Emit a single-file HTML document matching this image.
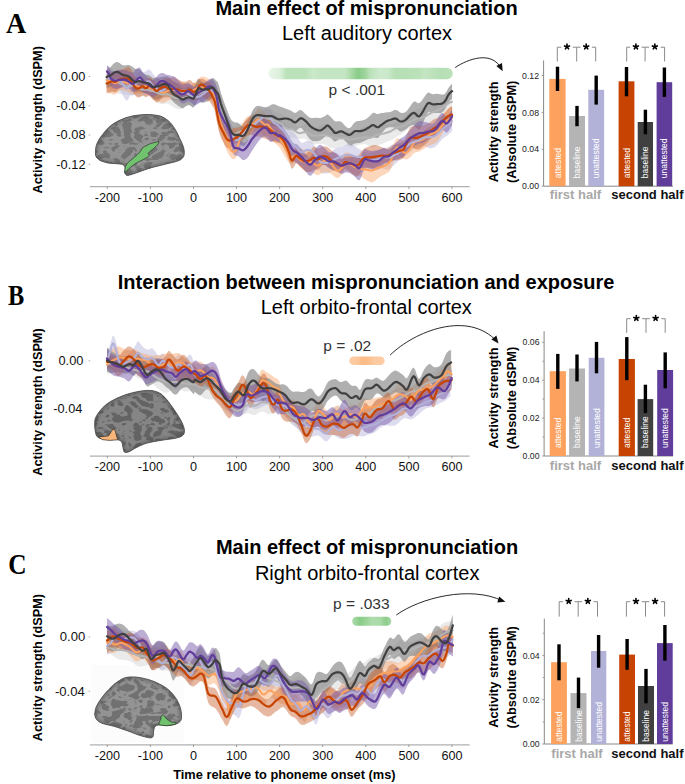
<!DOCTYPE html><html><head><meta charset="utf-8"><style>html,body{margin:0;padding:0;background:#fff;overflow:hidden}svg{display:block}</style></head><body><svg width="685" height="784" viewBox="0 0 685 784">
<defs>
<filter id="brainTex" x="0" y="0" width="100%" height="100%">
  <feTurbulence type="turbulence" baseFrequency="0.09 0.13" numOctaves="2" seed="3" result="n"/>
  <feColorMatrix in="n" type="matrix" values="0 0 0 0 0  0 0 0 0 0  0 0 0 0 0  0 0 0 -8 2.6" result="m"/>
  <feFlood flood-color="#939393" result="f"/>
  <feComposite in="f" in2="m" operator="in" result="spots"/>
  <feComposite in="spots" in2="SourceGraphic" operator="in"/>
</filter>
<filter id="brainTexB" x="0" y="0" width="100%" height="100%">
  <feTurbulence type="turbulence" baseFrequency="0.09 0.13" numOctaves="2" seed="11" result="n"/>
  <feColorMatrix in="n" type="matrix" values="0 0 0 0 0  0 0 0 0 0  0 0 0 0 0  0 0 0 -8 2.6" result="m"/>
  <feFlood flood-color="#858585" result="f"/>
  <feComposite in="f" in2="m" operator="in" result="spots"/>
  <feComposite in="spots" in2="SourceGraphic" operator="in"/>
</filter>
<filter id="edgeblur" x="-10%" y="-10%" width="120%" height="120%"><feGaussianBlur stdDeviation="1.5"/></filter>
<filter id="soft" x="-5%" y="-30%" width="110%" height="160%"><feGaussianBlur stdDeviation="0.7"/></filter>
</defs>
<rect width="685" height="784" fill="#fff"/>
<text transform="translate(6.0,33.0) scale(0.95,1)" font-family='"Liberation Serif", serif' font-size="29.5" font-weight="bold">A</text>
<text x="366.5" y="14.8" font-family='"Liberation Sans", sans-serif' font-size="20" font-weight="bold" text-anchor="middle" fill="#000" >Main effect of mispronunciation</text>
<text x="367" y="40.4" font-family='"Liberation Sans", sans-serif' font-size="20" font-weight="normal" text-anchor="middle" fill="#000" >Left auditory cortex</text>
<text transform="translate(42.2,119.8) rotate(-90)" font-family='"Liberation Sans", sans-serif' font-size="12.7" font-weight="bold" text-anchor="middle" fill="#000">Activity strength (dSPM)</text>
<line x1="88.6" y1="76.5" x2="90.19999999999999" y2="76.5" stroke="#999" stroke-width="0.8"/>
<text x="85.5" y="80.9" font-family='"Liberation Sans", sans-serif' font-size="12.8" font-weight="normal" text-anchor="end" fill="#111" >0.00</text>
<line x1="88.6" y1="105.8" x2="90.19999999999999" y2="105.8" stroke="#999" stroke-width="0.8"/>
<text x="85.5" y="110.2" font-family='"Liberation Sans", sans-serif' font-size="12.8" font-weight="normal" text-anchor="end" fill="#111" >-0.04</text>
<line x1="88.6" y1="135.0" x2="90.19999999999999" y2="135.0" stroke="#999" stroke-width="0.8"/>
<text x="85.5" y="139.4" font-family='"Liberation Sans", sans-serif' font-size="12.8" font-weight="normal" text-anchor="end" fill="#111" >-0.08</text>
<line x1="88.6" y1="164.3" x2="90.19999999999999" y2="164.3" stroke="#999" stroke-width="0.8"/>
<text x="85.5" y="168.7" font-family='"Liberation Sans", sans-serif' font-size="12.8" font-weight="normal" text-anchor="end" fill="#111" >-0.12</text>
<line x1="90" y1="186.7" x2="469.6" y2="186.7" stroke="#b0b0b0" stroke-width="1.3"/>
<line x1="107.3" y1="186.7" x2="107.3" y2="188.89999999999998" stroke="#888" stroke-width="0.8"/>
<text x="107.3" y="201.5" font-family='"Liberation Sans", sans-serif' font-size="12.6" font-weight="normal" text-anchor="middle" fill="#111" >-200</text>
<line x1="150.4" y1="186.7" x2="150.4" y2="188.89999999999998" stroke="#888" stroke-width="0.8"/>
<text x="150.4" y="201.5" font-family='"Liberation Sans", sans-serif' font-size="12.6" font-weight="normal" text-anchor="middle" fill="#111" >-100</text>
<line x1="193.5" y1="186.7" x2="193.5" y2="188.89999999999998" stroke="#888" stroke-width="0.8"/>
<text x="193.5" y="201.5" font-family='"Liberation Sans", sans-serif' font-size="12.6" font-weight="normal" text-anchor="middle" fill="#111" >0</text>
<line x1="236.5" y1="186.7" x2="236.5" y2="188.89999999999998" stroke="#888" stroke-width="0.8"/>
<text x="236.5" y="201.5" font-family='"Liberation Sans", sans-serif' font-size="12.6" font-weight="normal" text-anchor="middle" fill="#111" >100</text>
<line x1="279.6" y1="186.7" x2="279.6" y2="188.89999999999998" stroke="#888" stroke-width="0.8"/>
<text x="279.6" y="201.5" font-family='"Liberation Sans", sans-serif' font-size="12.6" font-weight="normal" text-anchor="middle" fill="#111" >200</text>
<line x1="322.7" y1="186.7" x2="322.7" y2="188.89999999999998" stroke="#888" stroke-width="0.8"/>
<text x="322.7" y="201.5" font-family='"Liberation Sans", sans-serif' font-size="12.6" font-weight="normal" text-anchor="middle" fill="#111" >300</text>
<line x1="365.8" y1="186.7" x2="365.8" y2="188.89999999999998" stroke="#888" stroke-width="0.8"/>
<text x="365.8" y="201.5" font-family='"Liberation Sans", sans-serif' font-size="12.6" font-weight="normal" text-anchor="middle" fill="#111" >400</text>
<line x1="408.9" y1="186.7" x2="408.9" y2="188.89999999999998" stroke="#888" stroke-width="0.8"/>
<text x="408.9" y="201.5" font-family='"Liberation Sans", sans-serif' font-size="12.6" font-weight="normal" text-anchor="middle" fill="#111" >500</text>
<line x1="451.9" y1="186.7" x2="451.9" y2="188.89999999999998" stroke="#888" stroke-width="0.8"/>
<text x="451.9" y="201.5" font-family='"Liberation Sans", sans-serif' font-size="12.6" font-weight="normal" text-anchor="middle" fill="#111" >600</text>
<defs><clipPath id="bc1"><path d="M95.4,153 C95.5,148 96,146 97,143.4 C99,139 100.5,137 102.7,134.5 C105,131 108,128 110.7,125.7 C114,123 118,121 121.9,119.3 C127,117 132,116 136.4,115.3 C141,114.6 145,114.4 149.2,114.5 C153,114.7 157,115.2 160.5,116.1 C164,117.5 166,119 168.5,120.9 C171,123 173,126 174.9,128.9 C177,132 178.5,135.5 179.7,138.5 C181.5,142 183,145 183.8,148.2 C184.5,151 184.5,154 183.8,156.2 C182.5,158.5 181,159.5 179.7,160.2 C176,161.8 172,162.6 168.5,163.4 C163,164.8 157,166.2 152.4,167.4 C147,168.8 142,170.8 138,172.3 C134,173.8 130,175 127.6,175.5 C126,175.5 125,174 124.8,172.3 C124.5,170.5 125.5,168.8 125.1,167.4 C124.5,165.5 123.5,164.6 121.9,164.2 C118,163.6 114,163.6 110.7,163.4 C107,163 104,162 101.1,161 C99,160 97.3,158.5 96.2,157 C95.6,155.8 95.4,154.5 95.4,153Z"/></clipPath></defs>
<path d="M95.4,153 C95.5,148 96,146 97,143.4 C99,139 100.5,137 102.7,134.5 C105,131 108,128 110.7,125.7 C114,123 118,121 121.9,119.3 C127,117 132,116 136.4,115.3 C141,114.6 145,114.4 149.2,114.5 C153,114.7 157,115.2 160.5,116.1 C164,117.5 166,119 168.5,120.9 C171,123 173,126 174.9,128.9 C177,132 178.5,135.5 179.7,138.5 C181.5,142 183,145 183.8,148.2 C184.5,151 184.5,154 183.8,156.2 C182.5,158.5 181,159.5 179.7,160.2 C176,161.8 172,162.6 168.5,163.4 C163,164.8 157,166.2 152.4,167.4 C147,168.8 142,170.8 138,172.3 C134,173.8 130,175 127.6,175.5 C126,175.5 125,174 124.8,172.3 C124.5,170.5 125.5,168.8 125.1,167.4 C124.5,165.5 123.5,164.6 121.9,164.2 C118,163.6 114,163.6 110.7,163.4 C107,163 104,162 101.1,161 C99,160 97.3,158.5 96.2,157 C95.6,155.8 95.4,154.5 95.4,153Z" fill="#747474"/>
<path d="M95.4,153 C95.5,148 96,146 97,143.4 C99,139 100.5,137 102.7,134.5 C105,131 108,128 110.7,125.7 C114,123 118,121 121.9,119.3 C127,117 132,116 136.4,115.3 C141,114.6 145,114.4 149.2,114.5 C153,114.7 157,115.2 160.5,116.1 C164,117.5 166,119 168.5,120.9 C171,123 173,126 174.9,128.9 C177,132 178.5,135.5 179.7,138.5 C181.5,142 183,145 183.8,148.2 C184.5,151 184.5,154 183.8,156.2 C182.5,158.5 181,159.5 179.7,160.2 C176,161.8 172,162.6 168.5,163.4 C163,164.8 157,166.2 152.4,167.4 C147,168.8 142,170.8 138,172.3 C134,173.8 130,175 127.6,175.5 C126,175.5 125,174 124.8,172.3 C124.5,170.5 125.5,168.8 125.1,167.4 C124.5,165.5 123.5,164.6 121.9,164.2 C118,163.6 114,163.6 110.7,163.4 C107,163 104,162 101.1,161 C99,160 97.3,158.5 96.2,157 C95.6,155.8 95.4,154.5 95.4,153Z" fill="#fff" filter="url(#brainTex)"/>
<g clip-path="url(#bc1)"><path d="M95.4,153 C95.5,148 96,146 97,143.4 C99,139 100.5,137 102.7,134.5 C105,131 108,128 110.7,125.7 C114,123 118,121 121.9,119.3 C127,117 132,116 136.4,115.3 C141,114.6 145,114.4 149.2,114.5 C153,114.7 157,115.2 160.5,116.1 C164,117.5 166,119 168.5,120.9 C171,123 173,126 174.9,128.9 C177,132 178.5,135.5 179.7,138.5 C181.5,142 183,145 183.8,148.2 C184.5,151 184.5,154 183.8,156.2 C182.5,158.5 181,159.5 179.7,160.2 C176,161.8 172,162.6 168.5,163.4 C163,164.8 157,166.2 152.4,167.4 C147,168.8 142,170.8 138,172.3 C134,173.8 130,175 127.6,175.5 C126,175.5 125,174 124.8,172.3 C124.5,170.5 125.5,168.8 125.1,167.4 C124.5,165.5 123.5,164.6 121.9,164.2 C118,163.6 114,163.6 110.7,163.4 C107,163 104,162 101.1,161 C99,160 97.3,158.5 96.2,157 C95.6,155.8 95.4,154.5 95.4,153Z" fill="none" stroke="#3c3c3c" stroke-width="5" opacity="0.35" filter="url(#edgeblur)"/></g>
<path d="M95.4,153 C95.5,148 96,146 97,143.4 C99,139 100.5,137 102.7,134.5 C105,131 108,128 110.7,125.7 C114,123 118,121 121.9,119.3 C127,117 132,116 136.4,115.3 C141,114.6 145,114.4 149.2,114.5 C153,114.7 157,115.2 160.5,116.1 C164,117.5 166,119 168.5,120.9 C171,123 173,126 174.9,128.9 C177,132 178.5,135.5 179.7,138.5 C181.5,142 183,145 183.8,148.2 C184.5,151 184.5,154 183.8,156.2 C182.5,158.5 181,159.5 179.7,160.2 C176,161.8 172,162.6 168.5,163.4 C163,164.8 157,166.2 152.4,167.4 C147,168.8 142,170.8 138,172.3 C134,173.8 130,175 127.6,175.5 C126,175.5 125,174 124.8,172.3 C124.5,170.5 125.5,168.8 125.1,167.4 C124.5,165.5 123.5,164.6 121.9,164.2 C118,163.6 114,163.6 110.7,163.4 C107,163 104,162 101.1,161 C99,160 97.3,158.5 96.2,157 C95.6,155.8 95.4,154.5 95.4,153Z" fill="none" stroke="#4d4d4d" stroke-width="1.0" opacity="0.8"/>
<path d="M124.6,172.5 L125.3,166.7 L127.5,163 L132.6,158.6 L137.7,154.2 L139.9,152.1 L142.1,148.4 L144.3,146.6 L146.1,145.9 L149.4,144 L153,142.9 L157.4,141.8 L158.9,141.5 L158.5,143.3 L156.7,145.5 L153.8,148.4 L150.1,151.3 L147.9,153.5 L149.4,155 L148.3,156.8 L143.5,159.4 L137.7,162.3 L132.6,165.6 L129,168.5 L126,171.8Z" fill="#70c26e" stroke="#222" stroke-width="0.6"/>
<path d="M106.6,72.5 L107.4,73.2 L108.6,74.0 L110.0,74.6 L111.4,74.7 L112.8,74.6 L114.1,74.3 L115.5,74.0 L117.0,73.7 L118.4,73.6 L119.8,73.6 L121.2,73.7 L122.6,73.9 L124.0,74.3 L125.4,74.9 L126.8,75.6 L128.2,76.2 L129.6,76.7 L131.0,76.9 L132.4,76.9 L133.8,77.1 L135.2,77.4 L136.6,77.9 L138.0,78.6 L139.4,79.3 L140.8,79.9 L142.2,80.3 L143.6,80.8 L145.0,81.3 L146.4,82.0 L147.8,82.8 L149.2,83.8 L150.6,84.6 L152.0,85.3 L153.4,85.7 L154.8,85.9 L156.2,86.1 L157.6,86.2 L159.0,86.2 L160.4,86.1 L161.8,85.9 L163.2,85.4 L164.5,85.0 L165.9,84.8 L167.3,85.0 L168.8,85.6 L170.4,86.5 L172.2,87.6 L173.9,88.2 L175.7,88.4 L177.5,88.3 L179.3,88.0 L181.0,87.7 L182.8,87.4 L184.5,87.2 L186.3,87.4 L188.0,88.0 L189.8,88.9 L191.5,89.8 L193.3,90.1 L195.0,89.7 L196.8,88.6 L198.6,87.1 L200.4,85.7 L202.2,84.6 L203.8,83.8 L205.3,83.4 L206.8,83.1 L208.2,83.2 L209.5,83.6 L210.8,84.1 L212.0,84.7 L213.1,85.1 L214.1,85.5 L215.1,85.9 L216.0,86.5 L216.9,87.4 L217.6,88.7 L218.4,90.4 L219.2,92.2 L220.0,94.1 L220.9,96.1 L221.9,98.4 L222.9,101.0 L223.9,103.7 L225.0,106.8 L226.2,110.3 L227.5,114.5 L228.8,118.6 L230.1,122.4 L231.3,125.1 L232.4,126.5 L233.5,126.9 L234.5,126.6 L235.6,125.9 L236.7,125.2 L238.0,124.5 L239.3,123.8 L240.7,123.2 L242.0,122.9 L243.2,122.6 L244.2,122.3 L245.1,121.8 L245.9,121.2 L246.7,120.5 L247.5,119.8 L248.4,118.9 L249.2,117.9 L250.1,116.8 L250.9,115.8 L251.8,114.8 L252.7,113.9 L253.6,112.9 L254.4,111.9 L255.3,110.9 L256.2,110.0 L257.1,109.2 L257.9,108.5 L258.8,107.8 L259.6,107.3 L260.5,106.9 L261.4,106.7 L262.2,106.6 L263.1,106.7 L263.9,106.9 L264.8,107.2 L265.7,107.5 L266.6,107.8 L267.4,108.1 L268.3,108.4 L269.2,108.6 L270.1,109.0 L270.9,109.4 L271.8,109.9 L272.6,110.4 L273.5,110.9 L274.4,111.4 L275.2,111.8 L276.1,112.1 L276.9,112.4 L277.8,112.7 L278.7,112.9 L279.6,113.1 L280.4,113.4 L281.3,113.7 L282.2,114.2 L283.0,115.0 L283.8,116.0 L284.6,117.1 L285.5,118.2 L286.5,119.2 L287.7,120.1 L288.9,120.8 L290.3,121.6 L291.7,122.4 L293.0,123.4 L294.3,124.5 L295.6,125.6 L296.9,126.4 L298.2,126.8 L299.5,126.7 L300.8,126.1 L302.1,125.2 L303.4,124.4 L304.7,123.9 L306.0,123.7 L307.3,124.1 L308.6,124.9 L309.9,125.7 L311.2,126.5 L312.5,127.1 L313.8,127.3 L315.1,127.2 L316.4,126.9 L317.7,126.3 L319.0,125.6 L320.3,125.0 L321.6,124.3 L322.9,123.8 L324.2,123.6 L325.5,123.9 L326.8,124.5 L328.1,125.4 L329.4,126.4 L330.7,127.5 L332.0,128.4 L333.3,129.3 L334.6,130.1 L335.9,130.7 L337.2,131.1 L338.5,131.3 L339.7,131.3 L340.8,131.2 L342.0,130.9 L343.3,130.7 L345.0,130.6 L347.0,131.1 L349.4,132.2 L351.9,132.8 L354.4,132.3 L357.0,131.2 L359.5,129.7 L362.0,128.1 L364.6,126.7 L367.3,126.5 L370.0,127.1 L372.9,127.1 L375.9,126.3 L378.9,125.5 L382.0,125.0 L385.0,124.3 L388.0,124.1 L390.9,124.3 L393.9,123.5 L396.9,121.9 L400.0,120.2 L403.3,117.9 L406.7,114.6 L410.2,112.1 L413.5,110.7 L416.5,109.3 L419.1,108.3 L421.5,107.6 L423.6,106.7 L425.8,105.5 L428.0,104.5 L430.3,104.1 L432.5,104.5 L434.8,104.7 L437.0,104.3 L439.4,103.2 L442.0,101.3 L445.0,98.6 L447.8,95.8 L450.3,94.3 L452.0,93.9 L452.0,108.1 L450.3,109.0 L447.8,111.5 L445.0,115.3 L442.0,118.4 L439.4,120.2 L437.0,121.3 L434.8,121.9 L432.5,122.1 L430.3,122.5 L428.0,123.6 L425.8,125.3 L423.6,126.6 L421.5,127.1 L419.1,127.1 L416.5,127.0 L413.5,127.2 L410.2,127.8 L406.7,129.7 L403.3,132.8 L400.0,134.9 L396.9,136.6 L393.9,138.7 L390.9,140.3 L388.0,141.3 L385.0,142.5 L382.0,144.0 L378.9,145.1 L375.9,146.2 L372.9,147.1 L370.0,146.6 L367.3,145.1 L364.6,144.1 L362.0,144.2 L359.5,144.8 L357.0,145.6 L354.4,146.6 L351.9,147.2 L349.4,146.8 L347.0,145.8 L345.0,145.3 L343.3,145.4 L342.0,145.8 L340.8,146.3 L339.7,146.8 L338.5,147.3 L337.2,147.7 L335.9,148.1 L334.6,148.3 L333.3,148.4 L332.0,148.3 L330.7,148.0 L329.4,147.5 L328.1,146.7 L326.8,145.8 L325.5,145.0 L324.2,144.3 L322.9,143.9 L321.6,143.7 L320.3,143.7 L319.0,143.8 L317.7,143.9 L316.4,144.2 L315.1,144.3 L313.8,144.3 L312.5,144.0 L311.2,143.4 L309.9,142.5 L308.6,141.4 L307.3,140.3 L306.0,139.3 L304.7,138.7 L303.4,138.5 L302.1,138.6 L300.8,138.8 L299.5,138.9 L298.2,138.9 L296.9,138.6 L295.6,138.2 L294.3,137.9 L293.0,137.7 L291.7,137.9 L290.3,138.3 L288.9,138.7 L287.7,138.8 L286.5,138.5 L285.5,137.9 L284.6,136.9 L283.8,135.9 L283.0,134.8 L282.2,134.0 L281.3,133.3 L280.4,132.8 L279.6,132.3 L278.7,131.9 L277.8,131.6 L276.9,131.2 L276.1,131.0 L275.2,130.7 L274.4,130.5 L273.5,130.3 L272.6,130.0 L271.8,129.8 L270.9,129.6 L270.1,129.4 L269.2,129.3 L268.3,129.1 L267.4,128.8 L266.6,128.3 L265.7,127.7 L264.8,127.0 L263.9,126.1 L263.1,125.2 L262.2,124.3 L261.4,123.5 L260.5,122.8 L259.6,122.4 L258.8,122.1 L257.9,122.0 L257.1,122.1 L256.2,122.4 L255.3,123.0 L254.4,123.8 L253.6,124.8 L252.7,125.9 L251.8,127.2 L250.9,128.6 L250.1,130.1 L249.2,131.7 L248.4,133.2 L247.5,134.6 L246.7,135.9 L245.9,136.9 L245.1,137.8 L244.2,138.6 L243.2,139.0 L242.0,139.3 L240.7,139.5 L239.3,139.8 L238.0,140.4 L236.7,141.0 L235.6,141.9 L234.5,143.0 L233.5,143.8 L232.4,144.1 L231.3,143.5 L230.1,141.8 L228.8,139.2 L227.5,136.0 L226.2,132.6 L225.0,129.4 L223.9,126.5 L222.9,123.5 L221.9,120.5 L220.9,117.6 L220.0,114.9 L219.2,112.2 L218.4,109.7 L217.6,107.4 L216.9,105.3 L216.0,103.6 L215.1,102.3 L214.1,101.2 L213.1,100.4 L212.0,99.6 L210.8,99.0 L209.5,98.5 L208.2,98.3 L206.8,98.5 L205.3,99.0 L203.8,99.5 L202.2,100.0 L200.4,100.5 L198.6,101.0 L196.8,101.7 L195.0,102.3 L193.3,102.8 L191.5,103.2 L189.8,103.5 L188.0,104.2 L186.3,105.4 L184.5,106.8 L182.8,108.1 L181.0,109.0 L179.3,109.2 L177.5,109.0 L175.7,108.4 L173.9,107.4 L172.2,106.2 L170.4,104.9 L168.8,104.0 L167.3,103.6 L165.9,103.6 L164.5,103.8 L163.2,104.1 L161.8,104.2 L160.4,103.9 L159.0,103.2 L157.6,102.1 L156.2,100.9 L154.8,99.8 L153.4,98.7 L152.0,97.7 L150.6,96.9 L149.2,96.1 L147.8,95.7 L146.4,95.5 L145.0,95.6 L143.6,96.0 L142.2,96.4 L140.8,96.7 L139.4,96.6 L138.0,96.2 L136.6,95.7 L135.2,95.2 L133.8,95.0 L132.4,94.9 L131.0,95.0 L129.6,95.1 L128.2,95.1 L126.8,94.9 L125.4,94.7 L124.0,94.6 L122.6,94.5 L121.2,94.3 L119.8,94.1 L118.4,93.7 L117.0,93.2 L115.5,92.7 L114.1,92.1 L112.8,91.6 L111.4,91.0 L110.0,90.1 L108.6,89.1 L107.4,88.0 L106.6,87.1Z" fill="#BDBDBD" opacity="0.32"/>
<path d="M107.0,65.9 L107.6,66.1 L108.3,66.5 L109.2,67.1 L110.2,67.9 L111.0,68.6 L111.7,69.2 L112.4,69.7 L113.1,70.2 L113.8,70.6 L114.5,71.1 L115.2,71.4 L115.9,71.8 L116.6,72.1 L117.3,72.4 L118.0,72.8 L118.7,73.3 L119.4,73.7 L120.1,74.2 L120.8,74.8 L121.5,75.5 L122.2,76.5 L122.9,77.6 L123.7,78.8 L124.4,79.7 L125.0,80.4 L125.6,80.7 L126.1,80.9 L126.6,81.0 L127.1,80.9 L127.6,80.6 L128.1,79.9 L128.6,78.8 L129.2,77.7 L129.7,76.7 L130.3,76.1 L130.9,76.1 L131.6,76.5 L132.4,77.0 L133.1,77.3 L133.8,77.4 L134.5,77.0 L135.2,76.5 L136.0,75.7 L136.7,75.0 L137.3,74.3 L137.9,73.6 L138.4,72.8 L138.9,72.1 L139.4,71.6 L139.9,71.2 L140.4,71.2 L140.9,71.4 L141.4,71.8 L141.9,72.0 L142.5,72.2 L143.1,72.1 L143.8,72.0 L144.6,71.7 L145.3,71.4 L146.0,71.1 L146.7,70.6 L147.4,70.1 L148.1,69.6 L148.8,69.4 L149.5,69.5 L150.2,70.1 L150.9,71.0 L151.6,72.0 L152.3,73.1 L153.0,74.0 L153.7,74.8 L154.4,75.5 L155.1,76.2 L155.8,76.9 L156.5,77.7 L157.2,78.6 L157.9,79.7 L158.5,80.7 L159.2,81.7 L160.0,82.3 L160.8,82.7 L161.7,82.7 L162.6,82.5 L163.5,82.1 L164.4,81.5 L165.3,80.8 L166.2,80.0 L167.0,79.3 L167.9,78.8 L168.8,78.6 L169.7,78.8 L170.5,79.2 L171.4,79.8 L172.2,80.4 L173.1,81.0 L174.0,81.6 L174.9,82.2 L175.8,82.7 L176.7,83.3 L177.5,83.7 L178.3,84.1 L179.0,84.3 L179.6,84.5 L180.3,84.7 L181.0,84.8 L181.7,84.9 L182.4,84.9 L183.1,84.8 L183.8,84.7 L184.5,84.6 L185.2,84.3 L185.9,84.1 L186.6,84.0 L187.3,83.9 L188.0,83.9 L188.7,84.1 L189.4,84.3 L190.1,84.6 L190.8,84.9 L191.5,85.2 L192.2,85.5 L192.9,85.7 L193.6,85.9 L194.3,86.1 L195.0,86.2 L195.7,86.3 L196.4,86.4 L197.1,86.4 L197.8,86.5 L198.5,86.5 L199.2,86.4 L199.9,86.2 L200.6,86.0 L201.3,85.6 L202.0,85.2 L202.7,84.7 L203.4,84.1 L204.1,83.5 L204.8,82.9 L205.5,82.2 L206.2,81.6 L206.9,81.1 L207.6,80.6 L208.3,80.3 L209.0,80.1 L209.7,80.1 L210.4,80.2 L211.1,80.4 L211.8,80.8 L212.5,81.2 L213.2,81.8 L214.0,82.6 L214.8,83.4 L215.4,84.5 L216.0,85.6 L216.3,86.8 L216.5,88.0 L216.6,89.4 L216.8,91.1 L217.2,93.2 L217.9,96.1 L218.7,99.5 L219.6,103.1 L220.6,106.5 L221.5,109.2 L222.4,111.4 L223.2,113.2 L224.1,114.7 L224.9,115.9 L225.8,117.1 L226.7,118.1 L227.6,119.0 L228.5,119.8 L229.4,120.7 L230.2,121.7 L230.9,122.9 L231.6,124.1 L232.2,125.4 L232.8,126.5 L233.4,127.5 L234.0,128.4 L234.7,129.4 L235.3,130.1 L236.0,130.7 L236.7,131.0 L237.5,130.9 L238.3,130.4 L239.2,129.7 L240.1,128.7 L241.0,127.7 L241.9,126.7 L242.7,125.5 L243.6,124.2 L244.4,122.8 L245.3,121.4 L246.2,120.0 L247.1,118.7 L247.9,117.5 L248.8,116.4 L249.7,115.5 L250.6,114.9 L251.4,114.5 L252.3,114.1 L253.1,113.8 L254.0,113.5 L254.9,113.2 L255.7,112.8 L256.6,112.6 L257.4,112.4 L258.3,112.3 L259.2,112.1 L260.1,111.7 L260.9,111.3 L261.8,110.7 L262.7,110.2 L263.6,109.7 L264.5,109.2 L265.4,108.8 L266.2,108.5 L267.0,108.4 L267.7,108.4 L268.4,108.6 L269.0,108.9 L269.7,109.3 L270.3,109.8 L270.9,110.5 L271.5,111.5 L272.1,112.6 L272.8,113.6 L273.5,114.4 L274.3,115.1 L275.2,115.7 L276.2,116.3 L277.1,117.0 L277.8,117.6 L278.3,118.2 L278.7,118.7 L279.1,119.1 L279.5,119.6 L280.0,120.2 L280.7,120.9 L281.6,121.6 L282.5,122.3 L283.4,122.9 L284.3,123.5 L285.2,124.2 L286.1,125.0 L286.9,125.9 L287.8,126.8 L288.7,127.7 L289.6,128.5 L290.4,129.4 L291.3,130.2 L292.1,131.1 L293.0,131.9 L293.9,132.8 L294.7,133.8 L295.6,134.8 L296.4,136.0 L297.3,137.3 L298.2,138.6 L299.0,140.0 L299.9,141.3 L300.8,142.3 L301.7,142.9 L302.7,142.9 L303.8,142.4 L305.0,141.7 L306.1,141.2 L307.1,140.9 L308.0,140.8 L308.9,140.9 L309.7,141.2 L310.6,141.5 L311.4,141.9 L312.3,142.6 L313.2,143.6 L314.0,144.8 L314.9,146.2 L315.8,147.7 L316.7,149.3 L317.5,151.0 L318.4,152.7 L319.2,154.2 L320.1,155.3 L321.0,156.1 L321.8,156.5 L322.7,156.6 L323.5,156.6 L324.4,156.5 L325.3,156.3 L326.2,155.9 L327.0,155.4 L327.9,154.8 L328.8,154.1 L329.7,153.4 L330.5,152.6 L331.4,151.8 L332.2,151.0 L333.1,150.2 L333.9,149.4 L334.8,148.8 L335.6,148.3 L336.5,147.9 L337.4,147.6 L338.5,147.3 L339.6,147.1 L340.8,146.7 L341.9,146.4 L342.8,146.1 L343.4,145.8 L343.8,145.6 L344.1,145.4 L344.4,145.3 L345.0,145.1 L345.8,144.9 L346.7,144.6 L347.7,144.3 L348.8,144.0 L349.8,143.8 L350.8,143.9 L351.7,144.1 L352.7,144.6 L353.6,145.2 L354.7,145.9 L355.8,146.7 L357.0,147.6 L358.2,148.5 L359.5,149.3 L360.7,150.0 L361.9,150.6 L363.1,151.2 L364.4,151.8 L365.6,152.3 L366.8,152.7 L368.0,152.9 L369.2,152.9 L370.5,152.7 L371.7,152.4 L372.9,151.9 L374.1,151.5 L375.3,151.2 L376.5,150.9 L377.7,150.5 L378.9,150.2 L380.1,149.8 L381.3,149.3 L382.6,148.9 L383.8,148.5 L385.0,148.1 L386.2,147.8 L387.5,147.4 L388.7,146.8 L389.9,146.1 L391.0,145.3 L392.1,144.6 L393.0,143.9 L394.0,143.4 L394.9,143.0 L395.9,142.7 L396.9,142.6 L397.9,142.5 L398.8,142.3 L399.8,142.1 L400.7,141.8 L401.6,141.4 L402.3,141.0 L403.1,140.5 L404.0,140.1 L405.0,139.6 L406.2,139.0 L407.6,138.0 L409.0,136.7 L410.5,135.4 L411.9,134.3 L413.3,133.7 L414.7,133.5 L416.0,133.5 L417.4,133.4 L418.8,133.1 L420.2,132.5 L421.6,131.8 L422.9,131.2 L424.3,130.6 L425.7,130.0 L427.1,129.3 L428.5,128.6 L429.8,127.7 L431.2,126.7 L432.6,125.8 L434.0,124.9 L435.4,124.1 L436.8,123.3 L438.1,122.3 L439.4,121.3 L440.6,120.5 L441.7,119.6 L442.8,118.9 L444.0,118.2 L445.2,117.4 L446.6,116.3 L448.2,114.9 L449.8,113.3 L451.1,112.1 L452.1,111.4 L452.1,131.3 L451.1,132.1 L449.8,133.4 L448.2,134.7 L446.6,136.0 L445.2,136.9 L444.0,137.7 L442.8,138.6 L441.7,139.7 L440.6,140.9 L439.4,142.4 L438.1,143.9 L436.8,145.4 L435.4,146.7 L434.0,147.5 L432.6,148.1 L431.2,148.3 L429.8,148.2 L428.5,147.9 L427.1,147.3 L425.7,146.6 L424.3,146.0 L422.9,145.7 L421.6,145.8 L420.2,146.2 L418.8,146.9 L417.4,147.5 L416.0,148.1 L414.7,148.6 L413.3,149.2 L411.9,150.2 L410.5,151.5 L409.0,152.8 L407.6,154.1 L406.2,155.0 L405.0,155.7 L404.0,156.2 L403.1,156.9 L402.3,157.5 L401.6,158.2 L400.7,159.0 L399.8,159.9 L398.8,160.7 L397.9,161.6 L396.9,162.4 L395.9,163.2 L394.9,164.1 L394.0,165.0 L393.0,166.0 L392.1,167.0 L391.0,168.0 L389.9,168.8 L388.7,169.4 L387.5,169.6 L386.2,169.4 L385.0,169.1 L383.8,168.8 L382.6,168.5 L381.3,168.4 L380.1,168.3 L378.9,168.3 L377.7,168.3 L376.5,168.4 L375.3,168.4 L374.1,168.6 L372.9,168.8 L371.7,168.9 L370.5,169.0 L369.2,168.8 L368.0,168.5 L366.8,167.9 L365.6,167.2 L364.4,166.4 L363.1,165.6 L361.9,165.0 L360.7,164.5 L359.5,164.0 L358.2,163.6 L357.0,163.2 L355.8,162.8 L354.7,162.6 L353.6,162.4 L352.7,162.3 L351.7,162.3 L350.8,162.5 L349.8,162.8 L348.8,163.4 L347.7,164.1 L346.7,164.7 L345.8,165.2 L345.0,165.6 L344.4,165.8 L344.1,166.0 L343.8,166.3 L343.4,166.5 L342.8,166.9 L341.9,167.3 L340.8,167.7 L339.6,168.1 L338.5,168.4 L337.4,168.6 L336.5,168.8 L335.6,169.1 L334.8,169.5 L333.9,169.9 L333.1,170.4 L332.2,170.9 L331.4,171.5 L330.5,172.0 L329.7,172.4 L328.8,172.8 L327.9,173.2 L327.0,173.4 L326.2,173.6 L325.3,173.7 L324.4,173.6 L323.5,173.5 L322.7,173.3 L321.8,172.9 L321.0,172.4 L320.1,171.5 L319.2,170.2 L318.4,168.6 L317.5,166.8 L316.7,165.0 L315.8,163.3 L314.9,161.7 L314.0,160.2 L313.2,158.9 L312.3,157.9 L311.4,157.2 L310.6,156.7 L309.7,156.4 L308.9,156.3 L308.0,156.3 L307.1,156.5 L306.1,157.0 L305.0,158.0 L303.8,159.2 L302.7,160.2 L301.7,160.7 L300.8,160.6 L299.9,160.1 L299.0,159.3 L298.2,158.3 L297.3,157.3 L296.4,156.3 L295.6,155.3 L294.7,154.4 L293.9,153.5 L293.0,152.6 L292.1,151.6 L291.3,150.6 L290.4,149.6 L289.6,148.5 L288.7,147.4 L287.8,146.4 L286.9,145.3 L286.1,144.2 L285.2,143.3 L284.3,142.5 L283.4,141.9 L282.5,141.4 L281.6,140.8 L280.7,140.1 L280.0,139.5 L279.5,138.9 L279.1,138.4 L278.7,138.0 L278.3,137.6 L277.8,137.0 L277.1,136.2 L276.2,135.5 L275.2,134.6 L274.3,133.7 L273.5,132.8 L272.8,131.6 L272.1,130.3 L271.5,128.9 L270.9,127.5 L270.3,126.4 L269.7,125.5 L269.0,124.8 L268.4,124.1 L267.7,123.7 L267.0,123.4 L266.2,123.3 L265.4,123.4 L264.5,123.8 L263.6,124.3 L262.7,125.0 L261.8,125.9 L260.9,126.9 L260.1,127.8 L259.2,128.7 L258.3,129.4 L257.4,130.0 L256.6,130.6 L255.7,131.3 L254.9,131.9 L254.0,132.4 L253.1,132.8 L252.3,133.1 L251.4,133.4 L250.6,133.6 L249.7,134.1 L248.8,134.7 L247.9,135.5 L247.1,136.5 L246.2,137.7 L245.3,138.9 L244.4,140.3 L243.6,141.8 L242.7,143.3 L241.9,144.8 L241.0,146.2 L240.1,147.6 L239.2,149.0 L238.3,150.2 L237.5,151.1 L236.7,151.6 L236.0,151.5 L235.3,151.1 L234.7,150.4 L234.0,149.5 L233.4,148.6 L232.8,147.4 L232.2,146.1 L231.6,144.6 L230.9,143.0 L230.2,141.5 L229.4,139.9 L228.5,138.4 L227.6,136.9 L226.7,135.3 L225.8,133.8 L224.9,132.1 L224.1,130.5 L223.2,128.8 L222.4,126.9 L221.5,124.8 L220.6,122.2 L219.6,119.2 L218.7,116.1 L217.9,113.1 L217.2,110.6 L216.8,108.6 L216.6,107.0 L216.5,105.7 L216.3,104.6 L216.0,103.6 L215.4,102.7 L214.8,101.9 L214.0,101.3 L213.2,100.7 L212.5,100.2 L211.8,99.7 L211.1,99.3 L210.4,98.9 L209.7,98.5 L209.0,98.2 L208.3,98.0 L207.6,98.0 L206.9,98.1 L206.2,98.3 L205.5,98.6 L204.8,99.0 L204.1,99.4 L203.4,99.9 L202.7,100.4 L202.0,100.9 L201.3,101.5 L200.6,102.1 L199.9,102.6 L199.2,103.2 L198.5,103.7 L197.8,104.2 L197.1,104.6 L196.4,105.1 L195.7,105.5 L195.0,105.9 L194.3,106.1 L193.6,106.3 L192.9,106.3 L192.2,106.2 L191.5,106.0 L190.8,105.6 L190.1,105.2 L189.4,104.6 L188.7,104.1 L188.0,103.6 L187.3,103.1 L186.6,102.7 L185.9,102.4 L185.2,102.1 L184.5,101.9 L183.8,101.7 L183.1,101.5 L182.4,101.2 L181.7,101.1 L181.0,100.9 L180.3,100.8 L179.6,100.8 L179.0,100.8 L178.3,100.8 L177.5,100.8 L176.7,100.8 L175.8,100.8 L174.9,100.8 L174.0,100.7 L173.1,100.5 L172.2,100.2 L171.4,99.8 L170.5,99.2 L169.7,98.7 L168.8,98.2 L167.9,98.0 L167.0,98.1 L166.2,98.3 L165.3,98.5 L164.4,98.7 L163.5,98.7 L162.6,98.8 L161.7,98.7 L160.8,98.5 L160.0,98.2 L159.2,97.6 L158.5,96.8 L157.9,96.0 L157.2,95.3 L156.5,94.8 L155.8,94.4 L155.1,94.1 L154.4,93.9 L153.7,93.6 L153.0,93.2 L152.3,92.6 L151.6,91.8 L150.9,90.9 L150.2,90.1 L149.5,89.5 L148.8,89.3 L148.1,89.4 L147.4,89.6 L146.7,89.8 L146.0,89.9 L145.3,89.8 L144.6,89.6 L143.8,89.4 L143.1,89.1 L142.5,88.8 L141.9,88.4 L141.4,87.9 L140.9,87.4 L140.4,87.0 L139.9,87.0 L139.4,87.2 L138.9,87.8 L138.4,88.6 L137.9,89.4 L137.3,90.3 L136.7,91.2 L136.0,92.3 L135.2,93.4 L134.5,94.4 L133.8,95.1 L133.1,95.5 L132.4,95.5 L131.6,95.4 L130.9,95.3 L130.3,95.6 L129.7,96.3 L129.2,97.3 L128.6,98.5 L128.1,99.5 L127.6,100.2 L127.1,100.4 L126.6,100.4 L126.1,100.2 L125.6,99.8 L125.0,99.2 L124.4,98.2 L123.7,97.0 L122.9,95.5 L122.2,94.0 L121.5,92.8 L120.8,91.9 L120.1,91.1 L119.4,90.5 L118.7,90.1 L118.0,89.7 L117.3,89.4 L116.6,89.3 L115.9,89.2 L115.2,89.2 L114.5,89.2 L113.8,89.1 L113.1,89.0 L112.4,88.9 L111.7,88.7 L111.0,88.4 L110.2,88.0 L109.2,87.5 L108.3,86.9 L107.6,86.5 L107.0,86.2Z" fill="#B4B2DA" opacity="0.45"/>
<path d="M106.6,69.9 L107.2,70.2 L108.0,70.5 L109.0,70.9 L110.0,71.3 L111.0,71.7 L111.9,72.1 L112.8,72.6 L113.6,72.9 L114.5,73.0 L115.4,72.8 L116.3,72.3 L117.2,71.6 L118.1,70.8 L119.0,70.2 L119.8,69.8 L120.6,69.7 L121.3,70.0 L121.9,70.4 L122.6,70.8 L123.3,71.3 L124.0,71.8 L124.7,72.3 L125.4,72.8 L126.1,73.3 L126.8,73.8 L127.5,74.5 L128.2,75.2 L128.9,75.9 L129.6,76.6 L130.3,77.3 L131.0,77.9 L131.7,78.4 L132.4,78.7 L133.1,79.0 L133.8,79.2 L134.5,79.3 L135.2,79.4 L135.9,79.5 L136.6,79.4 L137.3,79.4 L138.0,79.3 L138.7,79.2 L139.4,79.2 L140.1,79.2 L140.8,79.2 L141.5,78.9 L142.2,78.6 L142.9,78.1 L143.6,77.8 L144.3,77.6 L145.0,77.6 L145.7,77.7 L146.4,78.0 L147.1,78.3 L147.8,78.6 L148.5,79.0 L149.2,79.4 L149.9,79.8 L150.6,80.2 L151.3,80.4 L152.0,80.7 L152.7,80.8 L153.4,80.8 L154.1,80.8 L154.8,80.6 L155.5,80.2 L156.2,79.8 L156.9,79.3 L157.6,79.1 L158.3,79.0 L159.0,79.1 L159.7,79.5 L160.4,79.9 L161.1,80.3 L161.8,80.5 L162.5,80.6 L163.1,80.7 L163.8,80.7 L164.5,80.6 L165.3,80.6 L166.2,80.4 L167.3,80.2 L168.3,80.0 L169.4,79.9 L170.5,80.1 L171.6,80.4 L172.6,81.0 L173.7,81.6 L174.7,82.1 L175.8,82.6 L176.8,82.8 L177.9,82.9 L178.9,82.8 L180.0,82.7 L181.0,82.5 L182.1,82.4 L183.2,82.4 L184.2,82.5 L185.3,82.8 L186.3,83.2 L187.2,83.8 L188.1,84.6 L188.9,85.2 L189.7,85.6 L190.6,85.7 L191.5,85.3 L192.4,84.5 L193.3,83.6 L194.2,82.7 L195.0,82.0 L195.8,81.3 L196.5,80.5 L197.1,79.8 L197.8,79.0 L198.5,78.4 L199.2,77.9 L199.9,77.5 L200.5,77.3 L201.2,77.0 L202.0,76.8 L202.8,76.6 L203.7,76.6 L204.6,76.8 L205.5,77.1 L206.4,77.6 L207.3,78.0 L208.2,78.4 L209.1,78.9 L210.0,79.4 L210.8,80.2 L211.6,81.1 L212.3,82.1 L213.1,83.3 L213.7,84.6 L214.3,86.1 L214.7,87.9 L215.0,89.8 L215.3,92.0 L215.6,94.3 L216.1,96.9 L216.8,99.8 L217.6,102.9 L218.6,106.1 L219.5,109.1 L220.4,112.0 L221.3,114.8 L222.2,117.7 L223.1,120.7 L224.0,123.6 L224.8,126.4 L225.5,128.8 L226.2,130.9 L226.8,132.9 L227.4,134.7 L228.0,136.5 L228.7,138.2 L229.3,139.9 L230.0,141.4 L230.6,142.8 L231.3,144.0 L231.9,144.8 L232.6,145.5 L233.2,145.9 L233.9,145.9 L234.5,145.6 L235.2,145.0 L235.8,144.0 L236.5,142.6 L237.1,141.0 L237.8,139.1 L238.4,136.9 L239.1,134.5 L239.7,131.9 L240.4,129.5 L241.0,127.3 L241.7,125.5 L242.3,123.9 L243.0,122.5 L243.6,121.2 L244.3,120.1 L244.9,119.1 L245.6,118.3 L246.2,117.7 L246.9,117.1 L247.5,116.6 L248.1,116.2 L248.8,115.9 L249.4,115.7 L250.1,115.5 L250.8,115.3 L251.6,115.0 L252.5,114.6 L253.4,114.1 L254.3,113.3 L255.1,112.5 L255.8,111.6 L256.5,110.6 L257.1,109.7 L257.7,109.0 L258.3,108.6 L259.0,108.5 L259.6,108.8 L260.3,109.3 L260.9,109.9 L261.6,110.4 L262.2,110.9 L262.9,111.5 L263.5,112.1 L264.2,112.6 L264.8,113.0 L265.5,113.3 L266.1,113.4 L266.8,113.5 L267.4,113.8 L268.1,114.5 L268.7,115.4 L269.3,116.6 L269.9,117.9 L270.6,119.3 L271.3,120.7 L272.1,122.1 L273.0,123.7 L273.9,125.2 L274.8,126.5 L275.7,127.5 L276.6,128.3 L277.4,128.9 L278.3,129.5 L279.1,130.2 L280.0,131.1 L280.9,132.2 L281.7,133.5 L282.6,134.9 L283.4,136.3 L284.3,137.8 L285.2,139.4 L286.1,141.3 L287.0,143.2 L287.9,145.1 L288.7,146.6 L289.4,147.6 L290.0,148.5 L290.6,149.0 L291.2,149.3 L291.9,149.5 L292.7,149.2 L293.6,148.7 L294.5,148.1 L295.4,147.6 L296.3,147.5 L297.1,147.8 L298.0,148.4 L298.8,149.0 L299.7,149.5 L300.6,149.7 L301.6,149.7 L302.7,149.6 L303.8,149.5 L304.9,149.6 L306.0,149.9 L307.1,150.2 L308.2,150.6 L309.2,150.9 L310.3,151.3 L311.4,151.9 L312.5,152.7 L313.6,153.9 L314.7,155.1 L315.8,156.2 L316.8,156.8 L317.7,156.9 L318.6,156.5 L319.5,155.9 L320.3,155.1 L321.2,154.3 L322.1,153.6 L322.9,152.9 L323.8,152.3 L324.6,151.9 L325.5,151.9 L326.4,152.1 L327.2,152.6 L328.1,153.3 L328.9,154.1 L329.8,155.0 L330.7,156.1 L331.6,157.4 L332.4,158.8 L333.3,160.2 L334.2,161.4 L335.1,162.5 L335.9,163.4 L336.8,163.9 L337.6,164.0 L338.5,163.7 L339.4,162.7 L340.3,161.4 L341.2,159.9 L342.1,158.5 L342.8,157.3 L343.3,156.3 L343.6,155.3 L343.9,154.4 L344.3,153.6 L345.0,152.9 L346.1,152.5 L347.6,152.4 L349.1,152.9 L350.8,153.9 L352.3,155.1 L353.8,156.2 L355.2,157.1 L356.7,157.6 L358.1,157.7 L359.5,157.8 L360.8,158.0 L362.0,158.2 L363.2,158.4 L364.4,158.7 L365.6,159.1 L366.8,159.5 L368.0,160.2 L369.2,161.0 L370.4,161.9 L371.6,162.7 L372.8,163.2 L374.0,163.3 L375.3,163.0 L376.5,162.4 L377.7,161.8 L378.9,161.2 L380.1,160.6 L381.4,159.9 L382.6,159.1 L383.8,158.1 L385.0,157.0 L386.2,156.1 L387.4,155.2 L388.6,154.2 L389.8,152.9 L391.1,150.8 L392.4,147.8 L393.6,144.5 L394.8,141.6 L395.9,139.5 L396.7,138.5 L397.4,138.2 L398.0,138.3 L398.7,138.7 L399.5,139.0 L400.5,139.4 L401.6,139.9 L402.8,140.5 L403.9,140.9 L405.0,141.0 L406.0,140.8 L406.9,140.4 L407.8,139.8 L408.7,139.1 L409.6,138.4 L410.5,137.6 L411.4,136.6 L412.4,135.5 L413.3,134.6 L414.2,134.0 L415.1,133.7 L416.0,133.6 L417.0,133.6 L417.9,133.6 L418.8,133.5 L419.7,133.2 L420.6,132.9 L421.6,132.4 L422.5,131.9 L423.4,131.3 L424.3,130.6 L425.2,129.9 L426.2,129.2 L427.1,128.6 L428.0,128.0 L428.9,127.6 L429.8,127.2 L430.8,127.0 L431.7,126.7 L432.6,126.5 L433.5,126.2 L434.4,125.9 L435.4,125.5 L436.3,124.9 L437.2,124.2 L438.1,123.1 L439.0,121.8 L439.9,120.3 L440.8,118.7 L441.7,117.0 L442.6,115.5 L443.5,114.0 L444.4,112.5 L445.3,111.2 L446.3,109.9 L447.5,108.7 L448.8,107.7 L450.1,107.1 L451.3,106.9 L452.1,106.9 L452.1,124.8 L451.3,124.8 L450.1,125.0 L448.8,125.7 L447.5,126.7 L446.3,127.9 L445.3,129.1 L444.4,130.4 L443.5,131.8 L442.6,133.3 L441.7,134.8 L440.8,136.4 L439.9,138.0 L439.0,139.5 L438.1,140.8 L437.2,141.9 L436.3,142.7 L435.4,143.3 L434.4,143.8 L433.5,144.1 L432.6,144.5 L431.7,144.8 L430.8,145.1 L429.8,145.4 L428.9,145.7 L428.0,146.1 L427.1,146.7 L426.2,147.3 L425.2,147.9 L424.3,148.6 L423.4,149.2 L422.5,149.8 L421.6,150.3 L420.6,150.8 L419.7,151.2 L418.8,151.6 L417.9,151.9 L417.0,152.1 L416.0,152.2 L415.1,152.5 L414.2,153.0 L413.3,153.8 L412.4,154.8 L411.4,156.0 L410.5,157.0 L409.6,157.8 L408.7,158.4 L407.8,158.9 L406.9,159.3 L406.0,159.4 L405.0,159.3 L403.9,158.8 L402.8,158.0 L401.6,157.1 L400.5,156.3 L399.5,155.8 L398.7,155.4 L398.0,155.0 L397.4,154.9 L396.7,155.3 L395.9,156.4 L394.8,158.7 L393.6,161.9 L392.4,165.5 L391.1,168.6 L389.8,170.8 L388.6,172.1 L387.4,173.0 L386.2,173.6 L385.0,174.2 L383.8,174.9 L382.6,175.6 L381.4,176.2 L380.1,176.8 L378.9,177.5 L377.7,178.4 L376.5,179.5 L375.3,180.6 L374.0,181.6 L372.8,182.3 L371.6,182.5 L370.4,182.3 L369.2,181.8 L368.0,181.1 L366.8,180.4 L365.6,179.7 L364.4,178.9 L363.2,178.1 L362.0,177.2 L360.8,176.4 L359.5,175.8 L358.1,175.4 L356.7,175.1 L355.2,174.8 L353.8,174.2 L352.3,173.5 L350.8,172.6 L349.1,171.8 L347.6,171.3 L346.1,170.9 L345.0,170.7 L344.3,170.9 L343.9,171.5 L343.6,172.3 L343.3,173.1 L342.8,173.7 L342.1,174.4 L341.2,175.3 L340.3,176.2 L339.4,177.2 L338.5,177.8 L337.6,178.1 L336.8,178.0 L335.9,177.6 L335.1,177.0 L334.2,176.4 L333.3,175.7 L332.4,175.0 L331.6,174.2 L330.7,173.6 L329.8,173.2 L328.9,172.9 L328.1,172.6 L327.2,172.4 L326.4,172.2 L325.5,172.1 L324.6,172.1 L323.8,172.4 L322.9,172.8 L322.1,173.2 L321.2,173.7 L320.3,174.1 L319.5,174.6 L318.6,175.1 L317.7,175.3 L316.8,175.1 L315.8,174.6 L314.7,173.7 L313.6,172.9 L312.5,172.3 L311.4,172.0 L310.3,172.0 L309.2,172.1 L308.2,172.1 L307.1,171.9 L306.0,171.5 L304.9,170.8 L303.8,170.1 L302.7,169.3 L301.6,168.5 L300.6,167.5 L299.7,166.4 L298.8,165.1 L298.0,163.8 L297.1,162.7 L296.3,161.8 L295.4,161.6 L294.5,161.8 L293.6,162.5 L292.7,163.2 L291.9,163.7 L291.2,163.9 L290.6,163.8 L290.0,163.6 L289.4,163.2 L288.7,162.5 L287.9,161.5 L287.0,160.1 L286.1,158.5 L285.2,156.9 L284.3,155.4 L283.4,154.0 L282.6,152.5 L281.7,151.0 L280.9,149.5 L280.0,148.0 L279.1,146.9 L278.3,145.9 L277.4,145.2 L276.6,144.5 L275.7,143.8 L274.8,142.9 L273.9,141.9 L273.0,140.9 L272.1,140.0 L271.3,139.1 L270.6,138.3 L269.9,137.5 L269.3,136.8 L268.7,136.2 L268.1,135.7 L267.4,135.6 L266.8,135.8 L266.1,136.0 L265.5,136.2 L264.8,136.2 L264.2,135.9 L263.5,135.4 L262.9,134.7 L262.2,134.0 L261.6,133.2 L260.9,132.3 L260.3,131.2 L259.6,130.3 L259.0,129.5 L258.3,129.0 L257.7,128.8 L257.1,129.0 L256.5,129.4 L255.8,129.9 L255.1,130.3 L254.3,130.7 L253.4,131.0 L252.5,131.2 L251.6,131.5 L250.8,131.7 L250.1,131.9 L249.4,132.2 L248.8,132.6 L248.1,133.0 L247.5,133.5 L246.9,134.1 L246.2,134.8 L245.6,135.5 L244.9,136.3 L244.3,137.3 L243.6,138.4 L243.0,139.5 L242.3,140.8 L241.7,142.2 L241.0,143.7 L240.4,145.5 L239.7,147.6 L239.1,149.8 L238.4,151.9 L237.8,153.8 L237.1,155.3 L236.5,156.6 L235.8,157.7 L235.2,158.5 L234.5,159.1 L233.9,159.3 L233.2,159.3 L232.6,159.1 L231.9,158.6 L231.3,158.0 L230.6,157.3 L230.0,156.4 L229.3,155.3 L228.7,154.3 L228.0,153.1 L227.4,152.0 L226.8,150.7 L226.2,149.4 L225.5,147.8 L224.8,146.0 L224.0,143.9 L223.1,141.6 L222.2,139.0 L221.3,136.4 L220.4,133.8 L219.5,131.0 L218.6,127.9 L217.6,124.6 L216.8,121.2 L216.1,118.1 L215.6,115.4 L215.3,112.9 L215.0,110.6 L214.7,108.6 L214.3,106.7 L213.7,105.0 L213.1,103.5 L212.3,102.2 L211.6,101.1 L210.8,100.2 L210.0,99.4 L209.1,98.9 L208.2,98.5 L207.3,98.2 L206.4,97.9 L205.5,97.5 L204.6,97.2 L203.7,96.9 L202.8,96.7 L202.0,96.7 L201.2,96.6 L200.5,96.5 L199.9,96.4 L199.2,96.3 L198.5,96.3 L197.8,96.4 L197.1,96.6 L196.5,96.9 L195.8,97.1 L195.0,97.2 L194.2,97.4 L193.3,97.7 L192.4,98.1 L191.5,98.6 L190.6,98.8 L189.7,98.7 L188.9,98.3 L188.1,97.8 L187.2,97.4 L186.3,97.2 L185.3,97.2 L184.2,97.5 L183.2,97.9 L182.1,98.5 L181.0,99.2 L180.0,99.8 L178.9,100.3 L177.9,100.7 L176.8,100.8 L175.8,100.8 L174.7,100.6 L173.7,100.2 L172.6,99.9 L171.6,99.6 L170.5,99.6 L169.4,99.9 L168.3,100.4 L167.3,101.0 L166.2,101.6 L165.3,102.1 L164.5,102.5 L163.8,102.7 L163.1,102.9 L162.5,102.9 L161.8,102.8 L161.1,102.6 L160.4,102.2 L159.7,101.7 L159.0,101.2 L158.3,100.8 L157.6,100.6 L156.9,100.6 L156.2,100.7 L155.5,100.7 L154.8,100.7 L154.1,100.5 L153.4,100.1 L152.7,99.7 L152.0,99.1 L151.3,98.5 L150.6,97.8 L149.9,97.1 L149.2,96.3 L148.5,95.6 L147.8,94.9 L147.1,94.3 L146.4,93.7 L145.7,93.2 L145.0,92.9 L144.3,92.7 L143.6,92.7 L142.9,92.9 L142.2,93.2 L141.5,93.5 L140.8,93.6 L140.1,93.6 L139.4,93.5 L138.7,93.5 L138.0,93.5 L137.3,93.6 L136.6,93.7 L135.9,93.7 L135.2,93.8 L134.5,93.8 L133.8,93.8 L133.1,93.8 L132.4,93.7 L131.7,93.6 L131.0,93.4 L130.3,93.1 L129.6,92.7 L128.9,92.3 L128.2,91.9 L127.5,91.5 L126.8,91.2 L126.1,91.0 L125.4,90.9 L124.7,90.7 L124.0,90.6 L123.3,90.4 L122.6,90.2 L121.9,90.0 L121.3,89.9 L120.6,89.9 L119.8,90.2 L119.0,90.8 L118.1,91.7 L117.2,92.7 L116.3,93.6 L115.4,94.3 L114.5,94.6 L113.6,94.6 L112.8,94.4 L111.9,94.1 L111.0,93.7 L110.0,93.2 L109.0,92.7 L108.0,92.2 L107.2,91.6 L106.6,91.2Z" fill="#F9A060" opacity="0.42"/>
<path d="M106.6,70.1 L107.2,69.6 L108.1,69.0 L109.1,68.3 L110.1,67.4 L111.0,66.6 L111.8,65.8 L112.5,65.0 L113.1,64.1 L113.8,63.4 L114.5,62.9 L115.2,62.4 L115.9,62.2 L116.6,62.0 L117.3,62.0 L118.0,62.2 L118.7,62.5 L119.4,63.0 L120.1,63.6 L120.8,64.1 L121.5,64.6 L122.2,64.9 L122.9,65.2 L123.6,65.3 L124.3,65.4 L125.0,65.4 L125.7,65.3 L126.4,65.2 L127.1,65.0 L127.8,64.9 L128.5,64.9 L129.2,65.0 L129.9,65.3 L130.6,65.7 L131.3,66.1 L132.0,66.5 L132.7,67.0 L133.4,67.5 L134.1,68.1 L134.8,68.5 L135.5,68.9 L136.2,69.1 L136.9,69.1 L137.6,69.0 L138.3,69.0 L139.0,69.2 L139.7,69.7 L140.4,70.3 L141.1,71.1 L141.8,71.8 L142.5,72.5 L143.2,73.0 L143.9,73.5 L144.6,73.9 L145.3,74.2 L146.0,74.5 L146.7,74.8 L147.4,74.9 L148.1,75.0 L148.8,75.2 L149.5,75.4 L150.2,75.8 L150.9,76.4 L151.6,77.0 L152.3,77.6 L153.0,77.9 L153.7,78.0 L154.4,78.0 L155.1,77.8 L155.8,77.7 L156.5,77.6 L157.2,77.6 L157.9,77.6 L158.6,77.6 L159.3,77.5 L160.0,77.4 L160.7,77.3 L161.4,77.1 L162.1,76.9 L162.8,76.7 L163.5,76.6 L164.2,76.5 L164.9,76.4 L165.7,76.3 L166.4,76.3 L167.0,76.4 L167.6,76.5 L168.1,76.8 L168.6,77.1 L169.1,77.4 L169.6,77.8 L170.1,78.4 L170.6,79.1 L171.2,79.7 L171.7,80.4 L172.3,80.9 L172.9,81.3 L173.6,81.6 L174.4,81.9 L175.1,82.2 L175.8,82.6 L176.5,83.0 L177.2,83.4 L177.9,83.9 L178.6,84.5 L179.3,85.1 L180.0,85.7 L180.7,86.5 L181.4,87.2 L182.1,87.8 L182.8,88.2 L183.5,88.3 L184.2,88.2 L184.9,87.9 L185.6,87.6 L186.3,87.4 L187.0,87.2 L187.7,87.1 L188.4,86.9 L189.1,86.9 L189.8,86.9 L190.5,87.0 L191.2,87.4 L192.0,87.8 L192.7,87.9 L193.3,87.8 L193.9,87.2 L194.4,86.4 L194.9,85.4 L195.4,84.3 L195.9,83.3 L196.4,82.3 L196.9,81.2 L197.4,80.1 L197.9,79.3 L198.5,78.9 L199.1,79.0 L199.8,79.6 L200.6,80.5 L201.3,81.4 L202.0,82.0 L202.7,82.4 L203.4,82.6 L204.1,82.7 L204.8,82.7 L205.5,82.6 L206.2,82.6 L206.9,82.5 L207.6,82.4 L208.3,82.0 L209.0,81.6 L209.7,80.9 L210.4,80.0 L211.1,79.1 L211.8,78.4 L212.5,78.0 L213.2,78.1 L214.0,78.5 L214.7,79.1 L215.4,79.9 L216.0,80.6 L216.5,81.1 L217.0,81.4 L217.4,81.7 L217.8,82.4 L218.3,83.4 L218.9,85.2 L219.5,87.4 L220.2,89.9 L220.8,92.4 L221.5,94.7 L222.2,96.7 L222.8,98.6 L223.5,100.4 L224.1,102.2 L224.8,104.0 L225.4,105.8 L226.1,107.6 L226.7,109.3 L227.4,111.0 L228.0,112.6 L228.7,114.2 L229.3,115.8 L230.0,117.3 L230.6,118.7 L231.3,119.7 L231.9,120.5 L232.5,121.1 L233.1,121.6 L233.8,121.9 L234.5,122.2 L235.3,122.3 L236.1,122.4 L237.0,122.5 L237.9,122.8 L238.8,123.4 L239.7,124.2 L240.6,125.2 L241.5,126.1 L242.4,126.8 L243.2,127.1 L243.9,127.0 L244.6,126.7 L245.2,126.2 L245.8,125.5 L246.4,124.6 L247.1,123.5 L247.7,122.1 L248.4,120.6 L249.0,119.0 L249.7,117.5 L250.3,115.9 L251.0,114.4 L251.6,112.8 L252.3,111.3 L252.9,110.1 L253.5,109.1 L254.2,108.2 L254.8,107.4 L255.5,106.8 L256.2,106.3 L257.0,106.0 L257.8,105.8 L258.7,105.9 L259.6,106.0 L260.5,106.2 L261.4,106.4 L262.2,106.7 L263.1,107.0 L263.9,107.2 L264.8,107.2 L265.7,107.2 L266.6,107.0 L267.4,106.8 L268.3,106.4 L269.2,105.9 L270.1,105.4 L270.9,105.0 L271.8,104.6 L272.6,104.3 L273.5,104.2 L274.4,104.3 L275.2,104.5 L276.1,104.9 L276.9,105.3 L277.8,105.7 L278.7,106.0 L279.6,106.4 L280.4,106.7 L281.3,107.0 L282.2,107.3 L283.1,107.6 L283.9,107.9 L284.8,108.2 L285.6,108.5 L286.5,108.9 L287.4,109.3 L288.2,109.6 L289.1,110.0 L289.9,110.3 L290.8,110.6 L291.7,111.1 L292.5,111.7 L293.4,112.3 L294.3,112.7 L295.2,112.9 L296.2,112.5 L297.3,111.7 L298.5,110.8 L299.6,110.2 L300.6,109.9 L301.5,110.3 L302.4,110.9 L303.2,111.8 L304.1,112.7 L304.9,113.5 L305.8,114.2 L306.6,115.0 L307.5,115.9 L308.4,116.6 L309.3,117.3 L310.3,117.7 L311.4,118.0 L312.5,118.0 L313.6,118.0 L314.7,117.8 L315.8,117.8 L316.9,117.8 L318.0,117.9 L319.1,118.1 L320.1,118.1 L321.0,118.0 L321.9,117.6 L322.8,117.2 L323.6,116.8 L324.4,116.4 L325.1,116.0 L325.7,115.5 L326.4,114.9 L327.0,114.6 L327.7,114.6 L328.5,115.0 L329.4,115.7 L330.3,116.6 L331.2,117.5 L332.0,118.3 L332.7,119.0 L333.3,119.7 L333.9,120.4 L334.5,120.9 L335.3,121.3 L336.3,121.4 L337.4,121.3 L338.5,121.2 L339.7,121.2 L340.7,121.5 L341.6,122.1 L342.5,122.9 L343.3,123.8 L344.1,124.8 L345.0,125.7 L345.9,126.6 L346.9,127.3 L347.8,127.9 L348.8,128.1 L349.8,127.9 L350.8,127.2 L351.8,126.2 L352.7,124.8 L353.7,123.5 L354.7,122.5 L355.7,121.7 L356.6,121.3 L357.6,121.1 L358.5,121.0 L359.5,120.9 L360.5,120.7 L361.5,120.6 L362.4,120.4 L363.4,120.1 L364.4,119.8 L365.4,119.4 L366.4,118.8 L367.4,118.1 L368.3,117.3 L369.2,116.6 L370.0,115.8 L370.7,115.0 L371.4,114.2 L372.1,113.5 L372.9,113.0 L373.8,112.8 L374.8,113.0 L375.8,113.4 L376.8,113.9 L377.7,114.1 L378.5,114.1 L379.2,113.8 L379.8,113.5 L380.5,113.2 L381.3,113.0 L382.2,113.0 L383.2,112.9 L384.2,112.8 L385.2,112.6 L386.2,112.4 L387.2,112.3 L388.1,112.3 L389.1,112.2 L390.0,112.0 L391.0,111.7 L392.0,111.3 L393.0,110.7 L393.9,110.2 L394.9,109.9 L395.9,109.9 L396.9,110.2 L397.8,110.8 L398.8,111.6 L399.7,112.3 L400.7,112.7 L401.7,112.9 L402.7,112.9 L403.7,112.7 L404.7,112.4 L405.6,111.9 L406.4,111.3 L407.2,110.4 L408.0,109.4 L408.8,108.2 L409.6,107.1 L410.5,105.9 L411.4,104.6 L412.3,103.3 L413.3,102.3 L414.2,101.6 L415.1,101.6 L416.0,102.0 L417.0,102.6 L417.9,103.2 L418.8,103.3 L419.7,102.8 L420.6,101.9 L421.6,100.7 L422.5,99.5 L423.4,98.3 L424.3,97.1 L425.2,95.7 L426.2,94.4 L427.1,93.3 L428.0,92.7 L428.9,92.6 L429.8,93.0 L430.8,93.5 L431.7,94.0 L432.6,94.2 L433.5,94.2 L434.4,94.1 L435.4,94.0 L436.3,93.8 L437.2,93.8 L438.1,93.9 L439.1,94.0 L440.0,94.3 L440.9,94.5 L441.7,94.6 L442.5,94.6 L443.2,94.6 L443.9,94.4 L444.5,94.0 L445.2,93.4 L445.9,92.6 L446.6,91.5 L447.2,90.2 L447.9,89.0 L448.6,87.8 L449.3,86.8 L450.2,85.8 L450.9,84.9 L451.6,84.1 L452.1,83.5 L452.1,99.1 L451.6,99.3 L450.9,99.7 L450.2,100.3 L449.3,101.0 L448.6,102.0 L447.9,103.2 L447.2,104.6 L446.6,106.2 L445.9,107.6 L445.2,108.9 L444.5,110.0 L443.9,110.8 L443.2,111.5 L442.5,112.0 L441.7,112.5 L440.9,112.9 L440.0,113.1 L439.1,113.1 L438.1,113.1 L437.2,113.0 L436.3,113.0 L435.4,113.0 L434.4,113.0 L433.5,112.9 L432.6,112.7 L431.7,112.4 L430.8,112.0 L429.8,111.7 L428.9,111.8 L428.0,112.4 L427.1,113.7 L426.2,115.6 L425.2,117.8 L424.3,120.1 L423.4,122.2 L422.5,124.2 L421.6,126.2 L420.6,127.9 L419.7,129.2 L418.8,129.7 L417.9,129.5 L417.0,128.6 L416.0,127.4 L415.1,126.2 L414.2,125.4 L413.3,125.1 L412.3,125.1 L411.4,125.4 L410.5,125.8 L409.6,126.3 L408.8,126.8 L408.0,127.5 L407.2,128.3 L406.4,129.0 L405.6,129.6 L404.7,130.1 L403.7,130.6 L402.7,131.1 L401.7,131.4 L400.7,131.4 L399.7,131.2 L398.8,130.5 L397.8,129.7 L396.9,128.8 L395.9,128.1 L394.9,127.7 L393.9,127.5 L393.0,127.3 L392.0,127.3 L391.0,127.3 L390.0,127.3 L389.1,127.3 L388.1,127.4 L387.2,127.7 L386.2,128.2 L385.2,129.1 L384.2,130.2 L383.2,131.4 L382.2,132.6 L381.3,133.6 L380.5,134.6 L379.8,135.7 L379.2,136.6 L378.5,137.4 L377.7,138.0 L376.8,138.1 L375.8,137.9 L374.8,137.6 L373.8,137.2 L372.9,137.1 L372.1,137.2 L371.4,137.5 L370.7,137.9 L370.0,138.4 L369.2,138.7 L368.3,139.1 L367.4,139.5 L366.4,140.0 L365.4,140.4 L364.4,140.9 L363.4,141.4 L362.4,141.8 L361.5,142.3 L360.5,142.7 L359.5,143.0 L358.5,143.1 L357.6,143.2 L356.6,143.2 L355.7,143.3 L354.7,143.5 L353.7,143.9 L352.7,144.5 L351.8,145.0 L350.8,145.2 L349.8,145.1 L348.8,144.5 L347.8,143.7 L346.9,142.7 L345.9,141.7 L345.0,140.8 L344.1,140.0 L343.3,139.2 L342.5,138.7 L341.6,138.4 L340.7,138.4 L339.7,138.8 L338.5,139.5 L337.4,140.4 L336.3,141.1 L335.3,141.5 L334.5,141.4 L333.9,141.0 L333.3,140.4 L332.7,139.8 L332.0,139.1 L331.2,138.3 L330.3,137.4 L329.4,136.4 L328.5,135.6 L327.7,135.1 L327.0,135.1 L326.4,135.5 L325.7,136.0 L325.1,136.7 L324.4,137.2 L323.6,137.8 L322.8,138.5 L321.9,139.2 L321.0,139.9 L320.1,140.5 L319.1,140.8 L318.0,141.1 L316.9,141.2 L315.8,141.3 L314.7,141.3 L313.6,141.2 L312.5,140.9 L311.4,140.3 L310.3,139.5 L309.3,138.4 L308.4,137.2 L307.5,135.9 L306.6,134.5 L305.8,133.2 L304.9,132.1 L304.1,131.0 L303.2,129.9 L302.4,128.9 L301.5,128.1 L300.6,127.8 L299.6,128.0 L298.5,128.8 L297.3,129.8 L296.2,130.7 L295.2,131.2 L294.3,131.2 L293.4,130.8 L292.5,130.2 L291.7,129.6 L290.8,129.1 L289.9,128.7 L289.1,128.4 L288.2,128.0 L287.4,127.7 L286.5,127.3 L285.6,127.0 L284.8,126.8 L283.9,126.7 L283.1,126.6 L282.2,126.6 L281.3,126.5 L280.4,126.5 L279.6,126.5 L278.7,126.5 L277.8,126.4 L276.9,126.3 L276.1,126.2 L275.2,126.0 L274.4,126.0 L273.5,126.0 L272.6,126.2 L271.8,126.5 L270.9,127.0 L270.1,127.4 L269.2,127.9 L268.3,128.3 L267.4,128.6 L266.6,128.7 L265.7,128.8 L264.8,128.7 L263.9,128.6 L263.1,128.3 L262.2,127.9 L261.4,127.5 L260.5,127.1 L259.6,126.7 L258.7,126.4 L257.8,126.2 L257.0,126.2 L256.2,126.4 L255.5,126.7 L254.8,127.1 L254.2,127.7 L253.5,128.4 L252.9,129.3 L252.3,130.5 L251.6,131.8 L251.0,133.2 L250.3,134.7 L249.7,136.2 L249.0,137.7 L248.4,139.2 L247.7,140.7 L247.1,142.1 L246.4,143.3 L245.8,144.2 L245.2,145.0 L244.6,145.6 L243.9,146.0 L243.2,146.1 L242.4,145.9 L241.5,145.3 L240.6,144.5 L239.7,143.6 L238.8,142.9 L237.9,142.3 L237.0,142.0 L236.1,141.8 L235.3,141.7 L234.5,141.5 L233.8,141.3 L233.1,140.9 L232.5,140.4 L231.9,139.8 L231.3,139.0 L230.6,138.0 L230.0,136.7 L229.3,135.3 L228.7,133.7 L228.0,132.3 L227.4,130.8 L226.7,129.3 L226.1,127.8 L225.4,126.2 L224.8,124.6 L224.1,123.0 L223.5,121.5 L222.8,119.8 L222.2,118.1 L221.5,116.2 L220.8,114.1 L220.2,111.6 L219.5,109.2 L218.9,106.9 L218.3,105.1 L217.8,104.0 L217.4,103.3 L217.0,102.8 L216.5,102.4 L216.0,101.8 L215.4,100.8 L214.7,99.8 L214.0,98.9 L213.2,98.2 L212.5,97.9 L211.8,98.0 L211.1,98.5 L210.4,99.2 L209.7,100.0 L209.0,100.6 L208.3,101.0 L207.6,101.4 L206.9,101.6 L206.2,101.9 L205.5,102.0 L204.8,102.3 L204.1,102.5 L203.4,102.7 L202.7,102.7 L202.0,102.6 L201.3,102.1 L200.6,101.4 L199.8,100.7 L199.1,100.2 L198.5,100.1 L197.9,100.5 L197.4,101.2 L196.9,102.2 L196.4,103.2 L195.9,104.1 L195.4,104.9 L194.9,105.8 L194.4,106.6 L193.9,107.2 L193.3,107.5 L192.7,107.4 L192.0,106.9 L191.2,106.3 L190.5,105.7 L189.8,105.3 L189.1,105.2 L188.4,105.3 L187.7,105.4 L187.0,105.7 L186.3,106.0 L185.6,106.4 L184.9,107.0 L184.2,107.6 L183.5,108.0 L182.8,108.3 L182.1,108.2 L181.4,108.0 L180.7,107.6 L180.0,107.1 L179.3,106.6 L178.6,106.2 L177.9,105.7 L177.2,105.1 L176.5,104.6 L175.8,104.0 L175.1,103.4 L174.4,102.8 L173.6,102.1 L172.9,101.4 L172.3,100.6 L171.7,99.7 L171.2,98.7 L170.6,97.8 L170.1,96.9 L169.6,96.1 L169.1,95.5 L168.6,95.0 L168.1,94.5 L167.6,94.2 L167.0,94.1 L166.4,94.0 L165.7,94.2 L164.9,94.5 L164.2,94.9 L163.5,95.4 L162.8,95.9 L162.1,96.5 L161.4,97.2 L160.7,97.8 L160.0,98.3 L159.3,98.8 L158.6,99.1 L157.9,99.4 L157.2,99.5 L156.5,99.6 L155.8,99.6 L155.1,99.7 L154.4,99.6 L153.7,99.4 L153.0,99.0 L152.3,98.3 L151.6,97.3 L150.9,96.3 L150.2,95.4 L149.5,94.6 L148.8,94.1 L148.1,93.8 L147.4,93.5 L146.7,93.3 L146.0,93.1 L145.3,92.9 L144.6,92.8 L143.9,92.7 L143.2,92.6 L142.5,92.5 L141.8,92.3 L141.1,92.0 L140.4,91.7 L139.7,91.5 L139.0,91.4 L138.3,91.5 L137.6,91.8 L136.9,92.0 L136.2,92.0 L135.5,91.8 L134.8,91.3 L134.1,90.5 L133.4,89.7 L132.7,88.7 L132.0,87.7 L131.3,86.7 L130.6,85.7 L129.9,84.7 L129.2,83.9 L128.5,83.2 L127.8,82.8 L127.1,82.5 L126.4,82.3 L125.7,82.3 L125.0,82.3 L124.3,82.3 L123.6,82.3 L122.9,82.4 L122.2,82.4 L121.5,82.4 L120.8,82.4 L120.1,82.3 L119.4,82.2 L118.7,82.1 L118.0,82.2 L117.3,82.4 L116.6,82.6 L115.9,83.0 L115.2,83.4 L114.5,83.9 L113.8,84.4 L113.1,84.9 L112.5,85.5 L111.8,86.1 L111.0,86.5 L110.1,86.8 L109.1,87.1 L108.1,87.4 L107.2,87.6 L106.6,87.9Z" fill="#8A8A8A" opacity="0.68"/>
<path d="M106.6,76.2 L107.0,75.9 L107.5,75.6 L108.1,75.1 L108.7,74.7 L109.3,74.3 L109.8,73.9 L110.3,73.4 L110.8,72.9 L111.3,72.6 L111.9,72.3 L112.5,72.3 L113.2,72.5 L114.0,72.8 L114.7,73.0 L115.4,73.0 L116.1,72.8 L116.8,72.4 L117.5,71.9 L118.2,71.5 L118.9,71.1 L119.6,70.8 L120.3,70.4 L121.0,70.0 L121.7,69.7 L122.4,69.3 L123.1,69.0 L123.8,68.7 L124.6,68.5 L125.3,68.2 L125.9,67.9 L126.5,67.6 L127.0,67.2 L127.4,66.9 L127.9,66.7 L128.5,66.8 L129.1,67.2 L129.8,67.9 L130.6,68.9 L131.3,69.9 L132.0,71.1 L132.7,72.2 L133.4,73.5 L134.1,74.8 L134.8,76.0 L135.5,77.0 L136.2,77.8 L136.9,78.5 L137.6,79.1 L138.3,79.5 L139.0,79.7 L139.7,79.7 L140.4,79.4 L141.1,79.1 L141.8,78.8 L142.5,78.7 L143.2,79.0 L143.9,79.5 L144.6,80.1 L145.3,80.5 L146.0,80.6 L146.7,80.2 L147.4,79.5 L148.1,78.7 L148.8,78.0 L149.5,77.7 L150.2,77.7 L150.9,78.1 L151.6,78.6 L152.3,79.2 L153.0,79.9 L153.7,80.7 L154.4,81.6 L155.1,82.6 L155.8,83.3 L156.5,83.8 L157.2,83.8 L157.9,83.4 L158.5,82.9 L159.2,82.2 L160.0,81.6 L160.8,81.0 L161.7,80.3 L162.6,79.7 L163.5,79.0 L164.4,78.6 L165.3,78.3 L166.2,78.2 L167.0,78.2 L167.9,78.3 L168.8,78.2 L169.7,78.0 L170.5,77.7 L171.4,77.4 L172.2,77.2 L173.1,77.1 L174.0,77.2 L174.9,77.5 L175.7,77.9 L176.6,78.3 L177.5,78.9 L178.4,79.5 L179.3,80.1 L180.1,80.6 L181.0,81.1 L181.9,81.4 L182.8,81.6 L183.7,81.7 L184.6,81.8 L185.5,81.8 L186.3,81.6 L187.1,81.3 L187.8,80.8 L188.4,80.3 L189.1,79.9 L189.8,79.9 L190.5,80.2 L191.2,80.8 L191.9,81.5 L192.6,82.2 L193.3,82.7 L194.0,83.1 L194.7,83.3 L195.5,83.4 L196.2,83.4 L196.8,83.1 L197.4,82.6 L197.9,81.8 L198.4,80.8 L198.9,80.0 L199.4,79.4 L199.9,79.0 L200.4,78.8 L201.0,78.7 L201.5,78.6 L202.0,78.7 L202.5,78.8 L203.1,79.0 L203.6,79.3 L204.2,79.5 L204.7,79.8 L205.2,80.1 L205.7,80.4 L206.3,80.7 L206.8,81.0 L207.3,81.3 L207.8,81.5 L208.3,81.7 L208.9,81.9 L209.4,82.2 L209.9,82.6 L210.4,83.2 L210.9,83.9 L211.5,84.7 L212.0,85.6 L212.5,86.6 L213.0,87.5 L213.5,88.3 L214.0,89.3 L214.6,90.7 L215.2,93.0 L215.9,96.5 L216.7,100.9 L217.6,105.6 L218.4,110.1 L219.3,113.7 L220.2,116.4 L221.1,118.6 L222.0,120.4 L222.9,121.9 L223.7,123.4 L224.4,124.7 L225.1,125.9 L225.7,126.8 L226.3,127.6 L226.9,128.2 L227.5,128.7 L228.2,129.0 L228.8,129.2 L229.5,129.2 L230.2,129.1 L231.0,129.0 L231.8,128.7 L232.7,128.4 L233.6,128.1 L234.5,128.0 L235.4,127.9 L236.2,127.8 L237.1,127.7 L237.9,127.6 L238.8,127.3 L239.7,127.0 L240.6,126.4 L241.4,125.7 L242.3,124.8 L243.2,123.9 L244.1,122.8 L244.9,121.6 L245.8,120.5 L246.6,119.5 L247.5,118.7 L248.4,118.0 L249.2,117.6 L250.1,117.2 L250.9,117.1 L251.8,117.0 L252.7,117.2 L253.6,117.6 L254.4,118.0 L255.3,118.4 L256.2,118.6 L257.1,118.7 L257.9,118.7 L258.8,118.6 L259.6,118.5 L260.5,118.5 L261.4,118.6 L262.2,118.6 L263.1,118.5 L263.9,118.5 L264.8,118.3 L265.7,118.2 L266.6,118.1 L267.4,118.0 L268.3,118.0 L269.2,118.1 L270.1,118.3 L270.9,118.8 L271.8,119.3 L272.6,120.0 L273.5,120.8 L274.4,121.6 L275.3,122.5 L276.2,123.4 L277.1,124.2 L277.8,124.9 L278.3,125.4 L278.7,125.7 L279.1,126.0 L279.5,126.5 L280.0,127.1 L280.7,128.1 L281.6,129.2 L282.5,130.4 L283.4,131.8 L284.3,133.4 L285.2,135.2 L286.1,137.2 L287.0,139.3 L287.9,141.4 L288.7,143.3 L289.4,145.3 L290.0,147.5 L290.6,149.5 L291.2,151.2 L291.9,152.0 L292.7,151.8 L293.6,150.8 L294.5,149.5 L295.4,148.5 L296.3,148.1 L297.2,148.6 L298.0,149.5 L298.9,150.6 L299.7,151.7 L300.6,152.4 L301.5,153.1 L302.3,153.6 L303.2,154.1 L304.0,154.3 L304.9,154.3 L305.8,154.0 L306.7,153.4 L307.5,152.8 L308.4,152.1 L309.3,151.3 L310.2,150.4 L311.0,149.4 L311.9,148.3 L312.7,147.4 L313.6,146.8 L314.5,146.8 L315.3,147.1 L316.2,147.7 L317.0,148.2 L317.9,148.5 L318.8,148.3 L319.7,147.9 L320.5,147.3 L321.4,146.8 L322.3,146.5 L323.2,146.4 L324.0,146.4 L324.9,146.5 L325.7,146.6 L326.6,146.8 L327.4,147.1 L328.3,147.7 L329.1,148.3 L330.0,149.1 L330.9,149.9 L331.9,150.7 L333.0,151.5 L334.1,152.4 L335.2,153.3 L336.3,154.3 L337.4,155.5 L338.6,156.8 L339.8,158.0 L340.8,159.0 L341.8,159.5 L342.6,159.3 L343.2,158.6 L343.7,157.6 L344.3,156.7 L345.0,156.2 L345.8,156.0 L346.7,156.0 L347.6,156.0 L348.7,156.0 L349.8,155.8 L351.1,155.6 L352.6,155.7 L354.1,156.0 L355.7,156.3 L357.1,156.3 L358.4,155.6 L359.6,154.3 L360.8,152.6 L362.0,150.9 L363.2,149.4 L364.4,148.5 L365.6,147.8 L366.8,147.3 L368.0,146.9 L369.2,146.5 L370.4,146.0 L371.6,145.6 L372.9,145.2 L374.1,145.1 L375.3,145.1 L376.5,145.3 L377.7,145.5 L378.9,146.0 L380.1,146.4 L381.3,146.9 L382.5,147.5 L383.7,148.1 L385.0,148.6 L386.2,148.7 L387.4,148.6 L388.6,148.0 L389.9,147.2 L391.1,146.4 L392.3,145.6 L393.4,145.1 L394.5,144.7 L395.4,144.4 L396.4,144.2 L397.3,143.9 L398.3,143.7 L399.3,143.5 L400.4,143.4 L401.4,143.3 L402.3,143.0 L403.1,142.6 L403.6,142.2 L403.9,141.7 L404.2,141.2 L404.5,140.4 L405.0,139.3 L405.7,137.6 L406.6,135.4 L407.6,132.9 L408.6,130.5 L409.6,128.6 L410.5,127.4 L411.4,126.7 L412.4,126.4 L413.3,126.2 L414.2,126.1 L415.1,126.0 L416.0,126.0 L417.0,126.0 L417.9,126.0 L418.8,126.0 L419.7,126.0 L420.6,125.9 L421.6,125.8 L422.5,125.7 L423.4,125.5 L424.3,125.2 L425.2,124.9 L426.2,124.5 L427.1,124.1 L428.0,123.6 L428.9,123.1 L429.8,122.4 L430.8,121.6 L431.7,120.9 L432.6,120.2 L433.5,119.6 L434.4,119.2 L435.4,118.8 L436.3,118.5 L437.2,118.2 L438.1,117.8 L439.0,117.4 L439.9,116.8 L440.8,116.2 L441.7,115.6 L442.6,114.9 L443.6,114.1 L444.5,113.2 L445.4,112.3 L446.3,111.4 L447.1,110.5 L447.8,109.7 L448.5,109.0 L449.2,108.3 L449.8,107.8 L450.4,107.2 L450.9,106.8 L451.4,106.4 L451.8,106.1 L452.1,105.8 L452.1,121.5 L451.8,121.5 L451.4,121.5 L450.9,121.6 L450.4,121.8 L449.8,122.0 L449.2,122.3 L448.5,122.7 L447.8,123.3 L447.1,123.9 L446.3,124.8 L445.4,125.8 L444.5,126.9 L443.6,128.0 L442.6,129.2 L441.7,130.3 L440.8,131.3 L439.9,132.3 L439.0,133.2 L438.1,134.0 L437.2,134.6 L436.3,135.1 L435.4,135.6 L434.4,136.1 L433.5,136.6 L432.6,137.2 L431.7,138.0 L430.8,138.8 L429.8,139.7 L428.9,140.6 L428.0,141.6 L427.1,142.5 L426.2,143.4 L425.2,144.3 L424.3,145.2 L423.4,146.2 L422.5,147.0 L421.6,147.8 L420.6,148.5 L419.7,149.0 L418.8,149.4 L417.9,149.5 L417.0,149.5 L416.0,149.4 L415.1,149.0 L414.2,148.6 L413.3,148.1 L412.4,147.5 L411.4,147.1 L410.5,147.0 L409.6,147.4 L408.6,148.4 L407.6,150.1 L406.6,152.0 L405.7,153.9 L405.0,155.4 L404.5,156.4 L404.2,157.1 L403.9,157.6 L403.6,158.1 L403.1,158.5 L402.3,159.0 L401.4,159.3 L400.4,159.6 L399.3,159.8 L398.3,160.1 L397.3,160.3 L396.4,160.5 L395.4,160.5 L394.5,160.5 L393.4,160.5 L392.3,160.5 L391.1,160.7 L389.9,161.0 L388.6,161.4 L387.4,161.9 L386.2,162.3 L385.0,162.6 L383.7,163.0 L382.5,163.5 L381.3,164.1 L380.1,164.9 L378.9,165.7 L377.7,166.4 L376.5,167.0 L375.3,167.5 L374.1,167.8 L372.9,167.9 L371.6,167.9 L370.4,167.8 L369.2,167.7 L368.0,167.5 L366.8,167.3 L365.6,167.3 L364.4,167.7 L363.2,168.6 L362.0,170.2 L360.8,172.1 L359.6,174.1 L358.4,175.7 L357.1,176.5 L355.7,176.4 L354.1,175.6 L352.6,174.3 L351.1,173.0 L349.8,171.9 L348.7,171.0 L347.6,170.1 L346.7,169.4 L345.8,168.9 L345.0,168.7 L344.3,169.1 L343.7,169.9 L343.2,170.9 L342.6,171.7 L341.8,172.2 L340.8,172.2 L339.8,172.0 L338.6,171.7 L337.4,171.5 L336.3,171.3 L335.2,171.1 L334.1,170.9 L333.0,170.5 L331.9,169.9 L330.9,169.2 L330.0,168.4 L329.1,167.5 L328.3,166.6 L327.4,165.9 L326.6,165.4 L325.7,165.1 L324.9,164.9 L324.0,164.8 L323.2,164.9 L322.3,165.2 L321.4,165.9 L320.5,166.9 L319.7,168.0 L318.8,169.0 L317.9,169.7 L317.0,169.9 L316.2,169.8 L315.3,169.6 L314.5,169.5 L313.6,169.6 L312.7,170.1 L311.9,170.7 L311.0,171.4 L310.2,171.9 L309.3,172.1 L308.4,172.1 L307.5,171.9 L306.7,171.7 L305.8,171.4 L304.9,170.9 L304.0,170.3 L303.2,169.4 L302.3,168.6 L301.5,167.7 L300.6,167.0 L299.7,166.2 L298.9,165.2 L298.0,164.4 L297.2,163.7 L296.3,163.6 L295.4,164.3 L294.5,165.7 L293.6,167.3 L292.7,168.5 L291.9,168.8 L291.2,168.0 L290.6,166.4 L290.0,164.3 L289.4,162.0 L288.7,159.9 L287.9,157.8 L287.0,155.5 L286.1,153.1 L285.2,150.9 L284.3,149.0 L283.4,147.3 L282.5,146.0 L281.6,144.9 L280.7,144.1 L280.0,143.5 L279.5,143.2 L279.1,143.0 L278.7,142.9 L278.3,142.9 L277.8,142.8 L277.1,142.6 L276.2,142.5 L275.3,142.3 L274.4,142.1 L273.5,141.8 L272.6,141.5 L271.8,141.2 L270.9,140.8 L270.1,140.5 L269.2,140.2 L268.3,139.9 L267.4,139.6 L266.6,139.3 L265.7,139.0 L264.8,138.6 L263.9,138.3 L263.1,137.9 L262.2,137.5 L261.4,137.1 L260.5,136.8 L259.6,136.6 L258.8,136.5 L257.9,136.5 L257.1,136.5 L256.2,136.5 L255.3,136.3 L254.4,136.0 L253.6,135.6 L252.7,135.3 L251.8,135.1 L250.9,135.0 L250.1,135.1 L249.2,135.2 L248.4,135.4 L247.5,135.7 L246.6,136.2 L245.8,136.8 L244.9,137.6 L244.1,138.4 L243.2,139.1 L242.3,139.9 L241.4,140.5 L240.6,141.2 L239.7,141.8 L238.8,142.3 L237.9,142.7 L237.1,143.1 L236.2,143.6 L235.4,144.0 L234.5,144.6 L233.6,145.2 L232.7,145.9 L231.8,146.6 L231.0,147.3 L230.2,147.8 L229.5,148.1 L228.8,148.3 L228.2,148.3 L227.5,148.1 L226.9,147.7 L226.3,147.1 L225.7,146.3 L225.1,145.4 L224.4,144.2 L223.7,142.8 L222.9,141.3 L222.0,139.7 L221.1,137.9 L220.2,135.7 L219.3,133.0 L218.4,129.4 L217.6,125.0 L216.7,120.3 L215.9,115.9 L215.2,112.5 L214.6,110.2 L214.0,108.8 L213.5,107.8 L213.0,107.1 L212.5,106.2 L212.0,105.2 L211.5,104.3 L210.9,103.4 L210.4,102.7 L209.9,102.1 L209.4,101.6 L208.9,101.2 L208.3,100.9 L207.8,100.6 L207.3,100.2 L206.8,99.8 L206.3,99.4 L205.7,98.9 L205.2,98.5 L204.7,98.0 L204.2,97.6 L203.6,97.2 L203.1,96.7 L202.5,96.4 L202.0,96.1 L201.5,95.9 L201.0,95.8 L200.4,95.8 L199.9,96.0 L199.4,96.2 L198.9,96.8 L198.4,97.5 L197.9,98.4 L197.4,99.2 L196.8,99.7 L196.2,99.9 L195.5,99.9 L194.7,99.8 L194.0,99.6 L193.3,99.2 L192.6,98.8 L191.9,98.1 L191.2,97.4 L190.5,96.8 L189.8,96.5 L189.1,96.6 L188.4,97.0 L187.8,97.6 L187.1,98.1 L186.3,98.6 L185.5,98.8 L184.6,98.9 L183.7,99.0 L182.8,99.0 L181.9,99.0 L181.0,98.9 L180.1,98.6 L179.3,98.2 L178.4,97.8 L177.5,97.4 L176.6,97.0 L175.7,96.7 L174.9,96.4 L174.0,96.2 L173.1,96.1 L172.2,96.2 L171.4,96.3 L170.5,96.6 L169.7,96.8 L168.8,96.9 L167.9,96.9 L167.0,96.8 L166.2,96.7 L165.3,96.7 L164.4,97.0 L163.5,97.4 L162.6,98.1 L161.7,98.8 L160.8,99.6 L160.0,100.3 L159.2,101.0 L158.5,101.7 L157.9,102.3 L157.2,102.6 L156.5,102.6 L155.8,102.2 L155.1,101.3 L154.4,100.3 L153.7,99.3 L153.0,98.4 L152.3,97.5 L151.6,96.7 L150.9,96.0 L150.2,95.4 L149.5,95.2 L148.8,95.3 L148.1,95.8 L147.4,96.4 L146.7,97.0 L146.0,97.2 L145.3,97.1 L144.6,96.6 L143.9,96.1 L143.2,95.6 L142.5,95.5 L141.8,95.7 L141.1,96.2 L140.4,96.8 L139.7,97.3 L139.0,97.5 L138.3,97.5 L137.6,97.4 L136.9,97.0 L136.2,96.5 L135.5,95.8 L134.8,94.9 L134.1,93.7 L133.4,92.5 L132.7,91.1 L132.0,89.8 L131.3,88.6 L130.6,87.3 L129.8,86.2 L129.1,85.2 L128.5,84.6 L127.9,84.3 L127.4,84.3 L127.0,84.5 L126.5,84.7 L125.9,84.9 L125.3,85.1 L124.6,85.3 L123.8,85.5 L123.1,85.8 L122.4,86.2 L121.7,86.7 L121.0,87.2 L120.3,87.8 L119.6,88.4 L118.9,89.1 L118.2,89.7 L117.5,90.4 L116.8,91.2 L116.1,91.8 L115.4,92.2 L114.7,92.3 L114.0,92.2 L113.2,91.9 L112.5,91.7 L111.9,91.6 L111.3,91.7 L110.8,91.9 L110.3,92.2 L109.8,92.5 L109.3,92.7 L108.7,92.8 L108.1,93.0 L107.5,93.1 L107.0,93.3 L106.6,93.4Z" fill="#C8612E" opacity="0.45"/>
<path d="M107.0,65.5 L107.3,65.7 L107.8,66.0 L108.3,66.4 L108.8,66.8 L109.3,67.3 L109.6,68.0 L109.9,68.9 L110.2,69.8 L110.6,70.6 L111.0,71.1 L111.6,71.4 L112.3,71.5 L113.0,71.4 L113.8,71.3 L114.5,71.2 L115.2,71.1 L115.9,70.9 L116.6,70.6 L117.3,70.3 L118.0,70.1 L118.7,69.9 L119.4,69.8 L120.0,69.8 L120.7,69.8 L121.5,69.9 L122.3,69.9 L123.2,70.0 L124.2,70.0 L125.1,70.1 L125.9,70.2 L126.7,70.4 L127.4,70.8 L128.0,71.1 L128.7,71.5 L129.4,71.8 L130.1,72.0 L130.8,72.3 L131.5,72.5 L132.2,72.7 L132.9,72.6 L133.6,72.2 L134.3,71.5 L135.0,70.6 L135.7,69.8 L136.4,69.1 L137.1,68.5 L137.8,68.0 L138.5,67.6 L139.2,67.5 L139.9,67.7 L140.6,68.4 L141.3,69.5 L142.0,70.8 L142.7,72.1 L143.4,73.3 L144.1,74.1 L144.8,74.9 L145.5,75.4 L146.2,76.0 L146.9,76.5 L147.6,77.1 L148.3,77.7 L149.1,78.3 L149.8,78.8 L150.4,79.3 L151.0,79.6 L151.5,79.8 L151.9,80.0 L152.4,80.1 L153.0,80.0 L153.6,79.7 L154.3,79.2 L155.1,78.5 L155.8,77.7 L156.5,77.0 L157.2,76.2 L157.9,75.3 L158.6,74.6 L159.3,73.9 L160.0,73.4 L160.7,73.2 L161.4,73.0 L162.1,73.0 L162.8,73.1 L163.5,73.2 L164.2,73.5 L164.9,73.9 L165.6,74.2 L166.3,74.6 L167.0,74.8 L167.7,74.9 L168.4,75.1 L169.1,75.2 L169.8,75.3 L170.5,75.5 L171.2,75.7 L171.9,75.9 L172.6,76.1 L173.3,76.3 L174.0,76.6 L174.7,77.1 L175.4,77.6 L176.1,78.2 L176.8,78.8 L177.5,79.5 L178.2,80.1 L178.9,80.9 L179.6,81.8 L180.3,82.6 L181.0,83.3 L181.7,83.8 L182.4,84.1 L183.1,84.2 L183.8,84.2 L184.5,84.2 L185.2,84.0 L185.9,83.7 L186.6,83.2 L187.3,82.9 L188.0,82.8 L188.7,83.0 L189.4,83.4 L190.1,83.9 L190.8,84.5 L191.5,85.0 L192.2,85.5 L192.9,86.0 L193.6,86.5 L194.3,86.9 L195.0,86.9 L195.7,86.6 L196.4,86.1 L197.1,85.6 L197.8,85.1 L198.5,84.7 L199.2,84.4 L199.9,84.2 L200.6,84.0 L201.3,83.8 L202.0,83.7 L202.7,83.6 L203.4,83.4 L204.1,83.1 L204.8,82.8 L205.5,82.4 L206.2,81.9 L206.9,81.3 L207.7,80.7 L208.4,80.1 L209.0,79.6 L209.6,79.3 L210.1,79.0 L210.7,78.8 L211.2,78.7 L211.7,78.8 L212.2,79.0 L212.7,79.4 L213.3,79.9 L213.8,80.5 L214.3,81.3 L214.8,82.1 L215.3,83.1 L215.9,84.3 L216.4,85.7 L216.9,87.4 L217.4,89.4 L217.8,91.9 L218.2,94.5 L218.7,97.1 L219.3,99.5 L220.1,101.7 L221.0,103.9 L221.9,106.0 L222.9,108.0 L223.7,109.8 L224.4,111.3 L225.1,112.4 L225.7,113.5 L226.3,114.5 L226.9,115.7 L227.6,117.1 L228.3,118.5 L229.0,120.0 L229.6,121.6 L230.2,123.3 L230.7,125.1 L231.1,127.1 L231.5,129.1 L231.9,131.0 L232.3,132.6 L232.7,133.9 L233.1,135.1 L233.5,136.0 L233.9,136.7 L234.5,137.3 L235.2,137.6 L236.1,137.7 L237.0,137.9 L237.9,138.2 L238.8,138.8 L239.7,139.6 L240.6,140.6 L241.4,141.5 L242.3,142.2 L243.2,142.6 L244.1,142.7 L244.9,142.4 L245.8,141.8 L246.6,141.0 L247.5,140.1 L248.4,138.9 L249.2,137.5 L250.1,135.9 L250.9,134.3 L251.8,132.7 L252.7,131.2 L253.6,129.8 L254.4,128.4 L255.3,127.1 L256.2,125.8 L257.1,124.5 L258.0,123.3 L258.9,122.2 L259.7,121.3 L260.5,120.6 L261.2,120.0 L261.9,119.5 L262.5,119.0 L263.2,118.7 L263.8,118.5 L264.4,118.5 L265.1,118.6 L265.7,118.9 L266.4,119.2 L267.0,119.6 L267.6,120.2 L268.3,121.0 L268.9,121.9 L269.6,122.6 L270.3,123.0 L271.1,123.0 L271.9,122.6 L272.8,122.1 L273.7,121.6 L274.6,121.4 L275.5,121.6 L276.5,122.2 L277.4,123.0 L278.2,123.9 L278.9,124.5 L279.3,124.6 L279.4,124.3 L279.5,123.8 L279.6,123.5 L280.0,123.7 L280.7,124.4 L281.5,125.5 L282.4,126.7 L283.4,128.0 L284.3,129.2 L285.2,130.4 L286.1,131.7 L286.9,133.0 L287.8,134.4 L288.7,135.8 L289.6,137.4 L290.4,139.1 L291.3,140.7 L292.1,142.1 L293.0,143.1 L293.9,143.6 L294.7,143.8 L295.6,144.0 L296.4,144.3 L297.3,144.8 L298.2,145.6 L299.1,146.5 L299.9,147.4 L300.8,148.3 L301.7,149.3 L302.6,150.4 L303.4,151.5 L304.3,152.7 L305.1,153.7 L306.0,154.6 L306.9,155.3 L307.7,156.1 L308.6,156.7 L309.4,156.9 L310.3,156.7 L311.2,155.9 L312.0,154.6 L312.9,153.0 L313.8,151.4 L314.7,149.9 L315.7,148.4 L316.8,147.0 L318.0,145.9 L319.1,145.1 L320.1,144.7 L321.0,144.9 L321.9,145.4 L322.7,146.2 L323.6,147.0 L324.4,147.8 L325.3,148.6 L326.2,149.6 L327.0,150.5 L327.9,151.5 L328.8,152.1 L329.7,152.5 L330.5,152.6 L331.4,152.5 L332.2,152.3 L333.1,152.3 L334.0,152.4 L334.8,152.6 L335.7,152.9 L336.5,153.3 L337.4,153.9 L338.3,154.6 L339.2,155.5 L340.1,156.3 L341.0,157.0 L341.8,157.4 L342.5,157.6 L343.1,157.7 L343.7,157.8 L344.3,157.8 L345.0,157.8 L345.9,157.7 L346.8,157.7 L347.8,157.6 L348.8,157.4 L349.8,157.3 L350.8,157.2 L351.8,157.0 L352.7,156.9 L353.7,156.8 L354.7,156.7 L355.7,157.0 L356.6,157.5 L357.6,158.0 L358.5,158.3 L359.5,157.9 L360.5,156.6 L361.5,154.7 L362.4,152.5 L363.4,150.5 L364.4,149.3 L365.4,149.0 L366.3,149.2 L367.3,149.7 L368.2,150.2 L369.2,150.6 L370.2,150.8 L371.2,150.9 L372.1,150.9 L373.1,150.8 L374.1,150.7 L375.1,150.5 L376.0,150.4 L377.0,150.2 L377.9,150.0 L378.9,149.7 L379.9,149.3 L380.9,148.9 L381.8,148.4 L382.8,148.1 L383.8,148.0 L384.8,148.2 L385.7,148.7 L386.7,149.2 L387.6,149.6 L388.6,149.7 L389.6,149.4 L390.5,148.7 L391.5,147.8 L392.4,146.8 L393.4,145.7 L394.4,144.7 L395.4,143.6 L396.3,142.5 L397.3,141.4 L398.3,140.4 L399.3,139.5 L400.4,138.6 L401.4,137.9 L402.3,137.4 L403.1,137.0 L403.6,136.7 L403.9,136.5 L404.2,136.3 L404.5,136.0 L405.0,135.5 L405.7,134.8 L406.6,133.9 L407.6,132.8 L408.6,131.7 L409.6,130.6 L410.5,129.5 L411.4,128.5 L412.4,127.4 L413.3,126.4 L414.2,125.4 L415.1,124.5 L416.0,123.6 L417.0,122.7 L417.9,122.0 L418.8,121.4 L419.7,121.0 L420.6,121.0 L421.6,121.1 L422.5,121.4 L423.4,121.7 L424.3,121.9 L425.2,122.0 L426.2,122.2 L427.1,122.4 L428.0,122.6 L428.9,122.9 L429.9,123.2 L430.8,123.4 L431.8,123.4 L432.6,123.2 L433.4,122.9 L434.0,122.5 L434.7,122.0 L435.3,121.4 L436.0,120.7 L436.7,119.8 L437.4,118.7 L438.0,117.5 L438.7,116.4 L439.4,115.4 L440.1,114.5 L440.8,113.8 L441.5,113.3 L442.2,113.0 L442.9,113.1 L443.6,113.5 L444.3,114.4 L444.9,115.4 L445.6,116.2 L446.3,116.6 L447.0,116.5 L447.8,116.0 L448.5,115.1 L449.2,114.1 L449.8,113.2 L450.4,112.3 L450.9,111.3 L451.4,110.4 L451.8,109.6 L452.1,109.0 L452.1,125.2 L451.8,125.7 L451.4,126.4 L450.9,127.2 L450.4,128.1 L449.8,128.9 L449.2,129.9 L448.5,130.9 L447.8,131.8 L447.0,132.5 L446.3,132.8 L445.6,132.5 L444.9,131.7 L444.3,130.8 L443.6,130.1 L442.9,129.6 L442.2,129.6 L441.5,129.7 L440.8,130.1 L440.1,130.6 L439.4,131.2 L438.7,131.9 L438.0,132.8 L437.4,133.7 L436.7,134.5 L436.0,135.2 L435.3,135.7 L434.7,136.1 L434.0,136.5 L433.4,136.8 L432.6,137.2 L431.8,137.6 L430.8,137.9 L429.9,138.3 L428.9,138.7 L428.0,139.2 L427.1,139.9 L426.2,140.6 L425.2,141.4 L424.3,142.1 L423.4,142.7 L422.5,143.0 L421.6,143.2 L420.6,143.3 L419.7,143.5 L418.8,143.8 L417.9,144.1 L417.0,144.5 L416.0,144.9 L415.1,145.3 L414.2,145.7 L413.3,146.1 L412.4,146.7 L411.4,147.4 L410.5,148.2 L409.6,149.1 L408.6,150.3 L407.6,151.5 L406.6,152.8 L405.7,154.0 L405.0,154.9 L404.5,155.5 L404.2,155.9 L403.9,156.2 L403.6,156.4 L403.1,156.8 L402.3,157.2 L401.4,157.7 L400.4,158.2 L399.3,158.6 L398.3,158.9 L397.3,159.2 L396.3,159.5 L395.4,159.7 L394.4,160.0 L393.4,160.2 L392.4,160.6 L391.5,161.2 L390.5,161.8 L389.6,162.3 L388.6,162.8 L387.6,163.0 L386.7,163.1 L385.7,163.3 L384.8,163.6 L383.8,164.2 L382.8,165.2 L381.8,166.3 L380.9,167.4 L379.9,168.4 L378.9,169.1 L377.9,169.6 L377.0,169.8 L376.0,169.9 L375.1,169.8 L374.1,169.7 L373.1,169.5 L372.1,169.2 L371.2,169.0 L370.2,168.8 L369.2,168.6 L368.2,168.4 L367.3,168.2 L366.3,168.1 L365.4,168.4 L364.4,169.3 L363.4,171.1 L362.4,173.6 L361.5,176.2 L360.5,178.5 L359.5,179.9 L358.5,180.2 L357.6,179.7 L356.6,178.7 L355.7,177.6 L354.7,176.6 L353.7,175.8 L352.7,175.0 L351.8,174.3 L350.8,173.7 L349.8,173.1 L348.8,172.7 L347.8,172.5 L346.8,172.5 L345.9,172.6 L345.0,172.8 L344.3,173.0 L343.7,173.2 L343.1,173.5 L342.5,173.7 L341.8,173.8 L341.0,173.7 L340.1,173.4 L339.2,172.9 L338.3,172.3 L337.4,171.7 L336.5,171.2 L335.7,170.6 L334.8,170.1 L334.0,169.7 L333.1,169.4 L332.2,169.1 L331.4,169.0 L330.5,168.8 L329.7,168.6 L328.8,168.1 L327.9,167.4 L327.0,166.7 L326.2,165.9 L325.3,165.3 L324.4,165.0 L323.6,164.7 L322.7,164.5 L321.9,164.3 L321.0,164.3 L320.1,164.7 L319.1,165.6 L318.0,166.9 L316.8,168.3 L315.7,169.7 L314.7,171.0 L313.8,172.2 L312.9,173.5 L312.0,174.6 L311.2,175.5 L310.3,175.8 L309.4,175.6 L308.6,174.9 L307.7,174.0 L306.9,172.9 L306.0,172.0 L305.1,171.0 L304.3,169.9 L303.4,168.8 L302.6,167.8 L301.7,166.9 L300.8,166.2 L299.9,165.4 L299.1,164.7 L298.2,164.0 L297.3,163.3 L296.4,162.7 L295.6,162.4 L294.7,162.1 L293.9,161.6 L293.0,160.9 L292.1,159.6 L291.3,157.9 L290.4,155.9 L289.6,153.9 L288.7,152.1 L287.8,150.4 L286.9,148.9 L286.1,147.5 L285.2,146.3 L284.3,145.2 L283.4,144.1 L282.4,143.2 L281.5,142.3 L280.7,141.6 L280.0,141.1 L279.6,141.1 L279.5,141.5 L279.4,142.0 L279.3,142.4 L278.9,142.4 L278.2,142.0 L277.4,141.5 L276.5,140.9 L275.5,140.6 L274.6,140.5 L273.7,140.8 L272.8,141.3 L271.9,141.7 L271.1,141.9 L270.3,141.9 L269.6,141.3 L268.9,140.5 L268.3,139.5 L267.6,138.6 L267.0,137.9 L266.4,137.4 L265.7,137.0 L265.1,136.7 L264.4,136.5 L263.8,136.6 L263.2,136.8 L262.5,137.2 L261.9,137.7 L261.2,138.3 L260.5,138.9 L259.7,139.7 L258.9,140.7 L258.0,141.9 L257.1,143.2 L256.2,144.5 L255.3,145.9 L254.4,147.1 L253.6,148.5 L252.7,149.8 L251.8,151.1 L250.9,152.6 L250.1,154.1 L249.2,155.5 L248.4,156.8 L247.5,157.8 L246.6,158.7 L245.8,159.3 L244.9,159.8 L244.1,160.1 L243.2,160.1 L242.3,159.7 L241.4,159.0 L240.6,158.1 L239.7,157.2 L238.8,156.5 L237.9,156.0 L237.0,155.7 L236.1,155.6 L235.2,155.5 L234.5,155.2 L233.9,154.6 L233.5,153.9 L233.1,153.0 L232.7,151.8 L232.3,150.5 L231.9,149.0 L231.5,147.1 L231.1,145.0 L230.7,143.0 L230.2,141.2 L229.6,139.6 L229.0,138.0 L228.3,136.5 L227.6,135.1 L226.9,133.8 L226.3,132.6 L225.7,131.5 L225.1,130.5 L224.4,129.4 L223.7,127.9 L222.9,126.2 L221.9,124.2 L221.0,122.1 L220.1,119.8 L219.3,117.5 L218.7,115.1 L218.2,112.5 L217.8,109.8 L217.4,107.4 L216.9,105.2 L216.4,103.5 L215.9,102.0 L215.3,100.8 L214.8,99.7 L214.3,98.8 L213.8,98.0 L213.3,97.3 L212.7,96.8 L212.2,96.4 L211.7,96.1 L211.2,96.0 L210.7,96.1 L210.1,96.3 L209.6,96.6 L209.0,97.0 L208.4,97.6 L207.7,98.2 L206.9,99.0 L206.2,99.7 L205.5,100.3 L204.8,100.9 L204.1,101.3 L203.4,101.7 L202.7,102.0 L202.0,102.3 L201.3,102.5 L200.6,102.6 L199.9,102.8 L199.2,103.1 L198.5,103.3 L197.8,103.6 L197.1,104.1 L196.4,104.5 L195.7,104.9 L195.0,105.1 L194.3,104.9 L193.6,104.5 L192.9,103.9 L192.2,103.3 L191.5,102.8 L190.8,102.3 L190.1,101.7 L189.4,101.3 L188.7,101.0 L188.0,100.9 L187.3,101.1 L186.6,101.7 L185.9,102.3 L185.2,102.8 L184.5,103.2 L183.8,103.4 L183.1,103.5 L182.4,103.5 L181.7,103.3 L181.0,102.9 L180.3,102.2 L179.6,101.3 L178.9,100.3 L178.2,99.3 L177.5,98.4 L176.8,97.6 L176.1,96.6 L175.4,95.7 L174.7,94.8 L174.0,94.1 L173.3,93.5 L172.6,92.9 L171.9,92.4 L171.2,92.0 L170.5,91.6 L169.8,91.3 L169.1,91.1 L168.4,91.0 L167.7,91.0 L167.0,90.9 L166.3,90.8 L165.6,90.7 L164.9,90.6 L164.2,90.5 L163.5,90.4 L162.8,90.5 L162.1,90.7 L161.4,90.9 L160.7,91.3 L160.0,91.7 L159.3,92.2 L158.6,92.9 L157.9,93.6 L157.2,94.4 L156.5,95.1 L155.8,95.7 L155.1,96.2 L154.3,96.7 L153.6,97.0 L153.0,97.1 L152.4,97.1 L151.9,96.9 L151.5,96.6 L151.0,96.3 L150.4,95.9 L149.8,95.5 L149.1,95.0 L148.3,94.5 L147.6,94.1 L146.9,93.8 L146.2,93.6 L145.5,93.5 L144.8,93.3 L144.1,93.0 L143.4,92.6 L142.7,91.9 L142.0,91.0 L141.3,90.0 L140.6,89.3 L139.9,88.8 L139.2,88.8 L138.5,89.0 L137.8,89.4 L137.1,89.8 L136.4,90.2 L135.7,90.6 L135.0,91.2 L134.3,91.6 L133.6,91.9 L132.9,91.9 L132.2,91.5 L131.5,90.9 L130.8,90.2 L130.1,89.6 L129.4,89.0 L128.7,88.4 L128.0,87.9 L127.4,87.3 L126.7,86.9 L125.9,86.7 L125.1,86.7 L124.2,86.9 L123.2,87.1 L122.3,87.4 L121.5,87.6 L120.7,87.7 L120.0,87.9 L119.4,88.0 L118.7,88.2 L118.0,88.4 L117.3,88.5 L116.6,88.7 L115.9,88.8 L115.2,88.7 L114.5,88.5 L113.8,88.2 L113.0,87.9 L112.3,87.4 L111.6,87.0 L111.0,86.4 L110.6,85.6 L110.2,84.6 L109.9,83.6 L109.6,82.6 L109.3,81.8 L108.8,81.2 L108.3,80.7 L107.8,80.3 L107.3,80.0 L107.0,79.8Z" fill="#7A5CAC" opacity="0.5"/>
<path d="M106.6,79.5 L107.4,80.0 L108.6,80.5 L110.0,80.9 L111.4,81.1 L112.8,81.1 L114.1,81.2 L115.5,81.5 L117.0,82.0 L118.4,82.7 L119.8,83.4 L121.2,84.1 L122.6,84.7 L124.0,85.3 L125.4,85.8 L126.8,86.2 L128.2,86.5 L129.6,86.5 L131.0,86.3 L132.4,86.1 L133.8,86.1 L135.2,86.4 L136.6,87.0 L138.0,87.8 L139.4,88.6 L140.8,89.2 L142.2,89.5 L143.6,89.7 L145.0,89.7 L146.4,89.8 L147.8,90.0 L149.2,90.3 L150.6,90.7 L152.0,91.0 L153.4,91.3 L154.8,91.7 L156.2,92.3 L157.6,92.9 L159.0,93.6 L160.4,94.2 L161.8,94.5 L163.2,94.4 L164.5,94.3 L165.9,94.2 L167.3,94.3 L168.8,94.8 L170.4,95.6 L172.2,96.6 L173.9,97.4 L175.7,98.0 L177.5,98.3 L179.3,98.6 L181.0,98.6 L182.8,98.3 L184.5,97.8 L186.3,97.3 L188.0,97.0 L189.8,97.0 L191.5,97.0 L193.3,96.7 L195.0,96.0 L196.8,95.0 L198.6,93.8 L200.4,92.9 L202.2,92.1 L203.8,91.6 L205.3,91.1 L206.8,90.8 L208.2,90.7 L209.5,90.9 L210.8,91.4 L212.0,92.0 L213.1,92.5 L214.1,93.1 L215.1,93.8 L216.0,94.7 L216.9,96.1 L217.6,97.8 L218.4,99.8 L219.2,102.0 L220.0,104.3 L220.9,106.7 L221.9,109.3 L222.9,112.1 L223.9,115.1 L225.0,118.1 L226.2,121.5 L227.5,125.3 L228.8,129.0 L230.1,132.1 L231.3,134.4 L232.4,135.4 L233.5,135.4 L234.5,134.8 L235.6,134.0 L236.7,133.2 L238.0,132.5 L239.3,131.9 L240.7,131.5 L242.0,131.2 L243.2,130.9 L244.2,130.4 L245.1,129.8 L245.9,129.0 L246.7,128.1 L247.5,127.0 L248.4,125.9 L249.2,124.6 L250.1,123.2 L250.9,122.0 L251.8,120.8 L252.7,119.8 L253.6,118.8 L254.4,117.8 L255.3,117.0 L256.2,116.4 L257.1,115.9 L257.9,115.5 L258.8,115.4 L259.6,115.3 L260.5,115.4 L261.4,115.6 L262.2,115.9 L263.1,116.4 L263.9,116.9 L264.8,117.4 L265.7,117.8 L266.6,118.2 L267.4,118.5 L268.3,118.7 L269.2,118.8 L270.1,119.0 L270.9,119.2 L271.8,119.5 L272.6,119.9 L273.5,120.3 L274.4,120.7 L275.2,121.1 L276.1,121.5 L276.9,121.9 L277.8,122.2 L278.7,122.6 L279.6,123.0 L280.4,123.3 L281.3,123.8 L282.2,124.3 L283.0,125.1 L283.8,126.0 L284.6,127.0 L285.5,127.8 L286.5,128.5 L287.7,128.8 L288.9,129.0 L290.3,129.0 L291.7,129.1 L293.0,129.6 L294.3,130.4 L295.6,131.3 L296.9,132.2 L298.2,132.9 L299.5,133.2 L300.8,133.1 L302.1,132.7 L303.4,132.3 L304.7,132.1 L306.0,132.2 L307.3,132.7 L308.6,133.5 L309.9,134.3 L311.2,135.0 L312.5,135.5 L313.8,135.7 L315.1,135.8 L316.4,135.7 L317.7,135.6 L319.0,135.4 L320.3,135.2 L321.6,135.0 L322.9,134.9 L324.2,134.9 L325.5,135.1 L326.8,135.5 L328.1,135.9 L329.4,136.4 L330.7,136.8 L332.0,137.0 L333.3,137.3 L334.6,137.5 L335.9,137.8 L337.2,138.1 L338.5,138.3 L339.7,138.3 L340.8,138.4 L342.0,138.3 L343.3,138.2 L345.0,138.2 L347.0,138.7 L349.4,139.4 L351.9,139.5 L354.4,138.9 L357.0,138.4 L359.5,138.0 L362.0,137.7 L364.6,137.4 L367.3,137.6 L370.0,137.7 L372.9,136.8 L375.9,135.2 L378.9,134.3 L382.0,133.9 L385.0,133.2 L388.0,132.3 L390.9,131.2 L393.9,129.4 L396.9,127.6 L400.0,126.8 L403.3,126.1 L406.7,124.1 L410.2,121.8 L413.5,120.1 L416.5,118.6 L419.1,117.9 L421.5,117.8 L423.6,117.3 L425.8,116.2 L428.0,114.6 L430.3,113.3 L432.5,112.4 L434.8,111.6 L437.0,110.5 L439.4,109.3 L442.0,108.0 L445.0,106.1 L447.8,103.8 L450.3,102.2 L452.0,101.7" fill="none" stroke="#B4B4B4" stroke-width="2.0" stroke-linejoin="round" stroke-linecap="round" opacity="1"/>
<path d="M106.6,80.4 L107.2,80.5 L108.0,80.8 L109.0,81.0 L110.0,81.3 L111.0,81.6 L111.9,82.0 L112.8,82.4 L113.6,82.8 L114.5,83.0 L115.4,83.1 L116.3,82.8 L117.2,82.3 L118.1,81.7 L119.0,81.2 L119.8,80.9 L120.6,80.9 L121.3,81.1 L121.9,81.4 L122.6,81.7 L123.3,82.1 L124.0,82.3 L124.7,82.5 L125.4,82.6 L126.1,82.8 L126.8,82.9 L127.5,83.2 L128.2,83.4 L128.9,83.8 L129.6,84.1 L130.3,84.5 L131.0,84.8 L131.7,85.0 L132.4,85.2 L133.1,85.3 L133.8,85.5 L134.5,85.6 L135.2,85.8 L135.9,85.9 L136.6,86.1 L137.3,86.2 L138.0,86.3 L138.7,86.5 L139.4,86.8 L140.1,87.0 L140.8,87.2 L141.5,87.1 L142.2,86.9 L142.9,86.6 L143.6,86.4 L144.3,86.2 L145.0,86.2 L145.7,86.4 L146.4,86.6 L147.1,86.8 L147.8,87.1 L148.5,87.4 L149.2,87.8 L149.9,88.2 L150.6,88.5 L151.3,88.9 L152.0,89.1 L152.7,89.4 L153.4,89.6 L154.1,89.7 L154.8,89.8 L155.5,89.7 L156.2,89.6 L156.9,89.5 L157.6,89.5 L158.3,89.8 L159.0,90.2 L159.7,90.9 L160.4,91.5 L161.1,92.1 L161.8,92.5 L162.5,92.7 L163.1,92.7 L163.8,92.7 L164.5,92.5 L165.3,92.2 L166.2,91.7 L167.3,91.1 L168.3,90.3 L169.4,89.7 L170.5,89.3 L171.6,89.2 L172.6,89.3 L173.7,89.6 L174.7,90.0 L175.8,90.4 L176.8,90.7 L177.9,90.8 L178.9,90.9 L180.0,90.8 L181.0,90.8 L182.1,90.7 L183.2,90.6 L184.2,90.6 L185.3,90.8 L186.3,91.0 L187.2,91.3 L188.1,91.8 L188.9,92.2 L189.7,92.4 L190.6,92.3 L191.5,91.9 L192.4,91.1 L193.3,90.3 L194.2,89.6 L195.0,89.2 L195.8,88.8 L196.5,88.4 L197.1,88.0 L197.8,87.6 L198.5,87.4 L199.2,87.3 L199.9,87.3 L200.5,87.4 L201.2,87.5 L202.0,87.6 L202.8,87.7 L203.7,87.9 L204.6,88.3 L205.5,88.6 L206.4,89.0 L207.3,89.3 L208.2,89.5 L209.1,89.7 L210.0,90.0 L210.8,90.6 L211.6,91.3 L212.3,92.1 L213.1,93.1 L213.7,94.3 L214.3,95.8 L214.7,97.5 L215.0,99.4 L215.3,101.6 L215.6,104.0 L216.1,106.6 L216.8,109.5 L217.6,112.7 L218.6,115.9 L219.5,119.0 L220.4,122.0 L221.3,124.8 L222.2,127.7 L223.1,130.6 L224.0,133.3 L224.8,135.8 L225.5,138.0 L226.2,139.9 L226.8,141.6 L227.4,143.1 L228.0,144.5 L228.7,145.9 L229.3,147.3 L230.0,148.5 L230.6,149.6 L231.3,150.5 L231.9,151.1 L232.6,151.6 L233.2,151.9 L233.9,151.9 L234.5,151.6 L235.2,151.0 L235.8,150.1 L236.5,148.9 L237.1,147.5 L237.8,145.8 L238.4,143.9 L239.1,141.8 L239.7,139.5 L240.4,137.4 L241.0,135.6 L241.7,134.1 L242.3,132.7 L243.0,131.5 L243.6,130.5 L244.3,129.5 L244.9,128.7 L245.6,128.0 L246.2,127.5 L246.9,126.9 L247.5,126.4 L248.1,126.0 L248.8,125.6 L249.4,125.4 L250.1,125.1 L250.8,124.8 L251.6,124.5 L252.5,124.1 L253.4,123.6 L254.3,122.9 L255.1,122.2 L255.8,121.4 L256.5,120.6 L257.1,119.9 L257.7,119.4 L258.3,119.2 L259.0,119.3 L259.6,119.8 L260.3,120.5 L260.9,121.2 L261.6,121.9 L262.2,122.5 L262.9,123.2 L263.5,123.7 L264.2,124.2 L264.8,124.5 L265.5,124.6 L266.1,124.5 L266.8,124.4 L267.4,124.4 L268.1,124.7 L268.7,125.3 L269.3,126.1 L269.9,127.0 L270.6,128.0 L271.3,129.0 L272.1,130.1 L273.0,131.2 L273.9,132.3 L274.8,133.4 L275.7,134.4 L276.6,135.1 L277.4,135.7 L278.3,136.4 L279.1,137.2 L280.0,138.3 L280.9,139.7 L281.7,141.2 L282.6,142.7 L283.4,144.3 L284.3,145.9 L285.2,147.6 L286.1,149.4 L287.0,151.4 L287.9,153.1 L288.7,154.5 L289.4,155.5 L290.0,156.2 L290.6,156.7 L291.2,157.0 L291.9,157.1 L292.7,156.8 L293.6,156.3 L294.5,155.9 L295.4,155.6 L296.3,155.8 L297.1,156.5 L298.0,157.5 L298.8,158.5 L299.7,159.5 L300.6,160.2 L301.6,160.7 L302.7,161.0 L303.8,161.3 L304.9,161.6 L306.0,161.9 L307.1,162.1 L308.2,162.2 L309.2,162.1 L310.3,162.1 L311.4,162.2 L312.5,162.5 L313.6,163.3 L314.7,164.2 L315.8,165.0 L316.8,165.5 L317.7,165.5 L318.6,165.2 L319.5,164.5 L320.3,163.8 L321.2,163.1 L322.1,162.4 L322.9,161.7 L323.8,161.1 L324.6,160.7 L325.5,160.5 L326.4,160.6 L327.2,160.8 L328.1,161.2 L328.9,161.7 L329.8,162.2 L330.7,163.0 L331.6,164.0 L332.4,165.2 L333.3,166.5 L334.2,167.6 L335.1,168.7 L335.9,169.6 L336.8,170.4 L337.6,170.8 L338.5,170.8 L339.4,170.3 L340.3,169.5 L341.2,168.5 L342.1,167.6 L342.8,166.8 L343.3,166.1 L343.6,165.2 L343.9,164.4 L344.3,163.8 L345.0,163.4 L346.1,163.3 L347.6,163.3 L349.1,163.7 L350.8,164.5 L352.3,165.4 L353.8,166.3 L355.2,167.0 L356.7,167.5 L358.1,167.8 L359.5,168.1 L360.8,168.5 L362.0,168.9 L363.2,169.2 L364.4,169.5 L365.6,169.6 L366.8,169.8 L368.0,169.9 L369.2,170.2 L370.4,170.4 L371.6,170.5 L372.8,170.3 L374.0,169.9 L375.3,169.2 L376.5,168.5 L377.7,167.9 L378.9,167.5 L380.1,167.3 L381.4,167.1 L382.6,166.7 L383.8,166.2 L385.0,165.5 L386.2,164.9 L387.4,164.2 L388.6,163.3 L389.8,161.9 L391.1,159.7 L392.4,156.6 L393.6,153.3 L394.8,150.4 L395.9,148.4 L396.7,147.6 L397.4,147.5 L398.0,147.8 L398.7,148.4 L399.5,149.1 L400.5,149.9 L401.6,150.9 L402.8,151.9 L403.9,152.6 L405.0,152.9 L406.0,152.7 L406.9,152.3 L407.8,151.5 L408.7,150.5 L409.6,149.5 L410.5,148.2 L411.4,146.7 L412.4,145.1 L413.3,143.7 L414.2,142.6 L415.1,141.9 L416.0,141.5 L417.0,141.3 L417.9,141.1 L418.8,140.9 L419.7,140.7 L420.6,140.4 L421.6,140.1 L422.5,139.7 L423.4,139.2 L424.3,138.6 L425.2,138.0 L426.2,137.3 L427.1,136.7 L428.0,136.0 L428.9,135.4 L429.8,134.9 L430.8,134.4 L431.7,134.0 L432.6,133.6 L433.5,133.2 L434.4,132.8 L435.4,132.4 L436.3,131.9 L437.2,131.4 L438.1,130.6 L439.0,129.7 L439.9,128.6 L440.8,127.5 L441.7,126.4 L442.6,125.3 L443.5,124.3 L444.4,123.3 L445.3,122.4 L446.3,121.4 L447.5,120.4 L448.8,119.4 L450.1,118.6 L451.3,118.1 L452.1,117.9" fill="none" stroke="#FCA25E" stroke-width="2.0" stroke-linejoin="round" stroke-linecap="round" opacity="1"/>
<path d="M107.0,77.1 L107.6,77.4 L108.3,77.9 L109.2,78.4 L110.2,79.0 L111.0,79.5 L111.7,79.8 L112.4,80.1 L113.1,80.2 L113.8,80.3 L114.5,80.3 L115.2,80.3 L115.9,80.2 L116.6,80.1 L117.3,80.1 L118.0,80.2 L118.7,80.3 L119.4,80.5 L120.1,80.8 L120.8,81.3 L121.5,82.0 L122.2,82.9 L122.9,84.1 L123.7,85.4 L124.4,86.5 L125.0,87.3 L125.6,87.8 L126.1,88.2 L126.6,88.4 L127.1,88.5 L127.6,88.3 L128.1,87.7 L128.6,86.8 L129.2,85.8 L129.7,84.9 L130.3,84.5 L130.9,84.5 L131.6,84.9 L132.4,85.4 L133.1,85.8 L133.8,85.7 L134.5,85.3 L135.2,84.7 L136.0,83.9 L136.7,83.1 L137.3,82.3 L137.9,81.6 L138.4,80.9 L138.9,80.3 L139.4,79.7 L139.9,79.5 L140.4,79.6 L140.9,79.9 L141.4,80.4 L141.9,80.9 L142.5,81.2 L143.1,81.4 L143.8,81.6 L144.6,81.8 L145.3,81.8 L146.0,81.8 L146.7,81.7 L147.4,81.4 L148.1,81.2 L148.8,81.2 L149.5,81.5 L150.2,82.1 L150.9,83.0 L151.6,84.0 L152.3,85.0 L153.0,85.7 L153.7,86.3 L154.4,86.7 L155.1,87.1 L155.8,87.5 L156.5,87.9 L157.2,88.5 L157.9,89.2 L158.5,90.0 L159.2,90.6 L160.0,91.0 L160.8,91.1 L161.7,91.0 L162.6,90.6 L163.5,90.2 L164.4,89.6 L165.3,89.0 L166.2,88.3 L167.0,87.6 L167.9,87.2 L168.8,87.1 L169.7,87.2 L170.5,87.6 L171.4,88.1 L172.2,88.6 L173.1,88.9 L174.0,89.2 L174.9,89.5 L175.8,89.8 L176.7,90.1 L177.5,90.4 L178.3,90.6 L179.0,90.8 L179.6,90.9 L180.3,91.1 L181.0,91.3 L181.7,91.5 L182.4,91.8 L183.1,92.0 L183.8,92.2 L184.5,92.4 L185.2,92.6 L185.9,92.8 L186.6,93.0 L187.3,93.4 L188.0,93.8 L188.7,94.3 L189.4,94.8 L190.1,95.4 L190.8,95.9 L191.5,96.4 L192.2,96.7 L192.9,97.0 L193.6,97.2 L194.3,97.3 L195.0,97.4 L195.7,97.3 L196.4,97.2 L197.1,97.1 L197.8,96.9 L198.5,96.7 L199.2,96.5 L199.9,96.2 L200.6,95.8 L201.3,95.4 L202.0,94.9 L202.7,94.4 L203.4,93.9 L204.1,93.4 L204.8,92.8 L205.5,92.3 L206.2,91.8 L206.9,91.3 L207.6,90.9 L208.3,90.6 L209.0,90.4 L209.7,90.4 L210.4,90.4 L211.1,90.5 L211.8,90.7 L212.5,90.9 L213.2,91.2 L214.0,91.6 L214.8,92.1 L215.4,92.8 L216.0,93.7 L216.3,94.7 L216.5,95.8 L216.6,97.1 L216.8,98.7 L217.2,100.6 L217.9,103.2 L218.7,106.2 L219.6,109.5 L220.6,112.6 L221.5,115.2 L222.4,117.4 L223.2,119.2 L224.1,120.9 L224.9,122.5 L225.8,123.9 L226.7,125.3 L227.6,126.6 L228.5,127.9 L229.4,129.1 L230.2,130.4 L230.9,131.8 L231.6,133.3 L232.2,134.6 L232.8,135.9 L233.4,137.0 L234.0,137.9 L234.7,138.8 L235.3,139.6 L236.0,140.2 L236.7,140.4 L237.5,140.3 L238.3,139.7 L239.2,138.9 L240.1,137.9 L241.0,137.0 L241.9,136.1 L242.7,135.0 L243.6,134.0 L244.4,132.8 L245.3,131.8 L246.2,130.7 L247.1,129.7 L247.9,128.8 L248.8,128.0 L249.7,127.3 L250.6,126.7 L251.4,126.2 L252.3,125.8 L253.1,125.3 L254.0,124.7 L254.9,124.0 L255.7,123.2 L256.6,122.5 L257.4,121.8 L258.3,121.2 L259.2,120.5 L260.1,119.7 L260.9,118.9 L261.8,118.1 L262.7,117.3 L263.6,116.7 L264.5,116.2 L265.4,115.8 L266.2,115.7 L267.0,115.7 L267.7,115.8 L268.4,116.1 L269.0,116.6 L269.7,117.1 L270.3,117.7 L270.9,118.6 L271.5,119.6 L272.1,120.7 L272.8,121.7 L273.5,122.5 L274.3,123.1 L275.2,123.6 L276.2,124.0 L277.1,124.6 L277.8,125.1 L278.3,125.6 L278.7,126.0 L279.1,126.4 L279.5,126.9 L280.0,127.5 L280.7,128.3 L281.6,129.1 L282.5,129.9 L283.4,130.8 L284.3,131.7 L285.2,132.9 L286.1,134.1 L286.9,135.5 L287.8,136.9 L288.7,138.3 L289.6,139.5 L290.4,140.7 L291.3,141.9 L292.1,142.9 L293.0,143.9 L293.9,144.7 L294.7,145.6 L295.6,146.5 L296.4,147.4 L297.3,148.3 L298.2,149.4 L299.0,150.4 L299.9,151.3 L300.8,152.0 L301.7,152.2 L302.7,152.0 L303.8,151.4 L305.0,150.6 L306.1,150.1 L307.1,149.8 L308.0,149.9 L308.9,150.0 L309.7,150.3 L310.6,150.6 L311.4,151.0 L312.3,151.6 L313.2,152.4 L314.0,153.3 L314.9,154.5 L315.8,155.6 L316.7,156.9 L317.5,158.2 L318.4,159.6 L319.2,160.8 L320.1,161.7 L321.0,162.2 L321.8,162.5 L322.7,162.7 L323.5,162.8 L324.4,162.9 L325.3,163.0 L326.2,163.0 L327.0,162.9 L327.9,162.8 L328.8,162.6 L329.7,162.3 L330.5,162.0 L331.4,161.5 L332.2,161.1 L333.1,160.5 L333.9,160.0 L334.8,159.4 L335.6,158.9 L336.5,158.5 L337.4,158.1 L338.5,157.7 L339.6,157.3 L340.8,156.8 L341.9,156.3 L342.8,155.9 L343.4,155.7 L343.8,155.5 L344.1,155.4 L344.4,155.3 L345.0,155.2 L345.8,155.1 L346.7,155.0 L347.7,154.9 L348.8,154.8 L349.8,154.8 L350.8,154.9 L351.7,155.2 L352.7,155.6 L353.6,156.0 L354.7,156.3 L355.8,156.6 L357.0,156.9 L358.2,157.0 L359.5,157.1 L360.7,157.2 L361.9,157.3 L363.1,157.6 L364.4,158.0 L365.6,158.6 L366.8,159.2 L368.0,159.8 L369.2,160.2 L370.5,160.4 L371.7,160.5 L372.9,160.3 L374.1,160.1 L375.3,159.9 L376.5,159.6 L377.7,159.2 L378.9,158.8 L380.1,158.3 L381.3,157.8 L382.6,157.4 L383.8,157.2 L385.0,157.3 L386.2,157.4 L387.5,157.5 L388.7,157.5 L389.9,157.3 L391.0,156.9 L392.1,156.4 L393.0,155.9 L394.0,155.4 L394.9,154.9 L395.9,154.4 L396.9,153.9 L397.9,153.4 L398.8,152.7 L399.8,152.0 L400.7,151.2 L401.6,150.4 L402.3,149.6 L403.1,148.9 L404.0,148.1 L405.0,147.5 L406.2,146.7 L407.6,145.7 L409.0,144.6 L410.5,143.5 L411.9,142.5 L413.3,141.9 L414.7,141.6 L416.0,141.4 L417.4,141.0 L418.8,140.3 L420.2,139.4 L421.6,138.5 L422.9,137.9 L424.3,137.5 L425.7,137.3 L427.1,137.2 L428.5,137.2 L429.8,137.1 L431.2,136.9 L432.6,136.7 L434.0,136.3 L435.4,135.7 L436.8,134.8 L438.1,133.6 L439.4,132.3 L440.6,131.1 L441.7,129.9 L442.8,128.9 L444.0,127.9 L445.2,127.0 L446.6,125.9 L448.2,124.5 L449.8,123.1 L451.1,122.0 L452.1,121.4" fill="none" stroke="#B2B1D8" stroke-width="2.0" stroke-linejoin="round" stroke-linecap="round" opacity="1"/>
<path d="M106.6,83.6 L107.0,83.4 L107.5,83.3 L108.1,83.1 L108.7,82.8 L109.3,82.6 L109.8,82.3 L110.3,82.0 L110.8,81.6 L111.3,81.4 L111.9,81.2 L112.5,81.3 L113.2,81.5 L114.0,81.7 L114.7,81.9 L115.4,81.8 L116.1,81.5 L116.8,81.1 L117.5,80.6 L118.2,80.2 L118.9,79.8 L119.6,79.5 L120.3,79.2 L121.0,79.0 L121.7,78.8 L122.4,78.7 L123.1,78.6 L123.8,78.6 L124.6,78.7 L125.3,78.7 L125.9,78.7 L126.5,78.6 L127.0,78.4 L127.4,78.3 L127.9,78.3 L128.5,78.5 L129.1,79.1 L129.8,79.9 L130.6,80.9 L131.3,81.9 L132.0,82.9 L132.7,83.9 L133.4,85.0 L134.1,86.0 L134.8,86.9 L135.5,87.5 L136.2,88.0 L136.9,88.3 L137.6,88.4 L138.3,88.5 L139.0,88.4 L139.7,88.1 L140.4,87.5 L141.1,86.9 L141.8,86.5 L142.5,86.3 L143.2,86.5 L143.9,87.0 L144.6,87.6 L145.3,88.1 L146.0,88.2 L146.7,88.0 L147.4,87.4 L148.1,86.7 L148.8,86.1 L149.5,85.8 L150.2,85.9 L150.9,86.2 L151.6,86.7 L152.3,87.3 L153.0,87.9 L153.7,88.5 L154.4,89.3 L155.1,90.1 L155.8,90.7 L156.5,91.0 L157.2,90.8 L157.9,90.4 L158.5,89.7 L159.2,89.1 L160.0,88.5 L160.8,87.9 L161.7,87.4 L162.6,87.0 L163.5,86.8 L164.4,86.7 L165.3,86.9 L166.2,87.4 L167.0,87.9 L167.9,88.4 L168.8,88.8 L169.7,89.0 L170.5,89.0 L171.4,88.9 L172.2,88.8 L173.1,88.8 L174.0,88.9 L174.9,89.0 L175.7,89.1 L176.6,89.3 L177.5,89.6 L178.4,89.9 L179.3,90.2 L180.1,90.5 L181.0,90.8 L181.9,90.9 L182.8,91.0 L183.7,91.1 L184.6,91.2 L185.5,91.2 L186.3,91.2 L187.1,90.9 L187.8,90.5 L188.4,90.0 L189.1,89.6 L189.8,89.6 L190.5,89.9 L191.2,90.4 L191.9,90.9 L192.6,91.4 L193.3,91.7 L194.0,91.8 L194.7,91.7 L195.5,91.5 L196.2,91.1 L196.8,90.5 L197.4,89.7 L197.9,88.7 L198.4,87.5 L198.9,86.5 L199.4,85.7 L199.9,85.2 L200.4,84.9 L201.0,84.7 L201.5,84.6 L202.0,84.6 L202.5,84.8 L203.1,85.0 L203.6,85.4 L204.2,85.8 L204.7,86.3 L205.2,86.8 L205.7,87.3 L206.3,87.8 L206.8,88.4 L207.3,88.9 L207.8,89.4 L208.3,89.9 L208.9,90.4 L209.4,90.9 L209.9,91.6 L210.4,92.4 L210.9,93.3 L211.5,94.3 L212.0,95.3 L212.5,96.5 L213.0,97.5 L213.5,98.3 L214.0,99.3 L214.6,100.8 L215.2,103.1 L215.9,106.5 L216.7,110.9 L217.6,115.6 L218.4,120.0 L219.3,123.5 L220.2,126.1 L221.1,128.3 L222.0,130.1 L222.9,131.7 L223.7,133.3 L224.4,134.8 L225.1,136.1 L225.7,137.2 L226.3,138.2 L226.9,139.0 L227.5,139.7 L228.2,140.1 L228.8,140.4 L229.5,140.6 L230.2,140.6 L231.0,140.4 L231.8,140.1 L232.7,139.6 L233.6,139.1 L234.5,138.6 L235.4,138.1 L236.2,137.5 L237.1,137.0 L237.9,136.3 L238.8,135.6 L239.7,134.7 L240.6,133.8 L241.4,132.7 L242.3,131.6 L243.2,130.5 L244.1,129.3 L244.9,128.2 L245.8,127.2 L246.6,126.3 L247.5,125.7 L248.4,125.3 L249.2,125.1 L250.1,125.0 L250.9,125.0 L251.8,125.2 L252.7,125.5 L253.6,125.9 L254.4,126.3 L255.3,126.7 L256.2,126.8 L257.1,126.8 L257.9,126.7 L258.8,126.5 L259.6,126.4 L260.5,126.4 L261.4,126.5 L262.2,126.7 L263.1,126.8 L263.9,127.0 L264.8,127.2 L265.7,127.5 L266.6,127.8 L267.4,128.2 L268.3,128.6 L269.2,129.1 L270.1,129.8 L270.9,130.5 L271.8,131.2 L272.6,132.0 L273.5,132.8 L274.4,133.6 L275.3,134.3 L276.2,134.9 L277.1,135.4 L277.8,135.7 L278.3,136.0 L278.7,136.1 L279.1,136.2 L279.5,136.5 L280.0,136.9 L280.7,137.5 L281.6,138.3 L282.5,139.2 L283.4,140.4 L284.3,141.8 L285.2,143.5 L286.1,145.5 L287.0,147.7 L287.9,149.8 L288.7,151.8 L289.4,153.8 L290.0,156.1 L290.6,158.1 L291.2,159.8 L291.9,160.6 L292.7,160.4 L293.6,159.2 L294.5,157.7 L295.4,156.4 L296.3,155.8 L297.2,156.0 L298.0,156.6 L298.9,157.5 L299.7,158.3 L300.6,158.9 L301.5,159.4 L302.3,159.9 L303.2,160.5 L304.0,160.9 L304.9,161.1 L305.8,161.1 L306.7,161.0 L307.5,160.9 L308.4,160.7 L309.3,160.4 L310.2,160.0 L311.0,159.4 L311.9,158.7 L312.7,158.1 L313.6,157.8 L314.5,157.9 L315.3,158.3 L316.2,158.8 L317.0,159.3 L317.9,159.4 L318.8,159.1 L319.7,158.4 L320.5,157.6 L321.4,156.9 L322.3,156.5 L323.2,156.3 L324.0,156.2 L324.9,156.3 L325.7,156.5 L326.6,156.8 L327.4,157.2 L328.3,157.9 L329.1,158.7 L330.0,159.5 L330.9,160.4 L331.9,161.1 L333.0,161.8 L334.1,162.5 L335.2,163.0 L336.3,163.5 L337.4,164.1 L338.6,164.8 L339.8,165.4 L340.8,165.8 L341.8,166.0 L342.6,165.5 L343.2,164.7 L343.7,163.7 L344.3,162.7 L345.0,162.2 L345.8,162.1 L346.7,162.3 L347.6,162.6 L348.7,163.0 L349.8,163.3 L351.1,163.7 L352.6,164.3 L354.1,165.1 L355.7,165.6 L357.1,165.6 L358.4,164.9 L359.6,163.4 L360.8,161.7 L362.0,159.9 L363.2,158.6 L364.4,157.8 L365.6,157.4 L366.8,157.3 L368.0,157.4 L369.2,157.4 L370.4,157.4 L371.6,157.2 L372.9,157.1 L374.1,156.9 L375.3,156.7 L376.5,156.5 L377.7,156.2 L378.9,156.0 L380.1,155.8 L381.3,155.7 L382.5,155.6 L383.7,155.8 L385.0,155.9 L386.2,155.9 L387.4,155.7 L388.6,155.3 L389.9,154.7 L391.1,154.1 L392.3,153.5 L393.4,153.1 L394.5,152.8 L395.4,152.5 L396.4,152.2 L397.3,151.8 L398.3,151.4 L399.3,151.0 L400.4,150.7 L401.4,150.5 L402.3,150.2 L403.1,149.8 L403.6,149.4 L403.9,149.0 L404.2,148.5 L404.5,147.8 L405.0,146.8 L405.7,145.3 L406.6,143.5 L407.6,141.4 L408.6,139.6 L409.6,138.3 L410.5,137.6 L411.4,137.4 L412.4,137.5 L413.3,137.7 L414.2,137.8 L415.1,137.9 L416.0,137.9 L417.0,137.8 L417.9,137.6 L418.8,137.3 L419.7,137.0 L420.6,136.6 L421.6,136.1 L422.5,135.6 L423.4,135.1 L424.3,134.6 L425.2,134.1 L426.2,133.7 L427.1,133.2 L428.0,132.7 L428.9,132.2 L429.8,131.6 L430.8,130.9 L431.7,130.2 L432.6,129.5 L433.5,128.9 L434.4,128.3 L435.4,127.8 L436.3,127.2 L437.2,126.6 L438.1,125.9 L439.0,125.0 L439.9,124.1 L440.8,123.1 L441.7,122.1 L442.6,121.2 L443.6,120.2 L444.5,119.2 L445.4,118.3 L446.3,117.6 L447.1,116.9 L447.8,116.4 L448.5,115.9 L449.2,115.6 L449.8,115.3 L450.4,115.1 L450.9,115.0 L451.4,114.8 L451.8,114.7 L452.1,114.6" fill="none" stroke="#C64301" stroke-width="2.2" stroke-linejoin="round" stroke-linecap="round" opacity="1"/>
<path d="M107.0,71.5 L107.3,71.8 L107.8,72.2 L108.3,72.8 L108.8,73.4 L109.3,74.1 L109.6,74.9 L109.9,75.9 L110.2,77.0 L110.6,77.9 L111.0,78.7 L111.6,79.3 L112.3,79.7 L113.0,80.1 L113.8,80.3 L114.5,80.5 L115.2,80.6 L115.9,80.6 L116.6,80.5 L117.3,80.3 L118.0,80.1 L118.7,80.0 L119.4,79.9 L120.0,79.8 L120.7,79.8 L121.5,79.8 L122.3,79.7 L123.2,79.7 L124.2,79.7 L125.1,79.7 L125.9,79.9 L126.7,80.2 L127.4,80.7 L128.0,81.2 L128.7,81.7 L129.4,82.2 L130.1,82.6 L130.8,83.1 L131.5,83.5 L132.2,83.8 L132.9,83.9 L133.6,83.6 L134.3,82.9 L135.0,82.1 L135.7,81.2 L136.4,80.3 L137.1,79.6 L137.8,78.8 L138.5,78.1 L139.2,77.7 L139.9,77.5 L140.6,77.8 L141.3,78.5 L142.0,79.4 L142.7,80.3 L143.4,81.1 L144.1,81.6 L144.8,82.0 L145.5,82.4 L146.2,82.7 L146.9,83.1 L147.6,83.6 L148.3,84.3 L149.1,84.9 L149.8,85.5 L150.4,86.1 L151.0,86.5 L151.5,86.9 L151.9,87.2 L152.4,87.4 L153.0,87.5 L153.6,87.4 L154.3,87.0 L155.1,86.5 L155.8,85.9 L156.5,85.2 L157.2,84.5 L157.9,83.7 L158.6,82.9 L159.3,82.2 L160.0,81.7 L160.7,81.3 L161.4,81.1 L162.1,81.0 L162.8,81.0 L163.5,81.1 L164.2,81.4 L164.9,81.8 L165.6,82.2 L166.3,82.7 L167.0,83.1 L167.7,83.5 L168.4,83.9 L169.1,84.3 L169.8,84.7 L170.5,85.3 L171.2,85.8 L171.9,86.4 L172.6,87.0 L173.3,87.5 L174.0,88.1 L174.7,88.8 L175.4,89.5 L176.1,90.2 L176.8,90.9 L177.5,91.5 L178.2,92.1 L178.9,92.8 L179.6,93.4 L180.3,94.0 L181.0,94.4 L181.7,94.5 L182.4,94.5 L183.1,94.3 L183.8,94.0 L184.5,93.6 L185.2,93.2 L185.9,92.6 L186.6,91.9 L187.3,91.4 L188.0,91.2 L188.7,91.3 L189.4,91.7 L190.1,92.2 L190.8,92.8 L191.5,93.4 L192.2,93.9 L192.9,94.5 L193.6,95.1 L194.3,95.4 L195.0,95.5 L195.7,95.2 L196.4,94.7 L197.1,94.0 L197.8,93.4 L198.5,92.8 L199.2,92.4 L199.9,91.9 L200.6,91.5 L201.3,91.1 L202.0,90.8 L202.7,90.4 L203.4,90.1 L204.1,89.6 L204.8,89.2 L205.5,88.7 L206.2,88.2 L206.9,87.7 L207.7,87.2 L208.4,86.8 L209.0,86.5 L209.6,86.4 L210.1,86.4 L210.7,86.5 L211.2,86.7 L211.7,87.1 L212.2,87.6 L212.7,88.3 L213.3,89.1 L213.8,90.0 L214.3,91.0 L214.8,92.1 L215.3,93.4 L215.9,94.8 L216.4,96.4 L216.9,98.2 L217.4,100.4 L217.8,102.9 L218.2,105.6 L218.7,108.2 L219.3,110.6 L220.1,112.8 L221.0,114.9 L221.9,116.9 L222.9,118.7 L223.7,120.3 L224.4,121.6 L225.1,122.6 L225.7,123.5 L226.3,124.5 L226.9,125.6 L227.6,127.0 L228.3,128.4 L229.0,129.9 L229.6,131.5 L230.2,133.2 L230.7,135.1 L231.1,137.2 L231.5,139.3 L231.9,141.2 L232.3,142.9 L232.7,144.3 L233.1,145.4 L233.5,146.4 L233.9,147.2 L234.5,147.8 L235.2,148.1 L236.1,148.2 L237.0,148.2 L237.9,148.3 L238.8,148.6 L239.7,149.0 L240.6,149.6 L241.4,150.0 L242.3,150.3 L243.2,150.2 L244.1,149.8 L244.9,149.1 L245.8,148.2 L246.6,147.2 L247.5,146.2 L248.4,145.0 L249.2,143.6 L250.1,142.2 L250.9,140.7 L251.8,139.4 L252.7,138.3 L253.6,137.3 L254.4,136.3 L255.3,135.3 L256.2,134.4 L257.1,133.3 L258.0,132.3 L258.9,131.4 L259.7,130.6 L260.5,129.9 L261.2,129.3 L261.9,128.8 L262.5,128.3 L263.2,127.9 L263.8,127.6 L264.4,127.5 L265.1,127.7 L265.7,127.9 L266.4,128.3 L267.0,128.8 L267.6,129.5 L268.3,130.4 L268.9,131.4 L269.6,132.3 L270.3,132.9 L271.1,133.2 L271.9,133.1 L272.8,133.0 L273.7,132.8 L274.6,132.9 L275.5,133.3 L276.5,134.0 L277.4,134.9 L278.2,135.7 L278.9,136.2 L279.3,136.2 L279.4,135.9 L279.5,135.4 L279.6,135.0 L280.0,135.1 L280.7,135.5 L281.5,136.2 L282.4,137.0 L283.4,137.7 L284.3,138.4 L285.2,139.1 L286.1,139.9 L286.9,140.9 L287.8,142.0 L288.7,143.2 L289.6,144.6 L290.4,146.3 L291.3,147.9 L292.1,149.3 L293.0,150.4 L293.9,151.1 L294.7,151.5 L295.6,151.8 L296.4,152.3 L297.3,152.9 L298.2,153.7 L299.1,154.6 L299.9,155.4 L300.8,156.2 L301.7,157.1 L302.6,158.0 L303.4,159.0 L304.3,160.0 L305.1,160.9 L306.0,161.7 L306.9,162.5 L307.7,163.3 L308.6,164.1 L309.4,164.6 L310.3,164.7 L311.2,164.3 L312.0,163.5 L312.9,162.4 L313.8,161.2 L314.7,160.2 L315.7,159.3 L316.8,158.4 L318.0,157.5 L319.1,156.9 L320.1,156.6 L321.0,156.6 L321.9,157.0 L322.7,157.5 L323.6,158.1 L324.4,158.5 L325.3,159.0 L326.2,159.6 L327.0,160.3 L327.9,160.9 L328.8,161.4 L329.7,161.7 L330.5,161.7 L331.4,161.6 L332.2,161.4 L333.1,161.4 L334.0,161.6 L334.8,161.8 L335.7,162.2 L336.5,162.7 L337.4,163.2 L338.3,163.8 L339.2,164.5 L340.1,165.0 L341.0,165.4 L341.8,165.5 L342.5,165.4 L343.1,165.3 L343.7,165.1 L344.3,164.8 L345.0,164.5 L345.9,164.2 L346.8,163.9 L347.8,163.6 L348.8,163.4 L349.8,163.4 L350.8,163.5 L351.8,163.7 L352.7,164.0 L353.7,164.4 L354.7,164.9 L355.7,165.6 L356.6,166.7 L357.6,167.7 L358.5,168.2 L359.5,168.1 L360.5,167.0 L361.5,165.1 L362.4,162.9 L363.4,160.9 L364.4,159.6 L365.4,159.1 L366.3,159.2 L367.3,159.6 L368.2,160.1 L369.2,160.5 L370.2,160.7 L371.2,160.9 L372.1,161.1 L373.1,161.3 L374.1,161.4 L375.1,161.4 L376.0,161.4 L377.0,161.4 L377.9,161.1 L378.9,160.8 L379.9,160.2 L380.9,159.4 L381.8,158.5 L382.8,157.7 L383.8,157.1 L384.8,156.7 L385.7,156.6 L386.7,156.6 L387.6,156.6 L388.6,156.4 L389.6,155.8 L390.5,155.1 L391.5,154.2 L392.4,153.2 L393.4,152.4 L394.4,151.6 L395.4,150.8 L396.3,150.1 L397.3,149.3 L398.3,148.6 L399.3,147.9 L400.4,147.2 L401.4,146.5 L402.3,146.0 L403.1,145.5 L403.6,145.2 L403.9,145.0 L404.2,144.8 L404.5,144.4 L405.0,143.9 L405.7,143.1 L406.6,142.1 L407.6,141.1 L408.6,140.0 L409.6,139.1 L410.5,138.3 L411.4,137.5 L412.4,136.9 L413.3,136.3 L414.2,135.8 L415.1,135.2 L416.0,134.7 L417.0,134.2 L417.9,133.8 L418.8,133.3 L419.7,133.1 L420.6,133.0 L421.6,133.0 L422.5,133.0 L423.4,132.9 L424.3,132.7 L425.2,132.4 L426.2,132.1 L427.1,131.8 L428.0,131.6 L428.9,131.5 L429.9,131.5 L430.8,131.5 L431.8,131.3 L432.6,131.1 L433.4,130.8 L434.0,130.5 L434.7,130.0 L435.3,129.5 L436.0,128.9 L436.7,128.0 L437.4,127.0 L438.0,125.8 L438.7,124.7 L439.4,123.7 L440.1,122.8 L440.8,122.0 L441.5,121.4 L442.2,121.0 L442.9,120.8 L443.6,121.1 L444.3,121.8 L444.9,122.5 L445.6,123.2 L446.3,123.5 L447.0,123.2 L447.8,122.6 L448.5,121.7 L449.2,120.7 L449.8,119.8 L450.4,119.0 L450.9,118.1 L451.4,117.4 L451.8,116.7 L452.1,116.2" fill="none" stroke="#613D9B" stroke-width="2.2" stroke-linejoin="round" stroke-linecap="round" opacity="1"/>
<path d="M106.6,77.0 L107.2,76.7 L108.1,76.3 L109.1,75.9 L110.1,75.5 L111.0,75.1 L111.8,74.6 L112.5,74.0 L113.1,73.5 L113.8,72.9 L114.5,72.5 L115.2,72.3 L115.9,72.0 L116.6,71.9 L117.3,71.9 L118.0,72.1 L118.7,72.4 L119.4,72.8 L120.1,73.3 L120.8,73.8 L121.5,74.2 L122.2,74.6 L122.9,74.9 L123.6,75.1 L124.3,75.3 L125.0,75.5 L125.7,75.6 L126.4,75.7 L127.1,75.8 L127.8,76.0 L128.5,76.3 L129.2,76.8 L129.9,77.4 L130.6,78.1 L131.3,78.8 L132.0,79.5 L132.7,80.2 L133.4,80.8 L134.1,81.4 L134.8,81.8 L135.5,82.1 L136.2,82.1 L136.9,81.9 L137.6,81.5 L138.3,81.2 L139.0,81.0 L139.7,81.1 L140.4,81.3 L141.1,81.6 L141.8,81.9 L142.5,82.2 L143.2,82.4 L143.9,82.5 L144.6,82.6 L145.3,82.8 L146.0,83.0 L146.7,83.1 L147.4,83.2 L148.1,83.4 L148.8,83.6 L149.5,83.9 L150.2,84.4 L150.9,85.1 L151.6,85.8 L152.3,86.5 L153.0,86.9 L153.7,87.1 L154.4,87.0 L155.1,86.9 L155.8,86.7 L156.5,86.5 L157.2,86.4 L157.9,86.2 L158.6,86.0 L159.3,85.8 L160.0,85.5 L160.7,85.2 L161.4,84.9 L162.1,84.6 L162.8,84.3 L163.5,84.2 L164.2,84.1 L164.9,84.1 L165.7,84.2 L166.4,84.5 L167.0,84.9 L167.6,85.3 L168.1,85.8 L168.6,86.4 L169.1,87.1 L169.6,87.8 L170.1,88.7 L170.6,89.7 L171.2,90.7 L171.7,91.7 L172.3,92.6 L172.9,93.3 L173.6,94.0 L174.4,94.6 L175.1,95.1 L175.8,95.5 L176.5,96.0 L177.2,96.4 L177.9,96.8 L178.6,97.2 L179.3,97.6 L180.0,98.1 L180.7,98.6 L181.4,99.0 L182.1,99.4 L182.8,99.5 L183.5,99.4 L184.2,99.1 L184.9,98.6 L185.6,98.2 L186.3,97.9 L187.0,97.7 L187.7,97.5 L188.4,97.4 L189.1,97.4 L189.8,97.4 L190.5,97.7 L191.2,98.1 L192.0,98.5 L192.7,98.7 L193.3,98.6 L193.9,98.0 L194.4,97.1 L194.9,96.0 L195.4,94.8 L195.9,93.7 L196.4,92.5 L196.9,91.2 L197.4,90.0 L197.9,88.9 L198.5,88.2 L199.1,88.0 L199.8,88.2 L200.6,88.7 L201.3,89.2 L202.0,89.5 L202.7,89.6 L203.4,89.5 L204.1,89.4 L204.8,89.3 L205.5,89.3 L206.2,89.3 L206.9,89.3 L207.6,89.3 L208.3,89.2 L209.0,89.0 L209.7,88.7 L210.4,88.2 L211.1,87.7 L211.8,87.4 L212.5,87.4 L213.2,87.8 L214.0,88.6 L214.7,89.6 L215.4,90.6 L216.0,91.5 L216.5,92.1 L217.0,92.5 L217.4,92.9 L217.8,93.6 L218.3,94.7 L218.9,96.4 L219.5,98.6 L220.2,101.1 L220.8,103.5 L221.5,105.7 L222.2,107.6 L222.8,109.4 L223.5,111.2 L224.1,113.0 L224.8,114.7 L225.4,116.6 L226.1,118.4 L226.7,120.2 L227.4,122.0 L228.0,123.8 L228.7,125.5 L229.3,127.4 L230.0,129.1 L230.6,130.6 L231.3,131.9 L231.9,132.9 L232.5,133.6 L233.1,134.2 L233.8,134.6 L234.5,134.9 L235.3,135.0 L236.1,134.9 L237.0,134.8 L237.9,134.8 L238.8,134.9 L239.7,135.2 L240.6,135.6 L241.5,135.9 L242.4,136.0 L243.2,135.8 L243.9,135.4 L244.6,134.8 L245.2,134.0 L245.8,133.1 L246.4,132.0 L247.1,130.8 L247.7,129.3 L248.4,127.8 L249.0,126.3 L249.7,124.9 L250.3,123.5 L251.0,122.1 L251.6,120.7 L252.3,119.5 L252.9,118.4 L253.5,117.6 L254.2,116.9 L254.8,116.3 L255.5,115.9 L256.2,115.5 L257.0,115.2 L257.8,115.1 L258.7,115.1 L259.6,115.2 L260.5,115.3 L261.4,115.4 L262.2,115.6 L263.1,115.8 L263.9,115.9 L264.8,116.1 L265.7,116.1 L266.6,116.2 L267.4,116.2 L268.3,116.2 L269.2,116.2 L270.1,116.1 L270.9,116.1 L271.8,116.2 L272.6,116.4 L273.5,116.8 L274.4,117.2 L275.2,117.7 L276.1,118.2 L276.9,118.7 L277.8,119.0 L278.7,119.2 L279.6,119.3 L280.4,119.2 L281.3,119.1 L282.2,118.9 L283.1,118.8 L283.9,118.6 L284.8,118.5 L285.6,118.5 L286.5,118.5 L287.4,118.7 L288.2,118.9 L289.1,119.2 L289.9,119.5 L290.8,119.8 L291.7,120.4 L292.5,121.1 L293.4,121.8 L294.3,122.3 L295.2,122.4 L296.2,121.9 L297.3,121.0 L298.5,119.9 L299.6,118.9 L300.6,118.3 L301.5,118.3 L302.4,118.6 L303.2,119.2 L304.1,119.9 L304.9,120.5 L305.8,121.2 L306.6,122.1 L307.5,123.1 L308.4,124.1 L309.3,125.1 L310.3,126.1 L311.4,127.0 L312.5,127.8 L313.6,128.4 L314.7,128.9 L315.8,129.4 L316.9,129.9 L318.0,130.3 L319.1,130.5 L320.1,130.5 L321.0,130.2 L321.9,129.7 L322.8,129.1 L323.6,128.4 L324.4,127.9 L325.1,127.3 L325.7,126.6 L326.4,126.0 L327.0,125.6 L327.7,125.5 L328.5,125.9 L329.4,126.7 L330.3,127.7 L331.2,128.7 L332.0,129.6 L332.7,130.4 L333.3,131.2 L333.9,132.0 L334.5,132.6 L335.3,132.9 L336.3,132.9 L337.4,132.6 L338.5,132.1 L339.7,131.6 L340.7,131.4 L341.6,131.4 L342.5,131.7 L343.3,132.1 L344.1,132.6 L345.0,133.1 L345.9,133.6 L346.9,134.1 L347.8,134.6 L348.8,134.8 L349.8,134.8 L350.8,134.4 L351.8,133.7 L352.7,132.8 L353.7,132.0 L354.7,131.3 L355.7,131.0 L356.6,131.0 L357.6,131.1 L358.5,131.2 L359.5,131.2 L360.5,131.1 L361.5,130.9 L362.4,130.7 L363.4,130.3 L364.4,129.9 L365.4,129.4 L366.4,128.9 L367.4,128.3 L368.3,127.7 L369.2,127.2 L370.0,126.7 L370.7,126.2 L371.4,125.7 L372.1,125.3 L372.9,125.1 L373.8,125.3 L374.8,125.8 L375.8,126.5 L376.8,127.0 L377.7,127.3 L378.5,127.1 L379.2,126.7 L379.8,126.1 L380.5,125.5 L381.3,125.0 L382.2,124.4 L383.2,123.7 L384.2,122.9 L385.2,122.1 L386.2,121.4 L387.2,120.9 L388.1,120.5 L389.1,120.2 L390.0,120.0 L391.0,119.7 L392.0,119.3 L393.0,118.9 L393.9,118.6 L394.9,118.5 L395.9,118.6 L396.9,119.1 L397.8,119.8 L398.8,120.6 L399.7,121.2 L400.7,121.5 L401.7,121.5 L402.7,121.3 L403.7,120.9 L404.7,120.4 L405.6,119.9 L406.4,119.2 L407.2,118.4 L408.0,117.5 L408.8,116.6 L409.6,115.8 L410.5,114.9 L411.4,114.1 L412.3,113.5 L413.3,113.0 L414.2,112.9 L415.1,113.4 L416.0,114.3 L417.0,115.4 L417.9,116.2 L418.8,116.5 L419.7,116.0 L420.6,115.0 L421.6,113.7 L422.5,112.1 L423.4,110.6 L424.3,108.9 L425.2,107.2 L426.2,105.5 L427.1,104.1 L428.0,103.2 L428.9,102.9 L429.8,103.1 L430.8,103.5 L431.7,104.0 L432.6,104.3 L433.5,104.4 L434.4,104.4 L435.4,104.3 L436.3,104.2 L437.2,104.1 L438.1,104.0 L439.1,104.0 L440.0,104.0 L440.9,103.9 L441.7,103.6 L442.5,103.3 L443.2,102.9 L443.9,102.3 L444.5,101.7 L445.2,100.8 L445.9,99.7 L446.6,98.4 L447.2,97.0 L447.9,95.7 L448.6,94.5 L449.3,93.6 L450.2,92.7 L450.9,92.0 L451.6,91.5 L452.1,91.1" fill="none" stroke="#404040" stroke-width="2.2" stroke-linejoin="round" stroke-linecap="round" opacity="1"/>
<defs><linearGradient id="sg1" x1="268.5" x2="452.7" y1="0" y2="0" gradientUnits="userSpaceOnUse"><stop offset="0.000" stop-color="#5cb85a" stop-opacity="0.12"/><stop offset="0.062" stop-color="#5cb85a" stop-opacity="0.22"/><stop offset="0.100" stop-color="#5cb85a" stop-opacity="0.42"/><stop offset="0.198" stop-color="#5cb85a" stop-opacity="0.42"/><stop offset="0.242" stop-color="#5cb85a" stop-opacity="0.32"/><stop offset="0.290" stop-color="#5cb85a" stop-opacity="0.36"/><stop offset="0.415" stop-color="#5cb85a" stop-opacity="0.36"/><stop offset="0.453" stop-color="#5cb85a" stop-opacity="0.55"/><stop offset="0.486" stop-color="#5cb85a" stop-opacity="0.72"/><stop offset="0.524" stop-color="#5cb85a" stop-opacity="0.6"/><stop offset="0.551" stop-color="#5cb85a" stop-opacity="0.42"/><stop offset="0.605" stop-color="#5cb85a" stop-opacity="0.3"/><stop offset="0.649" stop-color="#5cb85a" stop-opacity="0.32"/><stop offset="0.687" stop-color="#5cb85a" stop-opacity="0.45"/><stop offset="0.812" stop-color="#5cb85a" stop-opacity="0.42"/><stop offset="0.850" stop-color="#5cb85a" stop-opacity="0.36"/><stop offset="0.931" stop-color="#5cb85a" stop-opacity="0.45"/><stop offset="1.000" stop-color="#5cb85a" stop-opacity="0.42"/></linearGradient></defs>
<rect x="268.5" y="67.75" width="184.2" height="11.5" rx="5.75" fill="url(#sg1)" filter="url(#soft)"/>
<text x="328.6" y="94.6" font-family='"Liberation Sans", sans-serif' font-size="15.5" font-weight="normal" text-anchor="start" fill="#333" >p &lt; .001</text>
<path d="M455.2,67.5 C468,59 492,50 501.5,69" fill="none" stroke="#111" stroke-width="0.9"/>
<path d="M502.7,71.2 L496.3,66.1 L502.0,63.1Z" fill="#111"/>
<line x1="543.6" y1="60.4" x2="543.6" y2="186.2" stroke="#888" stroke-width="1"/>
<line x1="543.6" y1="186.2" x2="673" y2="186.2" stroke="#888" stroke-width="1"/>
<line x1="541.6" y1="75.5" x2="543.6" y2="75.5" stroke="#888" stroke-width="0.8"/>
<text x="539.0" y="78.6" font-family='"Liberation Sans", sans-serif' font-size="8.7" font-weight="normal" text-anchor="end" fill="#222" >0.12</text>
<line x1="541.6" y1="112.4" x2="543.6" y2="112.4" stroke="#888" stroke-width="0.8"/>
<text x="539.0" y="115.5" font-family='"Liberation Sans", sans-serif' font-size="8.7" font-weight="normal" text-anchor="end" fill="#222" >0.08</text>
<line x1="541.6" y1="149.3" x2="543.6" y2="149.3" stroke="#888" stroke-width="0.8"/>
<text x="539.0" y="152.4" font-family='"Liberation Sans", sans-serif' font-size="8.7" font-weight="normal" text-anchor="end" fill="#222" >0.04</text>
<line x1="541.6" y1="186.2" x2="543.6" y2="186.2" stroke="#888" stroke-width="0.8"/>
<text x="539.0" y="189.3" font-family='"Liberation Sans", sans-serif' font-size="8.7" font-weight="normal" text-anchor="end" fill="#222" >0.00</text>
<rect x="549.3" y="78.9" width="16.3" height="107.3" fill="#FCA25E"/>
<line x1="557.5" y1="66.7" x2="557.5" y2="91" stroke="#000" stroke-width="3.4"/>
<text transform="translate(560.5,178.2) rotate(-90)" font-family='"Liberation Sans", sans-serif' font-size="8.5" fill="#fff">attested</text>
<rect x="569.1" y="116" width="15.9" height="70.2" fill="#B4B4B4"/>
<line x1="577.0" y1="105.9" x2="577.0" y2="126.2" stroke="#000" stroke-width="3.4"/>
<text transform="translate(580.0,178.2) rotate(-90)" font-family='"Liberation Sans", sans-serif' font-size="8.5" fill="#fff">baseline</text>
<rect x="588.3" y="89.8" width="15.8" height="96.4" fill="#B2B1D8"/>
<line x1="596.2" y1="75.6" x2="596.2" y2="104.6" stroke="#000" stroke-width="3.4"/>
<text transform="translate(599.2,178.2) rotate(-90)" font-family='"Liberation Sans", sans-serif' font-size="8.5" fill="#fff">unattested</text>
<rect x="618.6" y="81.3" width="15.8" height="104.9" fill="#C64301"/>
<line x1="626.5" y1="67" x2="626.5" y2="96.3" stroke="#000" stroke-width="3.4"/>
<text transform="translate(629.5,178.2) rotate(-90)" font-family='"Liberation Sans", sans-serif' font-size="8.5" fill="#fff">attested</text>
<rect x="637.7" y="122" width="15.3" height="64.2" fill="#404040"/>
<line x1="645.4" y1="109.7" x2="645.4" y2="134.3" stroke="#000" stroke-width="3.4"/>
<text transform="translate(648.4,178.2) rotate(-90)" font-family='"Liberation Sans", sans-serif' font-size="8.5" fill="#fff">baseline</text>
<rect x="656.6" y="82.2" width="15.6" height="104.0" fill="#613D9B"/>
<line x1="664.4" y1="67.5" x2="664.4" y2="96.9" stroke="#000" stroke-width="3.4"/>
<text transform="translate(667.4,178.2) rotate(-90)" font-family='"Liberation Sans", sans-serif' font-size="8.5" fill="#fff">unattested</text>
<text x="575.5" y="199.3" font-family='"Liberation Sans", sans-serif' font-size="13" font-weight="bold" text-anchor="middle" fill="#A8A8A8" >first half</text>
<text x="647.4" y="199.3" font-family='"Liberation Sans", sans-serif' font-size="13" font-weight="bold" text-anchor="middle" fill="#111" >second half</text>
<text transform="translate(497.6,131.8) rotate(-90)" font-family='"Liberation Sans", sans-serif' font-size="12.8" font-weight="bold" text-anchor="middle" fill="#000">Activity strength</text>
<text transform="translate(515.7,131.8) rotate(-90)" font-family='"Liberation Sans", sans-serif' font-size="12.8" font-weight="bold" text-anchor="middle" fill="#000">(Absolute dSPM)</text>
<path d="M557.3,61.5 V47.2 H561.3 M572.7,47.2 H580.5 M591.9,47.2 H595.7 V61.5 M576.7,47.2 V61.5" fill="none" stroke="#8a8a8a" stroke-width="1"/>
<path d="M567.00,46.70 L567.00,44.10 M567.00,46.70 L569.47,45.90 M567.00,46.70 L568.53,48.80 M567.00,46.70 L565.47,48.80 M567.00,46.70 L564.53,45.90 " stroke="#000" stroke-width="1.6" stroke-linecap="round" fill="none"/>
<path d="M586.20,46.70 L586.20,44.10 M586.20,46.70 L588.67,45.90 M586.20,46.70 L587.73,48.80 M586.20,46.70 L584.67,48.80 M586.20,46.70 L583.73,45.90 " stroke="#000" stroke-width="1.6" stroke-linecap="round" fill="none"/>
<path d="M626.7,61.5 V47.2 H630.2 M641.6,47.2 H649.1 M660.6,47.2 H664.6 V61.5 M645.1,47.2 V61.5" fill="none" stroke="#8a8a8a" stroke-width="1"/>
<path d="M635.90,46.70 L635.90,44.10 M635.90,46.70 L638.37,45.90 M635.90,46.70 L637.43,48.80 M635.90,46.70 L634.37,48.80 M635.90,46.70 L633.43,45.90 " stroke="#000" stroke-width="1.6" stroke-linecap="round" fill="none"/>
<path d="M654.85,46.70 L654.85,44.10 M654.85,46.70 L657.32,45.90 M654.85,46.70 L656.38,48.80 M654.85,46.70 L653.32,48.80 M654.85,46.70 L652.38,45.90 " stroke="#000" stroke-width="1.6" stroke-linecap="round" fill="none"/>
<text transform="translate(7.9,304.9) scale(0.84,1)" font-family='"Liberation Serif", serif' font-size="29" font-weight="bold">B</text>
<text x="366.1" y="288.9" font-family='"Liberation Sans", sans-serif' font-size="20" font-weight="bold" text-anchor="middle" fill="#000" >Interaction between mispronunciation and exposure</text>
<text x="366.25" y="313.9" font-family='"Liberation Sans", sans-serif' font-size="20" font-weight="normal" text-anchor="middle" fill="#000" >Left orbito-frontal cortex</text>
<text transform="translate(42.2,402) rotate(-90)" font-family='"Liberation Sans", sans-serif' font-size="12.7" font-weight="bold" text-anchor="middle" fill="#000">Activity strength (dSPM)</text>
<line x1="88.6" y1="360.8" x2="90.19999999999999" y2="360.8" stroke="#999" stroke-width="0.8"/>
<text x="83.4" y="365.2" font-family='"Liberation Sans", sans-serif' font-size="12.8" font-weight="normal" text-anchor="end" fill="#111" >0.00</text>
<text x="82.4" y="412.8" font-family='"Liberation Sans", sans-serif' font-size="12.8" font-weight="normal" text-anchor="end" fill="#111" >-0.04</text>
<line x1="90" y1="456.1" x2="469.6" y2="456.1" stroke="#b0b0b0" stroke-width="1.3"/>
<line x1="107.3" y1="456.1" x2="107.3" y2="458.3" stroke="#888" stroke-width="0.8"/>
<text x="107.3" y="471" font-family='"Liberation Sans", sans-serif' font-size="12.6" font-weight="normal" text-anchor="middle" fill="#111" >-200</text>
<line x1="150.4" y1="456.1" x2="150.4" y2="458.3" stroke="#888" stroke-width="0.8"/>
<text x="150.4" y="471" font-family='"Liberation Sans", sans-serif' font-size="12.6" font-weight="normal" text-anchor="middle" fill="#111" >-100</text>
<line x1="193.5" y1="456.1" x2="193.5" y2="458.3" stroke="#888" stroke-width="0.8"/>
<text x="193.5" y="471" font-family='"Liberation Sans", sans-serif' font-size="12.6" font-weight="normal" text-anchor="middle" fill="#111" >0</text>
<line x1="236.5" y1="456.1" x2="236.5" y2="458.3" stroke="#888" stroke-width="0.8"/>
<text x="236.5" y="471" font-family='"Liberation Sans", sans-serif' font-size="12.6" font-weight="normal" text-anchor="middle" fill="#111" >100</text>
<line x1="279.6" y1="456.1" x2="279.6" y2="458.3" stroke="#888" stroke-width="0.8"/>
<text x="279.6" y="471" font-family='"Liberation Sans", sans-serif' font-size="12.6" font-weight="normal" text-anchor="middle" fill="#111" >200</text>
<line x1="322.7" y1="456.1" x2="322.7" y2="458.3" stroke="#888" stroke-width="0.8"/>
<text x="322.7" y="471" font-family='"Liberation Sans", sans-serif' font-size="12.6" font-weight="normal" text-anchor="middle" fill="#111" >300</text>
<line x1="365.8" y1="456.1" x2="365.8" y2="458.3" stroke="#888" stroke-width="0.8"/>
<text x="365.8" y="471" font-family='"Liberation Sans", sans-serif' font-size="12.6" font-weight="normal" text-anchor="middle" fill="#111" >400</text>
<line x1="408.9" y1="456.1" x2="408.9" y2="458.3" stroke="#888" stroke-width="0.8"/>
<text x="408.9" y="471" font-family='"Liberation Sans", sans-serif' font-size="12.6" font-weight="normal" text-anchor="middle" fill="#111" >500</text>
<line x1="451.9" y1="456.1" x2="451.9" y2="458.3" stroke="#888" stroke-width="0.8"/>
<text x="451.9" y="471" font-family='"Liberation Sans", sans-serif' font-size="12.6" font-weight="normal" text-anchor="middle" fill="#111" >600</text>
<defs><clipPath id="bc2"><path d="M94.6,425.8 L94.6,424.5 L94.7,422.6 L94.8,420.5 L95.3,418.5 L96.1,416.7 L97.1,414.9 L98.3,413.0 L99.7,411.2 L101.3,409.3 L103.0,407.5 L104.9,405.6 L107.0,403.9 L109.3,402.3 L111.8,400.8 L114.5,399.4 L117.2,398.1 L120.0,396.9 L123.0,395.7 L125.9,394.6 L128.9,393.7 L131.9,392.9 L134.8,392.2 L137.8,391.6 L140.6,391.1 L143.3,390.7 L145.9,390.5 L148.4,390.4 L150.8,390.5 L153.1,390.8 L155.4,391.4 L157.6,392.1 L159.5,393.0 L161.2,394.0 L162.6,395.2 L164.0,396.6 L165.4,398.1 L166.9,399.7 L168.3,401.5 L169.7,403.4 L171.2,405.4 L172.7,407.5 L174.2,409.7 L175.7,411.9 L177.1,414.1 L178.5,416.3 L179.9,418.6 L181.1,420.8 L182.2,422.9 L183.0,424.9 L183.7,426.8 L184.2,428.6 L184.4,430.2 L184.4,431.7 L184.2,433.0 L183.8,434.2 L182.9,435.3 L181.7,436.2 L180.1,436.9 L178.1,437.6 L175.6,438.2 L172.5,438.8 L168.8,439.3 L164.8,439.8 L161.0,440.4 L157.2,441.0 L153.4,441.7 L149.7,442.5 L146.4,443.3 L143.5,444.3 L140.8,445.4 L138.4,446.6 L136.2,447.7 L134.1,448.8 L132.2,450.0 L130.5,451.0 L128.9,451.8 L127.5,452.3 L126.3,452.5 L125.3,452.4 L124.5,452.1 L123.9,451.4 L123.6,450.3 L123.3,449.0 L123.0,447.7 L122.7,446.3 L122.5,444.7 L122.2,443.1 L121.6,441.9 L120.8,441.0 L119.9,440.4 L118.8,440.0 L117.2,439.7 L115.0,439.6 L112.3,439.7 L109.5,439.8 L107.0,439.7 L104.9,439.5 L102.9,439.2 L101.2,438.8 L99.7,438.2 L98.5,437.6 L97.5,436.9 L96.7,435.9 L96.0,434.6 L95.5,432.6 L95.1,430.0 L94.8,427.5 L94.6,425.8Z"/></clipPath></defs>
<path d="M94.6,425.8 L94.6,424.5 L94.7,422.6 L94.8,420.5 L95.3,418.5 L96.1,416.7 L97.1,414.9 L98.3,413.0 L99.7,411.2 L101.3,409.3 L103.0,407.5 L104.9,405.6 L107.0,403.9 L109.3,402.3 L111.8,400.8 L114.5,399.4 L117.2,398.1 L120.0,396.9 L123.0,395.7 L125.9,394.6 L128.9,393.7 L131.9,392.9 L134.8,392.2 L137.8,391.6 L140.6,391.1 L143.3,390.7 L145.9,390.5 L148.4,390.4 L150.8,390.5 L153.1,390.8 L155.4,391.4 L157.6,392.1 L159.5,393.0 L161.2,394.0 L162.6,395.2 L164.0,396.6 L165.4,398.1 L166.9,399.7 L168.3,401.5 L169.7,403.4 L171.2,405.4 L172.7,407.5 L174.2,409.7 L175.7,411.9 L177.1,414.1 L178.5,416.3 L179.9,418.6 L181.1,420.8 L182.2,422.9 L183.0,424.9 L183.7,426.8 L184.2,428.6 L184.4,430.2 L184.4,431.7 L184.2,433.0 L183.8,434.2 L182.9,435.3 L181.7,436.2 L180.1,436.9 L178.1,437.6 L175.6,438.2 L172.5,438.8 L168.8,439.3 L164.8,439.8 L161.0,440.4 L157.2,441.0 L153.4,441.7 L149.7,442.5 L146.4,443.3 L143.5,444.3 L140.8,445.4 L138.4,446.6 L136.2,447.7 L134.1,448.8 L132.2,450.0 L130.5,451.0 L128.9,451.8 L127.5,452.3 L126.3,452.5 L125.3,452.4 L124.5,452.1 L123.9,451.4 L123.6,450.3 L123.3,449.0 L123.0,447.7 L122.7,446.3 L122.5,444.7 L122.2,443.1 L121.6,441.9 L120.8,441.0 L119.9,440.4 L118.8,440.0 L117.2,439.7 L115.0,439.6 L112.3,439.7 L109.5,439.8 L107.0,439.7 L104.9,439.5 L102.9,439.2 L101.2,438.8 L99.7,438.2 L98.5,437.6 L97.5,436.9 L96.7,435.9 L96.0,434.6 L95.5,432.6 L95.1,430.0 L94.8,427.5 L94.6,425.8Z" fill="#636363"/>
<path d="M94.6,425.8 L94.6,424.5 L94.7,422.6 L94.8,420.5 L95.3,418.5 L96.1,416.7 L97.1,414.9 L98.3,413.0 L99.7,411.2 L101.3,409.3 L103.0,407.5 L104.9,405.6 L107.0,403.9 L109.3,402.3 L111.8,400.8 L114.5,399.4 L117.2,398.1 L120.0,396.9 L123.0,395.7 L125.9,394.6 L128.9,393.7 L131.9,392.9 L134.8,392.2 L137.8,391.6 L140.6,391.1 L143.3,390.7 L145.9,390.5 L148.4,390.4 L150.8,390.5 L153.1,390.8 L155.4,391.4 L157.6,392.1 L159.5,393.0 L161.2,394.0 L162.6,395.2 L164.0,396.6 L165.4,398.1 L166.9,399.7 L168.3,401.5 L169.7,403.4 L171.2,405.4 L172.7,407.5 L174.2,409.7 L175.7,411.9 L177.1,414.1 L178.5,416.3 L179.9,418.6 L181.1,420.8 L182.2,422.9 L183.0,424.9 L183.7,426.8 L184.2,428.6 L184.4,430.2 L184.4,431.7 L184.2,433.0 L183.8,434.2 L182.9,435.3 L181.7,436.2 L180.1,436.9 L178.1,437.6 L175.6,438.2 L172.5,438.8 L168.8,439.3 L164.8,439.8 L161.0,440.4 L157.2,441.0 L153.4,441.7 L149.7,442.5 L146.4,443.3 L143.5,444.3 L140.8,445.4 L138.4,446.6 L136.2,447.7 L134.1,448.8 L132.2,450.0 L130.5,451.0 L128.9,451.8 L127.5,452.3 L126.3,452.5 L125.3,452.4 L124.5,452.1 L123.9,451.4 L123.6,450.3 L123.3,449.0 L123.0,447.7 L122.7,446.3 L122.5,444.7 L122.2,443.1 L121.6,441.9 L120.8,441.0 L119.9,440.4 L118.8,440.0 L117.2,439.7 L115.0,439.6 L112.3,439.7 L109.5,439.8 L107.0,439.7 L104.9,439.5 L102.9,439.2 L101.2,438.8 L99.7,438.2 L98.5,437.6 L97.5,436.9 L96.7,435.9 L96.0,434.6 L95.5,432.6 L95.1,430.0 L94.8,427.5 L94.6,425.8Z" fill="#fff" filter="url(#brainTexB)"/>
<g clip-path="url(#bc2)"><path d="M94.6,425.8 L94.6,424.5 L94.7,422.6 L94.8,420.5 L95.3,418.5 L96.1,416.7 L97.1,414.9 L98.3,413.0 L99.7,411.2 L101.3,409.3 L103.0,407.5 L104.9,405.6 L107.0,403.9 L109.3,402.3 L111.8,400.8 L114.5,399.4 L117.2,398.1 L120.0,396.9 L123.0,395.7 L125.9,394.6 L128.9,393.7 L131.9,392.9 L134.8,392.2 L137.8,391.6 L140.6,391.1 L143.3,390.7 L145.9,390.5 L148.4,390.4 L150.8,390.5 L153.1,390.8 L155.4,391.4 L157.6,392.1 L159.5,393.0 L161.2,394.0 L162.6,395.2 L164.0,396.6 L165.4,398.1 L166.9,399.7 L168.3,401.5 L169.7,403.4 L171.2,405.4 L172.7,407.5 L174.2,409.7 L175.7,411.9 L177.1,414.1 L178.5,416.3 L179.9,418.6 L181.1,420.8 L182.2,422.9 L183.0,424.9 L183.7,426.8 L184.2,428.6 L184.4,430.2 L184.4,431.7 L184.2,433.0 L183.8,434.2 L182.9,435.3 L181.7,436.2 L180.1,436.9 L178.1,437.6 L175.6,438.2 L172.5,438.8 L168.8,439.3 L164.8,439.8 L161.0,440.4 L157.2,441.0 L153.4,441.7 L149.7,442.5 L146.4,443.3 L143.5,444.3 L140.8,445.4 L138.4,446.6 L136.2,447.7 L134.1,448.8 L132.2,450.0 L130.5,451.0 L128.9,451.8 L127.5,452.3 L126.3,452.5 L125.3,452.4 L124.5,452.1 L123.9,451.4 L123.6,450.3 L123.3,449.0 L123.0,447.7 L122.7,446.3 L122.5,444.7 L122.2,443.1 L121.6,441.9 L120.8,441.0 L119.9,440.4 L118.8,440.0 L117.2,439.7 L115.0,439.6 L112.3,439.7 L109.5,439.8 L107.0,439.7 L104.9,439.5 L102.9,439.2 L101.2,438.8 L99.7,438.2 L98.5,437.6 L97.5,436.9 L96.7,435.9 L96.0,434.6 L95.5,432.6 L95.1,430.0 L94.8,427.5 L94.6,425.8Z" fill="none" stroke="#3c3c3c" stroke-width="5" opacity="0.35" filter="url(#edgeblur)"/></g>
<path d="M94.6,425.8 L94.6,424.5 L94.7,422.6 L94.8,420.5 L95.3,418.5 L96.1,416.7 L97.1,414.9 L98.3,413.0 L99.7,411.2 L101.3,409.3 L103.0,407.5 L104.9,405.6 L107.0,403.9 L109.3,402.3 L111.8,400.8 L114.5,399.4 L117.2,398.1 L120.0,396.9 L123.0,395.7 L125.9,394.6 L128.9,393.7 L131.9,392.9 L134.8,392.2 L137.8,391.6 L140.6,391.1 L143.3,390.7 L145.9,390.5 L148.4,390.4 L150.8,390.5 L153.1,390.8 L155.4,391.4 L157.6,392.1 L159.5,393.0 L161.2,394.0 L162.6,395.2 L164.0,396.6 L165.4,398.1 L166.9,399.7 L168.3,401.5 L169.7,403.4 L171.2,405.4 L172.7,407.5 L174.2,409.7 L175.7,411.9 L177.1,414.1 L178.5,416.3 L179.9,418.6 L181.1,420.8 L182.2,422.9 L183.0,424.9 L183.7,426.8 L184.2,428.6 L184.4,430.2 L184.4,431.7 L184.2,433.0 L183.8,434.2 L182.9,435.3 L181.7,436.2 L180.1,436.9 L178.1,437.6 L175.6,438.2 L172.5,438.8 L168.8,439.3 L164.8,439.8 L161.0,440.4 L157.2,441.0 L153.4,441.7 L149.7,442.5 L146.4,443.3 L143.5,444.3 L140.8,445.4 L138.4,446.6 L136.2,447.7 L134.1,448.8 L132.2,450.0 L130.5,451.0 L128.9,451.8 L127.5,452.3 L126.3,452.5 L125.3,452.4 L124.5,452.1 L123.9,451.4 L123.6,450.3 L123.3,449.0 L123.0,447.7 L122.7,446.3 L122.5,444.7 L122.2,443.1 L121.6,441.9 L120.8,441.0 L119.9,440.4 L118.8,440.0 L117.2,439.7 L115.0,439.6 L112.3,439.7 L109.5,439.8 L107.0,439.7 L104.9,439.5 L102.9,439.2 L101.2,438.8 L99.7,438.2 L98.5,437.6 L97.5,436.9 L96.7,435.9 L96.0,434.6 L95.5,432.6 L95.1,430.0 L94.8,427.5 L94.6,425.8Z" fill="none" stroke="#4d4d4d" stroke-width="1.0" opacity="0.8"/>
<path d="M98.2,436.7 L104,436.4 L108.4,436 L110.5,433 L111.4,430.9 L114.3,428.7 L115.5,432 L116.5,436 L117.9,439.7 L109.9,440.4 L102.6,439.7Z" fill="#F7B57A" stroke="#222" stroke-width="0.6"/>
<path d="M107.0,355.4 L108.0,355.0 L109.5,354.3 L111.2,353.7 L113.0,353.7 L114.6,354.4 L116.1,355.6 L117.5,357.0 L119.0,358.2 L120.4,359.3 L121.9,360.0 L123.4,360.5 L124.8,360.9 L126.3,361.2 L127.7,361.5 L129.2,361.5 L130.7,361.4 L132.1,361.2 L133.6,361.1 L135.0,361.1 L136.5,361.3 L138.0,361.7 L139.4,362.1 L140.9,362.4 L142.3,362.4 L143.8,362.3 L145.3,362.0 L146.7,361.8 L148.2,361.8 L149.6,362.1 L151.1,362.7 L152.6,363.6 L154.0,364.8 L155.5,366.0 L156.9,367.3 L158.4,368.6 L159.9,370.0 L161.3,371.5 L162.8,373.0 L164.2,374.3 L165.7,375.2 L167.2,375.6 L168.6,375.5 L170.1,375.1 L171.5,374.7 L173.0,374.4 L174.5,374.4 L175.9,374.5 L177.4,374.7 L178.8,375.1 L180.3,375.5 L181.8,375.9 L183.2,376.3 L184.7,376.4 L186.1,376.3 L187.6,375.8 L189.0,375.2 L190.4,374.4 L191.8,373.8 L193.3,373.4 L195.0,373.6 L196.9,374.5 L199.0,376.0 L201.2,377.6 L203.4,378.8 L205.5,379.6 L207.6,380.0 L209.8,380.1 L212.0,380.3 L214.1,380.9 L216.0,382.3 L217.7,384.7 L219.3,387.4 L220.9,390.1 L222.4,392.4 L223.9,394.2 L225.5,395.5 L227.1,396.6 L228.6,397.7 L230.2,398.8 L231.8,399.7 L233.4,400.4 L235.0,400.7 L236.5,400.7 L238.1,400.5 L239.7,400.2 L241.3,399.6 L242.9,398.7 L244.4,397.6 L246.0,396.5 L247.6,395.6 L249.2,395.2 L250.7,395.1 L252.3,395.3 L253.8,395.4 L255.4,395.4 L257.0,395.1 L258.6,394.7 L260.1,394.5 L261.7,394.7 L263.3,395.3 L264.9,396.1 L266.4,396.8 L268.0,397.2 L269.6,397.0 L271.2,396.3 L272.9,395.5 L274.8,394.9 L276.6,395.0 L278.4,395.8 L280.0,396.9 L281.5,398.3 L282.8,399.7 L284.1,401.2 L285.3,402.6 L286.6,403.8 L287.9,404.7 L289.2,405.6 L290.5,406.3 L291.8,406.8 L293.1,407.2 L294.4,407.7 L295.7,408.5 L297.1,409.5 L298.4,410.8 L299.7,412.0 L301.0,413.1 L302.3,413.8 L303.7,414.0 L305.0,413.8 L306.3,413.2 L307.6,412.3 L308.9,411.0 L310.2,409.8 L311.5,408.7 L312.8,408.0 L314.1,407.6 L315.4,407.2 L316.8,406.9 L318.1,406.9 L319.4,407.3 L320.7,408.5 L322.0,410.3 L323.4,412.2 L324.7,413.7 L326.0,414.3 L327.3,413.8 L328.6,412.6 L330.0,411.0 L331.3,409.4 L332.6,408.1 L333.9,407.3 L335.2,406.6 L336.5,405.9 L337.8,405.3 L339.1,404.9 L340.4,404.7 L341.7,404.8 L343.1,405.3 L344.4,406.2 L345.7,407.3 L347.0,408.4 L348.3,409.6 L349.7,410.5 L351.0,410.9 L352.3,410.9 L353.6,410.6 L354.9,410.1 L356.2,409.7 L357.5,409.5 L358.8,409.4 L360.0,409.5 L361.2,409.7 L362.4,409.8 L363.7,409.8 L365.0,409.7 L366.5,409.3 L368.0,408.5 L369.7,407.2 L371.3,405.4 L372.9,403.3 L374.5,401.2 L376.1,399.4 L377.6,398.2 L379.2,397.5 L380.8,397.2 L382.4,397.0 L384.0,396.5 L385.5,395.6 L387.1,394.4 L388.7,393.1 L390.3,391.9 L391.8,391.0 L393.4,390.2 L394.9,389.6 L396.5,389.0 L398.1,388.5 L399.7,388.1 L401.2,387.9 L402.8,387.8 L404.4,387.7 L406.0,387.5 L407.6,387.1 L409.1,386.4 L410.7,385.7 L412.3,385.0 L413.9,384.3 L415.5,383.7 L417.0,383.0 L418.6,381.9 L420.2,380.7 L421.8,379.3 L423.4,377.9 L424.9,376.8 L426.5,375.9 L428.1,375.1 L429.7,374.3 L431.2,373.3 L432.8,372.2 L434.3,370.9 L435.9,369.6 L437.5,368.3 L439.1,367.2 L440.7,366.4 L442.3,365.9 L443.8,365.7 L445.3,365.9 L446.9,366.3 L448.3,366.7 L449.5,367.0 L450.4,367.0 L450.4,381.6 L449.5,382.0 L448.3,382.3 L446.9,382.7 L445.3,383.2 L443.8,383.8 L442.3,384.6 L440.7,385.4 L439.1,386.3 L437.5,387.2 L435.9,388.1 L434.3,389.0 L432.8,389.9 L431.2,390.9 L429.7,391.8 L428.1,392.9 L426.5,394.0 L424.9,395.3 L423.4,396.8 L421.8,398.2 L420.2,399.3 L418.6,400.0 L417.0,400.2 L415.5,400.0 L413.9,399.7 L412.3,399.5 L410.7,399.8 L409.1,400.5 L407.6,401.5 L406.0,402.6 L404.4,403.6 L402.8,404.6 L401.2,405.4 L399.7,406.0 L398.1,406.4 L396.5,406.6 L394.9,406.7 L393.4,406.7 L391.8,407.0 L390.3,407.7 L388.7,409.0 L387.1,410.8 L385.5,412.7 L384.0,414.5 L382.4,415.9 L380.8,416.8 L379.2,417.3 L377.6,417.8 L376.1,418.4 L374.5,419.3 L372.9,420.3 L371.3,421.4 L369.7,422.5 L368.0,423.5 L366.5,424.4 L365.0,425.3 L363.7,426.0 L362.4,426.7 L361.2,427.2 L360.0,427.6 L358.8,427.8 L357.5,427.9 L356.2,428.0 L354.9,427.9 L353.6,427.7 L352.3,427.3 L351.0,426.6 L349.7,425.6 L348.3,424.4 L347.0,423.3 L345.7,422.4 L344.4,421.9 L343.1,421.8 L341.7,422.1 L340.4,422.8 L339.1,423.6 L337.8,424.4 L336.5,425.1 L335.2,425.5 L333.9,425.7 L332.6,425.8 L331.3,426.2 L330.0,427.0 L328.6,428.0 L327.3,428.9 L326.0,429.3 L324.7,428.9 L323.4,427.9 L322.0,426.7 L320.7,425.7 L319.4,425.3 L318.1,425.5 L316.8,425.9 L315.4,426.2 L314.1,426.4 L312.8,426.3 L311.5,426.4 L310.2,426.8 L308.9,427.4 L307.6,428.1 L306.3,428.8 L305.0,429.4 L303.7,429.8 L302.3,430.1 L301.0,430.1 L299.7,429.7 L298.4,429.1 L297.1,428.2 L295.7,427.4 L294.4,426.5 L293.1,425.6 L291.8,424.6 L290.5,423.4 L289.2,421.9 L287.9,420.3 L286.6,418.8 L285.3,417.3 L284.1,415.8 L282.8,414.5 L281.5,413.4 L280.0,412.7 L278.4,412.3 L276.6,412.4 L274.8,412.8 L272.9,413.4 L271.2,414.0 L269.6,414.2 L268.0,413.9 L266.4,413.2 L264.9,412.3 L263.3,411.6 L261.7,411.4 L260.1,411.9 L258.6,412.8 L257.0,413.9 L255.4,414.7 L253.8,414.9 L252.3,414.7 L250.7,414.2 L249.2,413.6 L247.6,413.3 L246.0,413.4 L244.4,413.8 L242.9,414.5 L241.3,415.2 L239.7,415.9 L238.1,416.4 L236.5,416.7 L235.0,416.9 L233.4,416.6 L231.8,415.9 L230.2,414.8 L228.6,413.4 L227.1,412.0 L225.5,410.7 L223.9,409.4 L222.4,407.8 L220.9,405.8 L219.3,403.6 L217.7,401.5 L216.0,400.0 L214.1,399.2 L212.0,399.2 L209.8,399.4 L207.6,399.3 L205.5,398.7 L203.4,397.7 L201.2,396.2 L199.0,394.3 L196.9,392.4 L195.0,391.1 L193.3,390.6 L191.8,390.5 L190.4,390.7 L189.0,391.1 L187.6,391.3 L186.1,391.4 L184.7,391.3 L183.2,391.0 L181.8,390.6 L180.3,390.1 L178.8,389.8 L177.4,389.5 L175.9,389.4 L174.5,389.5 L173.0,389.7 L171.5,390.3 L170.1,391.1 L168.6,391.9 L167.2,392.5 L165.7,392.8 L164.2,392.5 L162.8,391.9 L161.3,390.9 L159.9,389.9 L158.4,388.8 L156.9,387.6 L155.5,386.2 L154.0,384.7 L152.6,383.1 L151.1,381.7 L149.6,380.6 L148.2,379.8 L146.7,379.5 L145.3,379.4 L143.8,379.5 L142.3,379.4 L140.9,379.2 L139.4,378.7 L138.0,377.9 L136.5,377.1 L135.0,376.2 L133.6,375.5 L132.1,375.0 L130.7,374.7 L129.2,374.4 L127.7,374.3 L126.3,374.4 L124.8,374.6 L123.4,375.0 L121.9,375.5 L120.4,375.8 L119.0,375.8 L117.5,375.3 L116.1,374.5 L114.6,373.7 L113.0,373.0 L111.2,372.9 L109.5,373.2 L108.0,373.8 L107.0,374.1Z" fill="#BDBDBD" opacity="0.32"/>
<path d="M107.0,352.3 L107.4,351.2 L108.1,349.7 L108.8,347.8 L109.5,345.7 L110.2,343.8 L110.8,341.9 L111.4,339.8 L111.9,337.8 L112.5,336.2 L113.1,335.5 L113.7,335.8 L114.3,336.8 L114.9,338.4 L115.5,340.3 L116.1,342.2 L116.7,344.2 L117.2,346.6 L117.7,349.1 L118.3,351.4 L119.0,353.2 L119.8,354.5 L120.6,355.4 L121.5,356.0 L122.4,356.3 L123.4,356.5 L124.5,356.5 L125.6,356.1 L126.8,355.4 L128.0,354.4 L129.2,353.3 L130.4,352.0 L131.7,350.5 L132.9,349.0 L134.0,347.6 L135.0,346.3 L135.8,345.0 L136.3,343.7 L136.8,342.5 L137.4,341.6 L138.0,341.2 L138.8,341.5 L139.5,342.4 L140.4,343.6 L141.3,344.9 L142.3,346.1 L143.4,347.2 L144.6,348.2 L145.9,349.0 L147.1,349.6 L148.2,349.8 L149.2,349.6 L150.0,349.1 L150.8,348.5 L151.7,348.2 L152.6,348.4 L153.7,349.4 L154.9,351.1 L156.1,353.0 L157.3,354.6 L158.4,355.6 L159.3,355.6 L160.2,355.0 L161.0,354.2 L161.9,353.5 L162.8,353.4 L163.9,354.1 L165.1,355.4 L166.3,357.0 L167.5,358.5 L168.6,359.6 L169.5,360.2 L170.4,360.7 L171.2,360.8 L172.1,360.7 L173.0,360.2 L174.1,359.2 L175.2,357.7 L176.4,356.1 L177.6,354.9 L178.8,354.3 L180.0,354.6 L181.2,355.6 L182.3,356.9 L183.5,358.0 L184.7,358.5 L185.9,358.1 L187.1,357.0 L188.3,355.6 L189.4,354.6 L190.5,354.5 L191.4,355.8 L192.3,357.9 L193.1,360.4 L194.0,362.6 L195.0,364.0 L196.2,364.3 L197.4,364.2 L198.8,364.0 L200.2,364.4 L201.6,365.5 L203.1,367.4 L204.7,369.5 L206.4,371.5 L208.0,373.0 L209.5,374.0 L210.9,374.6 L212.2,375.1 L213.5,375.7 L214.7,376.4 L216.0,377.3 L217.3,378.6 L218.6,380.1 L220.0,381.9 L221.3,383.7 L222.6,385.5 L223.9,387.2 L225.2,388.7 L226.6,390.1 L227.9,391.2 L229.2,392.0 L230.5,392.5 L231.8,393.0 L233.1,393.2 L234.4,393.4 L235.7,393.3 L237.0,393.1 L238.3,392.8 L239.7,392.5 L241.0,392.2 L242.3,391.9 L243.6,391.5 L244.9,390.8 L246.3,390.0 L247.6,389.4 L248.9,389.2 L250.2,389.4 L251.5,390.0 L252.8,390.8 L254.1,391.4 L255.4,391.6 L256.7,391.3 L258.0,390.7 L259.4,390.2 L260.7,389.7 L262.0,389.6 L263.3,389.7 L264.6,389.9 L266.0,390.0 L267.3,390.2 L268.6,390.6 L269.9,391.1 L271.3,392.0 L272.6,392.9 L273.9,393.7 L275.1,394.3 L276.2,394.5 L277.1,394.6 L278.0,394.6 L278.9,394.5 L280.0,394.4 L281.2,394.3 L282.5,394.4 L283.9,394.8 L285.3,395.7 L286.6,397.1 L287.9,398.8 L289.2,400.6 L290.5,402.3 L291.8,403.7 L293.1,404.8 L294.4,405.7 L295.7,406.7 L297.1,407.8 L298.4,409.0 L299.7,410.3 L301.0,411.7 L302.3,413.2 L303.7,414.7 L305.0,416.2 L306.3,417.7 L307.6,419.0 L308.9,420.2 L310.2,421.0 L311.5,421.5 L312.8,421.7 L314.1,421.6 L315.4,421.3 L316.8,420.9 L318.1,420.6 L319.4,420.7 L320.7,421.2 L322.0,422.2 L323.4,423.4 L324.7,424.3 L326.0,424.6 L327.3,423.9 L328.6,422.4 L330.0,420.4 L331.3,418.5 L332.6,417.2 L333.9,416.7 L335.2,416.9 L336.5,417.5 L337.8,418.1 L339.1,418.4 L340.4,418.4 L341.7,418.2 L343.1,418.1 L344.4,418.1 L345.7,418.2 L347.0,418.3 L348.3,418.1 L349.7,417.8 L351.0,417.4 L352.3,417.1 L353.6,417.0 L354.9,417.2 L356.2,417.6 L357.5,418.1 L358.8,418.6 L360.0,419.1 L361.2,419.6 L362.4,420.0 L363.7,420.1 L365.0,420.0 L366.5,419.5 L368.0,419.0 L369.7,418.4 L371.3,417.8 L372.9,416.9 L374.5,415.7 L376.1,414.1 L377.6,412.4 L379.2,410.7 L380.8,409.3 L382.4,408.3 L384.0,407.6 L385.5,407.2 L387.1,406.9 L388.7,406.7 L390.3,406.5 L391.8,406.2 L393.4,405.9 L394.9,405.3 L396.5,404.4 L398.1,403.2 L399.7,401.9 L401.2,400.9 L402.8,400.3 L404.4,400.4 L406.0,401.1 L407.6,402.0 L409.1,402.7 L410.7,402.8 L412.3,402.2 L413.9,401.0 L415.5,399.4 L417.0,397.8 L418.6,396.4 L420.2,395.2 L421.8,394.1 L423.4,393.3 L424.9,392.6 L426.5,392.0 L428.1,391.6 L429.7,391.0 L431.2,390.3 L432.8,389.2 L434.3,387.8 L435.9,386.2 L437.5,384.6 L439.1,383.4 L440.7,382.7 L442.3,382.4 L443.8,382.3 L445.3,382.1 L446.9,381.7 L448.3,381.0 L449.5,380.2 L450.4,379.6 L450.4,396.4 L449.5,397.0 L448.3,398.0 L446.9,399.2 L445.3,400.4 L443.8,401.4 L442.3,402.1 L440.7,402.8 L439.1,403.6 L437.5,404.5 L435.9,405.5 L434.3,406.3 L432.8,406.9 L431.2,407.2 L429.7,407.4 L428.1,407.7 L426.5,408.3 L424.9,409.2 L423.4,410.3 L421.8,411.6 L420.2,413.0 L418.6,414.4 L417.0,415.7 L415.5,417.0 L413.9,418.2 L412.3,419.1 L410.7,419.5 L409.1,419.3 L407.6,418.8 L406.0,418.3 L404.4,418.3 L402.8,418.9 L401.2,420.2 L399.7,421.8 L398.1,423.4 L396.5,424.7 L394.9,425.5 L393.4,425.8 L391.8,425.8 L390.3,425.7 L388.7,425.6 L387.1,425.5 L385.5,425.6 L384.0,425.9 L382.4,426.4 L380.8,427.3 L379.2,428.5 L377.6,429.9 L376.1,431.3 L374.5,432.5 L372.9,433.3 L371.3,433.8 L369.7,434.2 L368.0,434.7 L366.5,435.3 L365.0,435.9 L363.7,436.3 L362.4,436.4 L361.2,436.3 L360.0,436.1 L358.8,435.9 L357.5,435.7 L356.2,435.5 L354.9,435.5 L353.6,435.7 L352.3,436.2 L351.0,436.9 L349.7,437.7 L348.3,438.3 L347.0,438.7 L345.7,438.9 L344.4,438.9 L343.1,438.9 L341.7,438.9 L340.4,438.8 L339.1,438.5 L337.8,437.8 L336.5,436.7 L335.2,435.7 L333.9,435.1 L332.6,435.2 L331.3,436.3 L330.0,437.9 L328.6,439.7 L327.3,441.0 L326.0,441.5 L324.7,441.0 L323.4,439.8 L322.0,438.3 L320.7,436.9 L319.4,436.0 L318.1,435.5 L316.8,435.5 L315.4,435.8 L314.1,436.2 L312.8,436.6 L311.5,436.8 L310.2,437.0 L308.9,436.9 L307.6,436.6 L306.3,436.1 L305.0,435.5 L303.7,434.7 L302.3,433.7 L301.0,432.5 L299.7,431.2 L298.4,429.8 L297.1,428.3 L295.7,427.0 L294.4,425.8 L293.1,424.7 L291.8,423.6 L290.5,422.2 L289.2,420.7 L287.9,419.1 L286.6,417.6 L285.3,416.3 L283.9,415.3 L282.5,414.6 L281.2,414.0 L280.0,413.3 L278.9,412.6 L278.0,411.9 L277.1,411.2 L276.2,410.3 L275.1,409.2 L273.9,407.9 L272.6,406.4 L271.3,405.1 L269.9,404.3 L268.6,404.1 L267.3,404.3 L266.0,404.9 L264.6,405.6 L263.3,406.3 L262.0,406.8 L260.7,407.4 L259.4,408.1 L258.0,408.8 L256.7,409.3 L255.4,409.4 L254.1,409.1 L252.8,408.5 L251.5,408.0 L250.2,407.8 L248.9,408.2 L247.6,409.4 L246.3,411.0 L244.9,412.7 L243.6,414.2 L242.3,415.2 L241.0,415.7 L239.7,415.9 L238.3,415.6 L237.0,415.0 L235.7,414.0 L234.4,412.7 L233.1,411.3 L231.8,409.8 L230.5,408.5 L229.2,407.3 L227.9,406.2 L226.6,405.1 L225.2,403.9 L223.9,402.7 L222.6,401.4 L221.3,400.0 L220.0,398.3 L218.6,396.4 L217.3,394.5 L216.0,392.8 L214.7,391.3 L213.5,390.0 L212.2,389.1 L210.9,388.4 L209.5,388.0 L208.0,387.7 L206.4,387.5 L204.7,387.1 L203.1,386.8 L201.6,386.5 L200.2,386.6 L198.8,387.1 L197.4,387.5 L196.2,387.6 L195.0,386.9 L194.0,385.1 L193.1,382.3 L192.3,379.3 L191.4,376.6 L190.5,374.8 L189.4,374.3 L188.3,374.8 L187.1,375.8 L185.9,376.9 L184.7,377.4 L183.5,377.0 L182.3,376.1 L181.2,374.9 L180.0,374.0 L178.8,373.5 L177.6,373.7 L176.4,374.3 L175.2,375.0 L174.1,375.5 L173.0,375.6 L172.1,375.2 L171.2,374.6 L170.4,373.9 L169.5,372.9 L168.6,371.9 L167.5,370.5 L166.3,369.1 L165.1,368.0 L163.9,367.4 L162.8,367.5 L161.9,368.5 L161.0,369.9 L160.2,371.5 L159.3,372.9 L158.4,373.7 L157.3,373.4 L156.1,372.4 L154.9,370.9 L153.7,369.4 L152.6,368.4 L151.7,368.1 L150.8,368.3 L150.0,368.8 L149.2,369.3 L148.2,369.4 L147.1,369.2 L145.9,368.8 L144.6,368.3 L143.4,367.8 L142.3,367.2 L141.3,366.5 L140.4,365.6 L139.5,364.7 L138.8,364.0 L138.0,363.8 L137.4,364.2 L136.8,365.0 L136.3,366.2 L135.8,367.3 L135.0,368.2 L134.0,368.9 L132.9,369.5 L131.7,369.9 L130.4,370.2 L129.2,370.4 L128.0,370.5 L126.8,370.5 L125.6,370.6 L124.5,370.5 L123.4,370.3 L122.4,370.1 L121.5,369.9 L120.6,369.5 L119.8,368.8 L119.0,367.8 L118.3,366.2 L117.7,364.1 L117.2,361.8 L116.7,359.5 L116.1,357.6 L115.5,355.9 L114.9,354.2 L114.3,352.7 L113.7,351.7 L113.1,351.5 L112.5,352.2 L111.9,353.8 L111.4,355.8 L110.8,357.9 L110.2,359.8 L109.5,361.7 L108.8,363.8 L108.1,365.7 L107.4,367.4 L107.0,368.5Z" fill="#B4B2DA" opacity="0.45"/>
<path d="M107.0,355.9 L108.0,354.4 L109.5,352.3 L111.2,350.3 L113.0,348.7 L114.6,347.6 L116.1,346.9 L117.5,346.4 L119.0,346.5 L120.4,347.0 L121.9,347.7 L123.4,348.5 L124.8,349.2 L126.3,349.7 L127.7,350.0 L129.2,350.2 L130.7,350.2 L132.1,350.1 L133.6,350.0 L135.0,349.9 L136.5,350.2 L138.0,350.9 L139.4,351.9 L140.9,352.8 L142.3,353.4 L143.8,353.7 L145.3,353.8 L146.7,354.2 L148.2,354.7 L149.6,355.3 L151.1,355.6 L152.6,355.6 L154.0,355.4 L155.5,355.3 L156.9,355.2 L158.4,355.3 L159.9,355.3 L161.3,355.0 L162.8,354.4 L164.2,353.8 L165.7,353.5 L167.2,353.6 L168.6,353.9 L170.1,354.1 L171.5,354.1 L173.0,353.7 L174.5,353.3 L175.9,353.0 L177.4,353.0 L178.8,353.3 L180.3,354.0 L181.8,355.1 L183.2,356.5 L184.7,358.2 L186.1,359.9 L187.6,361.3 L189.1,362.2 L190.6,362.5 L192.1,362.5 L193.6,362.3 L195.0,362.2 L196.4,362.1 L197.7,361.9 L199.0,361.7 L200.3,361.7 L201.6,362.0 L202.9,363.0 L204.2,364.3 L205.5,365.7 L206.8,366.8 L208.1,367.5 L209.4,367.4 L210.7,366.9 L212.1,366.5 L213.4,366.6 L214.7,367.7 L216.0,369.7 L217.4,372.6 L218.8,375.8 L220.1,379.0 L221.3,382.0 L222.4,384.7 L223.5,387.2 L224.5,389.4 L225.5,391.3 L226.5,392.7 L227.6,393.6 L228.6,394.0 L229.7,394.1 L230.7,394.1 L231.8,393.9 L232.8,393.7 L233.9,393.5 L234.9,393.1 L236.0,392.6 L237.0,392.0 L238.1,391.1 L239.1,389.9 L240.2,388.7 L241.2,387.6 L242.3,386.9 L243.4,386.4 L244.4,386.0 L245.5,385.5 L246.5,384.9 L247.6,384.3 L248.6,384.0 L249.7,384.1 L250.7,384.4 L251.8,384.6 L252.8,384.4 L253.9,383.5 L255.0,382.1 L256.1,380.4 L257.1,378.6 L258.1,376.9 L258.9,375.2 L259.7,373.4 L260.4,371.6 L261.2,370.2 L262.0,369.5 L263.0,369.6 L264.0,370.3 L265.1,371.1 L266.2,372.0 L267.3,372.6 L268.3,373.1 L269.3,373.7 L270.3,374.4 L271.4,375.2 L272.5,376.1 L273.8,377.0 L275.3,377.8 L276.8,378.6 L278.1,379.5 L279.1,380.6 L279.6,381.7 L279.6,382.6 L279.5,383.5 L279.5,384.7 L280.0,386.3 L281.0,388.6 L282.2,391.6 L283.7,394.5 L285.2,397.0 L286.6,398.8 L287.9,399.6 L289.3,399.7 L290.6,399.5 L291.9,399.2 L293.1,399.2 L294.2,399.9 L295.3,401.2 L296.3,402.8 L297.4,404.3 L298.4,405.3 L299.4,405.5 L300.4,405.1 L301.3,404.4 L302.4,404.1 L303.6,404.5 L305.0,406.1 L306.6,408.7 L308.3,411.5 L310.0,413.4 L311.5,413.5 L312.9,411.5 L314.3,408.1 L315.6,404.4 L316.9,401.4 L318.1,400.0 L319.2,400.2 L320.3,401.2 L321.3,402.7 L322.3,404.4 L323.4,406.1 L324.6,407.8 L325.9,409.9 L327.2,411.8 L328.6,413.2 L329.9,413.5 L331.2,412.4 L332.5,410.5 L333.9,408.3 L335.2,406.5 L336.5,405.7 L337.8,406.1 L339.1,407.0 L340.5,408.2 L341.8,409.1 L343.1,409.5 L344.4,409.3 L345.7,408.6 L347.0,407.6 L348.3,406.5 L349.6,405.5 L350.9,404.9 L352.3,404.6 L353.6,404.8 L355.0,405.1 L356.2,405.2 L357.4,404.6 L358.5,403.5 L359.6,402.0 L360.6,400.6 L361.5,399.6 L362.3,398.9 L362.9,398.5 L363.5,398.1 L364.1,398.0 L365.0,398.0 L366.1,398.3 L367.4,398.7 L368.8,398.9 L370.2,398.9 L371.6,398.8 L372.9,398.5 L374.2,398.3 L375.5,398.1 L376.8,397.8 L378.1,397.4 L379.4,397.1 L380.7,397.0 L382.1,396.9 L383.4,397.0 L384.7,397.0 L386.0,396.7 L387.3,396.0 L388.7,394.9 L390.0,393.7 L391.3,392.4 L392.6,391.0 L393.9,389.3 L395.2,387.6 L396.5,385.8 L397.8,384.3 L399.1,383.4 L400.4,383.1 L401.8,383.5 L403.1,384.3 L404.4,385.2 L405.7,386.2 L407.0,387.3 L408.4,388.3 L409.7,388.9 L411.0,388.9 L412.3,388.2 L413.6,386.7 L415.0,384.7 L416.3,382.7 L417.6,381.1 L418.9,380.3 L420.2,380.2 L421.5,380.6 L422.8,381.2 L424.1,381.8 L425.4,382.1 L426.7,382.2 L428.1,382.1 L429.4,381.7 L430.7,381.0 L432.0,380.1 L433.3,378.8 L434.7,377.2 L436.0,375.3 L437.3,373.5 L438.6,371.8 L440.0,370.2 L441.4,368.9 L442.7,367.6 L443.8,366.5 L444.8,365.4 L445.6,364.3 L446.3,363.3 L447.0,362.6 L447.8,362.2 L448.6,362.3 L449.6,362.8 L450.4,363.4 L451.2,364.0 L451.7,364.3 L451.7,384.0 L451.2,383.5 L450.4,382.7 L449.6,381.8 L448.6,381.3 L447.8,381.2 L447.0,381.7 L446.3,382.6 L445.6,383.7 L444.8,385.1 L443.8,386.5 L442.7,388.0 L441.4,389.4 L440.0,390.7 L438.6,391.9 L437.3,392.9 L436.0,393.8 L434.7,394.4 L433.3,394.8 L432.0,394.9 L430.7,394.9 L429.4,394.9 L428.1,395.0 L426.7,395.3 L425.4,395.7 L424.1,396.2 L422.8,396.6 L421.5,397.0 L420.2,397.6 L418.9,398.5 L417.6,399.8 L416.3,401.6 L415.0,403.6 L413.6,405.3 L412.3,406.5 L411.0,406.9 L409.7,406.7 L408.4,406.1 L407.0,405.4 L405.7,404.7 L404.4,404.4 L403.1,404.3 L401.8,404.3 L400.4,404.7 L399.1,405.5 L397.8,406.6 L396.5,407.9 L395.2,409.2 L393.9,410.2 L392.6,410.8 L391.3,411.1 L390.0,411.3 L388.7,411.6 L387.3,411.9 L386.0,412.1 L384.7,412.3 L383.4,412.5 L382.1,412.7 L380.7,413.2 L379.4,413.8 L378.1,414.5 L376.8,415.1 L375.5,415.4 L374.2,415.5 L372.9,415.5 L371.6,415.3 L370.2,415.1 L368.8,414.7 L367.4,414.3 L366.1,414.1 L365.0,414.1 L364.1,414.4 L363.5,414.8 L362.9,415.5 L362.3,416.3 L361.5,417.5 L360.6,419.1 L359.6,421.2 L358.5,423.3 L357.4,425.0 L356.2,426.0 L355.0,426.2 L353.6,425.9 L352.3,425.5 L350.9,425.2 L349.6,425.3 L348.3,425.8 L347.0,426.4 L345.7,426.9 L344.4,427.3 L343.1,427.4 L341.8,427.0 L340.5,426.2 L339.1,425.3 L337.8,424.4 L336.5,424.1 L335.2,424.9 L333.9,426.4 L332.5,428.3 L331.2,429.9 L329.9,430.5 L328.6,429.8 L327.2,428.0 L325.9,425.8 L324.6,423.7 L323.4,421.9 L322.3,420.5 L321.3,419.0 L320.3,417.8 L319.2,417.1 L318.1,417.3 L316.9,419.1 L315.6,422.4 L314.3,426.4 L312.9,430.1 L311.5,432.2 L310.0,432.1 L308.3,430.2 L306.6,427.3 L305.0,424.7 L303.6,423.1 L302.4,422.7 L301.3,423.1 L300.4,423.8 L299.4,424.2 L298.4,424.1 L297.4,423.1 L296.3,421.6 L295.3,420.0 L294.2,418.6 L293.1,417.8 L291.9,417.7 L290.6,417.8 L289.3,417.9 L287.9,417.6 L286.6,416.7 L285.2,414.8 L283.7,412.2 L282.2,409.2 L281.0,406.3 L280.0,403.9 L279.5,402.3 L279.5,401.2 L279.6,400.2 L279.6,399.3 L279.1,398.3 L278.1,397.1 L276.8,396.1 L275.3,395.3 L273.8,394.4 L272.5,393.5 L271.4,392.6 L270.3,391.8 L269.3,391.2 L268.3,390.7 L267.3,390.3 L266.2,389.8 L265.1,389.2 L264.0,388.5 L263.0,388.0 L262.0,388.0 L261.2,388.8 L260.4,390.2 L259.7,392.0 L258.9,393.8 L258.1,395.4 L257.1,396.9 L256.1,398.6 L255.0,400.1 L253.9,401.2 L252.8,401.9 L251.8,402.0 L250.7,401.7 L249.7,401.3 L248.6,401.3 L247.6,401.7 L246.5,402.5 L245.5,403.2 L244.4,404.0 L243.4,404.7 L242.3,405.4 L241.2,406.4 L240.2,407.6 L239.1,408.8 L238.1,410.0 L237.0,410.7 L236.0,411.1 L234.9,411.3 L233.9,411.4 L232.8,411.4 L231.8,411.4 L230.7,411.4 L229.7,411.4 L228.6,411.3 L227.6,411.0 L226.5,410.3 L225.5,409.3 L224.5,407.8 L223.5,405.9 L222.4,403.8 L221.3,401.5 L220.1,398.7 L218.8,395.6 L217.4,392.2 L216.0,389.0 L214.7,386.3 L213.4,384.6 L212.1,383.8 L210.7,383.6 L209.4,383.6 L208.1,383.5 L206.8,382.9 L205.5,382.0 L204.2,380.9 L202.9,380.1 L201.6,379.8 L200.3,379.8 L199.0,380.2 L197.7,380.5 L196.4,380.6 L195.0,380.4 L193.6,380.0 L192.1,379.5 L190.6,379.1 L189.1,378.4 L187.6,377.5 L186.1,376.4 L184.7,375.4 L183.2,374.6 L181.8,374.2 L180.3,374.1 L178.8,374.1 L177.4,374.2 L175.9,374.3 L174.5,374.2 L173.0,374.0 L171.5,373.4 L170.1,372.5 L168.6,371.5 L167.2,370.6 L165.7,370.3 L164.2,370.6 L162.8,371.6 L161.3,372.7 L159.9,373.6 L158.4,374.0 L156.9,374.1 L155.5,373.9 L154.0,373.6 L152.6,372.9 L151.1,372.0 L149.6,370.7 L148.2,369.3 L146.7,368.3 L145.3,368.0 L143.8,368.3 L142.3,368.9 L140.9,369.4 L139.4,369.8 L138.0,370.1 L136.5,370.3 L135.0,370.6 L133.6,370.9 L132.1,370.8 L130.7,370.4 L129.2,369.8 L127.7,368.9 L126.3,368.1 L124.8,367.4 L123.4,366.8 L121.9,366.4 L120.4,366.3 L119.0,366.5 L117.5,367.1 L116.1,367.8 L114.6,368.5 L113.0,369.0 L111.2,369.4 L109.5,369.9 L108.0,370.6 L107.0,371.2Z" fill="#F9A060" opacity="0.42"/>
<path d="M107.0,347.4 L107.6,347.9 L108.5,348.7 L109.5,349.6 L110.6,350.5 L111.7,351.3 L112.8,352.0 L113.9,352.6 L115.1,353.3 L116.3,353.9 L117.5,354.5 L118.7,355.1 L119.9,355.7 L121.0,356.2 L122.2,356.6 L123.4,356.8 L124.6,356.8 L125.8,356.5 L127.0,356.2 L128.1,356.0 L129.2,356.0 L130.2,356.4 L131.1,357.1 L131.9,357.8 L132.7,358.3 L133.6,358.2 L134.5,357.5 L135.4,356.2 L136.2,354.7 L137.1,353.5 L138.0,352.8 L138.9,353.0 L139.7,353.6 L140.6,354.5 L141.4,355.5 L142.3,356.4 L143.2,357.5 L144.1,358.9 L144.9,360.4 L145.8,361.7 L146.7,362.6 L147.6,362.7 L148.4,362.3 L149.2,361.7 L150.1,360.9 L151.1,360.3 L152.2,359.9 L153.4,359.3 L154.6,358.7 L155.8,358.3 L156.9,358.3 L157.9,358.5 L158.8,358.9 L159.6,359.5 L160.4,360.3 L161.3,361.1 L162.2,362.2 L163.1,363.4 L163.9,364.8 L164.8,366.1 L165.7,367.4 L166.6,368.6 L167.4,369.6 L168.2,370.7 L169.1,371.8 L170.1,373.2 L171.2,374.8 L172.3,376.5 L173.5,378.0 L174.7,378.9 L175.9,379.0 L177.1,378.1 L178.3,376.6 L179.4,374.8 L180.6,373.0 L181.8,371.6 L183.0,370.6 L184.1,369.8 L185.3,369.2 L186.4,368.8 L187.6,368.8 L188.8,369.3 L190.1,370.3 L191.4,371.4 L192.5,372.2 L193.4,372.5 L193.9,372.2 L194.2,371.6 L194.3,370.9 L194.5,370.3 L195.0,369.9 L195.8,370.0 L196.8,370.2 L197.9,370.5 L199.1,370.6 L200.3,370.3 L201.5,369.3 L202.8,367.9 L204.1,366.4 L205.5,365.4 L206.8,365.1 L208.1,365.9 L209.4,367.4 L210.8,369.4 L212.1,371.6 L213.4,373.8 L214.7,375.8 L216.1,377.6 L217.5,379.2 L218.8,380.6 L220.0,381.8 L221.1,383.3 L222.2,384.9 L223.2,386.5 L224.2,388.1 L225.2,389.4 L226.3,390.5 L227.4,391.5 L228.5,392.3 L229.5,392.9 L230.5,393.0 L231.4,392.5 L232.2,391.5 L232.9,390.1 L233.6,388.7 L234.4,387.6 L235.2,386.6 L235.9,385.5 L236.7,384.4 L237.5,383.5 L238.4,382.7 L239.4,382.6 L240.4,383.1 L241.5,383.7 L242.5,384.0 L243.6,383.4 L244.7,381.6 L245.7,378.9 L246.8,375.9 L247.8,373.2 L248.9,371.2 L249.9,370.0 L251.0,369.2 L252.0,368.9 L253.1,368.9 L254.1,369.4 L255.2,370.4 L256.3,371.8 L257.4,373.3 L258.4,374.6 L259.4,375.5 L260.2,376.2 L261.0,376.9 L261.7,377.5 L262.5,377.9 L263.3,378.2 L264.3,378.2 L265.3,378.0 L266.3,377.9 L267.4,377.9 L268.6,378.3 L269.8,379.1 L271.2,380.1 L272.6,381.1 L273.9,382.1 L275.1,382.9 L276.2,383.6 L277.2,384.0 L278.1,384.2 L279.0,384.4 L280.0,384.4 L281.0,384.4 L282.0,384.3 L283.1,384.3 L284.2,384.5 L285.3,384.9 L286.5,385.7 L287.8,387.1 L289.1,388.7 L290.5,390.2 L291.8,391.3 L293.1,391.8 L294.4,391.8 L295.8,391.6 L297.1,391.5 L298.4,391.4 L299.7,391.7 L301.0,392.0 L302.4,392.1 L303.7,392.0 L305.0,391.6 L306.3,390.7 L307.6,389.6 L308.9,388.8 L310.2,388.4 L311.5,388.8 L312.8,390.1 L314.2,392.0 L315.5,393.9 L316.9,395.5 L318.1,396.4 L319.2,396.2 L320.3,395.5 L321.3,394.2 L322.4,392.7 L323.4,390.9 L324.4,388.9 L325.4,386.8 L326.4,384.6 L327.5,382.7 L328.6,381.3 L329.9,380.4 L331.2,379.8 L332.6,379.4 L333.9,379.2 L335.2,379.1 L336.3,379.4 L337.4,380.1 L338.4,381.0 L339.4,381.7 L340.4,382.1 L341.5,382.1 L342.5,381.7 L343.6,381.2 L344.6,380.7 L345.7,380.5 L346.7,380.9 L347.8,381.8 L348.8,382.9 L349.9,384.2 L350.9,385.2 L352.0,385.7 L353.1,385.9 L354.2,385.8 L355.2,385.8 L356.2,386.0 L357.1,386.7 L357.8,387.9 L358.5,389.0 L359.3,389.8 L360.1,389.8 L361.0,388.6 L361.9,386.5 L362.9,384.1 L363.9,381.8 L365.0,380.1 L366.2,379.3 L367.6,379.0 L369.0,379.1 L370.3,379.5 L371.6,379.7 L372.7,379.5 L373.7,378.9 L374.7,378.2 L375.7,377.7 L376.8,377.6 L378.0,378.2 L379.3,379.1 L380.7,380.1 L382.1,380.8 L383.4,380.8 L384.7,380.0 L386.0,378.7 L387.4,377.1 L388.7,375.4 L390.0,374.0 L391.3,372.8 L392.6,371.7 L393.9,370.9 L395.2,370.5 L396.5,370.7 L397.9,371.4 L399.3,372.3 L400.6,373.3 L402.0,374.3 L403.1,375.1 L404.0,376.0 L404.7,377.0 L405.4,377.9 L406.1,378.4 L407.0,378.1 L408.2,376.4 L409.5,373.7 L410.9,370.7 L412.3,368.4 L413.6,367.6 L414.7,368.9 L415.8,371.6 L416.8,374.8 L417.9,377.5 L418.9,378.7 L419.9,378.2 L421.0,376.5 L422.0,374.1 L423.1,371.6 L424.1,369.6 L425.2,368.0 L426.2,366.6 L427.3,365.4 L428.3,364.5 L429.4,364.0 L430.4,364.2 L431.4,364.9 L432.4,365.9 L433.5,366.8 L434.6,367.2 L435.9,367.3 L437.2,367.1 L438.6,366.7 L439.9,365.8 L441.2,364.5 L442.4,362.5 L443.4,360.0 L444.5,357.4 L445.5,355.0 L446.5,353.1 L447.5,351.9 L448.6,351.1 L449.6,350.6 L450.5,350.2 L451.1,350.0 L451.1,372.2 L450.5,372.4 L449.6,372.5 L448.6,372.7 L447.5,373.2 L446.5,374.0 L445.5,375.5 L444.5,377.5 L443.4,379.8 L442.4,382.1 L441.2,383.8 L439.9,385.1 L438.6,385.9 L437.2,386.4 L435.9,386.6 L434.6,386.5 L433.5,386.0 L432.4,385.0 L431.4,383.9 L430.4,382.9 L429.4,382.4 L428.3,382.6 L427.3,383.1 L426.2,384.0 L425.2,385.2 L424.1,386.6 L423.1,388.5 L422.0,391.1 L421.0,393.8 L419.9,395.9 L418.9,397.0 L417.9,396.4 L416.8,394.4 L415.8,392.0 L414.7,390.0 L413.6,389.4 L412.3,390.8 L410.9,393.6 L409.5,396.7 L408.2,399.4 L407.0,400.7 L406.1,400.8 L405.4,400.1 L404.7,398.9 L404.0,397.6 L403.1,396.5 L402.0,395.4 L400.6,394.3 L399.3,393.4 L397.9,392.7 L396.5,392.3 L395.2,392.5 L393.9,393.1 L392.6,393.9 L391.3,394.8 L390.0,395.6 L388.7,396.3 L387.4,397.0 L386.0,397.4 L384.7,397.6 L383.4,397.3 L382.1,396.4 L380.7,395.2 L379.3,394.1 L378.0,393.4 L376.8,393.4 L375.7,394.2 L374.7,395.5 L373.7,396.9 L372.7,398.3 L371.6,399.2 L370.3,399.7 L369.0,399.8 L367.6,399.9 L366.2,400.0 L365.0,400.6 L363.9,402.1 L362.9,404.2 L361.9,406.5 L361.0,408.5 L360.1,409.8 L359.3,410.0 L358.5,409.5 L357.8,408.7 L357.1,407.9 L356.2,407.8 L355.2,408.3 L354.2,409.1 L353.1,410.0 L352.0,410.5 L350.9,410.5 L349.9,409.7 L348.8,408.4 L347.8,406.8 L346.7,405.4 L345.7,404.2 L344.6,403.4 L343.6,402.7 L342.5,402.0 L341.5,401.2 L340.4,400.3 L339.4,399.1 L338.4,397.7 L337.4,396.5 L336.3,395.7 L335.2,395.5 L333.9,395.9 L332.6,396.6 L331.2,397.6 L329.9,398.7 L328.6,399.9 L327.5,401.3 L326.4,403.0 L325.4,404.9 L324.4,406.7 L323.4,408.2 L322.4,409.5 L321.3,410.7 L320.3,411.7 L319.2,412.3 L318.1,412.6 L316.9,412.4 L315.5,411.7 L314.2,411.1 L312.8,410.7 L311.5,411.0 L310.2,412.0 L308.9,413.6 L307.6,415.2 L306.3,416.6 L305.0,417.4 L303.7,417.4 L302.4,416.7 L301.0,415.6 L299.7,414.2 L298.4,413.0 L297.1,412.3 L295.8,412.1 L294.4,412.0 L293.1,412.1 L291.8,411.8 L290.5,410.9 L289.1,409.5 L287.8,407.9 L286.5,406.2 L285.3,404.8 L284.2,403.6 L283.1,402.6 L282.0,401.6 L281.0,400.8 L280.0,399.9 L279.0,399.2 L278.1,398.5 L277.2,397.8 L276.2,397.3 L275.1,396.7 L273.9,396.3 L272.6,396.2 L271.2,396.4 L269.8,396.9 L268.6,397.4 L267.4,398.1 L266.3,399.0 L265.3,399.8 L264.3,400.5 L263.3,400.8 L262.5,400.7 L261.7,400.3 L261.0,399.6 L260.2,398.9 L259.4,398.1 L258.4,397.0 L257.4,395.6 L256.3,394.0 L255.2,392.6 L254.1,391.8 L253.1,391.6 L252.0,391.8 L251.0,392.6 L249.9,393.8 L248.9,395.4 L247.8,397.6 L246.8,400.5 L245.7,403.4 L244.7,405.8 L243.6,407.1 L242.5,407.0 L241.5,405.8 L240.4,404.2 L239.4,402.6 L238.4,401.8 L237.5,401.7 L236.7,401.8 L235.9,402.3 L235.2,402.8 L234.4,403.3 L233.6,404.1 L232.9,405.3 L232.2,406.5 L231.4,407.5 L230.5,408.1 L229.5,408.1 L228.5,407.9 L227.4,407.5 L226.3,407.0 L225.2,406.3 L224.2,405.3 L223.2,404.0 L222.2,402.6 L221.1,401.2 L220.0,399.9 L218.8,398.7 L217.5,397.5 L216.1,396.2 L214.7,394.8 L213.4,393.4 L212.1,391.9 L210.8,390.5 L209.4,389.4 L208.1,388.9 L206.8,389.0 L205.5,389.9 L204.1,391.5 L202.8,393.1 L201.5,394.5 L200.3,395.3 L199.1,395.2 L197.9,394.5 L196.8,393.6 L195.8,392.8 L195.0,392.3 L194.5,392.3 L194.3,392.8 L194.2,393.4 L193.9,393.9 L193.4,393.9 L192.5,393.1 L191.4,391.7 L190.1,390.1 L188.8,388.6 L187.6,387.6 L186.4,387.2 L185.3,387.2 L184.1,387.4 L183.0,387.9 L181.8,388.5 L180.6,389.6 L179.4,391.0 L178.3,392.6 L177.1,393.9 L175.9,394.7 L174.7,394.6 L173.5,393.9 L172.3,392.8 L171.2,391.4 L170.1,390.2 L169.1,389.3 L168.2,388.6 L167.4,388.0 L166.6,387.4 L165.7,386.7 L164.8,385.9 L163.9,385.0 L163.1,384.1 L162.2,383.3 L161.3,382.7 L160.4,382.2 L159.6,381.8 L158.8,381.5 L157.9,381.4 L156.9,381.5 L155.8,382.0 L154.6,382.7 L153.4,383.5 L152.2,384.2 L151.1,384.7 L150.1,385.2 L149.2,385.9 L148.4,386.4 L147.6,386.6 L146.7,386.1 L145.8,384.9 L144.9,383.1 L144.1,381.1 L143.2,379.2 L142.3,377.6 L141.4,376.2 L140.6,374.7 L139.7,373.3 L138.9,372.2 L138.0,371.7 L137.1,371.9 L136.2,372.8 L135.4,374.1 L134.5,375.2 L133.6,375.8 L132.7,375.7 L131.9,375.1 L131.1,374.3 L130.2,373.5 L129.2,373.0 L128.1,372.9 L127.0,373.0 L125.8,373.2 L124.6,373.3 L123.4,373.2 L122.2,373.0 L121.0,372.6 L119.9,372.3 L118.7,372.0 L117.5,371.9 L116.3,372.0 L115.1,372.2 L113.9,372.5 L112.8,372.7 L111.7,372.9 L110.6,372.9 L109.5,372.7 L108.5,372.3 L107.6,371.9 L107.0,371.5Z" fill="#8A8A8A" opacity="0.68"/>
<path d="M107.0,355.3 L107.6,355.5 L108.5,355.6 L109.5,355.8 L110.6,355.8 L111.7,355.9 L112.8,356.2 L113.9,356.7 L115.1,357.2 L116.3,357.5 L117.5,357.3 L118.7,356.5 L119.9,355.3 L121.0,353.8 L122.2,352.2 L123.4,350.8 L124.6,349.5 L125.8,348.2 L127.0,347.2 L128.1,346.6 L129.2,346.4 L130.2,346.6 L131.1,347.0 L131.9,347.7 L132.7,348.4 L133.6,349.1 L134.5,349.8 L135.3,350.8 L136.1,351.8 L137.0,352.7 L138.0,353.6 L139.1,354.3 L140.3,355.2 L141.5,356.0 L142.7,356.8 L143.8,357.4 L144.7,357.7 L145.6,357.7 L146.4,357.6 L147.3,357.5 L148.2,357.5 L149.3,357.7 L150.5,357.8 L151.7,357.9 L152.9,358.0 L154.0,358.2 L154.9,358.6 L155.8,359.1 L156.6,359.7 L157.5,360.0 L158.4,360.0 L159.5,359.7 L160.7,359.3 L161.9,359.0 L163.1,358.5 L164.2,357.9 L165.2,356.8 L166.1,355.1 L166.9,353.3 L167.7,351.8 L168.6,351.0 L169.5,351.1 L170.4,351.9 L171.2,352.9 L172.1,354.1 L173.0,355.1 L173.9,356.1 L174.7,357.3 L175.5,358.5 L176.4,359.3 L177.4,359.6 L178.5,359.1 L179.6,357.9 L180.8,356.5 L182.0,355.3 L183.2,354.8 L184.4,355.1 L185.6,356.0 L186.7,357.4 L187.9,359.0 L189.1,360.6 L190.3,362.2 L191.5,363.6 L192.7,364.7 L193.9,365.7 L195.0,366.5 L196.1,367.4 L197.2,368.4 L198.2,369.4 L199.3,370.2 L200.3,370.7 L201.3,370.3 L202.4,369.4 L203.4,368.5 L204.5,367.9 L205.5,368.2 L206.6,369.8 L207.6,372.1 L208.7,374.9 L209.7,377.7 L210.8,380.2 L211.8,382.1 L212.9,383.8 L213.9,385.2 L215.0,386.3 L216.0,387.0 L217.1,387.4 L218.1,387.5 L219.2,387.5 L220.2,387.7 L221.3,388.1 L222.4,388.9 L223.4,390.0 L224.5,391.3 L225.5,392.7 L226.5,393.8 L227.4,394.9 L228.2,395.8 L229.0,396.5 L229.7,396.9 L230.5,396.7 L231.3,395.9 L232.1,394.5 L232.8,392.8 L233.6,391.0 L234.4,389.4 L235.2,388.0 L236.0,386.6 L236.8,385.2 L237.6,383.8 L238.4,382.3 L239.2,380.6 L240.0,378.8 L240.7,377.1 L241.5,375.9 L242.3,375.2 L243.1,375.4 L243.9,376.2 L244.6,377.4 L245.4,379.0 L246.2,380.8 L247.0,382.9 L247.8,385.4 L248.6,388.0 L249.4,390.2 L250.2,391.6 L251.0,392.1 L251.8,391.8 L252.5,391.1 L253.3,390.1 L254.1,389.0 L254.9,388.0 L255.7,386.8 L256.5,385.6 L257.3,384.2 L258.1,382.8 L258.9,381.1 L259.7,379.1 L260.4,377.3 L261.2,375.7 L262.0,374.6 L262.8,373.9 L263.6,373.6 L264.4,373.6 L265.2,374.2 L266.0,375.5 L266.8,377.8 L267.6,381.0 L268.3,384.6 L269.1,388.0 L269.9,390.6 L270.7,392.4 L271.5,393.6 L272.2,394.4 L273.0,394.7 L273.8,394.7 L274.6,393.9 L275.4,392.4 L276.2,390.6 L277.0,389.2 L277.8,388.7 L278.6,389.4 L279.4,391.0 L280.2,393.1 L280.9,395.2 L281.7,396.8 L282.4,397.8 L283.1,398.5 L283.8,399.0 L284.5,399.4 L285.3,399.9 L286.2,400.4 L287.3,400.7 L288.3,400.9 L289.4,401.2 L290.5,401.6 L291.6,402.3 L292.6,403.0 L293.7,403.9 L294.7,405.0 L295.8,406.3 L296.9,408.0 L297.9,410.0 L299.0,412.3 L300.0,414.6 L301.0,416.7 L302.0,418.9 L302.9,421.4 L303.8,423.9 L304.7,426.0 L305.6,427.3 L306.5,427.6 L307.5,427.2 L308.4,426.1 L309.3,424.7 L310.2,423.2 L311.0,421.4 L311.8,419.1 L312.6,416.7 L313.4,414.4 L314.2,412.5 L315.0,411.2 L315.8,410.2 L316.5,409.5 L317.3,409.1 L318.1,409.1 L318.9,409.5 L319.6,410.3 L320.3,411.4 L321.1,412.5 L322.0,413.3 L323.0,413.8 L324.0,414.2 L325.1,414.5 L326.2,414.8 L327.3,415.1 L328.4,415.2 L329.4,415.0 L330.5,414.8 L331.5,414.6 L332.6,414.6 L333.6,414.7 L334.7,415.0 L335.7,415.2 L336.8,415.5 L337.8,415.7 L338.9,416.2 L339.9,416.9 L341.0,417.8 L342.0,418.6 L343.1,419.2 L344.1,419.4 L345.2,419.2 L346.2,418.8 L347.3,418.4 L348.3,418.1 L349.4,418.0 L350.5,417.9 L351.6,417.9 L352.6,418.0 L353.6,418.1 L354.5,418.6 L355.3,419.2 L356.0,419.9 L356.7,420.2 L357.5,419.9 L358.3,418.9 L359.1,417.3 L359.9,415.3 L360.7,413.3 L361.5,411.4 L362.2,409.4 L362.8,407.2 L363.5,405.1 L364.2,403.5 L365.0,402.6 L365.9,402.7 L366.9,403.8 L368.0,405.2 L369.1,406.4 L370.3,406.7 L371.5,405.9 L372.9,404.4 L374.2,402.6 L375.6,401.0 L376.8,399.8 L377.9,399.2 L378.9,398.9 L379.9,398.7 L381.0,398.4 L382.1,397.8 L383.4,396.6 L384.7,394.9 L386.1,393.4 L387.4,392.5 L388.7,392.5 L389.8,393.9 L390.9,396.3 L391.9,398.9 L392.9,401.2 L393.9,402.5 L394.9,402.6 L396.0,401.9 L397.0,400.7 L398.1,399.3 L399.2,398.2 L400.4,397.4 L401.8,396.7 L403.1,396.0 L404.5,395.2 L405.7,394.2 L406.8,392.8 L407.9,391.1 L408.9,389.5 L410.0,388.2 L411.0,387.6 L412.0,388.0 L413.0,389.2 L414.0,390.6 L415.1,391.7 L416.2,391.8 L417.5,390.5 L418.8,388.1 L420.2,385.3 L421.5,382.6 L422.8,380.5 L423.9,379.2 L425.0,378.2 L426.0,377.6 L427.1,377.6 L428.1,378.3 L429.1,380.4 L430.2,383.6 L431.2,387.0 L432.3,389.8 L433.3,391.0 L434.4,390.0 L435.4,387.5 L436.5,384.2 L437.5,381.0 L438.6,378.7 L439.6,377.2 L440.7,376.2 L441.7,375.3 L442.8,374.5 L443.8,373.8 L444.9,373.2 L446.0,372.9 L447.2,372.9 L448.2,373.1 L449.1,373.3 L449.8,373.3 L450.5,373.2 L451.0,373.0 L451.4,372.9 L451.7,372.8 L451.7,389.5 L451.4,389.8 L451.0,390.2 L450.5,390.6 L449.8,391.1 L449.1,391.6 L448.2,391.9 L447.2,392.3 L446.0,392.7 L444.9,393.2 L443.8,393.8 L442.8,394.4 L441.7,394.8 L440.7,395.2 L439.6,395.7 L438.6,396.6 L437.5,398.4 L436.5,401.1 L435.4,404.1 L434.4,406.4 L433.3,407.4 L432.3,406.5 L431.2,404.1 L430.2,401.1 L429.1,398.5 L428.1,397.0 L427.1,396.8 L426.0,397.2 L425.0,398.1 L423.9,399.2 L422.8,400.5 L421.5,402.2 L420.2,404.3 L418.8,406.3 L417.5,407.8 L416.2,408.4 L415.1,407.8 L414.0,406.4 L413.0,404.9 L412.0,403.7 L411.0,403.5 L410.0,404.4 L408.9,406.0 L407.9,408.1 L406.8,410.3 L405.7,412.2 L404.5,413.7 L403.1,414.8 L401.8,415.6 L400.4,416.1 L399.2,416.6 L398.1,417.4 L397.0,418.4 L396.0,419.3 L394.9,419.8 L393.9,419.6 L392.9,418.3 L391.9,416.1 L390.9,413.6 L389.8,411.6 L388.7,410.7 L387.4,411.3 L386.1,412.8 L384.7,414.9 L383.4,417.0 L382.1,418.3 L381.0,418.9 L379.9,419.1 L378.9,419.0 L377.9,418.9 L376.8,419.0 L375.6,419.6 L374.2,420.7 L372.9,422.0 L371.5,423.1 L370.3,423.7 L369.1,423.3 L368.0,422.1 L366.9,420.8 L365.9,419.8 L365.0,419.7 L364.2,420.7 L363.5,422.4 L362.8,424.5 L362.2,426.6 L361.5,428.6 L360.7,430.5 L359.9,432.4 L359.1,434.2 L358.3,435.7 L357.5,436.6 L356.7,436.7 L356.0,436.2 L355.3,435.5 L354.5,434.7 L353.6,434.2 L352.6,434.0 L351.6,434.0 L350.5,434.1 L349.4,434.5 L348.3,434.9 L347.3,435.5 L346.2,436.4 L345.2,437.2 L344.1,437.8 L343.1,438.0 L342.0,437.7 L341.0,437.2 L339.9,436.6 L338.9,436.1 L337.8,435.8 L336.8,435.6 L335.7,435.4 L334.7,435.1 L333.6,434.9 L332.6,434.7 L331.5,434.7 L330.5,434.8 L329.4,435.0 L328.4,435.0 L327.3,434.8 L326.2,434.4 L325.1,433.9 L324.0,433.3 L323.0,432.6 L322.0,431.8 L321.1,430.8 L320.3,429.4 L319.6,428.1 L318.9,427.0 L318.1,426.4 L317.3,426.2 L316.5,426.3 L315.8,426.8 L315.0,427.6 L314.2,428.8 L313.4,430.5 L312.6,432.7 L311.8,435.0 L311.0,437.2 L310.2,438.9 L309.3,440.4 L308.4,441.8 L307.5,442.8 L306.5,443.3 L305.6,443.0 L304.7,441.7 L303.8,439.6 L302.9,437.2 L302.0,434.7 L301.0,432.6 L300.0,430.6 L299.0,428.6 L297.9,426.6 L296.9,424.8 L295.8,423.5 L294.7,422.7 L293.7,422.2 L292.6,421.9 L291.6,421.7 L290.5,421.6 L289.4,421.6 L288.3,421.7 L287.3,421.8 L286.2,421.7 L285.3,421.3 L284.5,420.8 L283.8,420.3 L283.1,419.7 L282.4,418.9 L281.7,417.7 L280.9,415.9 L280.2,413.6 L279.4,411.2 L278.6,409.3 L277.8,408.3 L277.0,408.6 L276.2,409.9 L275.4,411.5 L274.6,412.8 L273.8,413.5 L273.0,413.5 L272.2,413.1 L271.5,412.2 L270.7,410.9 L269.9,409.1 L269.1,406.4 L268.3,402.9 L267.6,399.1 L266.8,395.7 L266.0,393.1 L265.2,391.5 L264.4,390.6 L263.6,390.1 L262.8,390.0 L262.0,390.2 L261.2,390.8 L260.4,392.0 L259.7,393.5 L258.9,395.1 L258.1,396.5 L257.3,397.8 L256.5,399.0 L255.7,400.3 L254.9,401.6 L254.1,402.8 L253.3,404.2 L252.5,405.6 L251.8,406.8 L251.0,407.6 L250.2,407.6 L249.4,406.8 L248.6,405.3 L247.8,403.3 L247.0,401.3 L246.2,399.6 L245.4,398.3 L244.6,397.0 L243.9,395.9 L243.1,395.3 L242.3,395.2 L241.5,395.9 L240.7,397.1 L240.0,398.7 L239.2,400.5 L238.4,402.0 L237.6,403.4 L236.8,404.8 L236.0,406.2 L235.2,407.6 L234.4,409.2 L233.6,410.9 L232.8,413.0 L232.1,414.9 L231.3,416.6 L230.5,417.8 L229.7,418.2 L229.0,418.2 L228.2,417.7 L227.4,416.9 L226.5,416.0 L225.5,414.7 L224.5,413.1 L223.4,411.4 L222.4,409.6 L221.3,407.9 L220.2,406.5 L219.2,405.3 L218.1,404.2 L217.1,403.1 L216.0,401.8 L215.0,400.4 L213.9,398.9 L212.9,397.3 L211.8,395.5 L210.8,393.7 L209.7,391.6 L208.7,389.3 L207.6,387.0 L206.6,385.2 L205.5,384.2 L204.5,384.3 L203.4,385.1 L202.4,386.2 L201.3,387.1 L200.3,387.3 L199.3,386.8 L198.2,385.7 L197.2,384.5 L196.1,383.4 L195.0,382.6 L193.9,382.0 L192.7,381.6 L191.5,381.1 L190.3,380.7 L189.1,380.2 L187.9,379.7 L186.7,379.2 L185.6,378.8 L184.4,378.6 L183.2,378.7 L182.0,379.3 L180.8,380.2 L179.6,381.0 L178.5,381.4 L177.4,381.0 L176.4,379.8 L175.5,378.1 L174.7,376.2 L173.9,374.3 L173.0,372.7 L172.1,371.2 L171.2,369.7 L170.4,368.4 L169.5,367.6 L168.6,367.5 L167.7,368.4 L166.9,370.0 L166.1,372.0 L165.2,373.8 L164.2,375.1 L163.1,375.7 L161.9,375.9 L160.7,375.9 L159.5,375.7 L158.4,375.4 L157.5,374.8 L156.6,373.9 L155.8,372.9 L154.9,371.9 L154.0,371.2 L152.9,370.7 L151.7,370.6 L150.5,370.9 L149.3,371.5 L148.2,372.3 L147.3,373.2 L146.4,374.2 L145.6,375.2 L144.7,376.2 L143.8,376.9 L142.7,377.3 L141.5,377.4 L140.3,377.2 L139.1,376.6 L138.0,375.8 L137.0,374.8 L136.1,373.6 L135.3,372.3 L134.5,371.0 L133.6,369.9 L132.7,368.8 L131.9,367.9 L131.1,367.0 L130.2,366.4 L129.2,366.2 L128.1,366.5 L127.0,367.4 L125.8,368.6 L124.6,370.2 L123.4,371.6 L122.2,373.1 L121.0,374.5 L119.9,375.6 L118.7,376.1 L117.5,376.0 L116.3,375.1 L115.1,373.7 L113.9,372.0 L112.8,370.5 L111.7,369.4 L110.6,368.7 L109.5,368.3 L108.5,368.0 L107.6,368.0 L107.0,367.9Z" fill="#C8612E" opacity="0.45"/>
<path d="M107.0,348.5 L107.6,349.2 L108.4,350.2 L109.4,351.3 L110.5,352.5 L111.7,353.5 L113.0,354.4 L114.5,355.1 L116.1,355.7 L117.6,356.4 L119.0,357.2 L120.3,358.0 L121.5,358.9 L122.7,359.7 L123.8,360.6 L124.8,361.4 L125.7,362.3 L126.6,363.4 L127.4,364.2 L128.3,364.8 L129.2,364.8 L130.3,364.0 L131.5,362.4 L132.7,360.5 L133.9,358.7 L135.0,357.5 L135.9,357.3 L136.8,357.6 L137.6,358.3 L138.4,359.2 L139.4,360.1 L140.5,361.2 L141.7,362.8 L143.0,364.7 L144.2,366.5 L145.3,367.7 L146.2,368.1 L147.1,367.8 L147.8,367.1 L148.7,366.2 L149.6,365.3 L150.7,364.4 L151.8,363.3 L153.1,362.1 L154.3,360.9 L155.5,360.0 L156.7,359.2 L157.9,358.7 L159.1,358.5 L160.2,358.5 L161.3,358.8 L162.2,359.3 L163.1,360.1 L163.9,361.0 L164.8,362.0 L165.7,362.9 L166.8,363.9 L168.0,364.6 L169.2,365.2 L170.4,365.7 L171.5,366.0 L172.5,366.7 L173.4,367.6 L174.2,368.5 L175.0,369.1 L175.9,369.2 L176.8,368.6 L177.6,367.5 L178.4,366.3 L179.3,365.2 L180.3,364.4 L181.4,363.7 L182.6,362.9 L183.8,362.3 L185.0,361.7 L186.1,361.6 L187.1,362.0 L188.0,362.9 L188.8,363.9 L189.6,364.8 L190.5,365.0 L191.4,364.5 L192.3,363.5 L193.1,362.2 L194.0,361.1 L195.0,360.4 L196.0,360.5 L197.1,361.1 L198.1,362.1 L199.2,363.1 L200.3,363.8 L201.3,364.0 L202.3,364.1 L203.3,364.0 L204.4,363.9 L205.5,364.0 L206.8,363.9 L208.1,363.5 L209.5,362.9 L210.8,362.2 L212.1,361.9 L213.2,362.1 L214.3,362.8 L215.4,363.8 L216.4,365.3 L217.3,367.0 L218.2,369.2 L218.9,371.8 L219.7,374.6 L220.4,377.4 L221.3,380.0 L222.3,382.4 L223.3,384.7 L224.4,387.0 L225.4,389.2 L226.5,391.2 L227.6,393.0 L228.6,394.5 L229.7,395.7 L230.7,396.5 L231.8,397.1 L232.8,397.5 L233.9,397.8 L234.9,397.9 L236.0,398.0 L237.0,397.9 L238.1,397.6 L239.2,397.3 L240.3,396.8 L241.3,396.1 L242.3,395.1 L243.1,393.4 L243.9,391.0 L244.6,388.4 L245.4,386.2 L246.2,384.6 L247.2,384.1 L248.2,384.3 L249.3,384.9 L250.4,385.4 L251.5,385.6 L252.6,385.2 L253.6,384.6 L254.7,383.9 L255.7,383.2 L256.8,382.5 L257.8,381.9 L258.9,381.4 L259.9,381.0 L261.0,380.9 L262.0,381.1 L263.1,381.6 L264.1,382.3 L265.2,383.1 L266.2,383.9 L267.3,384.9 L268.3,386.1 L269.4,387.5 L270.4,389.0 L271.5,390.4 L272.5,391.6 L273.6,392.6 L274.8,393.6 L275.9,394.4 L276.9,394.9 L277.8,395.2 L278.4,395.2 L278.7,394.9 L279.0,394.5 L279.3,394.2 L280.0,394.0 L281.0,393.9 L282.3,393.8 L283.8,394.0 L285.2,394.6 L286.6,395.6 L287.9,397.3 L289.2,399.3 L290.5,401.4 L291.8,403.2 L293.1,404.4 L294.4,404.9 L295.7,405.2 L297.1,405.3 L298.4,405.4 L299.7,405.7 L301.0,406.1 L302.3,406.4 L303.7,406.8 L305.0,407.2 L306.3,407.9 L307.6,408.7 L308.9,409.8 L310.2,410.9 L311.5,411.8 L312.8,412.3 L314.1,412.2 L315.4,411.6 L316.8,410.6 L318.1,409.7 L319.4,409.1 L320.7,409.0 L322.0,409.5 L323.4,410.1 L324.7,410.7 L326.0,410.9 L327.3,410.4 L328.7,409.4 L330.1,408.3 L331.4,407.4 L332.6,407.0 L333.7,407.5 L334.7,408.6 L335.7,409.8 L336.7,410.5 L337.8,410.1 L339.1,408.3 L340.4,405.5 L341.8,402.6 L343.1,400.4 L344.4,399.6 L345.5,400.3 L346.6,402.0 L347.6,404.0 L348.6,406.0 L349.6,407.2 L350.7,407.4 L351.7,407.0 L352.8,406.2 L353.8,405.5 L354.9,405.2 L356.0,405.5 L357.0,406.1 L358.0,406.9 L359.1,407.8 L360.1,408.8 L361.1,409.9 L362.0,411.2 L362.9,412.6 L363.9,413.8 L365.0,414.8 L366.2,415.4 L367.5,415.9 L368.9,416.1 L370.3,416.1 L371.6,415.8 L372.9,415.0 L374.2,413.7 L375.5,412.0 L376.8,410.2 L378.1,408.5 L379.4,407.0 L380.7,406.0 L382.1,405.2 L383.4,404.6 L384.7,404.2 L386.0,403.7 L387.3,403.1 L388.7,402.5 L390.0,401.8 L391.3,401.1 L392.6,400.2 L393.9,399.2 L395.2,398.0 L396.5,396.6 L397.8,395.3 L399.1,394.0 L400.4,392.9 L401.8,392.3 L403.1,392.3 L404.4,393.1 L405.7,394.7 L407.0,396.9 L408.4,399.0 L409.7,400.7 L411.0,401.2 L412.3,400.6 L413.6,399.2 L415.0,397.3 L416.3,395.3 L417.6,393.6 L418.9,392.4 L420.2,391.3 L421.5,390.4 L422.8,389.6 L424.1,388.9 L425.4,388.3 L426.7,388.0 L428.1,387.6 L429.4,387.0 L430.7,386.1 L432.0,384.7 L433.3,382.7 L434.7,380.5 L436.0,378.5 L437.3,377.1 L438.6,376.5 L440.0,376.9 L441.4,377.8 L442.7,378.7 L443.8,379.2 L444.8,379.2 L445.6,378.9 L446.3,378.3 L447.0,377.5 L447.8,376.5 L448.6,375.2 L449.6,373.6 L450.4,371.8 L451.2,370.2 L451.7,369.1 L451.7,386.3 L451.2,387.5 L450.4,389.3 L449.6,391.4 L448.6,393.4 L447.8,395.0 L447.0,396.3 L446.3,397.5 L445.6,398.4 L444.8,399.1 L443.8,399.6 L442.7,399.5 L441.4,399.0 L440.0,398.4 L438.6,398.1 L437.3,398.5 L436.0,399.7 L434.7,401.4 L433.3,403.2 L432.0,404.7 L430.7,405.6 L429.4,406.0 L428.1,406.1 L426.7,406.1 L425.4,406.1 L424.1,406.2 L422.8,406.5 L421.5,407.0 L420.2,407.6 L418.9,408.3 L417.6,409.3 L416.3,410.8 L415.0,412.6 L413.6,414.5 L412.3,416.0 L411.0,416.7 L409.7,416.3 L408.4,415.0 L407.0,413.1 L405.7,411.3 L404.4,410.0 L403.1,409.6 L401.8,409.9 L400.4,410.8 L399.1,412.2 L397.8,413.8 L396.5,415.4 L395.2,417.1 L393.9,418.6 L392.6,420.0 L391.3,421.2 L390.0,422.3 L388.7,423.2 L387.3,423.9 L386.0,424.5 L384.7,424.9 L383.4,425.0 L382.1,425.1 L380.7,425.3 L379.4,425.8 L378.1,426.6 L376.8,427.8 L375.5,429.2 L374.2,430.6 L372.9,431.7 L371.6,432.5 L370.3,432.9 L368.9,433.0 L367.5,432.9 L366.2,432.6 L365.0,432.0 L363.9,430.9 L362.9,429.5 L362.0,428.0 L361.1,426.4 L360.1,425.1 L359.1,424.0 L358.0,422.8 L357.0,421.9 L356.0,421.2 L354.9,421.1 L353.8,421.6 L352.8,422.6 L351.7,423.9 L350.7,424.9 L349.6,425.2 L348.6,424.6 L347.6,423.3 L346.6,421.7 L345.5,420.4 L344.4,420.0 L343.1,421.0 L341.8,423.1 L340.4,425.6 L339.1,427.9 L337.8,429.1 L336.7,429.0 L335.7,427.9 L334.7,426.4 L333.7,425.1 L332.6,424.6 L331.4,425.1 L330.1,426.3 L328.7,427.8 L327.3,429.2 L326.0,430.1 L324.7,430.1 L323.4,429.6 L322.0,428.7 L320.7,427.7 L319.4,427.1 L318.1,426.9 L316.8,427.1 L315.4,427.4 L314.1,427.6 L312.8,427.5 L311.5,427.1 L310.2,426.6 L308.9,426.2 L307.6,425.9 L306.3,425.9 L305.0,426.1 L303.7,426.2 L302.3,426.1 L301.0,425.8 L299.7,425.2 L298.4,424.4 L297.1,423.6 L295.7,422.8 L294.4,421.9 L293.1,421.0 L291.8,419.7 L290.5,418.0 L289.2,416.4 L287.9,414.9 L286.6,414.1 L285.2,413.8 L283.8,413.9 L282.3,414.1 L281.0,414.2 L280.0,414.1 L279.3,414.1 L279.0,414.3 L278.7,414.6 L278.4,414.7 L277.8,414.4 L276.9,413.6 L275.9,412.3 L274.8,410.8 L273.6,409.2 L272.5,407.7 L271.5,406.3 L270.4,404.8 L269.4,403.5 L268.3,402.4 L267.3,401.8 L266.2,401.4 L265.2,401.3 L264.1,401.2 L263.1,401.1 L262.0,401.0 L261.0,401.0 L259.9,401.2 L258.9,401.4 L257.8,401.6 L256.8,401.6 L255.7,401.7 L254.7,401.7 L253.6,401.8 L252.6,401.8 L251.5,401.7 L250.4,401.3 L249.3,400.7 L248.2,400.4 L247.2,400.5 L246.2,401.5 L245.4,403.5 L244.6,406.2 L243.9,409.2 L243.1,412.0 L242.3,414.2 L241.3,415.6 L240.3,416.5 L239.2,417.0 L238.1,417.1 L237.0,417.0 L236.0,416.6 L234.9,415.9 L233.9,415.1 L232.8,414.2 L231.8,413.3 L230.7,412.3 L229.7,411.3 L228.6,410.1 L227.6,408.8 L226.5,407.5 L225.4,406.1 L224.4,404.6 L223.3,403.1 L222.3,401.4 L221.3,399.6 L220.4,397.4 L219.7,394.9 L218.9,392.3 L218.2,389.8 L217.3,387.6 L216.4,385.6 L215.4,383.9 L214.3,382.3 L213.2,381.1 L212.1,380.3 L210.8,379.9 L209.5,380.1 L208.1,380.6 L206.8,381.0 L205.5,381.3 L204.4,381.6 L203.3,382.2 L202.3,382.7 L201.3,383.1 L200.3,383.1 L199.2,382.6 L198.1,381.6 L197.1,380.5 L196.0,379.5 L195.0,379.0 L194.0,379.1 L193.1,379.7 L192.3,380.4 L191.4,380.9 L190.5,380.9 L189.6,380.3 L188.8,379.1 L188.0,377.9 L187.1,376.9 L186.1,376.5 L185.0,377.0 L183.8,378.0 L182.6,379.3 L181.4,380.7 L180.3,382.0 L179.3,383.3 L178.4,384.8 L177.6,386.3 L176.8,387.6 L175.9,388.3 L175.0,388.3 L174.2,387.6 L173.4,386.6 L172.5,385.6 L171.5,384.7 L170.4,384.1 L169.2,383.5 L168.0,382.8 L166.8,382.0 L165.7,381.3 L164.8,380.5 L163.9,379.8 L163.1,379.1 L162.2,378.7 L161.3,378.5 L160.2,378.6 L159.1,378.9 L157.9,379.4 L156.7,379.9 L155.5,380.5 L154.3,381.1 L153.1,381.8 L151.8,382.4 L150.7,382.9 L149.6,383.2 L148.7,383.6 L147.8,384.1 L147.1,384.4 L146.2,384.4 L145.3,383.7 L144.2,382.3 L143.0,380.4 L141.7,378.5 L140.5,377.0 L139.4,376.0 L138.4,375.3 L137.6,374.5 L136.8,373.9 L135.9,373.6 L135.0,373.9 L133.9,375.1 L132.7,376.9 L131.5,378.9 L130.3,380.5 L129.2,381.3 L128.3,381.4 L127.4,380.9 L126.6,380.2 L125.7,379.4 L124.8,378.7 L123.8,378.2 L122.7,377.8 L121.5,377.4 L120.3,377.1 L119.0,376.8 L117.6,376.5 L116.1,376.2 L114.5,375.9 L113.0,375.3 L111.7,374.4 L110.5,373.3 L109.4,372.0 L108.4,370.7 L107.6,369.6 L107.0,368.8Z" fill="#7A5CAC" opacity="0.5"/>
<path d="M107.0,364.7 L108.0,364.4 L109.5,363.9 L111.2,363.4 L113.0,363.3 L114.6,363.7 L116.1,364.4 L117.5,365.1 L119.0,365.6 L120.4,366.0 L121.9,366.1 L123.4,366.3 L124.8,366.5 L126.3,367.0 L127.7,367.6 L129.2,368.3 L130.7,368.8 L132.1,369.2 L133.6,369.6 L135.0,369.9 L136.5,370.3 L138.0,370.7 L139.4,371.0 L140.9,371.2 L142.3,371.2 L143.8,371.1 L145.3,371.1 L146.7,371.2 L148.2,371.6 L149.6,372.4 L151.1,373.5 L152.6,374.7 L154.0,375.9 L155.5,376.9 L156.9,377.8 L158.4,378.4 L159.9,379.0 L161.3,379.7 L162.8,380.5 L164.2,381.3 L165.7,381.9 L167.2,382.2 L168.6,382.2 L170.1,382.1 L171.5,381.9 L173.0,381.9 L174.5,382.0 L175.9,382.1 L177.4,382.3 L178.8,382.4 L180.3,382.6 L181.8,382.9 L183.2,383.2 L184.7,383.5 L186.1,383.8 L187.6,383.9 L189.0,384.0 L190.4,384.0 L191.8,384.0 L193.3,384.3 L195.0,384.8 L196.9,385.7 L199.0,386.8 L201.2,387.6 L203.4,388.0 L205.5,388.2 L207.6,388.4 L209.8,388.6 L212.0,388.8 L214.1,389.4 L216.0,390.6 L217.7,392.4 L219.3,394.5 L220.9,396.7 L222.4,398.5 L223.9,400.0 L225.5,401.2 L227.1,402.6 L228.6,404.3 L230.2,406.2 L231.8,407.9 L233.4,409.3 L235.0,410.3 L236.5,410.7 L238.1,410.7 L239.7,410.3 L241.3,409.4 L242.9,408.2 L244.4,406.9 L246.0,405.8 L247.6,405.1 L249.2,404.9 L250.7,405.1 L252.3,405.5 L253.8,405.8 L255.4,405.6 L257.0,405.0 L258.6,404.0 L260.1,403.0 L261.7,402.2 L263.3,402.1 L264.9,402.3 L266.4,402.7 L268.0,403.0 L269.6,403.1 L271.2,403.0 L272.9,402.7 L274.8,402.7 L276.6,403.2 L278.4,404.1 L280.0,405.2 L281.5,406.4 L282.8,407.8 L284.1,409.3 L285.3,410.7 L286.6,412.1 L287.9,413.5 L289.2,414.8 L290.5,416.0 L291.8,417.1 L293.1,418.0 L294.4,418.8 L295.7,419.8 L297.1,420.8 L298.4,421.8 L299.7,422.6 L301.0,423.1 L302.3,423.1 L303.7,422.7 L305.0,421.9 L306.3,420.9 L307.6,419.6 L308.9,418.3 L310.2,417.0 L311.5,416.1 L312.8,415.6 L314.1,415.2 L315.4,414.9 L316.8,414.6 L318.1,414.5 L319.4,414.7 L320.7,415.5 L322.0,417.0 L323.4,418.7 L324.7,420.0 L326.0,420.7 L327.3,420.4 L328.6,419.6 L330.0,418.5 L331.3,417.6 L332.6,417.1 L333.9,417.0 L335.2,416.8 L336.5,416.6 L337.8,416.3 L339.1,415.8 L340.4,415.5 L341.7,415.3 L343.1,415.5 L344.4,415.9 L345.7,416.6 L347.0,417.6 L348.3,418.6 L349.7,419.5 L351.0,420.0 L352.3,420.1 L353.6,419.9 L354.9,419.5 L356.2,419.0 L357.5,418.5 L358.8,418.1 L360.0,417.7 L361.2,417.3 L362.4,416.8 L363.7,416.3 L365.0,415.7 L366.5,415.0 L368.0,414.2 L369.7,413.1 L371.3,411.8 L372.9,410.4 L374.5,409.1 L376.1,408.0 L377.6,407.3 L379.2,406.9 L380.8,406.6 L382.4,406.3 L384.0,405.6 L385.5,404.7 L387.1,403.5 L388.7,402.4 L390.3,401.5 L391.8,401.0 L393.4,400.7 L394.9,400.4 L396.5,399.9 L398.1,399.2 L399.7,398.4 L401.2,397.5 L402.8,396.5 L404.4,395.6 L406.0,394.6 L407.6,393.7 L409.1,392.7 L410.7,392.0 L412.3,391.5 L413.9,391.2 L415.5,391.0 L417.0,390.6 L418.6,389.7 L420.2,388.5 L421.8,386.9 L423.4,385.4 L424.9,384.1 L426.5,383.2 L428.1,382.6 L429.7,382.3 L431.2,382.0 L432.8,381.6 L434.3,381.1 L435.9,380.4 L437.5,379.6 L439.1,378.6 L440.7,377.6 L442.3,376.6 L443.8,375.8 L445.3,375.3 L446.9,375.1 L448.3,375.1 L449.5,375.1 L450.4,375.0" fill="none" stroke="#B4B4B4" stroke-width="2.0" stroke-linejoin="round" stroke-linecap="round" opacity="1"/>
<path d="M107.0,364.6 L108.0,363.6 L109.5,362.3 L111.2,361.2 L113.0,360.3 L114.6,359.5 L116.1,358.8 L117.5,358.1 L119.0,357.6 L120.4,357.5 L121.9,357.6 L123.4,357.9 L124.8,358.2 L126.3,358.5 L127.7,358.8 L129.2,359.1 L130.7,359.2 L132.1,359.2 L133.6,359.0 L135.0,358.7 L136.5,358.6 L138.0,358.8 L139.4,359.1 L140.9,359.5 L142.3,359.7 L143.8,359.8 L145.3,360.0 L146.7,360.7 L148.2,361.8 L149.6,363.2 L151.1,364.3 L152.6,365.1 L154.0,365.5 L155.5,365.8 L156.9,366.0 L158.4,366.0 L159.9,365.8 L161.3,365.3 L162.8,364.5 L164.2,363.7 L165.7,363.5 L167.2,363.7 L168.6,364.2 L170.1,364.7 L171.5,364.9 L173.0,364.7 L174.5,364.2 L175.9,363.5 L177.4,362.9 L178.8,362.5 L180.3,362.4 L181.8,362.7 L183.2,363.4 L184.7,364.6 L186.1,366.1 L187.6,367.6 L189.1,368.7 L190.6,369.6 L192.1,370.1 L193.6,370.4 L195.0,370.7 L196.4,370.8 L197.7,370.7 L199.0,370.5 L200.3,370.3 L201.6,370.6 L202.9,371.5 L204.2,372.9 L205.5,374.5 L206.8,376.0 L208.1,377.1 L209.4,377.5 L210.7,377.6 L212.1,377.8 L213.4,378.4 L214.7,379.6 L216.0,381.7 L217.4,384.3 L218.8,387.1 L220.1,389.7 L221.3,392.0 L222.4,394.1 L223.5,396.1 L224.5,397.9 L225.5,399.4 L226.5,400.5 L227.6,401.2 L228.6,401.7 L229.7,401.8 L230.7,401.9 L231.8,401.8 L232.8,401.8 L233.9,401.6 L234.9,401.3 L236.0,400.8 L237.0,400.1 L238.1,399.0 L239.1,397.6 L240.2,396.1 L241.2,394.8 L242.3,393.8 L243.4,393.2 L244.4,392.7 L245.5,392.3 L246.5,391.9 L247.6,391.7 L248.6,391.8 L249.7,392.4 L250.7,393.3 L251.8,394.1 L252.8,394.5 L253.9,394.1 L255.0,393.2 L256.1,391.8 L257.1,390.2 L258.1,388.5 L258.9,386.8 L259.7,384.8 L260.4,382.9 L261.2,381.3 L262.0,380.3 L263.0,380.1 L264.0,380.4 L265.1,381.0 L266.2,381.6 L267.3,382.1 L268.3,382.6 L269.3,383.2 L270.3,384.0 L271.4,384.9 L272.5,385.9 L273.8,386.9 L275.3,387.6 L276.8,388.0 L278.1,388.6 L279.1,389.3 L279.6,390.2 L279.6,391.0 L279.5,392.0 L279.5,393.1 L280.0,394.5 L281.0,396.4 L282.2,398.7 L283.7,401.1 L285.2,403.1 L286.6,404.7 L287.9,405.6 L289.3,406.1 L290.6,406.4 L291.9,406.7 L293.1,407.3 L294.2,408.5 L295.3,410.3 L296.3,412.3 L297.4,414.0 L298.4,415.2 L299.4,415.5 L300.4,415.0 L301.3,414.3 L302.4,413.9 L303.6,414.2 L305.0,415.7 L306.6,418.4 L308.3,421.3 L310.0,423.6 L311.5,424.3 L312.9,422.6 L314.3,419.5 L315.6,415.9 L316.9,412.9 L318.1,411.2 L319.2,411.0 L320.3,411.5 L321.3,412.5 L322.3,413.6 L323.4,414.5 L324.6,415.7 L325.9,417.2 L327.2,418.7 L328.6,419.8 L329.9,420.1 L331.2,419.3 L332.5,417.6 L333.9,415.8 L335.2,414.3 L336.5,413.8 L337.8,414.3 L339.1,415.3 L340.5,416.3 L341.8,417.1 L343.1,417.4 L344.4,417.0 L345.7,416.4 L347.0,415.6 L348.3,414.8 L349.6,414.3 L350.9,414.3 L352.3,414.8 L353.6,415.6 L355.0,416.5 L356.2,417.0 L357.4,416.6 L358.5,415.5 L359.6,413.9 L360.6,412.3 L361.5,410.9 L362.3,409.9 L362.9,409.2 L363.5,408.6 L364.1,408.1 L365.0,407.8 L366.1,407.6 L367.4,407.5 L368.8,407.5 L370.2,407.4 L371.6,407.2 L372.9,407.1 L374.2,406.9 L375.5,406.8 L376.8,406.4 L378.1,405.9 L379.4,405.4 L380.7,404.8 L382.1,404.3 L383.4,404.0 L384.7,403.5 L386.0,403.0 L387.3,402.2 L388.7,401.4 L390.0,400.5 L391.3,399.8 L392.6,399.1 L393.9,398.2 L395.2,397.1 L396.5,396.0 L397.8,395.0 L399.1,394.4 L400.4,394.2 L401.8,394.5 L403.1,395.0 L404.4,395.7 L405.7,396.4 L407.0,397.3 L408.4,398.2 L409.7,398.8 L411.0,398.9 L412.3,398.4 L413.6,397.1 L415.0,395.3 L416.3,393.3 L417.6,391.6 L418.9,390.5 L420.2,389.9 L421.5,389.7 L422.8,389.6 L424.1,389.5 L425.4,389.2 L426.7,388.7 L428.1,388.2 L429.4,387.7 L430.7,387.2 L432.0,386.6 L433.3,385.7 L434.7,384.6 L436.0,383.4 L437.3,382.0 L438.6,380.7 L440.0,379.4 L441.4,378.1 L442.7,376.8 L443.8,375.6 L444.8,374.4 L445.6,373.3 L446.3,372.3 L447.0,371.6 L447.8,371.2 L448.6,371.4 L449.6,372.1 L450.4,372.9 L451.2,373.8 L451.7,374.3" fill="none" stroke="#FCA25E" stroke-width="2.0" stroke-linejoin="round" stroke-linecap="round" opacity="1"/>
<path d="M107.0,360.3 L107.4,359.1 L108.1,357.4 L108.8,355.4 L109.5,353.3 L110.2,351.5 L110.8,349.5 L111.4,347.5 L111.9,345.5 L112.5,344.1 L113.1,343.4 L113.7,343.8 L114.3,344.9 L114.9,346.5 L115.5,348.5 L116.1,350.4 L116.7,352.4 L117.2,354.8 L117.7,357.2 L118.3,359.5 L119.0,361.2 L119.8,362.3 L120.6,363.0 L121.5,363.4 L122.4,363.5 L123.4,363.5 L124.5,363.3 L125.6,362.9 L126.8,362.2 L128.0,361.5 L129.2,360.8 L130.4,360.0 L131.7,359.2 L132.9,358.4 L134.0,357.7 L135.0,356.9 L135.8,356.0 L136.3,354.9 L136.8,353.8 L137.4,353.1 L138.0,352.8 L138.8,353.1 L139.5,354.0 L140.4,355.1 L141.3,356.3 L142.3,357.2 L143.4,357.9 L144.6,358.5 L145.9,359.0 L147.1,359.3 L148.2,359.4 L149.2,359.1 L150.0,358.6 L150.8,358.1 L151.7,357.8 L152.6,358.1 L153.7,359.2 L154.9,360.9 L156.1,362.8 L157.3,364.2 L158.4,365.0 L159.3,364.7 L160.2,363.7 L161.0,362.5 L161.9,361.4 L162.8,360.9 L163.9,361.1 L165.1,361.9 L166.3,363.1 L167.5,364.5 L168.6,365.6 L169.5,366.4 L170.4,367.0 L171.2,367.4 L172.1,367.7 L173.0,367.6 L174.1,367.1 L175.2,366.2 L176.4,365.2 L177.6,364.4 L178.8,364.1 L180.0,364.6 L181.2,365.6 L182.3,366.8 L183.5,367.8 L184.7,368.2 L185.9,367.7 L187.1,366.6 L188.3,365.3 L189.4,364.5 L190.5,364.7 L191.4,366.1 L192.3,368.5 L193.1,371.3 L194.0,373.7 L195.0,375.3 L196.2,375.8 L197.4,375.7 L198.8,375.3 L200.2,375.2 L201.6,375.7 L203.1,376.7 L204.7,377.9 L206.4,379.1 L208.0,380.0 L209.5,380.7 L210.9,381.2 L212.2,381.9 L213.5,382.7 L214.7,383.8 L216.0,385.1 L217.3,386.6 L218.6,388.4 L220.0,390.2 L221.3,391.9 L222.6,393.6 L223.9,395.1 L225.2,396.5 L226.6,397.9 L227.9,399.1 L229.2,400.2 L230.5,401.2 L231.8,402.2 L233.1,403.2 L234.4,404.0 L235.7,404.6 L237.0,404.8 L238.3,404.8 L239.7,404.5 L241.0,404.1 L242.3,403.4 L243.6,402.4 L244.9,401.1 L246.3,399.8 L247.6,398.6 L248.9,397.9 L250.2,397.9 L251.5,398.5 L252.8,399.2 L254.1,399.9 L255.4,400.2 L256.7,400.0 L258.0,399.4 L259.4,398.7 L260.7,398.0 L262.0,397.4 L263.3,397.1 L264.6,396.8 L266.0,396.6 L267.3,396.5 L268.6,396.8 L269.9,397.6 L271.3,398.8 L272.6,400.4 L273.9,401.9 L275.1,403.2 L276.2,404.0 L277.1,404.6 L278.0,404.9 L278.9,405.2 L280.0,405.4 L281.2,405.4 L282.5,405.4 L283.9,405.7 L285.3,406.3 L286.6,407.4 L287.9,408.8 L289.2,410.5 L290.5,412.1 L291.8,413.7 L293.1,414.9 L294.4,416.1 L295.7,417.2 L297.1,418.4 L298.4,419.6 L299.7,420.7 L301.0,421.6 L302.3,422.5 L303.7,423.3 L305.0,424.1 L306.3,424.9 L307.6,425.6 L308.9,426.4 L310.2,427.1 L311.5,427.6 L312.8,428.1 L314.1,428.4 L315.4,428.5 L316.8,428.7 L318.1,429.0 L319.4,429.4 L320.7,430.3 L322.0,431.4 L323.4,432.6 L324.7,433.4 L326.0,433.6 L327.3,432.8 L328.6,431.4 L330.0,429.6 L331.3,428.0 L332.6,427.1 L333.9,427.1 L335.2,427.8 L336.5,428.8 L337.8,429.8 L339.1,430.3 L340.4,430.2 L341.7,429.8 L343.1,429.2 L344.4,428.5 L345.7,427.9 L347.0,427.3 L348.3,426.5 L349.7,425.6 L351.0,424.9 L352.3,424.4 L353.6,424.3 L354.9,424.6 L356.2,425.2 L357.5,425.9 L358.8,426.6 L360.0,427.2 L361.2,427.7 L362.4,427.9 L363.7,427.9 L365.0,427.4 L366.5,426.8 L368.0,426.1 L369.7,425.6 L371.3,425.2 L372.9,425.0 L374.5,424.6 L376.1,424.0 L377.6,423.1 L379.2,422.0 L380.8,421.0 L382.4,420.1 L384.0,419.2 L385.5,418.3 L387.1,417.4 L388.7,416.6 L390.3,416.0 L391.8,415.5 L393.4,415.0 L394.9,414.5 L396.5,413.7 L398.1,412.7 L399.7,411.3 L401.2,410.0 L402.8,408.9 L404.4,408.4 L406.0,408.4 L407.6,408.6 L409.1,408.9 L410.7,408.8 L412.3,408.4 L413.9,407.6 L415.5,406.8 L417.0,406.0 L418.6,405.4 L420.2,404.8 L421.8,404.3 L423.4,403.6 L424.9,402.9 L426.5,402.2 L428.1,401.5 L429.7,400.9 L431.2,400.1 L432.8,399.2 L434.3,398.1 L435.9,396.8 L437.5,395.6 L439.1,394.6 L440.7,393.9 L442.3,393.3 L443.8,392.6 L445.3,391.7 L446.9,390.3 L448.3,388.8 L449.5,387.4 L450.4,386.4" fill="none" stroke="#B2B1D8" stroke-width="2.0" stroke-linejoin="round" stroke-linecap="round" opacity="1"/>
<path d="M107.0,361.9 L107.6,361.9 L108.5,361.9 L109.5,361.9 L110.6,361.9 L111.7,362.1 L112.8,362.7 L113.9,363.7 L115.1,364.7 L116.3,365.7 L117.5,366.2 L118.7,366.0 L119.9,365.3 L121.0,364.1 L122.2,362.8 L123.4,361.5 L124.6,360.1 L125.8,358.7 L127.0,357.6 L128.1,356.7 L129.2,356.4 L130.2,356.5 L131.1,356.9 L131.9,357.6 L132.7,358.4 L133.6,359.2 L134.5,360.1 L135.3,361.2 L136.1,362.4 L137.0,363.5 L138.0,364.5 L139.1,365.3 L140.3,366.1 L141.5,366.8 L142.7,367.2 L143.8,367.3 L144.7,367.1 L145.6,366.6 L146.4,366.1 L147.3,365.5 L148.2,365.0 L149.3,364.6 L150.5,364.3 L151.7,364.2 L152.9,364.3 L154.0,364.6 L154.9,365.1 L155.8,365.9 L156.6,366.7 L157.5,367.3 L158.4,367.7 L159.5,367.8 L160.7,367.7 L161.9,367.6 L163.1,367.3 L164.2,366.7 L165.2,365.5 L166.1,363.8 L166.9,361.9 L167.7,360.3 L168.6,359.5 L169.5,359.7 L170.4,360.4 L171.2,361.6 L172.1,362.9 L173.0,364.2 L173.9,365.5 L174.7,367.1 L175.5,368.7 L176.4,369.9 L177.4,370.6 L178.5,370.5 L179.6,369.7 L180.8,368.5 L182.0,367.4 L183.2,366.7 L184.4,366.6 L185.6,367.0 L186.7,367.8 L187.9,368.8 L189.1,369.8 L190.3,370.8 L191.5,371.7 L192.7,372.6 L193.9,373.4 L195.0,374.2 L196.1,375.1 L197.2,376.3 L198.2,377.4 L199.3,378.4 L200.3,378.9 L201.3,378.6 L202.4,377.6 L203.4,376.5 L204.5,375.7 L205.5,375.8 L206.6,377.1 L207.6,379.2 L208.7,381.8 L209.7,384.5 L210.8,386.9 L211.8,388.9 L212.9,390.9 L213.9,392.6 L215.0,394.1 L216.0,395.4 L217.1,396.4 L218.1,397.1 L219.2,397.8 L220.2,398.4 L221.3,399.3 L222.4,400.3 L223.4,401.6 L224.5,402.9 L225.5,404.1 L226.5,405.1 L227.4,405.9 L228.2,406.6 L229.0,407.1 L229.7,407.2 L230.5,406.8 L231.3,405.8 L232.1,404.2 L232.8,402.4 L233.6,400.6 L234.4,398.9 L235.2,397.5 L236.0,396.2 L236.8,394.9 L237.6,393.5 L238.4,392.1 L239.2,390.5 L240.0,388.7 L240.7,387.0 L241.5,385.6 L242.3,384.9 L243.1,384.9 L243.9,385.4 L244.6,386.4 L245.4,387.6 L246.2,389.0 L247.0,390.7 L247.8,392.9 L248.6,395.0 L249.4,396.9 L250.2,398.0 L251.0,398.2 L251.8,397.8 L252.5,397.0 L253.3,396.0 L254.1,395.1 L254.9,394.2 L255.7,393.3 L256.5,392.4 L257.3,391.4 L258.1,390.3 L258.9,389.0 L259.7,387.4 L260.4,385.9 L261.2,384.7 L262.0,383.9 L262.8,383.5 L263.6,383.3 L264.4,383.5 L265.2,384.1 L266.0,385.4 L266.8,387.7 L267.6,390.9 L268.3,394.4 L269.1,397.7 L269.9,400.2 L270.7,401.9 L271.5,403.2 L272.2,404.0 L273.0,404.4 L273.8,404.4 L274.6,403.8 L275.4,402.5 L276.2,401.0 L277.0,399.8 L277.8,399.5 L278.6,400.4 L279.4,402.3 L280.2,404.6 L280.9,406.8 L281.7,408.4 L282.4,409.4 L283.1,410.0 L283.8,410.3 L284.5,410.5 L285.3,410.7 L286.2,410.8 L287.3,410.5 L288.3,410.1 L289.4,409.7 L290.5,409.6 L291.6,409.8 L292.6,410.1 L293.7,410.7 L294.7,411.6 L295.8,412.9 L296.9,414.8 L297.9,417.0 L299.0,419.6 L300.0,422.1 L301.0,424.5 L302.0,426.9 L302.9,429.6 L303.8,432.1 L304.7,434.2 L305.6,435.5 L306.5,435.8 L307.5,435.2 L308.4,434.0 L309.3,432.5 L310.2,430.9 L311.0,429.1 L311.8,426.9 L312.6,424.5 L313.4,422.4 L314.2,420.7 L315.0,419.7 L315.8,419.0 L316.5,418.7 L317.3,418.7 L318.1,419.0 L318.9,419.8 L319.6,421.1 L320.3,422.5 L321.1,423.9 L322.0,425.0 L323.0,425.7 L324.0,426.2 L325.1,426.5 L326.2,426.6 L327.3,426.5 L328.4,426.2 L329.4,425.5 L330.5,424.8 L331.5,424.2 L332.6,423.7 L333.6,423.6 L334.7,423.6 L335.7,423.7 L336.8,423.9 L337.8,424.2 L338.9,424.8 L339.9,425.6 L341.0,426.5 L342.0,427.3 L343.1,427.9 L344.1,427.9 L345.2,427.5 L346.2,426.8 L347.3,426.1 L348.3,425.4 L349.4,424.9 L350.5,424.5 L351.6,424.3 L352.6,424.2 L353.6,424.4 L354.5,424.9 L355.3,425.8 L356.0,426.7 L356.7,427.3 L357.5,427.3 L358.3,426.7 L359.1,425.6 L359.9,424.1 L360.7,422.5 L361.5,421.0 L362.2,419.4 L362.8,417.5 L363.5,415.7 L364.2,414.2 L365.0,413.5 L365.9,413.8 L366.9,414.9 L368.0,416.2 L369.1,417.1 L370.3,417.2 L371.5,416.2 L372.9,414.4 L374.2,412.5 L375.6,410.8 L376.8,409.8 L377.9,409.3 L378.9,409.2 L379.9,409.2 L381.0,409.0 L382.1,408.4 L383.4,407.2 L384.7,405.3 L386.1,403.3 L387.4,401.7 L388.7,401.1 L389.8,401.8 L390.9,403.6 L391.9,405.8 L392.9,407.7 L393.9,408.8 L394.9,408.7 L396.0,407.9 L397.0,406.9 L398.1,405.8 L399.2,405.1 L400.4,404.8 L401.8,404.6 L403.1,404.4 L404.5,404.0 L405.7,403.2 L406.8,401.9 L407.9,400.3 L408.9,398.6 L410.0,397.3 L411.0,396.6 L412.0,396.9 L413.0,398.1 L414.0,399.6 L415.1,400.8 L416.2,401.2 L417.5,400.3 L418.8,398.5 L420.2,396.3 L421.5,394.0 L422.8,392.3 L423.9,391.1 L425.0,390.1 L426.0,389.3 L427.1,389.1 L428.1,389.4 L429.1,390.9 L430.2,393.5 L431.2,396.4 L432.3,398.6 L433.3,399.3 L434.4,397.9 L435.4,395.0 L436.5,391.6 L437.5,388.3 L438.6,386.0 L439.6,384.7 L440.7,383.8 L441.7,383.1 L442.8,382.5 L443.8,381.8 L444.9,381.3 L446.0,381.0 L447.2,380.9 L448.2,380.9 L449.1,380.9 L449.8,380.8 L450.5,380.5 L451.0,380.3 L451.4,380.1 L451.7,379.9" fill="none" stroke="#C64301" stroke-width="2.2" stroke-linejoin="round" stroke-linecap="round" opacity="1"/>
<path d="M107.0,358.4 L107.6,359.0 L108.4,359.9 L109.4,361.0 L110.5,362.2 L111.7,363.3 L113.0,364.3 L114.5,365.2 L116.1,365.9 L117.6,366.4 L119.0,366.8 L120.3,367.2 L121.5,367.5 L122.7,367.7 L123.8,368.0 L124.8,368.3 L125.7,368.9 L126.6,369.6 L127.4,370.3 L128.3,370.8 L129.2,370.8 L130.3,370.1 L131.5,368.8 L132.7,367.4 L133.9,366.1 L135.0,365.5 L135.9,365.7 L136.8,366.4 L137.6,367.4 L138.4,368.5 L139.4,369.6 L140.5,370.8 L141.7,372.5 L143.0,374.3 L144.2,376.0 L145.3,377.1 L146.2,377.5 L147.1,377.2 L147.8,376.5 L148.7,375.7 L149.6,375.0 L150.7,374.4 L151.8,373.6 L153.1,372.8 L154.3,372.0 L155.5,371.4 L156.7,370.9 L157.9,370.4 L159.1,370.0 L160.2,369.8 L161.3,369.6 L162.2,369.7 L163.1,370.0 L163.9,370.4 L164.8,370.9 L165.7,371.4 L166.8,371.7 L168.0,372.0 L169.2,372.3 L170.4,372.5 L171.5,372.9 L172.5,373.6 L173.4,374.7 L174.2,375.8 L175.0,376.6 L175.9,376.8 L176.8,376.4 L177.6,375.5 L178.4,374.4 L179.3,373.3 L180.3,372.5 L181.4,371.7 L182.6,370.9 L183.8,370.0 L185.0,369.3 L186.1,369.0 L187.1,369.4 L188.0,370.4 L188.8,371.6 L189.6,372.6 L190.5,373.2 L191.4,373.1 L192.3,372.4 L193.1,371.6 L194.0,371.0 L195.0,370.9 L196.0,371.4 L197.1,372.5 L198.1,373.8 L199.2,375.0 L200.3,375.8 L201.3,375.9 L202.3,375.7 L203.3,375.3 L204.4,374.8 L205.5,374.4 L206.8,373.8 L208.1,372.9 L209.5,371.9 L210.8,371.0 L212.1,370.6 L213.2,370.9 L214.3,371.6 L215.4,372.7 L216.4,374.2 L217.3,376.0 L218.2,378.1 L218.9,380.6 L219.7,383.3 L220.4,385.9 L221.3,388.3 L222.3,390.4 L223.3,392.4 L224.4,394.2 L225.4,396.0 L226.5,397.7 L227.6,399.2 L228.6,400.6 L229.7,401.8 L230.7,402.9 L231.8,403.7 L232.8,404.6 L233.9,405.4 L234.9,406.1 L236.0,406.8 L237.0,407.2 L238.1,407.5 L239.2,407.6 L240.3,407.5 L241.3,406.9 L242.3,405.9 L243.1,404.2 L243.9,401.7 L244.6,399.1 L245.4,396.6 L246.2,395.0 L247.2,394.3 L248.2,394.3 L249.3,394.8 L250.4,395.3 L251.5,395.5 L252.6,395.3 L253.6,394.9 L254.7,394.4 L255.7,393.8 L256.8,393.3 L257.8,392.8 L258.9,392.2 L259.9,391.7 L261.0,391.3 L262.0,391.1 L263.1,391.1 L264.1,391.2 L265.2,391.4 L266.2,391.7 L267.3,392.1 L268.3,392.8 L269.4,393.9 L270.4,395.2 L271.5,396.6 L272.5,397.8 L273.6,399.1 L274.8,400.4 L275.9,401.6 L276.9,402.5 L277.8,403.2 L278.4,403.3 L278.7,403.2 L279.0,402.8 L279.3,402.6 L280.0,402.6 L281.0,402.6 L282.3,402.7 L283.8,402.9 L285.2,403.4 L286.6,404.3 L287.9,405.9 L289.2,408.0 L290.5,410.3 L291.8,412.5 L293.1,414.1 L294.4,415.2 L295.7,416.0 L297.1,416.6 L298.4,417.2 L299.7,417.7 L301.0,418.0 L302.3,418.1 L303.7,418.0 L305.0,417.9 L306.3,417.8 L307.6,417.9 L308.9,418.4 L310.2,419.0 L311.5,419.6 L312.8,419.9 L314.1,419.8 L315.4,419.2 L316.8,418.5 L318.1,417.7 L319.4,417.2 L320.7,417.2 L322.0,417.5 L323.4,417.9 L324.7,418.2 L326.0,418.1 L327.3,417.4 L328.7,416.2 L330.1,415.1 L331.4,414.4 L332.6,414.4 L333.7,415.4 L334.7,417.1 L335.7,418.8 L336.7,420.1 L337.8,420.4 L339.1,419.2 L340.4,416.9 L341.8,414.3 L343.1,412.1 L344.4,411.1 L345.5,411.5 L346.6,412.9 L347.6,414.6 L348.6,416.2 L349.6,417.2 L350.7,417.2 L351.7,416.5 L352.8,415.7 L353.8,415.0 L354.9,414.7 L356.0,415.1 L357.0,415.7 L358.0,416.6 L359.1,417.6 L360.1,418.5 L361.1,419.4 L362.0,420.5 L362.9,421.6 L363.9,422.5 L365.0,422.9 L366.2,423.0 L367.5,422.8 L368.9,422.5 L370.3,422.1 L371.6,421.7 L372.9,421.1 L374.2,420.1 L375.5,419.0 L376.8,417.8 L378.1,416.7 L379.4,415.9 L380.7,415.4 L382.1,415.0 L383.4,414.7 L384.7,414.3 L386.0,413.7 L387.3,413.0 L388.7,412.2 L390.0,411.5 L391.3,410.7 L392.6,410.0 L393.9,409.2 L395.2,408.3 L396.5,407.4 L397.8,406.4 L399.1,405.3 L400.4,404.4 L401.8,403.6 L403.1,403.4 L404.4,403.6 L405.7,404.6 L407.0,406.0 L408.4,407.4 L409.7,408.3 L411.0,408.3 L412.3,407.4 L413.6,405.7 L415.0,403.9 L416.3,402.1 L417.6,400.8 L418.9,399.9 L420.2,399.1 L421.5,398.5 L422.8,397.8 L424.1,397.2 L425.4,396.6 L426.7,396.0 L428.1,395.5 L429.4,394.9 L430.7,394.0 L432.0,392.8 L433.3,391.1 L434.7,389.5 L436.0,388.1 L437.3,387.3 L438.6,387.5 L440.0,388.4 L441.4,389.6 L442.7,390.7 L443.8,391.2 L444.8,391.0 L445.6,390.4 L446.3,389.6 L447.0,388.5 L447.8,387.2 L448.6,385.5 L449.6,383.4 L450.4,381.3 L451.2,379.4 L451.7,378.1" fill="none" stroke="#613D9B" stroke-width="2.2" stroke-linejoin="round" stroke-linecap="round" opacity="1"/>
<path d="M107.0,360.5 L107.6,360.8 L108.5,361.3 L109.5,361.7 L110.6,362.0 L111.7,362.2 L112.8,362.4 L113.9,362.7 L115.1,363.0 L116.3,363.4 L117.5,364.0 L118.7,364.6 L119.9,365.3 L121.0,365.9 L122.2,366.4 L123.4,366.6 L124.6,366.4 L125.8,365.8 L127.0,365.2 L128.1,364.5 L129.2,364.1 L130.2,364.1 L131.1,364.5 L131.9,364.9 L132.7,365.3 L133.6,365.2 L134.5,364.4 L135.4,363.2 L136.2,362.0 L137.1,361.1 L138.0,360.9 L138.9,361.5 L139.7,362.7 L140.6,364.1 L141.4,365.7 L142.3,367.1 L143.2,368.7 L144.1,370.5 L144.9,372.3 L145.8,373.8 L146.7,374.8 L147.6,375.0 L148.4,374.5 L149.2,373.7 L150.1,372.8 L151.1,372.0 L152.2,371.3 L153.4,370.5 L154.6,369.8 L155.8,369.3 L156.9,369.3 L157.9,369.6 L158.8,370.2 L159.6,371.0 L160.4,371.9 L161.3,372.9 L162.2,374.0 L163.1,375.3 L163.9,376.6 L164.8,377.8 L165.7,378.9 L166.6,379.7 L167.4,380.4 L168.2,381.0 L169.1,381.6 L170.1,382.3 L171.2,383.3 L172.3,384.4 L173.5,385.3 L174.7,385.8 L175.9,385.7 L177.1,384.9 L178.3,383.6 L179.4,382.2 L180.6,380.9 L181.8,380.0 L183.0,379.6 L184.1,379.2 L185.3,378.9 L186.4,378.8 L187.6,378.9 L188.8,379.5 L190.1,380.4 L191.4,381.3 L192.5,382.0 L193.4,382.3 L193.9,382.1 L194.2,381.5 L194.3,380.8 L194.5,380.2 L195.0,379.9 L195.8,380.1 L196.8,380.6 L197.9,381.3 L199.1,381.9 L200.3,382.1 L201.5,381.7 L202.8,380.7 L204.1,379.6 L205.5,378.6 L206.8,378.2 L208.1,378.5 L209.4,379.4 L210.8,380.6 L212.1,382.1 L213.4,383.5 L214.7,384.8 L216.1,386.1 L217.5,387.4 L218.8,388.7 L220.0,390.1 L221.1,391.7 L222.2,393.5 L223.2,395.3 L224.2,397.0 L225.2,398.4 L226.3,399.5 L227.4,400.5 L228.5,401.1 L229.5,401.4 L230.5,401.3 L231.4,400.7 L232.2,399.4 L232.9,398.0 L233.6,396.5 L234.4,395.3 L235.2,394.4 L235.9,393.4 L236.7,392.6 L237.5,391.9 L238.4,391.6 L239.4,392.0 L240.4,393.0 L241.5,394.3 L242.5,395.3 L243.6,395.3 L244.7,394.0 L245.7,391.7 L246.8,389.0 L247.8,386.3 L248.9,384.2 L249.9,382.8 L251.0,381.7 L252.0,380.9 L253.1,380.5 L254.1,380.6 L255.2,381.3 L256.3,382.4 L257.4,383.7 L258.4,384.9 L259.4,385.8 L260.2,386.5 L261.0,387.2 L261.7,387.9 L262.5,388.4 L263.3,388.7 L264.3,388.7 L265.3,388.5 L266.3,388.2 L267.4,388.0 L268.6,388.0 L269.8,388.2 L271.2,388.4 L272.6,388.8 L273.9,389.2 L275.1,389.7 L276.2,390.2 L277.2,390.6 L278.1,391.1 L279.0,391.5 L280.0,391.9 L281.0,392.4 L282.0,392.9 L283.1,393.5 L284.2,394.3 L285.3,395.3 L286.5,396.6 L287.8,398.4 L289.1,400.1 L290.5,401.6 L291.8,402.6 L293.1,402.9 L294.4,402.8 L295.8,402.5 L297.1,402.3 L298.4,402.5 L299.7,403.0 L301.0,403.7 L302.4,404.2 L303.7,404.4 L305.0,404.1 L306.3,403.2 L307.6,401.9 L308.9,400.6 L310.2,399.6 L311.5,399.2 L312.8,399.6 L314.2,400.6 L315.5,401.9 L316.9,403.0 L318.1,403.5 L319.2,403.4 L320.3,402.7 L321.3,401.7 L322.4,400.4 L323.4,399.0 L324.4,397.4 L325.4,395.5 L326.4,393.7 L327.5,392.0 L328.6,390.7 L329.9,389.8 L331.2,389.0 L332.6,388.5 L333.9,388.2 L335.2,388.1 L336.3,388.5 L337.4,389.4 L338.4,390.5 L339.4,391.7 L340.4,392.6 L341.5,393.1 L342.5,393.3 L343.6,393.4 L344.6,393.4 L345.7,393.6 L346.7,394.2 L347.8,395.2 L348.8,396.3 L349.9,397.3 L350.9,397.9 L352.0,398.0 L353.1,397.5 L354.2,396.9 L355.2,396.2 L356.2,396.0 L357.1,396.4 L357.8,397.3 L358.5,398.3 L359.3,398.9 L360.1,398.8 L361.0,397.6 L361.9,395.6 L362.9,393.2 L363.9,391.0 L365.0,389.4 L366.2,388.7 L367.6,388.4 L369.0,388.3 L370.3,388.3 L371.6,388.1 L372.7,387.5 L373.7,386.6 L374.7,385.6 L375.7,384.9 L376.8,384.7 L378.0,385.4 L379.3,386.7 L380.7,388.3 L382.1,389.7 L383.4,390.6 L384.7,390.7 L386.0,390.1 L387.4,389.1 L388.7,387.9 L390.0,386.6 L391.3,385.3 L392.6,384.0 L393.9,382.8 L395.2,382.1 L396.5,381.9 L397.9,382.4 L399.3,383.2 L400.6,384.2 L402.0,385.3 L403.1,386.3 L404.0,387.3 L404.7,388.4 L405.4,389.4 L406.1,389.9 L407.0,389.5 L408.2,387.6 L409.5,384.5 L410.9,380.8 L412.3,377.8 L413.6,376.2 L414.7,376.9 L415.8,379.1 L416.8,381.8 L417.9,384.2 L418.9,385.4 L419.9,384.9 L421.0,383.3 L422.0,381.3 L423.1,379.2 L424.1,377.7 L425.2,376.7 L426.2,375.8 L427.3,375.1 L428.3,374.6 L429.4,374.4 L430.4,374.7 L431.4,375.5 L432.4,376.4 L433.5,377.3 L434.6,377.6 L435.9,377.6 L437.2,377.4 L438.6,377.1 L439.9,376.5 L441.2,375.5 L442.4,374.0 L443.4,371.9 L444.5,369.7 L445.5,367.6 L446.5,366.1 L447.5,365.0 L448.6,364.2 L449.6,363.5 L450.5,362.9 L451.1,362.4" fill="none" stroke="#404040" stroke-width="2.2" stroke-linejoin="round" stroke-linecap="round" opacity="1"/>
<defs><linearGradient id="sg2" x1="349.3" x2="384.6" y1="0" y2="0" gradientUnits="userSpaceOnUse"><stop offset="0.000" stop-color="#FBA35C" stop-opacity="0.55"/><stop offset="0.246" stop-color="#FBA35C" stop-opacity="0.6"/><stop offset="0.360" stop-color="#FBA35C" stop-opacity="0.75"/><stop offset="0.530" stop-color="#FBA35C" stop-opacity="0.7"/><stop offset="0.700" stop-color="#FBA35C" stop-opacity="0.58"/><stop offset="1.000" stop-color="#FBA35C" stop-opacity="0.55"/></linearGradient></defs>
<rect x="349.3" y="356.4" width="35.30000000000001" height="8.6" rx="4.3" fill="url(#sg2)" filter="url(#soft)"/>
<text x="323.3" y="350.7" font-family='"Liberation Sans", sans-serif' font-size="15.5" font-weight="normal" text-anchor="start" fill="#333" >p = .02</text>
<path d="M390.2,355 C415,331 468,310 497,341.5" fill="none" stroke="#111" stroke-width="0.9"/>
<path d="M498.5,343.5 L491.4,339.5 L496.4,335.6Z" fill="#111"/>
<line x1="544.1" y1="331.2" x2="544.1" y2="456" stroke="#888" stroke-width="1"/>
<line x1="544.1" y1="456" x2="673.1" y2="456" stroke="#888" stroke-width="1"/>
<line x1="542.1" y1="342.3" x2="544.1" y2="342.3" stroke="#888" stroke-width="0.8"/>
<text x="539.5" y="345.4" font-family='"Liberation Sans", sans-serif' font-size="8.7" font-weight="normal" text-anchor="end" fill="#222" >0.06</text>
<line x1="542.1" y1="380.2" x2="544.1" y2="380.2" stroke="#888" stroke-width="0.8"/>
<text x="539.5" y="383.3" font-family='"Liberation Sans", sans-serif' font-size="8.7" font-weight="normal" text-anchor="end" fill="#222" >0.04</text>
<line x1="542.1" y1="418.1" x2="544.1" y2="418.1" stroke="#888" stroke-width="0.8"/>
<text x="539.5" y="421.2" font-family='"Liberation Sans", sans-serif' font-size="8.7" font-weight="normal" text-anchor="end" fill="#222" >0.02</text>
<line x1="542.1" y1="456.0" x2="544.1" y2="456.0" stroke="#888" stroke-width="0.8"/>
<text x="539.5" y="459.1" font-family='"Liberation Sans", sans-serif' font-size="8.7" font-weight="normal" text-anchor="end" fill="#222" >0.00</text>
<line x1="542.5" y1="437.1" x2="544.1" y2="437.1" stroke="#888" stroke-width="0.8"/>
<line x1="542.5" y1="399.1" x2="544.1" y2="399.1" stroke="#888" stroke-width="0.8"/>
<line x1="542.5" y1="361.2" x2="544.1" y2="361.2" stroke="#888" stroke-width="0.8"/>
<rect x="549.7" y="371.2" width="16.2" height="84.8" fill="#FCA25E"/>
<line x1="557.8" y1="353.9" x2="557.8" y2="388.9" stroke="#000" stroke-width="3.4"/>
<text transform="translate(560.8,448) rotate(-90)" font-family='"Liberation Sans", sans-serif' font-size="8.5" fill="#fff">attested</text>
<rect x="569.1" y="368.5" width="15.9" height="87.5" fill="#B4B4B4"/>
<line x1="577.0" y1="354.5" x2="577.0" y2="381.4" stroke="#000" stroke-width="3.4"/>
<text transform="translate(580.0,448) rotate(-90)" font-family='"Liberation Sans", sans-serif' font-size="8.5" fill="#fff">baseline</text>
<rect x="588.7" y="357.8" width="15.7" height="98.2" fill="#B2B1D8"/>
<line x1="596.5" y1="341.9" x2="596.5" y2="373.3" stroke="#000" stroke-width="3.4"/>
<text transform="translate(599.5,448) rotate(-90)" font-family='"Liberation Sans", sans-serif' font-size="8.5" fill="#fff">unattested</text>
<rect x="618.7" y="359" width="16.2" height="97.0" fill="#C64301"/>
<line x1="626.8" y1="337.1" x2="626.8" y2="380.2" stroke="#000" stroke-width="3.4"/>
<text transform="translate(629.8,448) rotate(-90)" font-family='"Liberation Sans", sans-serif' font-size="8.5" fill="#fff">attested</text>
<rect x="637.6" y="399.1" width="15.6" height="56.9" fill="#404040"/>
<line x1="645.4" y1="384.7" x2="645.4" y2="413.1" stroke="#000" stroke-width="3.4"/>
<text transform="translate(648.4,448) rotate(-90)" font-family='"Liberation Sans", sans-serif' font-size="8.5" fill="#fff">baseline</text>
<rect x="657.2" y="370" width="15.9" height="86.0" fill="#613D9B"/>
<line x1="665.2" y1="352.4" x2="665.2" y2="388.3" stroke="#000" stroke-width="3.4"/>
<text transform="translate(668.2,448) rotate(-90)" font-family='"Liberation Sans", sans-serif' font-size="8.5" fill="#fff">unattested</text>
<text x="575.5" y="469.5" font-family='"Liberation Sans", sans-serif' font-size="13" font-weight="bold" text-anchor="middle" fill="#A8A8A8" >first half</text>
<text x="647.4" y="469.5" font-family='"Liberation Sans", sans-serif' font-size="13" font-weight="bold" text-anchor="middle" fill="#111" >second half</text>
<text transform="translate(497.6,398) rotate(-90)" font-family='"Liberation Sans", sans-serif' font-size="12.8" font-weight="bold" text-anchor="middle" fill="#000">Activity strength</text>
<text transform="translate(515.7,398) rotate(-90)" font-family='"Liberation Sans", sans-serif' font-size="12.8" font-weight="bold" text-anchor="middle" fill="#000">(Absolute dSPM)</text>
<path d="M626.7,332.8 V318.7 H630.6 M642.1,318.7 H649.9 M661.3,318.7 H665.2 V332.8 M646,318.7 V332.8" fill="none" stroke="#8a8a8a" stroke-width="1"/>
<path d="M636.35,318.20 L636.35,315.60 M636.35,318.20 L638.82,317.40 M636.35,318.20 L637.88,320.30 M636.35,318.20 L634.82,320.30 M636.35,318.20 L633.88,317.40 " stroke="#000" stroke-width="1.6" stroke-linecap="round" fill="none"/>
<path d="M655.60,318.20 L655.60,315.60 M655.60,318.20 L658.07,317.40 M655.60,318.20 L657.13,320.30 M655.60,318.20 L654.07,320.30 M655.60,318.20 L653.13,317.40 " stroke="#000" stroke-width="1.6" stroke-linecap="round" fill="none"/>
<text transform="translate(8.3,573.5) scale(0.86,1)" font-family='"Liberation Serif", serif' font-size="29.5" font-weight="bold">C</text>
<text x="367" y="553.7" font-family='"Liberation Sans", sans-serif' font-size="20" font-weight="bold" text-anchor="middle" fill="#000" >Main effect of mispronunciation</text>
<text x="367.2" y="579.7" font-family='"Liberation Sans", sans-serif' font-size="20" font-weight="normal" text-anchor="middle" fill="#000" >Right orbito-frontal cortex</text>
<text transform="translate(42.2,667.6) rotate(-90)" font-family='"Liberation Sans", sans-serif' font-size="12.7" font-weight="bold" text-anchor="middle" fill="#000">Activity strength (dSPM)</text>
<line x1="88.6" y1="636.9" x2="90.19999999999999" y2="636.9" stroke="#999" stroke-width="0.8"/>
<text x="85.3" y="641.3" font-family='"Liberation Sans", sans-serif' font-size="13.1" font-weight="normal" text-anchor="end" fill="#111" >0.00</text>
<line x1="88.6" y1="691.2" x2="90.19999999999999" y2="691.2" stroke="#999" stroke-width="0.8"/>
<text x="84.8" y="695.6" font-family='"Liberation Sans", sans-serif' font-size="13.1" font-weight="normal" text-anchor="end" fill="#111" >-0.04</text>
<rect x="91.4" y="665" width="92.6" height="77.5" fill="#fcfcfc"/>
<line x1="90" y1="744.8" x2="469.6" y2="744.8" stroke="#b0b0b0" stroke-width="1.3"/>
<line x1="107.3" y1="744.8" x2="107.3" y2="747.0" stroke="#888" stroke-width="0.8"/>
<text x="107.3" y="759.5" font-family='"Liberation Sans", sans-serif' font-size="12.6" font-weight="normal" text-anchor="middle" fill="#111" >-200</text>
<line x1="150.4" y1="744.8" x2="150.4" y2="747.0" stroke="#888" stroke-width="0.8"/>
<text x="150.4" y="759.5" font-family='"Liberation Sans", sans-serif' font-size="12.6" font-weight="normal" text-anchor="middle" fill="#111" >-100</text>
<line x1="193.5" y1="744.8" x2="193.5" y2="747.0" stroke="#888" stroke-width="0.8"/>
<text x="193.5" y="759.5" font-family='"Liberation Sans", sans-serif' font-size="12.6" font-weight="normal" text-anchor="middle" fill="#111" >0</text>
<line x1="236.5" y1="744.8" x2="236.5" y2="747.0" stroke="#888" stroke-width="0.8"/>
<text x="236.5" y="759.5" font-family='"Liberation Sans", sans-serif' font-size="12.6" font-weight="normal" text-anchor="middle" fill="#111" >100</text>
<line x1="279.6" y1="744.8" x2="279.6" y2="747.0" stroke="#888" stroke-width="0.8"/>
<text x="279.6" y="759.5" font-family='"Liberation Sans", sans-serif' font-size="12.6" font-weight="normal" text-anchor="middle" fill="#111" >200</text>
<line x1="322.7" y1="744.8" x2="322.7" y2="747.0" stroke="#888" stroke-width="0.8"/>
<text x="322.7" y="759.5" font-family='"Liberation Sans", sans-serif' font-size="12.6" font-weight="normal" text-anchor="middle" fill="#111" >300</text>
<line x1="365.8" y1="744.8" x2="365.8" y2="747.0" stroke="#888" stroke-width="0.8"/>
<text x="365.8" y="759.5" font-family='"Liberation Sans", sans-serif' font-size="12.6" font-weight="normal" text-anchor="middle" fill="#111" >400</text>
<line x1="408.9" y1="744.8" x2="408.9" y2="747.0" stroke="#888" stroke-width="0.8"/>
<text x="408.9" y="759.5" font-family='"Liberation Sans", sans-serif' font-size="12.6" font-weight="normal" text-anchor="middle" fill="#111" >500</text>
<line x1="451.9" y1="744.8" x2="451.9" y2="747.0" stroke="#888" stroke-width="0.8"/>
<text x="451.9" y="759.5" font-family='"Liberation Sans", sans-serif' font-size="12.6" font-weight="normal" text-anchor="middle" fill="#111" >600</text>
<defs><clipPath id="bc3"><path d="M94.6,714.7 L94.8,713.4 L95.0,711.6 L95.4,709.5 L96.0,707.4 L97.0,705.3 L98.2,703.1 L99.6,700.9 L101.1,698.7 L102.7,696.5 L104.5,694.3 L106.4,692.0 L108.4,689.9 L110.5,687.8 L112.7,685.6 L115.0,683.6 L117.2,681.9 L119.4,680.5 L121.5,679.2 L123.7,678.2 L126.0,677.5 L128.5,677.1 L131.0,676.9 L133.6,676.9 L136.2,677.1 L138.8,677.4 L141.3,677.8 L143.8,678.4 L146.4,679.0 L149.0,679.7 L151.5,680.6 L154.1,681.5 L156.6,682.6 L159.2,683.9 L161.9,685.3 L164.5,686.8 L166.8,688.4 L168.9,690.1 L170.8,691.9 L172.5,693.7 L174.1,695.7 L175.6,697.8 L177.0,700.0 L178.2,702.3 L179.2,704.5 L180.0,706.7 L180.7,709.0 L181.1,711.2 L181.4,713.3 L181.5,715.3 L181.5,717.3 L181.3,719.1 L180.7,720.6 L179.8,721.8 L178.7,722.8 L177.2,723.5 L175.6,724.2 L173.6,724.8 L171.3,725.2 L169.0,725.5 L166.8,725.7 L164.8,725.6 L162.9,725.3 L161.1,725.0 L159.5,724.9 L158.1,725.0 L157.0,725.3 L156.0,725.8 L155.2,726.4 L154.6,727.3 L154.2,728.3 L154.0,729.5 L153.7,730.8 L153.5,732.3 L153.5,733.9 L153.4,735.4 L153.0,736.6 L152.4,737.3 L151.7,737.7 L150.8,737.9 L149.3,737.8 L147.2,737.5 L144.7,736.8 L141.9,736.1 L139.1,735.2 L136.3,734.2 L133.4,733.1 L130.5,731.9 L127.4,730.8 L124.2,729.7 L120.8,728.5 L117.5,727.4 L114.3,726.4 L111.1,725.6 L108.0,724.9 L105.1,724.2 L102.6,723.5 L100.7,722.7 L99.1,721.8 L97.9,720.8 L96.8,719.8 L95.9,718.5 L95.3,717.0 L94.9,715.6 L94.6,714.7Z"/></clipPath></defs>
<path d="M94.6,714.7 L94.8,713.4 L95.0,711.6 L95.4,709.5 L96.0,707.4 L97.0,705.3 L98.2,703.1 L99.6,700.9 L101.1,698.7 L102.7,696.5 L104.5,694.3 L106.4,692.0 L108.4,689.9 L110.5,687.8 L112.7,685.6 L115.0,683.6 L117.2,681.9 L119.4,680.5 L121.5,679.2 L123.7,678.2 L126.0,677.5 L128.5,677.1 L131.0,676.9 L133.6,676.9 L136.2,677.1 L138.8,677.4 L141.3,677.8 L143.8,678.4 L146.4,679.0 L149.0,679.7 L151.5,680.6 L154.1,681.5 L156.6,682.6 L159.2,683.9 L161.9,685.3 L164.5,686.8 L166.8,688.4 L168.9,690.1 L170.8,691.9 L172.5,693.7 L174.1,695.7 L175.6,697.8 L177.0,700.0 L178.2,702.3 L179.2,704.5 L180.0,706.7 L180.7,709.0 L181.1,711.2 L181.4,713.3 L181.5,715.3 L181.5,717.3 L181.3,719.1 L180.7,720.6 L179.8,721.8 L178.7,722.8 L177.2,723.5 L175.6,724.2 L173.6,724.8 L171.3,725.2 L169.0,725.5 L166.8,725.7 L164.8,725.6 L162.9,725.3 L161.1,725.0 L159.5,724.9 L158.1,725.0 L157.0,725.3 L156.0,725.8 L155.2,726.4 L154.6,727.3 L154.2,728.3 L154.0,729.5 L153.7,730.8 L153.5,732.3 L153.5,733.9 L153.4,735.4 L153.0,736.6 L152.4,737.3 L151.7,737.7 L150.8,737.9 L149.3,737.8 L147.2,737.5 L144.7,736.8 L141.9,736.1 L139.1,735.2 L136.3,734.2 L133.4,733.1 L130.5,731.9 L127.4,730.8 L124.2,729.7 L120.8,728.5 L117.5,727.4 L114.3,726.4 L111.1,725.6 L108.0,724.9 L105.1,724.2 L102.6,723.5 L100.7,722.7 L99.1,721.8 L97.9,720.8 L96.8,719.8 L95.9,718.5 L95.3,717.0 L94.9,715.6 L94.6,714.7Z" fill="#717171"/>
<path d="M94.6,714.7 L94.8,713.4 L95.0,711.6 L95.4,709.5 L96.0,707.4 L97.0,705.3 L98.2,703.1 L99.6,700.9 L101.1,698.7 L102.7,696.5 L104.5,694.3 L106.4,692.0 L108.4,689.9 L110.5,687.8 L112.7,685.6 L115.0,683.6 L117.2,681.9 L119.4,680.5 L121.5,679.2 L123.7,678.2 L126.0,677.5 L128.5,677.1 L131.0,676.9 L133.6,676.9 L136.2,677.1 L138.8,677.4 L141.3,677.8 L143.8,678.4 L146.4,679.0 L149.0,679.7 L151.5,680.6 L154.1,681.5 L156.6,682.6 L159.2,683.9 L161.9,685.3 L164.5,686.8 L166.8,688.4 L168.9,690.1 L170.8,691.9 L172.5,693.7 L174.1,695.7 L175.6,697.8 L177.0,700.0 L178.2,702.3 L179.2,704.5 L180.0,706.7 L180.7,709.0 L181.1,711.2 L181.4,713.3 L181.5,715.3 L181.5,717.3 L181.3,719.1 L180.7,720.6 L179.8,721.8 L178.7,722.8 L177.2,723.5 L175.6,724.2 L173.6,724.8 L171.3,725.2 L169.0,725.5 L166.8,725.7 L164.8,725.6 L162.9,725.3 L161.1,725.0 L159.5,724.9 L158.1,725.0 L157.0,725.3 L156.0,725.8 L155.2,726.4 L154.6,727.3 L154.2,728.3 L154.0,729.5 L153.7,730.8 L153.5,732.3 L153.5,733.9 L153.4,735.4 L153.0,736.6 L152.4,737.3 L151.7,737.7 L150.8,737.9 L149.3,737.8 L147.2,737.5 L144.7,736.8 L141.9,736.1 L139.1,735.2 L136.3,734.2 L133.4,733.1 L130.5,731.9 L127.4,730.8 L124.2,729.7 L120.8,728.5 L117.5,727.4 L114.3,726.4 L111.1,725.6 L108.0,724.9 L105.1,724.2 L102.6,723.5 L100.7,722.7 L99.1,721.8 L97.9,720.8 L96.8,719.8 L95.9,718.5 L95.3,717.0 L94.9,715.6 L94.6,714.7Z" fill="#fff" filter="url(#brainTex)"/>
<g clip-path="url(#bc3)"><path d="M94.6,714.7 L94.8,713.4 L95.0,711.6 L95.4,709.5 L96.0,707.4 L97.0,705.3 L98.2,703.1 L99.6,700.9 L101.1,698.7 L102.7,696.5 L104.5,694.3 L106.4,692.0 L108.4,689.9 L110.5,687.8 L112.7,685.6 L115.0,683.6 L117.2,681.9 L119.4,680.5 L121.5,679.2 L123.7,678.2 L126.0,677.5 L128.5,677.1 L131.0,676.9 L133.6,676.9 L136.2,677.1 L138.8,677.4 L141.3,677.8 L143.8,678.4 L146.4,679.0 L149.0,679.7 L151.5,680.6 L154.1,681.5 L156.6,682.6 L159.2,683.9 L161.9,685.3 L164.5,686.8 L166.8,688.4 L168.9,690.1 L170.8,691.9 L172.5,693.7 L174.1,695.7 L175.6,697.8 L177.0,700.0 L178.2,702.3 L179.2,704.5 L180.0,706.7 L180.7,709.0 L181.1,711.2 L181.4,713.3 L181.5,715.3 L181.5,717.3 L181.3,719.1 L180.7,720.6 L179.8,721.8 L178.7,722.8 L177.2,723.5 L175.6,724.2 L173.6,724.8 L171.3,725.2 L169.0,725.5 L166.8,725.7 L164.8,725.6 L162.9,725.3 L161.1,725.0 L159.5,724.9 L158.1,725.0 L157.0,725.3 L156.0,725.8 L155.2,726.4 L154.6,727.3 L154.2,728.3 L154.0,729.5 L153.7,730.8 L153.5,732.3 L153.5,733.9 L153.4,735.4 L153.0,736.6 L152.4,737.3 L151.7,737.7 L150.8,737.9 L149.3,737.8 L147.2,737.5 L144.7,736.8 L141.9,736.1 L139.1,735.2 L136.3,734.2 L133.4,733.1 L130.5,731.9 L127.4,730.8 L124.2,729.7 L120.8,728.5 L117.5,727.4 L114.3,726.4 L111.1,725.6 L108.0,724.9 L105.1,724.2 L102.6,723.5 L100.7,722.7 L99.1,721.8 L97.9,720.8 L96.8,719.8 L95.9,718.5 L95.3,717.0 L94.9,715.6 L94.6,714.7Z" fill="none" stroke="#3c3c3c" stroke-width="5" opacity="0.35" filter="url(#edgeblur)"/></g>
<path d="M94.6,714.7 L94.8,713.4 L95.0,711.6 L95.4,709.5 L96.0,707.4 L97.0,705.3 L98.2,703.1 L99.6,700.9 L101.1,698.7 L102.7,696.5 L104.5,694.3 L106.4,692.0 L108.4,689.9 L110.5,687.8 L112.7,685.6 L115.0,683.6 L117.2,681.9 L119.4,680.5 L121.5,679.2 L123.7,678.2 L126.0,677.5 L128.5,677.1 L131.0,676.9 L133.6,676.9 L136.2,677.1 L138.8,677.4 L141.3,677.8 L143.8,678.4 L146.4,679.0 L149.0,679.7 L151.5,680.6 L154.1,681.5 L156.6,682.6 L159.2,683.9 L161.9,685.3 L164.5,686.8 L166.8,688.4 L168.9,690.1 L170.8,691.9 L172.5,693.7 L174.1,695.7 L175.6,697.8 L177.0,700.0 L178.2,702.3 L179.2,704.5 L180.0,706.7 L180.7,709.0 L181.1,711.2 L181.4,713.3 L181.5,715.3 L181.5,717.3 L181.3,719.1 L180.7,720.6 L179.8,721.8 L178.7,722.8 L177.2,723.5 L175.6,724.2 L173.6,724.8 L171.3,725.2 L169.0,725.5 L166.8,725.7 L164.8,725.6 L162.9,725.3 L161.1,725.0 L159.5,724.9 L158.1,725.0 L157.0,725.3 L156.0,725.8 L155.2,726.4 L154.6,727.3 L154.2,728.3 L154.0,729.5 L153.7,730.8 L153.5,732.3 L153.5,733.9 L153.4,735.4 L153.0,736.6 L152.4,737.3 L151.7,737.7 L150.8,737.9 L149.3,737.8 L147.2,737.5 L144.7,736.8 L141.9,736.1 L139.1,735.2 L136.3,734.2 L133.4,733.1 L130.5,731.9 L127.4,730.8 L124.2,729.7 L120.8,728.5 L117.5,727.4 L114.3,726.4 L111.1,725.6 L108.0,724.9 L105.1,724.2 L102.6,723.5 L100.7,722.7 L99.1,721.8 L97.9,720.8 L96.8,719.8 L95.9,718.5 L95.3,717.0 L94.9,715.6 L94.6,714.7Z" fill="none" stroke="#4d4d4d" stroke-width="1.0" opacity="0.8"/>
<path d="M161,716.2 L163.2,714.7 L166.8,719.1 L171.2,722 L176.3,722.7 L175.6,724.2 L166.8,725.7 L158.8,724.9 L159.5,722 L161,718.4Z" fill="#70c26e" stroke="#222" stroke-width="0.6"/>
<path d="M107.0,639.0 L109.0,638.6 L111.9,638.3 L115.2,639.0 L118.7,639.9 L121.9,641.3 L124.8,643.3 L127.8,645.0 L130.7,645.9 L133.6,646.5 L136.5,647.4 L139.4,648.0 L142.3,648.2 L145.3,648.9 L148.2,649.6 L151.1,649.6 L154.0,649.3 L156.9,649.9 L159.9,651.1 L162.8,652.3 L165.7,653.7 L168.6,655.4 L171.5,656.4 L174.5,656.5 L177.4,656.7 L180.3,657.5 L183.3,658.1 L186.4,658.3 L189.4,658.6 L192.3,658.5 L194.9,657.6 L197.2,656.7 L199.3,656.4 L201.2,656.7 L203.1,657.2 L205.0,657.7 L207.0,658.1 L209.0,658.6 L211.0,659.2 L213.0,660.1 L215.0,661.0 L217.0,662.3 L219.0,664.2 L221.0,666.9 L223.0,670.0 L225.0,673.0 L226.9,675.5 L228.8,677.8 L230.6,679.7 L232.7,681.1 L235.0,681.5 L237.7,680.3 L240.6,678.2 L243.8,676.9 L246.9,676.2 L250.0,674.8 L253.0,673.0 L256.0,671.1 L259.0,669.1 L262.0,667.8 L265.0,668.6 L268.1,670.8 L271.2,672.4 L274.4,673.3 L277.3,674.0 L280.0,674.6 L282.3,675.1 L284.2,676.2 L286.0,677.6 L287.9,679.0 L290.0,680.1 L292.5,679.7 L295.1,678.2 L297.9,676.8 L300.6,676.4 L303.1,677.0 L305.4,679.1 L307.7,682.4 L309.8,686.0 L311.8,688.7 L313.7,689.8 L315.4,689.1 L317.0,687.5 L318.5,685.5 L320.0,683.8 L321.5,682.7 L323.1,682.1 L324.7,681.6 L326.3,681.2 L327.9,680.6 L329.4,679.9 L330.8,678.5 L332.1,676.5 L333.4,674.3 L334.7,672.1 L336.0,670.4 L337.3,669.7 L338.6,669.9 L340.0,670.7 L341.3,671.8 L342.6,672.6 L343.9,673.0 L345.2,673.2 L346.5,673.1 L347.8,672.9 L349.1,672.4 L350.4,671.5 L351.7,670.2 L353.0,668.8 L354.3,667.2 L355.7,665.7 L357.2,664.5 L358.8,663.6 L360.5,663.1 L362.1,663.0 L363.6,662.9 L364.9,662.4 L365.9,661.3 L367.0,660.0 L368.3,658.8 L370.0,658.0 L372.2,657.5 L374.8,656.8 L377.5,655.5 L380.4,653.6 L383.1,652.2 L385.7,651.5 L388.4,650.6 L391.0,648.7 L393.7,646.0 L396.3,643.4 L398.9,641.2 L401.5,639.7 L404.2,639.4 L406.8,640.4 L409.4,641.7 L412.0,641.9 L414.7,640.8 L417.3,639.5 L420.0,638.4 L422.6,637.5 L425.2,636.8 L427.8,636.6 L430.5,636.1 L433.1,634.2 L435.7,630.8 L438.5,627.2 L441.4,624.4 L444.2,622.6 L446.8,621.7 L448.8,621.4 L450.2,621.3 L451.2,621.3 L451.9,621.4 L452.4,621.4 L452.8,621.4 L452.8,639.6 L452.4,639.8 L451.9,639.9 L451.2,640.3 L450.2,640.8 L448.8,641.8 L446.8,643.2 L444.2,644.8 L441.4,645.8 L438.5,646.2 L435.7,647.1 L433.1,648.4 L430.5,649.6 L427.8,650.5 L425.2,651.6 L422.6,652.8 L420.0,653.5 L417.3,653.8 L414.7,654.5 L412.0,655.8 L409.4,657.3 L406.8,658.5 L404.2,660.0 L401.5,661.8 L398.9,663.3 L396.3,664.1 L393.7,664.9 L391.0,666.2 L388.4,667.7 L385.7,668.8 L383.1,669.8 L380.4,670.9 L377.5,671.2 L374.8,670.5 L372.2,669.7 L370.0,669.9 L368.3,671.1 L367.0,673.0 L365.9,675.1 L364.9,677.1 L363.6,678.8 L362.1,680.2 L360.5,681.4 L358.8,682.7 L357.2,683.9 L355.7,685.1 L354.3,686.3 L353.0,687.5 L351.7,688.7 L350.4,689.8 L349.1,690.6 L347.8,691.3 L346.5,691.9 L345.2,692.4 L343.9,692.7 L342.6,692.7 L341.3,692.2 L340.0,691.2 L338.6,690.1 L337.3,689.3 L336.0,689.3 L334.7,690.0 L333.4,691.1 L332.1,692.3 L330.8,693.3 L329.4,693.8 L327.9,694.0 L326.3,694.4 L324.7,695.1 L323.1,696.1 L321.5,697.4 L320.0,699.1 L318.5,701.3 L317.0,703.5 L315.4,705.3 L313.7,705.9 L311.8,704.7 L309.8,702.0 L307.7,698.7 L305.4,696.2 L303.1,695.3 L300.6,695.9 L297.9,697.2 L295.1,698.5 L292.5,699.2 L290.0,698.4 L287.9,696.4 L286.0,694.3 L284.2,692.5 L282.3,691.3 L280.0,690.6 L277.3,689.9 L274.4,688.8 L271.2,687.5 L268.1,685.6 L265.0,683.8 L262.0,683.9 L259.0,686.1 L256.0,688.9 L253.0,691.4 L250.0,693.5 L246.9,694.9 L243.8,695.5 L240.6,696.5 L237.7,698.0 L235.0,698.5 L232.7,697.7 L230.6,696.0 L228.8,693.9 L226.9,691.6 L225.0,689.1 L223.0,686.1 L221.0,683.0 L219.0,680.2 L217.0,678.1 L215.0,676.7 L213.0,675.8 L211.0,675.3 L209.0,675.2 L207.0,675.5 L205.0,675.7 L203.1,675.6 L201.2,675.2 L199.3,674.8 L197.2,674.6 L194.9,674.8 L192.3,675.2 L189.4,675.3 L186.4,675.6 L183.3,676.1 L180.3,675.5 L177.4,673.9 L174.5,672.6 L171.5,671.7 L168.6,670.9 L165.7,670.4 L162.8,670.2 L159.9,669.6 L156.9,667.8 L154.0,665.9 L151.1,665.1 L148.2,665.1 L145.3,665.4 L142.3,666.2 L139.4,666.6 L136.5,665.4 L133.6,663.2 L130.7,661.4 L127.8,660.5 L124.8,660.0 L121.9,659.8 L118.7,659.4 L115.2,657.6 L111.9,654.9 L109.0,653.8 L107.0,654.0Z" fill="#BDBDBD" opacity="0.32"/>
<path d="M107.0,636.3 L107.7,635.9 L108.6,635.3 L109.7,634.3 L110.8,633.0 L111.7,631.6 L112.3,630.0 L112.9,628.2 L113.3,626.4 L113.9,625.0 L114.6,624.0 L115.6,624.0 L116.7,624.7 L117.9,626.0 L119.2,627.5 L120.4,628.7 L121.6,629.3 L122.8,629.8 L123.9,630.1 L125.1,630.4 L126.3,630.9 L127.5,631.2 L128.6,631.3 L129.8,631.1 L130.9,630.8 L132.1,630.6 L133.3,630.7 L134.5,631.0 L135.6,631.7 L136.8,632.8 L138.0,634.0 L139.2,635.5 L140.3,637.2 L141.5,639.0 L142.6,640.7 L143.8,642.1 L145.0,643.1 L146.1,643.9 L147.3,644.4 L148.4,644.9 L149.6,645.3 L150.8,645.5 L152.0,645.6 L153.1,645.5 L154.3,645.4 L155.5,645.6 L156.7,646.3 L157.8,647.5 L159.0,649.1 L160.1,650.6 L161.3,651.6 L162.5,651.8 L163.7,651.4 L165.0,650.8 L166.1,650.1 L167.2,649.7 L168.2,649.6 L169.0,649.5 L169.9,649.4 L170.7,649.3 L171.5,649.2 L172.4,649.2 L173.2,649.1 L174.1,649.1 L174.9,649.3 L175.8,649.7 L176.7,650.3 L177.6,651.3 L178.4,652.4 L179.3,653.8 L180.2,655.2 L181.1,656.6 L182.0,658.1 L182.9,659.5 L183.8,660.8 L184.6,662.0 L185.4,663.0 L186.1,664.1 L186.8,665.0 L187.5,665.9 L188.2,666.6 L188.8,667.2 L189.4,667.9 L190.0,668.3 L190.6,668.5 L191.2,668.1 L191.8,667.2 L192.4,665.9 L192.9,664.2 L193.5,662.4 L194.1,660.6 L194.7,658.7 L195.3,656.7 L195.9,654.7 L196.5,652.9 L197.0,651.6 L197.5,650.5 L197.9,649.7 L198.3,649.2 L198.7,648.9 L199.2,649.0 L199.7,649.5 L200.3,650.4 L200.9,651.5 L201.5,652.6 L202.1,653.7 L202.7,654.8 L203.2,655.9 L203.8,657.0 L204.4,657.8 L205.0,658.2 L205.7,658.1 L206.4,657.5 L207.2,656.7 L208.0,655.9 L208.7,655.2 L209.4,654.6 L210.2,653.8 L210.9,653.1 L211.6,652.6 L212.3,652.4 L213.0,652.5 L213.6,652.9 L214.2,653.6 L214.8,654.5 L215.3,655.5 L215.8,656.8 L216.2,658.3 L216.6,659.9 L217.0,661.7 L217.4,663.5 L217.9,665.5 L218.4,667.6 L219.0,669.8 L219.5,671.9 L220.0,674.0 L220.4,675.7 L220.7,677.2 L221.0,678.6 L221.4,680.2 L222.1,682.3 L223.1,684.9 L224.3,687.8 L225.7,690.8 L227.1,693.4 L228.5,695.4 L229.8,696.6 L231.2,697.2 L232.5,697.2 L233.8,697.0 L235.0,696.8 L236.0,697.1 L237.0,697.8 L237.8,698.4 L238.8,698.3 L239.8,697.1 L241.0,693.8 L242.3,688.8 L243.7,683.2 L245.0,678.3 L246.2,675.3 L247.2,675.1 L248.2,677.1 L249.0,679.8 L250.0,682.1 L251.0,682.7 L252.2,681.0 L253.5,677.5 L254.9,673.3 L256.2,669.4 L257.4,666.9 L258.4,666.2 L259.3,666.7 L260.2,667.8 L261.1,669.2 L262.3,670.4 L263.7,671.7 L265.4,673.1 L267.1,674.6 L268.8,675.8 L270.3,676.4 L271.7,675.7 L273.0,673.7 L274.2,671.2 L275.4,669.0 L276.7,667.8 L278.0,668.1 L279.2,669.5 L280.5,671.7 L281.8,674.2 L283.1,676.8 L284.5,679.5 L285.9,682.6 L287.3,685.8 L288.7,688.7 L290.0,691.0 L291.2,692.5 L292.2,693.3 L293.3,693.6 L294.3,693.8 L295.3,694.2 L296.3,695.1 L297.4,696.3 L298.4,697.6 L299.5,698.6 L300.5,699.0 L301.5,698.6 L302.6,697.6 L303.6,696.3 L304.7,695.3 L305.8,695.2 L307.1,696.0 L308.4,697.4 L309.8,699.3 L311.1,701.4 L312.3,703.1 L313.2,704.8 L314.0,706.6 L314.7,708.1 L315.5,708.9 L316.3,708.6 L317.2,706.7 L318.2,703.3 L319.3,699.6 L320.4,696.4 L321.5,694.7 L322.8,694.9 L324.1,696.4 L325.5,698.4 L326.8,700.2 L328.1,701.1 L329.2,700.8 L330.3,699.9 L331.3,698.5 L332.3,697.1 L333.4,695.8 L334.6,694.5 L335.9,692.9 L337.2,691.1 L338.6,689.3 L339.9,687.6 L341.2,686.3 L342.5,685.5 L343.9,685.1 L345.2,684.8 L346.5,684.5 L347.8,684.0 L349.2,683.4 L350.6,682.9 L351.9,682.4 L353.1,682.2 L354.2,682.4 L355.2,682.9 L356.2,683.4 L357.2,683.5 L358.3,683.0 L359.5,681.6 L360.8,679.7 L362.2,678.2 L363.6,677.4 L364.9,677.7 L366.2,679.3 L367.6,681.8 L369.0,684.5 L370.3,686.5 L371.5,687.3 L372.6,686.5 L373.6,684.6 L374.5,682.0 L375.5,679.3 L376.6,676.9 L377.8,674.9 L379.1,673.0 L380.4,671.5 L381.8,670.7 L383.1,670.6 L384.4,671.4 L385.7,672.8 L387.1,674.4 L388.4,675.5 L389.7,675.8 L391.0,675.0 L392.3,673.4 L393.7,671.5 L395.0,669.6 L396.3,668.2 L397.6,667.5 L398.9,667.5 L400.2,667.9 L401.5,668.3 L402.8,668.5 L404.1,668.2 L405.4,667.6 L406.8,666.7 L408.1,665.5 L409.4,664.1 L410.7,662.4 L412.0,660.5 L413.4,658.4 L414.7,656.4 L416.0,654.5 L417.3,652.6 L418.6,650.8 L420.0,649.2 L421.3,648.1 L422.6,647.4 L423.9,647.4 L425.2,647.9 L426.5,648.4 L427.8,648.7 L429.1,648.5 L430.4,647.7 L431.7,646.6 L433.1,645.3 L434.4,643.9 L435.7,642.6 L437.0,641.4 L438.3,640.1 L439.7,638.9 L441.0,637.8 L442.3,636.9 L443.6,636.4 L445.0,636.3 L446.4,636.2 L447.7,635.9 L448.8,635.3 L449.8,634.3 L450.8,633.1 L451.6,631.8 L452.3,630.6 L452.8,629.8 L452.8,649.9 L452.3,650.7 L451.6,652.0 L450.8,653.5 L449.8,654.9 L448.8,656.0 L447.7,656.8 L446.4,657.2 L445.0,657.4 L443.6,657.6 L442.3,658.0 L441.0,658.7 L439.7,659.5 L438.3,660.3 L437.0,661.0 L435.7,661.7 L434.4,662.4 L433.1,663.1 L431.7,663.9 L430.4,664.5 L429.1,664.8 L427.8,664.7 L426.5,664.0 L425.2,663.2 L423.9,662.5 L422.6,662.4 L421.3,662.9 L420.0,664.1 L418.6,665.7 L417.3,667.7 L416.0,669.8 L414.7,672.0 L413.4,674.6 L412.0,677.2 L410.7,679.7 L409.4,682.0 L408.1,683.9 L406.8,685.7 L405.4,687.1 L404.1,688.0 L402.8,688.5 L401.5,688.4 L400.2,688.0 L398.9,687.6 L397.6,687.6 L396.3,688.3 L395.0,689.7 L393.7,691.7 L392.3,693.7 L391.0,695.3 L389.7,696.1 L388.4,695.7 L387.1,694.4 L385.7,692.5 L384.4,690.5 L383.1,689.1 L381.8,688.5 L380.4,688.6 L379.1,689.3 L377.8,690.6 L376.6,692.1 L375.5,694.2 L374.5,696.8 L373.6,699.4 L372.6,701.5 L371.5,702.6 L370.3,702.2 L369.0,700.7 L367.6,698.6 L366.2,696.5 L364.9,695.2 L363.6,695.1 L362.2,695.9 L360.8,697.4 L359.5,699.0 L358.3,700.3 L357.2,700.7 L356.2,700.6 L355.2,700.2 L354.2,699.9 L353.1,700.1 L351.9,700.8 L350.6,702.0 L349.2,703.3 L347.8,704.6 L346.5,705.6 L345.2,706.2 L343.9,706.5 L342.5,706.7 L341.2,707.0 L339.9,707.5 L338.6,708.3 L337.2,709.2 L335.9,710.2 L334.6,711.2 L333.4,712.2 L332.3,713.4 L331.3,714.9 L330.3,716.4 L329.2,717.7 L328.1,718.4 L326.8,718.0 L325.5,716.6 L324.1,714.8 L322.8,713.2 L321.5,712.8 L320.4,714.2 L319.3,716.9 L318.2,720.1 L317.2,722.9 L316.3,724.5 L315.5,724.5 L314.7,723.4 L314.0,721.8 L313.2,720.0 L312.3,718.4 L311.1,717.1 L309.8,715.7 L308.4,714.8 L307.1,714.3 L305.8,714.5 L304.7,715.3 L303.6,716.8 L302.6,718.3 L301.5,719.4 L300.5,719.7 L299.5,718.9 L298.4,717.4 L297.4,715.5 L296.3,713.7 L295.3,712.2 L294.3,711.3 L293.3,710.7 L292.2,710.1 L291.2,709.3 L290.0,708.0 L288.7,706.0 L287.3,703.8 L285.9,701.4 L284.5,699.0 L283.1,696.7 L281.8,694.3 L280.5,691.6 L279.2,689.0 L278.0,686.9 L276.7,685.8 L275.4,686.1 L274.2,687.5 L273.0,689.4 L271.7,691.0 L270.3,691.7 L268.8,691.5 L267.1,691.2 L265.4,690.9 L263.7,690.5 L262.3,690.0 L261.1,689.1 L260.2,687.9 L259.3,686.7 L258.4,686.0 L257.4,686.2 L256.2,688.1 L254.9,691.2 L253.5,694.6 L252.2,697.4 L251.0,698.8 L250.0,698.1 L249.0,695.9 L248.2,693.3 L247.2,691.8 L246.2,692.4 L245.0,696.1 L243.7,701.8 L242.3,708.1 L241.0,713.6 L239.8,717.1 L238.8,718.3 L237.8,718.1 L237.0,717.2 L236.0,716.1 L235.0,715.2 L233.8,714.7 L232.5,714.3 L231.2,713.6 L229.8,712.8 L228.5,711.6 L227.1,709.9 L225.7,707.9 L224.3,705.8 L223.1,703.6 L222.1,701.6 L221.4,699.9 L221.0,698.4 L220.7,697.1 L220.4,695.7 L220.0,694.1 L219.5,692.2 L219.0,690.1 L218.4,687.9 L217.9,685.8 L217.4,683.8 L217.0,681.9 L216.6,680.0 L216.2,678.2 L215.8,676.5 L215.3,675.1 L214.8,673.8 L214.2,672.6 L213.6,671.6 L213.0,670.7 L212.3,670.2 L211.6,670.0 L210.9,670.2 L210.2,670.6 L209.4,671.2 L208.7,671.6 L208.0,672.2 L207.2,673.0 L206.4,673.9 L205.7,674.6 L205.0,674.9 L204.4,674.8 L203.8,674.2 L203.2,673.3 L202.7,672.4 L202.1,671.6 L201.5,670.7 L200.9,669.8 L200.3,668.8 L199.7,668.1 L199.2,667.7 L198.7,667.7 L198.3,668.0 L197.9,668.5 L197.5,669.3 L197.0,670.3 L196.5,671.6 L195.9,673.2 L195.3,675.0 L194.7,676.8 L194.1,678.4 L193.5,679.9 L192.9,681.5 L192.4,682.9 L191.8,684.0 L191.2,684.7 L190.6,684.8 L190.0,684.5 L189.4,683.9 L188.8,683.1 L188.2,682.4 L187.5,681.7 L186.8,680.9 L186.1,680.1 L185.4,679.3 L184.6,678.6 L183.8,677.8 L182.9,676.9 L182.0,676.0 L181.1,675.1 L180.2,674.1 L179.3,673.1 L178.4,672.1 L177.6,671.2 L176.7,670.4 L175.8,669.8 L174.9,669.5 L174.1,669.2 L173.2,669.0 L172.4,668.8 L171.5,668.6 L170.7,668.5 L169.9,668.3 L169.0,668.2 L168.2,668.1 L167.2,668.0 L166.1,668.3 L165.0,669.0 L163.7,669.8 L162.5,670.3 L161.3,670.3 L160.1,669.4 L159.0,668.0 L157.8,666.5 L156.7,665.1 L155.5,664.1 L154.3,663.6 L153.1,663.3 L152.0,662.9 L150.8,662.4 L149.6,661.7 L148.4,660.9 L147.3,660.1 L146.1,659.4 L145.0,658.6 L143.8,657.6 L142.6,656.4 L141.5,655.0 L140.3,653.5 L139.2,652.0 L138.0,650.9 L136.8,650.0 L135.6,649.3 L134.5,648.8 L133.3,648.7 L132.1,648.8 L130.9,649.2 L129.8,649.7 L128.6,650.0 L127.5,650.2 L126.3,650.0 L125.1,649.8 L123.9,649.7 L122.8,649.6 L121.6,649.4 L120.4,648.9 L119.2,647.8 L117.9,646.4 L116.7,645.0 L115.6,644.1 L114.6,644.1 L113.9,644.9 L113.3,646.2 L112.9,647.9 L112.3,649.5 L111.7,651.0 L110.8,652.2 L109.7,653.2 L108.6,653.8 L107.7,654.2 L107.0,654.4Z" fill="#B4B2DA" opacity="0.45"/>
<path d="M107.0,632.5 L108.0,633.0 L109.5,634.1 L111.2,635.5 L113.0,636.9 L114.6,637.7 L116.1,637.7 L117.5,637.0 L119.0,636.0 L120.4,635.2 L121.9,634.8 L123.4,635.1 L124.8,635.8 L126.3,636.7 L127.7,637.7 L129.2,638.7 L130.7,639.9 L132.1,641.3 L133.6,642.5 L135.0,643.2 L136.5,643.1 L138.0,642.1 L139.4,640.5 L140.9,638.9 L142.3,637.8 L143.8,637.5 L145.3,638.3 L146.7,639.6 L148.2,641.3 L149.6,643.1 L151.1,644.7 L152.6,646.0 L154.0,647.1 L155.5,647.8 L156.9,647.9 L158.4,647.5 L159.9,646.4 L161.3,645.2 L162.8,644.2 L164.2,643.9 L165.7,644.6 L167.3,646.2 L168.9,648.2 L170.5,650.2 L171.9,651.8 L173.0,652.9 L173.6,653.7 L173.8,654.5 L173.9,655.2 L174.0,655.7 L174.4,655.8 L175.2,655.4 L176.2,654.3 L177.3,652.9 L178.5,651.6 L179.5,650.8 L180.4,650.8 L181.4,651.3 L182.3,652.3 L183.1,653.6 L184.0,654.9 L184.9,656.4 L185.7,658.2 L186.6,660.1 L187.4,661.7 L188.2,662.7 L188.9,663.0 L189.6,662.8 L190.3,662.2 L191.1,661.5 L191.9,660.9 L192.8,660.3 L193.9,659.6 L194.9,658.9 L196.0,658.3 L197.0,658.0 L197.9,657.9 L198.8,658.0 L199.7,658.2 L200.6,658.5 L201.4,658.9 L202.2,659.4 L202.9,660.1 L203.5,660.9 L204.2,661.7 L205.0,662.6 L205.8,663.6 L206.7,664.8 L207.6,665.8 L208.5,666.8 L209.4,667.5 L210.3,667.8 L211.2,667.8 L212.1,667.6 L213.0,667.4 L213.8,667.5 L214.6,667.9 L215.3,668.5 L216.1,669.3 L216.8,670.2 L217.4,671.1 L218.0,672.1 L218.5,673.2 L219.0,674.3 L219.5,675.5 L220.0,676.7 L220.4,677.9 L220.7,679.2 L221.1,680.5 L221.5,681.9 L222.1,683.3 L222.9,684.8 L223.9,686.3 L225.0,687.9 L226.0,689.8 L226.9,692.0 L227.6,694.8 L228.2,698.3 L228.8,701.6 L229.4,704.0 L230.1,704.7 L230.9,703.1 L231.9,699.7 L232.9,695.3 L233.9,690.9 L235.0,687.6 L236.1,685.4 L237.3,683.7 L238.5,682.4 L239.9,681.4 L241.4,680.3 L243.2,679.1 L245.2,678.3 L247.2,678.2 L249.2,678.9 L251.0,679.6 L252.5,679.9 L253.8,679.9 L255.0,679.8 L256.2,679.9 L257.4,680.4 L258.7,681.6 L260.0,683.2 L261.3,684.9 L262.6,686.1 L263.9,686.5 L265.2,685.9 L266.5,684.8 L267.7,683.8 L269.0,683.1 L270.3,683.2 L271.5,683.9 L272.7,684.9 L273.9,685.8 L275.2,686.6 L276.7,686.9 L278.5,686.7 L280.6,686.1 L282.8,685.3 L284.8,684.8 L286.4,685.1 L287.4,686.2 L288.1,687.8 L288.5,689.5 L289.1,691.1 L290.0,692.5 L291.3,693.4 L292.9,694.0 L294.6,694.1 L296.3,693.8 L297.9,693.8 L299.3,694.7 L300.7,696.5 L302.0,698.5 L303.3,700.2 L304.5,700.9 L305.6,700.0 L306.6,698.1 L307.6,695.8 L308.6,694.0 L309.7,693.5 L310.9,694.7 L312.2,696.9 L313.5,699.3 L314.9,701.0 L316.3,701.2 L317.8,699.6 L319.4,696.8 L321.1,693.7 L322.7,691.0 L324.2,689.2 L325.6,688.2 L326.9,687.6 L328.2,687.4 L329.4,687.4 L330.7,687.7 L332.0,688.4 L333.3,689.5 L334.6,690.4 L335.9,690.8 L337.3,690.1 L338.8,688.2 L340.4,685.5 L342.0,682.9 L343.6,680.9 L345.2,679.8 L346.8,679.4 L348.4,679.3 L349.9,679.5 L351.5,679.8 L353.1,680.4 L354.7,681.1 L356.3,681.9 L357.9,682.4 L359.5,682.5 L361.0,682.2 L362.4,681.8 L363.6,681.5 L364.9,681.0 L366.1,680.4 L367.5,679.4 L369.0,677.8 L370.5,675.7 L372.1,673.4 L373.7,671.3 L375.3,669.6 L376.8,668.2 L378.2,666.8 L379.6,665.3 L381.2,663.7 L383.1,662.2 L385.5,661.2 L388.3,660.9 L391.2,661.0 L394.0,661.8 L396.3,662.8 L398.0,663.0 L399.4,662.6 L400.5,661.8 L401.6,660.9 L402.8,659.9 L404.1,659.0 L405.4,658.5 L406.8,658.1 L408.1,657.7 L409.4,657.1 L410.7,656.1 L412.0,654.8 L413.4,653.4 L414.7,652.1 L416.0,650.8 L417.3,649.4 L418.6,647.7 L420.0,645.6 L421.3,643.3 L422.6,640.9 L423.9,638.7 L425.2,636.9 L426.5,635.5 L427.8,634.5 L429.1,633.8 L430.4,633.2 L431.7,632.8 L433.1,632.4 L434.4,632.0 L435.7,631.6 L437.0,631.1 L438.4,630.5 L439.8,629.7 L441.1,628.7 L442.3,627.7 L443.4,626.7 L444.5,626.0 L445.5,625.5 L446.5,625.4 L447.5,625.5 L448.6,625.9 L449.9,626.8 L451.1,627.7 L452.1,628.6 L452.8,629.1 L452.8,646.7 L452.1,646.2 L451.1,645.4 L449.9,644.4 L448.6,643.5 L447.5,642.9 L446.5,642.7 L445.5,642.8 L444.5,643.2 L443.4,643.8 L442.3,644.7 L441.1,645.8 L439.8,647.0 L438.4,648.0 L437.0,649.0 L435.7,649.8 L434.4,650.5 L433.1,651.2 L431.7,651.7 L430.4,652.2 L429.1,652.7 L427.8,653.2 L426.5,653.9 L425.2,654.9 L423.9,656.4 L422.6,658.3 L421.3,660.5 L420.0,662.7 L418.6,664.9 L417.3,666.9 L416.0,668.6 L414.7,670.3 L413.4,672.1 L412.0,673.8 L410.7,675.3 L409.4,676.3 L408.1,676.8 L406.8,676.8 L405.4,676.8 L404.1,676.8 L402.8,677.2 L401.6,677.9 L400.5,678.8 L399.4,679.6 L398.0,680.1 L396.3,680.4 L394.0,680.4 L391.2,680.6 L388.3,680.6 L385.5,679.8 L383.1,679.5 L381.2,680.1 L379.6,681.2 L378.2,682.5 L376.8,684.2 L375.3,686.0 L373.7,688.4 L372.1,691.3 L370.5,694.3 L369.0,696.8 L367.5,698.5 L366.1,699.3 L364.9,699.5 L363.6,699.4 L362.4,699.2 L361.0,699.0 L359.5,698.9 L357.9,698.8 L356.3,698.7 L354.7,698.8 L353.1,699.1 L351.5,699.6 L349.9,700.2 L348.4,700.6 L346.8,700.7 L345.2,700.6 L343.6,700.9 L342.0,701.8 L340.4,703.2 L338.8,704.9 L337.3,706.3 L335.9,706.8 L334.6,706.6 L333.3,706.0 L332.0,705.5 L330.7,705.4 L329.4,705.6 L328.2,705.9 L326.9,706.2 L325.6,706.7 L324.2,707.2 L322.7,708.2 L321.1,709.9 L319.4,712.1 L317.8,714.3 L316.3,715.9 L314.9,716.1 L313.5,715.1 L312.2,713.7 L310.9,712.6 L309.7,712.4 L308.6,713.9 L307.6,716.4 L306.6,719.1 L305.6,721.4 L304.5,722.4 L303.3,721.6 L302.0,719.4 L300.7,716.8 L299.3,714.2 L297.9,712.5 L296.3,712.0 L294.6,712.0 L292.9,712.1 L291.3,712.0 L290.0,711.6 L289.1,710.6 L288.5,709.2 L288.1,707.6 L287.4,706.1 L286.4,705.1 L284.8,704.7 L282.8,704.3 L280.6,703.4 L278.5,702.3 L276.7,701.2 L275.2,700.3 L273.9,699.3 L272.7,698.5 L271.5,698.0 L270.3,697.9 L269.0,698.7 L267.7,700.3 L266.5,702.3 L265.2,704.1 L263.9,705.2 L262.6,705.1 L261.3,704.0 L260.0,702.2 L258.7,700.3 L257.4,698.9 L256.2,698.2 L255.0,698.0 L253.8,698.2 L252.5,698.6 L251.0,698.9 L249.2,699.1 L247.2,699.5 L245.2,700.4 L243.2,701.3 L241.4,701.9 L239.9,702.1 L238.5,702.1 L237.3,702.4 L236.1,703.1 L235.0,704.4 L233.9,707.0 L232.9,710.9 L231.9,714.9 L230.9,718.1 L230.1,719.7 L229.4,718.9 L228.8,716.6 L228.2,713.3 L227.6,709.9 L226.9,707.3 L226.0,705.3 L225.0,703.7 L223.9,702.2 L222.9,700.8 L222.1,699.4 L221.5,698.0 L221.1,696.6 L220.7,695.2 L220.4,694.0 L220.0,692.7 L219.5,691.5 L219.0,690.2 L218.5,689.0 L218.0,687.9 L217.4,686.8 L216.8,685.8 L216.1,684.9 L215.3,684.1 L214.6,683.5 L213.8,683.2 L213.0,683.2 L212.1,683.7 L211.2,684.2 L210.3,684.7 L209.4,684.9 L208.5,684.8 L207.6,684.4 L206.7,684.0 L205.8,683.5 L205.0,683.0 L204.2,682.6 L203.5,682.1 L202.9,681.6 L202.2,681.2 L201.4,680.9 L200.6,680.7 L199.7,680.4 L198.8,680.2 L197.9,680.0 L197.0,679.9 L196.0,679.9 L194.9,680.1 L193.9,680.3 L192.8,680.6 L191.9,680.9 L191.1,681.2 L190.3,681.7 L189.6,682.1 L188.9,682.1 L188.2,681.5 L187.4,680.3 L186.6,678.5 L185.7,676.4 L184.9,674.4 L184.0,672.6 L183.1,671.1 L182.3,669.5 L181.4,668.2 L180.4,667.3 L179.5,667.0 L178.5,667.4 L177.3,668.2 L176.2,669.2 L175.2,670.0 L174.4,670.2 L174.0,670.0 L173.9,669.5 L173.8,668.8 L173.6,668.0 L173.0,667.0 L171.9,665.8 L170.5,664.2 L168.9,662.5 L167.3,661.0 L165.7,660.0 L164.2,660.0 L162.8,660.9 L161.3,662.6 L159.9,664.5 L158.4,666.2 L156.9,667.3 L155.5,667.8 L154.0,667.7 L152.6,667.1 L151.1,666.1 L149.6,664.9 L148.2,663.3 L146.7,661.6 L145.3,660.1 L143.8,659.1 L142.3,658.8 L140.9,659.4 L139.4,660.4 L138.0,661.3 L136.5,661.6 L135.0,661.1 L133.6,659.8 L132.1,658.1 L130.7,656.3 L129.2,654.7 L127.7,653.3 L126.3,651.8 L124.8,650.5 L123.4,649.4 L121.9,648.8 L120.4,649.0 L119.0,649.8 L117.5,650.9 L116.1,652.1 L114.6,652.8 L113.0,653.0 L111.2,652.9 L109.5,652.7 L108.0,652.7 L107.0,652.7Z" fill="#F9A060" opacity="0.42"/>
<path d="M107.0,625.4 L107.6,625.5 L108.4,625.6 L109.4,625.9 L110.5,626.0 L111.7,626.0 L113.0,625.7 L114.5,625.1 L116.1,624.4 L117.6,623.8 L119.0,623.6 L120.3,623.7 L121.4,624.0 L122.5,624.5 L123.7,625.2 L124.8,626.2 L126.0,627.4 L127.2,628.6 L128.3,629.9 L129.5,631.0 L130.7,632.0 L131.9,632.9 L133.0,633.8 L134.2,634.8 L135.3,635.9 L136.5,636.9 L137.7,638.0 L138.9,639.3 L140.1,640.6 L141.2,641.8 L142.3,642.5 L143.3,642.5 L144.2,641.8 L145.0,640.9 L145.8,640.2 L146.7,640.3 L147.6,641.6 L148.5,643.6 L149.3,645.7 L150.2,647.4 L151.1,648.1 L152.0,647.5 L152.9,646.3 L153.7,644.7 L154.6,643.3 L155.5,642.3 L156.4,641.7 L157.3,641.5 L158.1,641.4 L159.0,641.4 L159.9,641.6 L160.8,641.6 L161.6,641.5 L162.5,641.5 L163.3,641.8 L164.2,642.4 L165.1,643.6 L166.1,645.2 L167.1,646.8 L167.9,648.4 L168.6,649.5 L169.0,650.2 L169.3,650.6 L169.5,651.0 L169.7,651.6 L170.0,652.5 L170.5,654.0 L171.1,655.9 L171.7,657.9 L172.3,659.5 L172.9,660.4 L173.5,660.4 L174.1,659.9 L174.6,659.0 L175.2,658.0 L175.8,657.0 L176.4,655.9 L176.9,654.5 L177.5,653.2 L178.1,652.2 L178.8,652.0 L179.6,652.5 L180.5,653.6 L181.4,655.0 L182.3,656.4 L183.1,657.6 L183.9,658.6 L184.7,659.5 L185.4,660.4 L186.1,661.1 L186.8,661.7 L187.4,662.2 L188.0,662.8 L188.5,663.2 L189.1,663.4 L189.7,663.2 L190.4,662.5 L191.1,661.4 L191.9,660.1 L192.7,658.7 L193.4,657.3 L194.1,655.8 L194.8,654.3 L195.6,652.8 L196.3,651.3 L197.0,650.1 L197.7,648.9 L198.5,647.8 L199.2,646.8 L200.0,646.2 L200.7,646.1 L201.4,646.7 L202.1,647.6 L202.9,648.8 L203.6,650.1 L204.3,651.2 L205.0,652.4 L205.8,653.6 L206.5,654.8 L207.3,655.7 L208.0,656.1 L208.7,656.0 L209.4,655.5 L210.2,654.8 L210.9,653.9 L211.6,653.1 L212.3,652.1 L213.1,650.8 L213.9,649.5 L214.6,648.5 L215.3,648.0 L215.9,648.0 L216.6,648.6 L217.2,649.3 L217.7,650.2 L218.2,651.0 L218.6,651.6 L219.0,652.2 L219.3,652.8 L219.6,653.8 L220.0,655.3 L220.4,657.4 L220.7,660.2 L221.1,663.2 L221.5,666.2 L222.1,669.0 L222.9,671.6 L223.7,674.1 L224.7,676.5 L225.8,678.7 L226.9,680.5 L228.1,681.9 L229.5,683.0 L230.8,683.7 L232.2,684.2 L233.4,684.4 L234.5,684.4 L235.4,684.1 L236.4,683.6 L237.3,682.9 L238.2,681.9 L239.1,680.5 L240.0,678.8 L241.0,676.9 L241.9,675.3 L243.0,674.4 L244.2,674.2 L245.4,674.6 L246.8,675.4 L248.1,675.9 L249.4,676.0 L250.7,675.6 L252.0,675.0 L253.2,674.2 L254.5,673.0 L255.8,671.5 L257.1,669.2 L258.4,666.4 L259.7,663.4 L261.0,661.1 L262.3,659.8 L263.6,660.0 L264.9,661.2 L266.1,662.9 L267.4,664.4 L268.7,665.2 L270.0,664.9 L271.3,663.7 L272.7,662.0 L273.9,660.4 L275.1,659.4 L276.1,659.3 L277.1,659.9 L277.9,661.1 L278.9,662.5 L279.9,664.1 L281.1,665.9 L282.5,667.9 L283.9,669.8 L285.3,671.5 L286.4,672.7 L287.3,673.7 L288.0,674.6 L288.6,675.4 L289.2,675.9 L290.0,676.2 L291.0,675.9 L292.0,675.1 L293.1,674.1 L294.2,673.1 L295.3,672.3 L296.3,671.9 L297.4,671.8 L298.4,672.0 L299.5,672.5 L300.5,673.3 L301.5,674.1 L302.6,674.9 L303.6,675.8 L304.7,676.8 L305.8,677.8 L307.0,679.4 L308.2,681.3 L309.4,683.0 L310.6,684.2 L311.7,684.3 L312.7,683.0 L313.6,680.6 L314.5,677.8 L315.4,675.2 L316.3,673.3 L317.3,672.4 L318.3,671.9 L319.4,671.8 L320.4,671.9 L321.5,672.2 L322.6,672.6 L323.6,673.2 L324.7,673.8 L325.7,674.1 L326.8,673.9 L327.8,673.1 L328.9,671.8 L329.9,670.1 L331.0,668.5 L332.0,666.9 L333.1,665.6 L334.2,664.3 L335.3,663.3 L336.3,662.6 L337.3,662.1 L338.2,661.7 L339.0,661.5 L339.7,661.5 L340.4,661.7 L341.2,662.1 L342.0,662.8 L342.8,663.8 L343.6,665.0 L344.4,666.4 L345.2,668.0 L346.1,670.0 L347.0,672.4 L347.9,674.9 L348.9,676.8 L349.8,677.8 L350.7,677.5 L351.6,676.4 L352.5,674.7 L353.4,672.8 L354.4,670.8 L355.4,668.6 L356.4,666.1 L357.5,663.6 L358.5,661.7 L359.6,660.7 L360.7,661.0 L361.8,662.4 L362.9,664.1 L363.9,665.7 L364.9,666.4 L365.8,666.1 L366.5,665.2 L367.2,664.0 L368.0,662.8 L368.8,661.9 L369.7,661.2 L370.7,660.4 L371.8,659.5 L372.8,658.7 L373.9,658.0 L374.9,657.9 L376.0,658.3 L377.1,658.8 L378.1,659.0 L379.2,658.4 L380.3,656.8 L381.3,654.5 L382.4,651.9 L383.4,649.2 L384.5,646.9 L385.6,644.9 L386.6,642.7 L387.7,640.7 L388.7,639.0 L389.7,637.8 L390.5,637.5 L391.3,637.8 L392.0,638.5 L392.8,639.0 L393.6,639.0 L394.6,638.2 L395.6,637.0 L396.7,635.6 L397.8,634.5 L398.9,634.2 L400.0,634.9 L401.0,636.6 L402.1,638.6 L403.1,640.6 L404.2,641.9 L405.2,642.1 L406.3,641.3 L407.3,640.1 L408.4,638.7 L409.4,637.6 L410.5,636.8 L411.5,636.1 L412.6,635.6 L413.6,635.1 L414.7,634.5 L415.7,634.0 L416.8,633.5 L417.8,633.1 L418.9,632.9 L419.9,633.0 L421.0,633.3 L422.1,634.1 L423.2,635.0 L424.2,636.1 L425.2,637.0 L426.1,637.9 L426.9,638.7 L427.6,639.3 L428.3,639.5 L429.1,639.1 L429.9,637.9 L430.7,636.1 L431.5,633.9 L432.3,631.8 L433.1,630.0 L433.9,628.6 L434.6,627.4 L435.3,626.5 L436.1,625.9 L437.0,625.7 L438.0,625.9 L439.1,626.7 L440.2,627.8 L441.3,628.9 L442.3,629.7 L443.2,630.3 L444.0,630.9 L444.8,631.4 L445.5,631.6 L446.2,631.4 L446.9,630.8 L447.6,629.8 L448.2,628.4 L448.8,626.9 L449.5,625.2 L450.2,623.2 L451.0,620.7 L451.7,618.1 L452.4,615.8 L452.8,614.2 L452.8,632.5 L452.4,633.9 L451.7,636.0 L451.0,638.4 L450.2,640.8 L449.5,642.9 L448.8,644.7 L448.2,646.4 L447.6,648.0 L446.9,649.4 L446.2,650.5 L445.5,651.1 L444.8,651.4 L444.0,651.5 L443.2,651.4 L442.3,651.3 L441.3,650.8 L440.2,650.0 L439.1,648.9 L438.0,647.8 L437.0,647.0 L436.1,646.7 L435.3,646.8 L434.6,647.2 L433.9,647.8 L433.1,648.7 L432.3,650.0 L431.5,651.7 L430.7,653.6 L429.9,655.3 L429.1,656.5 L428.3,657.0 L427.6,657.0 L426.9,656.7 L426.1,656.3 L425.2,656.1 L424.2,655.9 L423.2,655.7 L422.1,655.5 L421.0,655.4 L419.9,655.4 L418.9,655.6 L417.8,655.8 L416.8,656.0 L415.7,656.0 L414.7,656.0 L413.6,655.9 L412.6,655.8 L411.5,655.7 L410.5,655.9 L409.4,656.3 L408.4,657.3 L407.3,658.8 L406.3,660.3 L405.2,661.4 L404.2,661.8 L403.1,661.1 L402.1,659.7 L401.0,658.1 L400.0,656.8 L398.9,656.2 L397.8,656.6 L396.7,657.3 L395.6,658.2 L394.6,658.8 L393.6,658.9 L392.8,658.3 L392.0,657.2 L391.3,656.0 L390.5,655.2 L389.7,655.1 L388.7,655.8 L387.7,657.3 L386.6,659.4 L385.6,661.8 L384.5,664.3 L383.4,667.1 L382.4,670.4 L381.3,673.7 L380.3,676.7 L379.2,678.9 L378.1,679.9 L377.1,680.0 L376.0,679.6 L374.9,679.1 L373.9,679.1 L372.8,679.5 L371.8,680.0 L370.7,680.5 L369.7,681.0 L368.8,681.6 L368.0,682.4 L367.2,683.6 L366.5,684.9 L365.8,686.0 L364.9,686.5 L363.9,686.2 L362.9,685.1 L361.8,684.0 L360.7,683.2 L359.6,683.3 L358.5,684.6 L357.5,686.7 L356.4,689.2 L355.4,691.6 L354.4,693.5 L353.4,695.0 L352.5,696.5 L351.6,697.6 L350.7,698.1 L349.8,697.8 L348.9,696.2 L347.9,693.8 L347.0,690.9 L346.1,688.1 L345.2,685.8 L344.4,684.1 L343.6,682.7 L342.8,681.4 L342.0,680.5 L341.2,679.9 L340.4,679.7 L339.7,679.6 L339.0,679.8 L338.2,680.2 L337.3,680.6 L336.3,681.2 L335.3,682.0 L334.2,683.0 L333.1,684.2 L332.0,685.4 L331.0,686.8 L329.9,688.4 L328.9,689.9 L327.8,691.2 L326.8,692.1 L325.7,692.5 L324.7,692.4 L323.6,692.3 L322.6,692.1 L321.5,692.3 L320.4,692.6 L319.4,693.0 L318.3,693.7 L317.3,694.6 L316.3,695.9 L315.4,698.1 L314.5,700.9 L313.6,703.8 L312.7,706.2 L311.7,707.5 L310.6,707.3 L309.4,705.9 L308.2,703.9 L307.0,701.7 L305.8,699.9 L304.7,698.5 L303.6,697.3 L302.6,696.1 L301.5,695.0 L300.5,693.9 L299.5,692.9 L298.4,692.1 L297.4,691.6 L296.3,691.4 L295.3,691.4 L294.2,691.8 L293.1,692.4 L292.0,693.0 L291.0,693.5 L290.0,693.5 L289.2,693.1 L288.6,692.4 L288.0,691.5 L287.3,690.6 L286.4,689.5 L285.3,688.3 L283.9,686.8 L282.5,685.0 L281.1,683.2 L279.9,681.7 L278.9,680.4 L277.9,679.2 L277.1,678.3 L276.1,677.9 L275.1,678.3 L273.9,679.7 L272.7,681.8 L271.3,684.0 L270.0,685.8 L268.7,686.8 L267.4,686.6 L266.1,685.7 L264.9,684.5 L263.6,683.8 L262.3,683.9 L261.0,685.3 L259.7,687.6 L258.4,690.2 L257.1,692.7 L255.8,694.4 L254.5,695.3 L253.2,695.8 L252.0,696.0 L250.7,696.0 L249.4,695.9 L248.1,695.5 L246.8,694.6 L245.4,693.7 L244.2,693.0 L243.0,693.0 L241.9,693.8 L241.0,695.1 L240.0,696.7 L239.1,698.1 L238.2,699.1 L237.3,699.7 L236.4,700.1 L235.4,700.2 L234.5,700.2 L233.4,699.9 L232.2,699.5 L230.8,699.1 L229.5,698.8 L228.1,698.4 L226.9,697.8 L225.8,696.9 L224.7,695.7 L223.7,694.2 L222.9,692.4 L222.1,690.4 L221.5,688.1 L221.1,685.4 L220.7,682.6 L220.4,680.1 L220.0,678.1 L219.6,676.8 L219.3,676.0 L219.0,675.5 L218.6,675.1 L218.2,674.6 L217.7,673.8 L217.2,673.0 L216.6,672.3 L215.9,671.7 L215.3,671.6 L214.6,672.0 L213.9,672.8 L213.1,673.9 L212.3,675.0 L211.6,675.9 L210.9,676.5 L210.2,677.2 L209.4,677.9 L208.7,678.3 L208.0,678.5 L207.3,678.1 L206.5,677.3 L205.8,676.3 L205.0,675.2 L204.3,674.2 L203.6,673.2 L202.9,672.0 L202.1,670.8 L201.4,669.9 L200.7,669.3 L200.0,669.2 L199.2,669.5 L198.5,670.1 L197.7,670.8 L197.0,671.4 L196.3,672.0 L195.6,672.8 L194.8,673.6 L194.1,674.4 L193.4,675.0 L192.7,675.7 L191.9,676.4 L191.1,677.0 L190.4,677.5 L189.7,677.8 L189.1,677.7 L188.5,677.3 L188.0,676.8 L187.4,676.2 L186.8,675.7 L186.1,675.3 L185.4,674.8 L184.7,674.4 L183.9,673.9 L183.1,673.5 L182.3,673.0 L181.4,672.3 L180.5,671.6 L179.6,671.0 L178.8,671.0 L178.1,671.6 L177.5,672.8 L176.9,674.3 L176.4,675.8 L175.8,677.0 L175.2,678.0 L174.6,679.0 L174.1,679.9 L173.5,680.4 L172.9,680.3 L172.3,679.3 L171.7,677.7 L171.1,675.6 L170.5,673.7 L170.0,672.2 L169.7,671.4 L169.5,670.8 L169.3,670.4 L169.0,670.0 L168.6,669.4 L167.9,668.5 L167.1,667.3 L166.1,666.2 L165.1,665.3 L164.2,664.8 L163.3,665.0 L162.5,665.5 L161.6,666.2 L160.8,666.9 L159.9,667.4 L159.0,667.7 L158.1,667.8 L157.3,667.9 L156.4,668.0 L155.5,668.1 L154.6,668.5 L153.7,669.2 L152.9,669.9 L152.0,670.1 L151.1,669.6 L150.2,667.9 L149.3,665.3 L148.5,662.2 L147.6,659.4 L146.7,657.6 L145.8,657.1 L145.0,657.5 L144.2,658.3 L143.3,659.0 L142.3,659.2 L141.2,658.7 L140.1,658.0 L138.9,657.0 L137.7,656.0 L136.5,654.9 L135.3,653.8 L134.2,652.5 L133.0,651.1 L131.9,649.6 L130.7,648.1 L129.5,646.7 L128.3,645.2 L127.2,644.0 L126.0,643.0 L124.8,642.4 L123.7,642.4 L122.5,642.8 L121.4,643.6 L120.3,644.8 L119.0,646.2 L117.6,647.9 L116.1,649.7 L114.5,651.1 L113.0,651.6 L111.7,651.5 L110.5,650.9 L109.4,649.9 L108.4,649.0 L107.6,648.2 L107.0,647.8Z" fill="#8A8A8A" opacity="0.68"/>
<path d="M107.0,631.6 L107.8,631.0 L109.0,630.0 L110.4,628.9 L111.8,628.2 L113.1,628.0 L114.3,628.5 L115.5,629.5 L116.7,630.7 L117.8,631.9 L119.0,632.8 L120.2,633.5 L121.3,634.0 L122.5,634.2 L123.6,634.3 L124.8,634.3 L126.0,634.0 L127.2,633.6 L128.3,633.1 L129.5,632.8 L130.7,632.7 L131.9,633.1 L133.0,634.0 L134.2,635.2 L135.3,636.4 L136.5,637.3 L137.7,637.7 L138.9,637.7 L140.1,637.5 L141.2,637.4 L142.3,637.6 L143.2,638.3 L144.1,639.2 L144.9,640.4 L145.7,641.6 L146.7,642.7 L147.8,644.0 L149.0,645.5 L150.2,647.2 L151.4,648.8 L152.6,650.0 L153.8,650.6 L154.9,650.8 L156.1,650.8 L157.2,650.8 L158.4,650.7 L159.6,650.6 L160.7,650.1 L161.9,649.5 L163.0,649.0 L164.2,648.7 L165.4,648.9 L166.7,649.3 L168.0,649.8 L169.2,650.2 L170.1,650.6 L170.8,650.9 L171.2,651.3 L171.5,651.6 L171.8,651.9 L172.2,652.3 L172.6,652.7 L173.0,653.2 L173.5,653.8 L173.9,654.3 L174.4,655.0 L174.9,655.7 L175.5,656.5 L176.0,657.3 L176.7,658.1 L177.3,658.7 L178.0,659.0 L178.7,659.2 L179.5,659.3 L180.2,659.4 L181.0,659.7 L181.8,660.1 L182.5,660.7 L183.3,661.2 L184.2,661.9 L185.0,662.5 L185.9,663.3 L186.9,664.1 L187.9,664.9 L188.8,665.6 L189.7,666.0 L190.5,666.2 L191.3,666.4 L192.0,666.4 L192.7,666.5 L193.4,666.5 L194.1,666.4 L194.8,666.2 L195.6,666.0 L196.3,665.8 L197.0,665.7 L197.7,665.6 L198.5,665.3 L199.3,665.1 L200.0,665.0 L200.7,665.0 L201.3,665.3 L202.0,665.8 L202.5,666.4 L203.1,667.2 L203.6,668.2 L204.1,669.5 L204.6,671.2 L205.0,673.0 L205.4,674.8 L205.8,676.4 L206.1,677.8 L206.4,679.2 L206.6,680.4 L206.9,681.6 L207.2,682.7 L207.5,683.7 L207.8,684.6 L208.1,685.4 L208.6,686.1 L209.3,686.8 L210.3,687.2 L211.6,687.4 L212.9,687.5 L214.4,688.0 L215.7,689.1 L217.0,691.1 L218.3,693.8 L219.7,696.8 L220.9,699.6 L222.1,701.9 L223.2,703.9 L224.1,705.9 L225.0,707.4 L226.0,708.3 L226.9,708.2 L227.9,706.7 L228.9,704.4 L229.8,701.5 L230.8,698.6 L231.8,696.1 L232.7,694.0 L233.7,691.8 L234.6,689.8 L235.5,688.3 L236.6,687.3 L237.8,687.3 L239.0,688.2 L240.2,689.5 L241.6,690.9 L243.0,691.9 L244.5,692.2 L246.2,691.9 L247.8,691.0 L249.5,690.1 L251.0,689.5 L252.4,689.4 L253.7,689.6 L254.9,690.2 L256.1,691.0 L257.4,691.9 L258.7,693.2 L260.0,694.7 L261.3,696.2 L262.6,697.5 L263.9,698.5 L265.2,699.1 L266.5,699.4 L267.7,699.2 L269.0,698.6 L270.3,697.6 L271.6,696.1 L272.9,694.3 L274.1,692.6 L275.4,691.2 L276.7,690.2 L278.0,689.4 L279.2,688.5 L280.5,687.7 L281.8,687.3 L283.1,687.5 L284.5,688.7 L285.9,690.8 L287.3,693.2 L288.7,695.6 L290.0,697.4 L291.2,698.4 L292.2,699.1 L293.3,699.6 L294.3,700.1 L295.3,700.9 L296.3,702.1 L297.3,703.6 L298.3,705.3 L299.4,706.8 L300.5,708.1 L301.7,709.0 L303.0,709.4 L304.4,709.3 L305.8,708.8 L307.1,708.1 L308.4,707.2 L309.7,706.3 L311.1,705.2 L312.4,704.1 L313.7,702.9 L315.0,701.5 L316.2,700.0 L317.5,698.4 L318.8,696.9 L320.2,695.5 L321.7,693.9 L323.4,692.2 L325.1,690.3 L326.7,688.3 L328.1,686.8 L329.3,686.2 L330.3,686.3 L331.3,686.8 L332.3,687.6 L333.4,688.3 L334.6,689.1 L335.9,690.2 L337.2,691.5 L338.6,692.6 L339.9,693.3 L341.2,693.2 L342.6,692.6 L343.9,691.9 L345.3,691.5 L346.5,691.9 L347.6,693.5 L348.7,695.9 L349.7,698.4 L350.7,700.4 L351.8,701.2 L353.0,700.5 L354.4,698.9 L355.7,697.0 L357.1,695.2 L358.3,693.8 L359.4,692.7 L360.5,691.5 L361.5,690.2 L362.6,688.7 L363.6,686.9 L364.6,684.8 L365.6,682.3 L366.6,679.8 L367.7,677.4 L368.8,675.3 L370.0,673.7 L371.4,672.3 L372.7,671.1 L374.1,669.9 L375.3,668.7 L376.4,667.6 L377.5,666.6 L378.6,665.9 L379.6,665.6 L380.5,665.9 L381.4,666.9 L382.1,668.5 L382.9,670.3 L383.6,671.7 L384.5,672.3 L385.5,671.8 L386.5,670.4 L387.6,668.6 L388.6,666.8 L389.7,665.6 L390.8,664.9 L391.8,664.5 L392.9,664.3 L393.9,664.4 L395.0,664.7 L396.0,665.5 L397.1,666.7 L398.1,668.1 L399.2,669.2 L400.2,669.8 L401.2,669.6 L402.3,668.8 L403.3,667.7 L404.4,666.6 L405.5,665.7 L406.7,665.0 L408.0,664.1 L409.3,663.0 L410.7,661.6 L412.0,660.2 L413.3,658.6 L414.7,656.9 L416.0,655.4 L417.4,654.2 L418.6,653.4 L419.7,653.2 L420.8,653.5 L421.8,654.0 L422.9,654.3 L423.9,654.1 L424.9,653.3 L425.9,652.0 L426.9,650.4 L428.0,648.8 L429.1,647.4 L430.3,645.9 L431.6,644.2 L433.0,642.7 L434.4,641.8 L435.7,641.6 L437.1,642.9 L438.5,645.3 L439.9,648.2 L441.2,650.6 L442.3,652.0 L443.3,652.1 L444.1,651.4 L444.9,650.1 L445.5,648.5 L446.2,646.9 L446.8,645.0 L447.3,642.7 L447.7,640.3 L448.2,638.3 L448.8,637.0 L449.6,636.5 L450.5,636.7 L451.4,637.1 L452.2,637.5 L452.8,637.7 L452.8,653.6 L452.2,653.3 L451.4,652.6 L450.5,651.8 L449.6,651.4 L448.8,651.6 L448.2,652.8 L447.7,654.7 L447.3,657.0 L446.8,659.3 L446.2,661.2 L445.5,663.0 L444.9,664.8 L444.1,666.4 L443.3,667.7 L442.3,668.4 L441.2,668.1 L439.9,666.9 L438.5,665.5 L437.1,664.4 L435.7,664.2 L434.4,664.9 L433.0,666.1 L431.6,667.4 L430.3,668.6 L429.1,669.3 L428.0,670.1 L426.9,671.0 L425.9,671.9 L424.9,672.7 L423.9,673.1 L422.9,673.0 L421.8,672.5 L420.8,671.9 L419.7,671.6 L418.6,671.9 L417.4,672.8 L416.0,674.0 L414.7,675.4 L413.3,676.6 L412.0,677.6 L410.7,678.3 L409.3,678.7 L408.0,678.8 L406.7,678.9 L405.5,679.0 L404.4,679.6 L403.3,680.6 L402.3,681.8 L401.2,682.8 L400.2,683.5 L399.2,683.6 L398.1,683.2 L397.1,682.7 L396.0,682.3 L395.0,682.3 L393.9,682.8 L392.9,683.3 L391.8,684.0 L390.8,684.7 L389.7,685.6 L388.6,686.9 L387.6,688.7 L386.5,690.4 L385.5,691.8 L384.5,692.3 L383.6,691.7 L382.9,690.3 L382.1,688.5 L381.4,687.0 L380.5,686.1 L379.6,686.0 L378.6,686.6 L377.5,687.5 L376.4,688.7 L375.3,690.0 L374.1,691.2 L372.7,692.3 L371.4,693.2 L370.0,694.0 L368.8,694.9 L367.7,696.2 L366.6,697.9 L365.6,699.7 L364.6,701.5 L363.6,703.1 L362.6,704.3 L361.5,705.3 L360.5,706.3 L359.4,707.3 L358.3,708.4 L357.1,709.9 L355.7,711.9 L354.4,714.0 L353.0,715.9 L351.8,716.8 L350.7,716.3 L349.7,714.5 L348.7,712.1 L347.6,709.8 L346.5,708.4 L345.3,708.3 L343.9,708.9 L342.6,710.0 L341.2,711.0 L339.9,711.5 L338.6,711.3 L337.2,710.8 L335.9,710.0 L334.6,709.3 L333.4,708.8 L332.3,708.4 L331.3,707.8 L330.3,707.3 L329.3,707.2 L328.1,707.8 L326.7,709.1 L325.1,710.7 L323.4,712.2 L321.7,713.5 L320.2,714.6 L318.8,715.6 L317.5,716.8 L316.2,717.9 L315.0,719.0 L313.7,720.0 L312.4,720.8 L311.1,721.5 L309.7,722.2 L308.4,722.8 L307.1,723.5 L305.8,724.2 L304.4,724.8 L303.0,725.0 L301.7,724.8 L300.5,724.2 L299.4,723.2 L298.3,721.9 L297.3,720.5 L296.3,719.3 L295.3,718.2 L294.3,717.6 L293.3,717.2 L292.2,716.8 L291.2,716.3 L290.0,715.3 L288.7,713.8 L287.3,711.6 L285.9,709.5 L284.5,707.9 L283.1,707.1 L281.8,707.3 L280.5,708.1 L279.2,709.2 L278.0,710.2 L276.7,711.0 L275.4,711.8 L274.1,712.9 L272.9,714.1 L271.6,715.2 L270.3,716.0 L269.0,716.5 L267.7,716.6 L266.5,716.3 L265.2,715.8 L263.9,715.2 L262.6,714.3 L261.3,713.1 L260.0,711.9 L258.7,710.7 L257.4,709.6 L256.1,708.7 L254.9,707.8 L253.7,707.1 L252.4,706.5 L251.0,706.1 L249.5,706.2 L247.8,706.8 L246.2,707.6 L244.5,708.2 L243.0,708.5 L241.6,708.3 L240.2,707.7 L239.0,707.1 L237.8,707.0 L236.6,707.5 L235.5,708.7 L234.6,710.4 L233.7,712.3 L232.7,714.3 L231.8,716.1 L230.8,718.2 L229.8,720.6 L228.9,723.0 L227.9,724.9 L226.9,725.9 L226.0,725.7 L225.0,724.6 L224.1,723.0 L223.2,721.1 L222.1,719.3 L220.9,717.3 L219.7,715.0 L218.3,712.6 L217.0,710.4 L215.7,708.7 L214.4,707.7 L212.9,707.0 L211.6,706.4 L210.3,705.5 L209.3,704.5 L208.6,703.4 L208.1,702.3 L207.8,701.3 L207.5,700.3 L207.2,699.1 L206.9,697.9 L206.6,696.6 L206.4,695.2 L206.1,693.8 L205.8,692.2 L205.4,690.5 L205.0,688.6 L204.6,686.6 L204.1,684.9 L203.6,683.5 L203.1,682.6 L202.5,681.9 L202.0,681.4 L201.3,681.2 L200.7,681.2 L200.0,681.5 L199.3,682.1 L198.5,682.8 L197.7,683.5 L197.0,684.2 L196.3,684.7 L195.6,685.2 L194.8,685.8 L194.1,686.2 L193.4,686.4 L192.7,686.4 L192.0,686.3 L191.3,686.1 L190.5,685.7 L189.7,685.1 L188.8,684.2 L187.9,683.0 L186.9,681.7 L185.9,680.3 L185.0,679.1 L184.2,678.2 L183.3,677.4 L182.5,676.7 L181.8,676.3 L181.0,676.0 L180.2,676.0 L179.5,676.2 L178.7,676.6 L178.0,676.8 L177.3,676.9 L176.7,676.7 L176.0,676.3 L175.5,675.8 L174.9,675.2 L174.4,674.7 L173.9,674.3 L173.5,673.8 L173.0,673.3 L172.6,672.9 L172.2,672.5 L171.8,672.0 L171.5,671.7 L171.2,671.3 L170.8,670.9 L170.1,670.4 L169.2,669.5 L168.0,668.4 L166.7,667.1 L165.4,666.0 L164.2,665.2 L163.0,665.0 L161.9,665.4 L160.7,666.1 L159.6,667.0 L158.4,667.8 L157.2,668.5 L156.1,669.4 L154.9,670.1 L153.8,670.5 L152.6,670.3 L151.4,669.3 L150.2,667.6 L149.0,665.6 L147.8,663.4 L146.7,661.5 L145.7,659.7 L144.9,657.9 L144.1,656.3 L143.2,654.9 L142.3,653.8 L141.2,653.3 L140.1,653.4 L138.9,653.8 L137.7,654.2 L136.5,654.4 L135.3,654.1 L134.2,653.5 L133.0,652.8 L131.9,652.3 L130.7,652.0 L129.5,651.9 L128.3,652.0 L127.2,651.9 L126.0,651.7 L124.8,651.3 L123.6,650.7 L122.5,650.1 L121.3,649.6 L120.2,649.0 L119.0,648.5 L117.8,648.0 L116.7,647.4 L115.5,647.0 L114.3,646.9 L113.1,647.2 L111.8,648.1 L110.4,649.4 L109.0,650.7 L107.8,651.6 L107.0,652.1Z" fill="#C8612E" opacity="0.45"/>
<path d="M107.0,618.0 L107.6,618.5 L108.5,619.2 L109.5,620.1 L110.6,621.1 L111.7,622.1 L112.8,623.2 L113.9,624.3 L115.1,625.4 L116.3,626.3 L117.5,627.2 L118.7,628.1 L119.9,629.2 L121.0,630.3 L122.2,631.5 L123.4,632.6 L124.6,633.4 L125.7,634.0 L126.9,634.4 L128.0,634.6 L129.2,634.6 L130.3,634.7 L131.4,634.7 L132.6,634.5 L133.7,634.1 L135.0,633.4 L136.4,632.3 L138.0,631.0 L139.5,630.1 L141.0,629.7 L142.3,629.7 L143.3,630.1 L144.2,630.6 L145.0,631.4 L145.8,632.4 L146.7,633.8 L147.8,635.8 L149.0,638.6 L150.2,641.5 L151.4,644.0 L152.6,645.2 L153.8,645.1 L155.0,643.9 L156.2,642.4 L157.3,641.2 L158.4,640.6 L159.4,640.7 L160.3,640.9 L161.1,641.2 L161.9,641.7 L162.8,642.3 L163.7,643.1 L164.6,644.3 L165.6,645.5 L166.4,646.7 L167.2,647.7 L167.9,648.6 L168.4,649.4 L168.9,650.0 L169.5,650.4 L170.0,650.4 L170.6,649.8 L171.2,648.8 L171.7,647.5 L172.3,646.2 L172.9,645.0 L173.5,644.0 L174.1,643.1 L174.6,642.3 L175.2,641.7 L175.8,641.4 L176.4,641.5 L176.9,641.8 L177.5,642.3 L178.1,643.0 L178.8,644.0 L179.6,645.3 L180.5,647.0 L181.4,648.7 L182.3,650.0 L183.1,650.6 L183.9,650.3 L184.7,649.4 L185.4,648.2 L186.1,646.9 L186.8,645.9 L187.4,645.1 L188.0,644.2 L188.5,643.4 L189.1,642.8 L189.7,642.3 L190.4,642.2 L191.1,642.2 L191.9,642.4 L192.7,642.7 L193.4,643.0 L194.1,643.5 L194.8,644.2 L195.6,645.0 L196.3,645.7 L197.0,646.1 L197.7,646.0 L198.5,645.5 L199.2,644.8 L200.0,644.3 L200.7,644.2 L201.4,644.7 L202.1,645.5 L202.9,646.5 L203.6,647.6 L204.3,648.8 L205.0,650.1 L205.8,651.6 L206.5,653.0 L207.3,654.0 L208.0,654.4 L208.7,653.8 L209.5,652.4 L210.2,650.8 L210.9,649.2 L211.6,648.1 L212.2,647.7 L212.8,647.6 L213.4,647.8 L214.0,648.3 L214.5,649.1 L215.0,650.2 L215.4,651.7 L215.8,653.4 L216.2,655.2 L216.7,657.2 L217.3,659.4 L218.0,661.9 L218.7,664.5 L219.4,666.8 L220.0,668.4 L220.4,669.3 L220.7,669.6 L221.0,669.6 L221.4,669.6 L222.1,669.8 L223.1,670.3 L224.4,671.0 L225.8,671.5 L227.2,671.7 L228.5,671.7 L229.6,671.7 L230.6,671.8 L231.5,672.0 L232.5,672.1 L233.4,671.9 L234.3,671.2 L235.3,670.1 L236.2,668.9 L237.1,667.8 L238.2,667.2 L239.4,667.4 L240.6,668.4 L242.0,669.9 L243.3,671.6 L244.6,672.8 L245.9,673.2 L247.1,672.9 L248.3,672.2 L249.6,671.3 L251.0,670.4 L252.5,669.5 L254.2,668.4 L255.9,667.1 L257.6,666.0 L259.1,665.7 L260.5,666.4 L261.8,667.9 L263.0,669.6 L264.2,670.9 L265.5,671.1 L266.8,669.8 L268.1,667.5 L269.5,664.6 L270.7,662.0 L271.9,660.1 L272.9,659.1 L273.9,658.6 L274.7,658.5 L275.7,658.7 L276.7,659.3 L277.9,660.5 L279.1,662.7 L280.4,665.5 L281.8,668.6 L283.1,671.3 L284.5,673.5 L285.8,675.5 L287.2,677.4 L288.6,679.0 L290.0,680.4 L291.3,681.3 L292.7,681.5 L294.0,681.4 L295.3,680.9 L296.6,680.6 L297.9,680.3 L299.2,680.2 L300.5,680.3 L301.8,680.6 L303.1,681.3 L304.4,682.2 L305.7,683.3 L307.1,684.8 L308.4,686.6 L309.7,688.8 L311.0,691.7 L312.3,695.1 L313.7,698.3 L315.0,700.8 L316.3,701.7 L317.6,700.8 L319.0,698.4 L320.3,695.4 L321.6,692.7 L322.8,691.2 L323.9,691.3 L324.9,692.3 L325.9,693.9 L327.0,695.5 L328.1,696.4 L329.4,696.4 L330.7,695.6 L332.1,694.2 L333.4,692.8 L334.7,691.6 L335.8,691.2 L336.9,691.1 L337.9,691.1 L338.9,691.1 L339.9,690.7 L340.9,689.9 L342.0,689.0 L343.0,688.2 L344.1,687.6 L345.2,687.4 L346.5,687.4 L347.8,687.4 L349.2,687.2 L350.5,686.9 L351.8,686.8 L352.9,687.4 L354.0,688.5 L355.0,689.7 L356.0,690.7 L357.0,690.9 L358.0,690.1 L359.1,688.5 L360.1,686.7 L361.2,685.3 L362.3,684.8 L363.5,685.6 L364.8,687.2 L366.1,689.2 L367.5,691.0 L368.8,692.3 L370.1,693.1 L371.5,693.7 L372.8,694.1 L374.1,694.0 L375.3,693.2 L376.4,691.4 L377.5,688.8 L378.6,685.8 L379.6,682.9 L380.5,680.5 L381.4,678.5 L382.1,676.7 L382.9,675.2 L383.6,674.1 L384.5,673.5 L385.4,673.8 L386.4,674.8 L387.5,676.0 L388.6,676.9 L389.7,677.0 L390.9,675.7 L392.2,673.6 L393.6,671.0 L395.0,668.7 L396.3,667.4 L397.6,667.9 L399.0,669.7 L400.3,672.3 L401.6,674.7 L402.8,675.9 L403.9,675.5 L404.9,674.0 L405.9,671.9 L407.0,669.7 L408.1,668.0 L409.4,666.8 L410.8,665.6 L412.2,664.5 L413.5,663.2 L414.7,661.8 L415.6,660.4 L416.4,659.1 L417.1,658.1 L417.8,657.5 L418.6,657.4 L419.6,658.5 L420.6,660.7 L421.7,663.0 L422.8,664.8 L423.9,665.2 L424.9,663.7 L426.0,660.8 L427.0,657.5 L428.1,654.5 L429.1,652.8 L430.2,652.6 L431.2,653.2 L432.3,654.0 L433.3,654.4 L434.4,653.8 L435.5,652.3 L436.5,650.4 L437.6,648.1 L438.6,645.8 L439.6,643.6 L440.5,641.0 L441.3,637.9 L442.1,634.9 L442.8,632.2 L443.6,630.4 L444.4,629.8 L445.1,630.0 L445.8,630.8 L446.6,631.9 L447.5,632.9 L448.6,634.0 L449.8,635.4 L451.0,636.6 L452.1,637.4 L452.8,637.9 L452.8,656.4 L452.1,656.0 L451.0,655.2 L449.8,654.2 L448.6,653.2 L447.5,652.5 L446.6,651.8 L445.8,651.0 L445.1,650.6 L444.4,650.6 L443.6,651.6 L442.8,653.6 L442.1,656.4 L441.3,659.7 L440.5,662.8 L439.6,665.4 L438.6,667.6 L437.6,669.7 L436.5,671.5 L435.5,673.0 L434.4,673.9 L433.3,673.8 L432.3,672.8 L431.2,671.3 L430.2,670.1 L429.1,669.8 L428.1,671.0 L427.0,673.6 L426.0,676.6 L424.9,679.2 L423.9,680.6 L422.8,680.1 L421.7,678.2 L420.6,675.8 L419.6,673.6 L418.6,672.5 L417.8,672.5 L417.1,673.1 L416.4,674.1 L415.6,675.4 L414.7,676.8 L413.5,678.2 L412.2,679.7 L410.8,681.1 L409.4,682.6 L408.1,684.3 L407.0,686.5 L405.9,689.2 L404.9,691.8 L403.9,693.8 L402.8,694.8 L401.6,694.1 L400.3,692.3 L399.0,690.2 L397.6,688.8 L396.3,688.7 L395.0,690.2 L393.6,692.6 L392.2,695.2 L390.9,697.4 L389.7,698.5 L388.6,698.3 L387.5,697.2 L386.4,695.8 L385.4,694.4 L384.5,693.8 L383.6,694.0 L382.9,694.8 L382.1,695.9 L381.4,697.3 L380.5,698.8 L379.6,700.7 L378.6,703.0 L377.5,705.4 L376.4,707.5 L375.3,708.8 L374.1,709.1 L372.8,708.9 L371.5,708.2 L370.1,707.5 L368.8,706.7 L367.5,705.6 L366.1,704.0 L364.8,702.2 L363.5,700.7 L362.3,700.2 L361.2,700.8 L360.1,702.4 L359.1,704.3 L358.0,706.1 L357.0,707.2 L356.0,707.3 L355.0,706.7 L354.0,705.9 L352.9,705.4 L351.8,705.5 L350.5,706.4 L349.2,707.6 L347.8,708.7 L346.5,709.5 L345.2,710.0 L344.1,710.4 L343.0,711.1 L342.0,711.8 L340.9,712.5 L339.9,712.9 L338.9,712.8 L337.9,712.3 L336.9,711.6 L335.8,711.1 L334.7,710.9 L333.4,711.4 L332.1,712.3 L330.7,713.4 L329.4,713.9 L328.1,713.8 L327.0,712.8 L325.9,711.1 L324.9,709.4 L323.9,708.1 L322.8,707.7 L321.6,708.7 L320.3,710.8 L319.0,713.1 L317.6,714.8 L316.3,715.1 L315.0,713.8 L313.7,711.2 L312.3,708.2 L311.0,705.3 L309.7,703.3 L308.4,702.2 L307.1,701.6 L305.7,701.4 L304.4,701.4 L303.1,701.5 L301.8,701.5 L300.5,701.6 L299.2,701.7 L297.9,701.7 L296.6,701.7 L295.3,701.7 L294.0,701.8 L292.7,701.7 L291.3,701.3 L290.0,700.6 L288.6,699.5 L287.2,698.2 L285.8,696.7 L284.5,694.9 L283.1,692.7 L281.8,689.7 L280.4,686.1 L279.1,682.3 L277.9,679.0 L276.7,676.6 L275.7,674.9 L274.7,673.8 L273.9,673.0 L272.9,672.8 L271.9,673.1 L270.7,674.5 L269.5,677.1 L268.1,680.2 L266.8,683.2 L265.5,685.2 L264.2,685.9 L263.0,685.5 L261.8,684.6 L260.5,683.7 L259.1,683.4 L257.6,683.9 L255.9,684.8 L254.2,685.9 L252.5,686.8 L251.0,687.9 L249.6,689.1 L248.3,690.7 L247.1,692.2 L245.9,693.5 L244.6,694.1 L243.3,693.9 L242.0,693.1 L240.6,692.0 L239.4,691.1 L238.2,690.6 L237.1,690.7 L236.2,691.0 L235.3,691.5 L234.3,691.7 L233.4,691.4 L232.5,690.7 L231.5,689.7 L230.6,688.7 L229.6,687.9 L228.5,687.3 L227.2,687.0 L225.8,686.8 L224.4,686.5 L223.1,686.2 L222.1,686.0 L221.4,686.0 L221.0,686.1 L220.7,686.2 L220.4,685.9 L220.0,685.1 L219.4,683.5 L218.7,681.3 L218.0,678.6 L217.3,676.0 L216.7,673.6 L216.2,671.5 L215.8,669.5 L215.4,667.6 L215.0,665.9 L214.5,664.6 L214.0,663.6 L213.4,662.8 L212.8,662.3 L212.2,662.2 L211.6,662.4 L210.9,663.3 L210.2,664.8 L209.5,666.4 L208.7,667.8 L208.0,668.6 L207.3,668.6 L206.5,668.0 L205.8,667.1 L205.0,666.2 L204.3,665.6 L203.6,665.1 L202.9,664.7 L202.1,664.4 L201.4,664.3 L200.7,664.5 L200.0,665.2 L199.2,666.3 L198.5,667.4 L197.7,668.2 L197.0,668.5 L196.3,668.2 L195.6,667.5 L194.8,666.6 L194.1,665.6 L193.4,664.9 L192.7,664.2 L191.9,663.5 L191.1,662.9 L190.4,662.4 L189.7,662.2 L189.1,662.3 L188.5,662.8 L188.0,663.4 L187.4,664.0 L186.8,664.7 L186.1,665.6 L185.4,666.8 L184.7,668.1 L183.9,669.0 L183.1,669.4 L182.3,669.0 L181.4,667.8 L180.5,666.3 L179.6,664.7 L178.8,663.4 L178.1,662.4 L177.5,661.5 L176.9,660.9 L176.4,660.4 L175.8,660.1 L175.2,660.1 L174.6,660.4 L174.1,660.8 L173.5,661.4 L172.9,661.9 L172.3,662.6 L171.7,663.5 L171.2,664.4 L170.6,665.0 L170.0,665.2 L169.5,664.9 L168.9,664.2 L168.4,663.4 L167.9,662.4 L167.2,661.3 L166.4,660.2 L165.6,659.1 L164.6,658.0 L163.7,657.2 L162.8,656.7 L161.9,656.6 L161.1,656.7 L160.3,657.0 L159.4,657.4 L158.4,658.0 L157.3,659.2 L156.2,660.9 L155.0,662.8 L153.8,664.2 L152.6,664.5 L151.4,663.2 L150.2,660.6 L149.0,657.5 L147.8,654.6 L146.7,652.6 L145.8,651.3 L145.0,650.4 L144.2,649.7 L143.3,649.4 L142.3,649.4 L141.0,649.8 L139.5,650.7 L138.0,651.9 L136.4,653.3 L135.0,654.3 L133.7,654.7 L132.6,654.6 L131.4,654.2 L130.3,653.6 L129.2,652.9 L128.0,652.1 L126.9,651.3 L125.7,650.4 L124.6,649.5 L123.4,648.4 L122.2,647.2 L121.0,646.0 L119.9,645.0 L118.7,644.1 L117.5,643.4 L116.3,642.7 L115.1,641.9 L113.9,641.0 L112.8,639.9 L111.7,638.9 L110.6,637.9 L109.5,636.9 L108.5,636.0 L107.6,635.4 L107.0,634.9Z" fill="#7A5CAC" opacity="0.5"/>
<path d="M107.0,648.2 L109.0,648.1 L111.9,648.5 L115.2,649.7 L118.7,650.1 L121.9,649.9 L124.8,650.4 L127.8,651.2 L130.7,652.1 L133.6,653.4 L136.5,655.1 L139.4,655.9 L142.3,656.0 L145.3,656.5 L148.2,657.6 L151.1,658.7 L154.0,659.8 L156.9,661.2 L159.9,662.3 L162.8,662.4 L165.7,662.5 L168.6,663.2 L171.5,664.1 L174.5,664.5 L177.4,664.7 L180.3,665.0 L183.3,664.8 L186.4,664.4 L189.4,665.0 L192.3,666.1 L194.9,666.6 L197.2,666.8 L199.3,667.0 L201.2,667.3 L203.1,667.6 L205.0,667.6 L207.0,667.6 L209.0,667.8 L211.0,668.5 L213.0,669.6 L215.0,670.7 L217.0,672.1 L219.0,673.6 L221.0,675.6 L223.0,677.7 L225.0,679.7 L226.9,681.5 L228.8,683.5 L230.6,685.5 L232.7,687.4 L235.0,688.7 L237.7,688.6 L240.6,687.1 L243.8,685.8 L246.9,684.9 L250.0,683.9 L253.0,683.0 L256.0,681.9 L259.0,680.2 L262.0,678.1 L265.0,677.3 L268.1,678.0 L271.2,679.1 L274.4,680.2 L277.3,681.4 L280.0,682.2 L282.3,682.6 L284.2,683.3 L286.0,684.5 L287.9,685.9 L290.0,687.3 L292.5,687.9 L295.1,687.7 L297.9,687.6 L300.6,687.6 L303.1,687.9 L305.4,689.2 L307.7,691.7 L309.8,694.7 L311.8,697.2 L313.7,698.2 L315.4,697.6 L317.0,696.1 L318.5,694.2 L320.0,692.3 L321.5,690.8 L323.1,689.6 L324.7,688.5 L326.3,687.5 L327.9,686.5 L329.4,685.6 L330.8,684.3 L332.1,682.7 L333.4,680.9 L334.7,679.3 L336.0,678.3 L337.3,678.3 L338.6,679.1 L340.0,680.4 L341.3,681.7 L342.6,682.6 L343.9,683.0 L345.2,683.1 L346.5,682.8 L347.8,682.3 L349.1,681.7 L350.4,680.8 L351.7,679.7 L353.0,678.3 L354.3,677.0 L355.7,675.9 L357.2,674.9 L358.8,674.0 L360.5,673.3 L362.1,672.7 L363.6,672.0 L364.9,670.8 L365.9,669.1 L367.0,667.3 L368.3,665.5 L370.0,664.1 L372.2,663.4 L374.8,663.1 L377.5,662.7 L380.4,661.6 L383.1,660.4 L385.7,659.6 L388.4,658.6 L391.0,657.0 L393.7,655.1 L396.3,653.6 L398.9,652.4 L401.5,651.0 L404.2,650.1 L406.8,649.9 L409.4,649.9 L412.0,649.3 L414.7,648.2 L417.3,647.1 L420.0,646.2 L422.6,645.1 L425.2,643.9 L427.8,643.1 L430.5,642.4 L433.1,641.1 L435.7,639.0 L438.5,636.8 L441.4,635.1 L444.2,633.5 L446.8,632.0 L448.8,631.1 L450.2,630.7 L451.2,630.5 L451.9,630.5 L452.4,630.5 L452.8,630.4" fill="none" stroke="#B4B4B4" stroke-width="2.0" stroke-linejoin="round" stroke-linecap="round" opacity="1"/>
<path d="M107.0,642.4 L108.0,642.4 L109.5,642.5 L111.2,643.1 L113.0,643.9 L114.6,644.5 L116.1,644.5 L117.5,644.0 L119.0,643.4 L120.4,642.9 L121.9,642.8 L123.4,643.3 L124.8,644.0 L126.3,644.8 L127.7,645.6 L129.2,646.5 L130.7,647.6 L132.1,649.0 L133.6,650.5 L135.0,651.7 L136.5,652.3 L138.0,652.1 L139.4,651.2 L140.9,650.2 L142.3,649.6 L143.8,649.5 L145.3,650.2 L146.7,651.2 L148.2,652.4 L149.6,653.5 L151.1,654.4 L152.6,655.2 L154.0,655.9 L155.5,656.4 L156.9,656.5 L158.4,656.1 L159.9,655.2 L161.3,654.0 L162.8,653.0 L164.2,652.5 L165.7,652.8 L167.3,653.8 L168.9,655.2 L170.5,656.7 L171.9,658.0 L173.0,659.1 L173.6,659.9 L173.8,660.7 L173.9,661.4 L174.0,661.9 L174.4,662.1 L175.2,661.9 L176.2,661.2 L177.3,660.3 L178.5,659.5 L179.5,659.4 L180.4,659.9 L181.4,660.9 L182.3,662.3 L183.1,663.9 L184.0,665.5 L184.9,667.2 L185.7,669.2 L186.6,671.0 L187.4,672.6 L188.2,673.5 L188.9,673.7 L189.6,673.4 L190.3,672.6 L191.1,671.8 L191.9,671.0 L192.8,670.3 L193.9,669.5 L194.9,668.8 L196.0,668.3 L197.0,668.1 L197.9,668.2 L198.8,668.4 L199.7,668.8 L200.6,669.2 L201.4,669.6 L202.2,670.2 L202.9,670.8 L203.5,671.5 L204.2,672.2 L205.0,672.9 L205.8,673.6 L206.7,674.4 L207.6,675.0 L208.5,675.5 L209.4,675.7 L210.3,675.5 L211.2,675.0 L212.1,674.4 L213.0,673.9 L213.8,673.8 L214.6,674.0 L215.3,674.6 L216.1,675.4 L216.8,676.4 L217.4,677.5 L218.0,678.6 L218.5,679.8 L219.0,681.1 L219.5,682.5 L220.0,683.9 L220.4,685.3 L220.7,686.7 L221.1,688.1 L221.5,689.7 L222.1,691.3 L222.9,693.1 L223.9,694.9 L225.0,696.8 L226.0,698.8 L226.9,701.0 L227.6,703.8 L228.2,707.3 L228.8,710.6 L229.4,713.0 L230.1,713.6 L230.9,712.0 L231.9,708.5 L232.9,704.1 L233.9,699.8 L235.0,696.7 L236.1,694.8 L237.3,693.5 L238.5,692.7 L239.9,692.2 L241.4,691.7 L243.2,691.0 L245.2,690.2 L247.2,689.6 L249.2,689.3 L251.0,689.1 L252.5,688.6 L253.8,688.0 L255.0,687.5 L256.2,687.4 L257.4,687.8 L258.7,689.0 L260.0,690.8 L261.3,692.7 L262.6,694.1 L263.9,694.6 L265.2,694.0 L266.5,692.9 L267.7,691.6 L269.0,690.7 L270.3,690.5 L271.5,691.0 L272.7,691.8 L273.9,692.8 L275.2,693.7 L276.7,694.5 L278.5,695.1 L280.6,695.7 L282.8,696.1 L284.8,696.3 L286.4,696.8 L287.4,697.9 L288.1,699.4 L288.5,701.1 L289.1,702.5 L290.0,703.6 L291.3,704.1 L292.9,704.1 L294.6,703.7 L296.3,703.2 L297.9,703.1 L299.3,704.1 L300.7,706.0 L302.0,708.1 L303.3,709.8 L304.5,710.4 L305.6,709.4 L306.6,707.1 L307.6,704.5 L308.6,702.3 L309.7,701.3 L310.9,701.9 L312.2,703.6 L313.5,705.6 L314.9,707.0 L316.3,707.2 L317.8,705.9 L319.4,703.7 L321.1,701.4 L322.7,699.6 L324.2,698.5 L325.6,698.0 L326.9,697.7 L328.2,697.6 L329.4,697.6 L330.7,697.8 L332.0,698.3 L333.3,699.3 L334.6,700.2 L335.9,700.5 L337.3,700.0 L338.8,698.4 L340.4,696.2 L342.0,694.0 L343.6,692.2 L345.2,691.1 L346.8,690.5 L348.4,689.8 L349.9,689.2 L351.5,688.6 L353.1,688.3 L354.7,688.2 L356.3,688.5 L357.9,688.8 L359.5,689.0 L361.0,689.1 L362.4,689.1 L363.6,689.2 L364.9,689.1 L366.1,688.7 L367.5,687.8 L369.0,686.2 L370.5,683.9 L372.1,681.5 L373.7,679.3 L375.3,677.7 L376.8,676.6 L378.2,675.6 L379.6,674.7 L381.2,673.9 L383.1,673.3 L385.5,673.1 L388.3,672.8 L391.2,672.0 L394.0,671.4 L396.3,671.4 L398.0,671.3 L399.4,670.8 L400.5,670.0 L401.6,669.1 L402.8,668.2 L404.1,667.5 L405.4,667.0 L406.8,666.6 L408.1,666.0 L409.4,665.0 L410.7,663.6 L412.0,661.9 L413.4,660.1 L414.7,658.5 L416.0,657.1 L417.3,655.9 L418.6,654.6 L420.0,653.1 L421.3,651.4 L422.6,649.8 L423.9,648.4 L425.2,647.2 L426.5,646.3 L427.8,645.7 L429.1,645.1 L430.4,644.4 L431.7,643.8 L433.1,643.0 L434.4,642.3 L435.7,641.6 L437.0,641.0 L438.4,640.3 L439.8,639.6 L441.1,638.7 L442.3,637.8 L443.4,637.0 L444.5,636.4 L445.5,635.9 L446.5,635.6 L447.5,635.6 L448.6,635.7 L449.9,636.0 L451.1,636.4 L452.1,636.7 L452.8,636.8" fill="none" stroke="#FCA25E" stroke-width="2.0" stroke-linejoin="round" stroke-linecap="round" opacity="1"/>
<path d="M107.0,645.9 L107.7,645.5 L108.6,645.0 L109.7,644.2 L110.8,643.1 L111.7,641.9 L112.3,640.5 L112.9,638.9 L113.3,637.3 L113.9,635.9 L114.6,635.2 L115.6,635.3 L116.7,636.2 L117.9,637.5 L119.2,638.7 L120.4,639.5 L121.6,639.7 L122.8,639.5 L123.9,639.1 L125.1,638.8 L126.3,638.6 L127.5,638.4 L128.6,638.1 L129.8,637.7 L130.9,637.4 L132.1,637.3 L133.3,637.6 L134.5,638.2 L135.6,639.3 L136.8,640.6 L138.0,642.1 L139.2,643.7 L140.3,645.5 L141.5,647.3 L142.6,648.9 L143.8,650.1 L145.0,651.0 L146.1,651.7 L147.3,652.3 L148.4,652.9 L149.6,653.6 L150.8,654.2 L152.0,654.8 L153.1,655.3 L154.3,655.8 L155.5,656.6 L156.7,657.8 L157.8,659.4 L159.0,661.1 L160.1,662.6 L161.3,663.4 L162.5,663.3 L163.7,662.5 L165.0,661.2 L166.1,660.0 L167.2,659.1 L168.2,658.6 L169.0,658.2 L169.9,658.0 L170.7,657.7 L171.5,657.6 L172.4,657.5 L173.2,657.5 L174.1,657.6 L174.9,657.8 L175.8,658.2 L176.7,658.9 L177.6,659.9 L178.4,661.1 L179.3,662.3 L180.2,663.6 L181.1,664.8 L182.0,666.0 L182.9,667.1 L183.8,668.1 L184.6,669.0 L185.4,669.8 L186.1,670.7 L186.8,671.5 L187.5,672.2 L188.2,672.9 L188.8,673.5 L189.4,674.2 L190.0,674.8 L190.6,675.0 L191.2,674.9 L191.8,674.2 L192.4,673.1 L192.9,671.7 L193.5,670.2 L194.1,668.7 L194.7,667.2 L195.3,665.5 L195.9,663.9 L196.5,662.4 L197.0,661.4 L197.5,660.6 L197.9,660.0 L198.3,659.6 L198.7,659.5 L199.2,659.7 L199.7,660.4 L200.3,661.4 L200.9,662.6 L201.5,663.8 L202.1,664.8 L202.7,665.9 L203.2,667.0 L203.8,668.0 L204.4,668.7 L205.0,668.9 L205.7,668.6 L206.4,667.9 L207.2,667.0 L208.0,666.0 L208.7,665.2 L209.4,664.5 L210.2,663.7 L210.9,663.0 L211.6,662.4 L212.3,662.3 L213.0,662.5 L213.6,663.0 L214.2,663.8 L214.8,664.8 L215.3,665.9 L215.8,667.2 L216.2,668.7 L216.6,670.4 L217.0,672.2 L217.4,674.1 L217.9,676.0 L218.4,678.1 L219.0,680.2 L219.5,682.3 L220.0,684.2 L220.4,685.8 L220.7,687.2 L221.0,688.6 L221.4,690.1 L222.1,691.8 L223.1,693.9 L224.3,696.2 L225.7,698.4 L227.1,700.3 L228.5,701.8 L229.8,702.7 L231.2,703.2 L232.5,703.4 L233.8,703.5 L235.0,703.8 L236.0,704.5 L237.0,705.6 L237.8,706.6 L238.8,706.8 L239.8,705.9 L241.0,702.9 L242.3,698.1 L243.7,692.5 L245.0,687.5 L246.2,684.4 L247.2,684.2 L248.2,686.1 L249.0,688.9 L250.0,691.3 L251.0,692.1 L252.2,690.6 L253.5,687.6 L254.9,683.9 L256.2,680.5 L257.4,678.4 L258.4,678.0 L259.3,678.6 L260.2,679.7 L261.1,681.0 L262.3,681.9 L263.7,682.6 L265.4,683.2 L267.1,683.6 L268.8,684.0 L270.3,684.0 L271.7,682.9 L273.0,680.9 L274.2,678.4 L275.4,676.4 L276.7,675.4 L278.0,676.0 L279.2,677.5 L280.5,679.8 L281.8,682.3 L283.1,684.7 L284.5,687.2 L285.9,690.1 L287.3,693.0 L288.7,695.8 L290.0,698.2 L291.2,699.9 L292.2,701.0 L293.3,701.8 L294.3,702.5 L295.3,703.5 L296.3,704.9 L297.4,706.7 L298.4,708.5 L299.5,709.9 L300.5,710.7 L301.5,710.4 L302.6,709.4 L303.6,708.0 L304.7,706.8 L305.8,706.3 L307.1,706.6 L308.4,707.6 L309.8,709.0 L311.1,710.7 L312.3,712.3 L313.2,713.9 L314.0,715.7 L314.7,717.2 L315.5,718.1 L316.3,717.9 L317.2,716.0 L318.2,712.7 L319.3,708.9 L320.4,705.7 L321.5,703.7 L322.8,703.6 L324.1,704.6 L325.5,706.1 L326.8,707.3 L328.1,707.7 L329.2,707.1 L330.3,705.9 L331.3,704.6 L332.3,703.2 L333.4,702.2 L334.6,701.3 L335.9,700.3 L337.2,699.2 L338.6,698.1 L339.9,697.1 L341.2,696.3 L342.5,695.8 L343.9,695.5 L345.2,695.2 L346.5,694.8 L347.8,694.1 L349.2,693.4 L350.6,692.7 L351.9,692.3 L353.1,692.2 L354.2,692.5 L355.2,693.3 L356.2,694.0 L357.2,694.4 L358.3,694.0 L359.5,692.8 L360.8,690.9 L362.2,689.1 L363.6,687.9 L364.9,687.6 L366.2,688.5 L367.6,690.2 L369.0,692.1 L370.3,693.5 L371.5,693.9 L372.6,692.9 L373.6,690.9 L374.5,688.4 L375.5,685.8 L376.6,683.8 L377.8,682.1 L379.1,680.7 L380.4,679.6 L381.8,679.0 L383.1,679.1 L384.4,679.9 L385.7,681.3 L387.1,682.8 L388.4,683.8 L389.7,684.0 L391.0,683.3 L392.3,682.0 L393.7,680.5 L395.0,679.1 L396.3,678.3 L397.6,678.2 L398.9,678.8 L400.2,679.6 L401.5,680.3 L402.8,680.6 L404.1,680.1 L405.4,679.1 L406.8,677.6 L408.1,675.7 L409.4,673.6 L410.7,671.4 L412.0,668.9 L413.4,666.5 L414.7,664.3 L416.0,662.4 L417.3,660.6 L418.6,659.0 L420.0,657.5 L421.3,656.4 L422.6,655.7 L423.9,655.5 L425.2,655.7 L426.5,655.9 L427.8,655.8 L429.1,655.3 L430.4,654.3 L431.7,653.1 L433.1,652.0 L434.4,651.0 L435.7,650.3 L437.0,649.8 L438.3,649.3 L439.7,648.8 L441.0,648.4 L442.3,648.0 L443.6,647.8 L445.0,647.7 L446.4,647.5 L447.7,646.9 L448.8,646.1 L449.8,644.8 L450.8,643.3 L451.6,641.8 L452.3,640.5 L452.8,639.6" fill="none" stroke="#B2B1D8" stroke-width="2.0" stroke-linejoin="round" stroke-linecap="round" opacity="1"/>
<path d="M107.0,640.5 L107.8,640.0 L109.0,639.0 L110.4,637.8 L111.8,636.8 L113.1,636.3 L114.3,636.3 L115.5,636.8 L116.7,637.5 L117.8,638.4 L119.0,639.0 L120.2,639.6 L121.3,640.1 L122.5,640.6 L123.6,641.1 L124.8,641.6 L126.0,642.0 L127.2,642.2 L128.3,642.4 L129.5,642.6 L130.7,643.0 L131.9,643.7 L133.0,644.8 L134.2,646.0 L135.3,647.1 L136.5,647.8 L137.7,648.0 L138.9,647.8 L140.1,647.5 L141.2,647.3 L142.3,647.5 L143.2,648.3 L144.1,649.4 L144.9,650.7 L145.7,652.0 L146.7,653.3 L147.8,654.8 L149.0,656.5 L150.2,658.1 L151.4,659.5 L152.6,660.3 L153.8,660.5 L154.9,660.1 L156.1,659.5 L157.2,658.7 L158.4,658.1 L159.6,657.4 L160.7,656.5 L161.9,655.7 L163.0,655.1 L164.2,655.0 L165.4,655.5 L166.7,656.3 L168.0,657.2 L169.2,658.1 L170.1,658.9 L170.8,659.3 L171.2,659.8 L171.5,660.2 L171.8,660.5 L172.2,661.0 L172.6,661.5 L173.0,662.0 L173.5,662.6 L173.9,663.2 L174.4,663.8 L174.9,664.5 L175.5,665.3 L176.0,666.1 L176.7,666.8 L177.3,667.3 L178.0,667.7 L178.7,667.8 L179.5,667.9 L180.2,668.1 L181.0,668.4 L181.8,669.0 L182.5,669.7 L183.3,670.5 L184.2,671.4 L185.0,672.4 L185.9,673.6 L186.9,674.9 L187.9,676.1 L188.8,677.1 L189.7,677.7 L190.5,678.1 L191.3,678.4 L192.0,678.4 L192.7,678.4 L193.4,678.3 L194.1,678.0 L194.8,677.5 L195.6,677.0 L196.3,676.5 L197.0,676.0 L197.7,675.5 L198.5,674.8 L199.3,674.2 L200.0,673.7 L200.7,673.5 L201.3,673.5 L202.0,673.8 L202.5,674.2 L203.1,674.9 L203.6,675.8 L204.1,677.1 L204.6,678.8 L205.0,680.6 L205.4,682.4 L205.8,684.1 L206.1,685.5 L206.4,686.8 L206.6,688.1 L206.9,689.3 L207.2,690.5 L207.5,691.5 L207.8,692.4 L208.1,693.3 L208.6,694.1 L209.3,694.8 L210.3,695.4 L211.6,695.6 L212.9,695.7 L214.4,695.9 L215.7,696.7 L217.0,698.4 L218.3,700.8 L219.7,703.6 L220.9,706.4 L222.1,708.8 L223.2,711.0 L224.1,713.3 L225.0,715.3 L226.0,716.6 L226.9,717.0 L227.9,716.2 L228.9,714.4 L229.8,712.0 L230.8,709.5 L231.8,707.4 L232.7,705.5 L233.7,703.4 L234.6,701.5 L235.5,699.8 L236.6,698.6 L237.8,698.3 L239.0,698.8 L240.2,699.7 L241.6,700.7 L243.0,701.5 L244.5,701.7 L246.2,701.4 L247.8,700.7 L249.5,699.8 L251.0,699.3 L252.4,699.0 L253.7,698.9 L254.9,699.0 L256.1,699.3 L257.4,699.6 L258.7,700.3 L260.0,701.2 L261.3,702.3 L262.6,703.5 L263.9,704.5 L265.2,705.4 L266.5,706.1 L267.7,706.5 L269.0,706.6 L270.3,706.1 L271.6,705.2 L272.9,703.9 L274.1,702.5 L275.4,701.2 L276.7,700.2 L278.0,699.3 L279.2,698.3 L280.5,697.4 L281.8,696.9 L283.1,697.2 L284.5,698.6 L285.9,701.0 L287.3,703.9 L288.7,706.6 L290.0,708.7 L291.2,709.9 L292.2,710.6 L293.3,711.0 L294.3,711.3 L295.3,711.8 L296.3,712.5 L297.3,713.4 L298.3,714.5 L299.4,715.4 L300.5,716.1 L301.7,716.4 L303.0,716.3 L304.4,716.0 L305.8,715.4 L307.1,714.8 L308.4,714.3 L309.7,713.7 L311.1,713.0 L312.4,712.2 L313.7,711.1 L315.0,709.8 L316.2,708.2 L317.5,706.6 L318.8,704.9 L320.2,703.3 L321.7,701.8 L323.4,700.2 L325.1,698.8 L326.7,697.5 L328.1,696.8 L329.3,696.7 L330.3,697.3 L331.3,698.3 L332.3,699.3 L333.4,700.3 L334.6,701.1 L335.9,702.1 L337.2,703.0 L338.6,703.6 L339.9,703.6 L341.2,703.0 L342.6,701.8 L343.9,700.6 L345.3,700.0 L346.5,700.3 L347.6,701.9 L348.7,704.3 L349.7,707.0 L350.7,709.1 L351.8,709.9 L353.0,709.1 L354.4,707.4 L355.7,705.2 L357.1,703.0 L358.3,701.2 L359.4,699.6 L360.5,698.2 L361.5,696.6 L362.6,695.0 L363.6,693.2 L364.6,691.2 L365.6,689.0 L366.6,686.8 L367.7,684.9 L368.8,683.5 L370.0,682.6 L371.4,681.9 L372.7,681.3 L374.1,680.6 L375.3,679.7 L376.4,678.7 L377.5,677.7 L378.6,676.8 L379.6,676.4 L380.5,676.4 L381.4,677.2 L382.1,678.7 L382.9,680.4 L383.6,681.7 L384.5,682.2 L385.5,681.6 L386.5,680.3 L387.6,678.6 L388.6,677.0 L389.7,675.9 L390.8,675.4 L391.8,675.0 L392.9,674.9 L393.9,674.8 L395.0,674.9 L396.0,675.3 L397.1,676.1 L398.1,677.0 L399.2,677.6 L400.2,677.6 L401.2,676.8 L402.3,675.6 L403.3,674.1 L404.4,672.8 L405.5,671.8 L406.7,671.1 L408.0,670.5 L409.3,669.8 L410.7,669.0 L412.0,668.1 L413.3,667.0 L414.7,665.8 L416.0,664.5 L417.4,663.4 L418.6,662.6 L419.7,662.3 L420.8,662.6 L421.8,663.0 L422.9,663.3 L423.9,663.2 L424.9,662.5 L425.9,661.3 L426.9,660.1 L428.0,658.8 L429.1,657.8 L430.3,656.8 L431.6,655.7 L433.0,654.5 L434.4,653.7 L435.7,653.5 L437.1,654.4 L438.5,656.2 L439.9,658.3 L441.2,660.1 L442.3,660.9 L443.3,660.5 L444.1,659.3 L444.9,657.8 L445.5,656.0 L446.2,654.2 L446.8,652.3 L447.3,649.9 L447.7,647.6 L448.2,645.5 L448.8,644.2 L449.6,643.9 L450.5,644.2 L451.4,644.7 L452.2,645.3 L452.8,645.6" fill="none" stroke="#C64301" stroke-width="2.2" stroke-linejoin="round" stroke-linecap="round" opacity="1"/>
<path d="M107.0,627.0 L107.6,627.4 L108.5,628.0 L109.5,628.7 L110.6,629.7 L111.7,630.8 L112.8,632.0 L113.9,633.2 L115.1,634.3 L116.3,635.2 L117.5,635.9 L118.7,636.5 L119.9,637.2 L121.0,637.9 L122.2,638.7 L123.4,639.3 L124.6,639.8 L125.7,640.2 L126.9,640.5 L128.0,640.8 L129.2,641.2 L130.3,641.7 L131.4,642.2 L132.6,642.7 L133.7,643.0 L135.0,643.0 L136.4,642.5 L138.0,641.7 L139.5,641.0 L141.0,640.6 L142.3,640.4 L143.3,640.6 L144.2,641.0 L145.0,641.6 L145.8,642.5 L146.7,643.7 L147.8,645.7 L149.0,648.5 L150.2,651.6 L151.4,654.2 L152.6,655.7 L153.8,655.7 L155.0,654.7 L156.2,653.2 L157.3,651.8 L158.4,651.1 L159.4,650.8 L160.3,650.6 L161.1,650.5 L161.9,650.5 L162.8,650.6 L163.7,651.0 L164.6,651.6 L165.6,652.5 L166.4,653.3 L167.2,654.1 L167.9,654.8 L168.4,655.5 L168.9,656.1 L169.5,656.5 L170.0,656.5 L170.6,656.0 L171.2,655.1 L171.7,654.0 L172.3,652.9 L172.9,651.9 L173.5,651.2 L174.1,650.5 L174.6,649.9 L175.2,649.5 L175.8,649.4 L176.4,649.7 L176.9,650.2 L177.5,650.9 L178.1,651.8 L178.8,652.8 L179.6,654.2 L180.5,656.0 L181.4,657.7 L182.3,658.9 L183.1,659.5 L183.9,659.1 L184.7,658.2 L185.4,656.9 L186.1,655.7 L186.8,654.7 L187.4,653.9 L188.0,653.2 L188.5,652.4 L189.1,651.9 L189.7,651.7 L190.4,651.7 L191.1,652.1 L191.9,652.6 L192.7,653.2 L193.4,653.8 L194.1,654.6 L194.8,655.6 L195.6,656.6 L196.3,657.5 L197.0,658.0 L197.7,658.0 L198.5,657.4 L199.2,656.7 L200.0,656.0 L200.7,655.7 L201.4,655.9 L202.1,656.3 L202.9,657.0 L203.6,657.8 L204.3,658.5 L205.0,659.4 L205.8,660.5 L206.5,661.6 L207.3,662.3 L208.0,662.3 L208.7,661.6 L209.5,660.0 L210.2,658.3 L210.9,656.6 L211.6,655.6 L212.2,655.2 L212.8,655.1 L213.4,655.4 L214.0,656.0 L214.5,656.8 L215.0,658.0 L215.4,659.6 L215.8,661.3 L216.2,663.2 L216.7,665.2 L217.3,667.5 L218.0,670.1 L218.7,672.6 L219.4,674.9 L220.0,676.5 L220.4,677.3 L220.7,677.6 L221.0,677.5 L221.4,677.4 L222.1,677.5 L223.1,677.8 L224.4,678.1 L225.8,678.5 L227.2,678.6 L228.5,678.7 L229.6,678.9 L230.6,679.4 L231.5,680.0 L232.5,680.6 L233.4,680.9 L234.3,680.8 L235.3,680.2 L236.2,679.4 L237.1,678.8 L238.2,678.6 L239.4,679.1 L240.6,680.1 L242.0,681.5 L243.3,682.9 L244.6,683.6 L245.9,683.6 L247.1,683.0 L248.3,681.9 L249.6,680.8 L251.0,679.8 L252.5,678.9 L254.2,677.9 L255.9,676.7 L257.6,675.6 L259.1,675.1 L260.5,675.4 L261.8,676.5 L263.0,677.6 L264.2,678.3 L265.5,677.9 L266.8,676.2 L268.1,673.5 L269.5,670.6 L270.7,668.0 L271.9,666.5 L272.9,665.9 L273.9,665.8 L274.7,666.1 L275.7,666.9 L276.7,667.9 L277.9,669.7 L279.1,672.4 L280.4,675.5 L281.8,678.7 L283.1,681.4 L284.5,683.6 L285.8,685.4 L287.2,687.1 L288.6,688.7 L290.0,690.2 L291.3,691.2 L292.7,691.8 L294.0,692.0 L295.3,691.9 L296.6,691.8 L297.9,691.7 L299.2,691.5 L300.5,691.4 L301.8,691.3 L303.1,691.3 L304.4,691.5 L305.7,691.9 L307.1,692.6 L308.4,693.8 L309.7,695.6 L311.0,698.2 L312.3,701.7 L313.7,705.1 L315.0,707.8 L316.3,709.1 L317.6,708.5 L319.0,706.5 L320.3,703.7 L321.6,701.1 L322.8,699.5 L323.9,699.5 L324.9,700.5 L325.9,701.9 L327.0,703.4 L328.1,704.4 L329.4,704.5 L330.7,704.0 L332.1,703.1 L333.4,702.2 L334.7,701.7 L335.8,701.8 L336.9,702.2 L337.9,702.7 L338.9,702.9 L339.9,702.7 L340.9,702.0 L342.0,700.9 L343.0,699.9 L344.1,698.9 L345.2,698.2 L346.5,697.6 L347.8,696.9 L349.2,696.2 L350.5,695.5 L351.8,695.2 L352.9,695.6 L354.0,696.7 L355.0,698.0 L356.0,699.1 L357.0,699.4 L358.0,698.6 L359.1,697.1 L360.1,695.2 L361.2,693.7 L362.3,692.9 L363.5,693.4 L364.8,694.6 L366.1,696.2 L367.5,697.6 L368.8,698.6 L370.1,699.4 L371.5,700.3 L372.8,701.1 L374.1,701.6 L375.3,701.5 L376.4,700.3 L377.5,698.3 L378.6,695.9 L379.6,693.4 L380.5,691.3 L381.4,689.6 L382.1,687.9 L382.9,686.4 L383.6,685.3 L384.5,684.6 L385.4,684.7 L386.4,685.5 L387.5,686.5 L388.6,687.1 L389.7,687.0 L390.9,685.6 L392.2,683.4 L393.6,680.9 L395.0,678.8 L396.3,677.7 L397.6,678.3 L399.0,680.2 L400.3,682.6 L401.6,684.7 L402.8,685.6 L403.9,684.7 L404.9,682.6 L405.9,680.0 L407.0,677.2 L408.1,674.9 L409.4,673.2 L410.8,671.7 L412.2,670.5 L413.5,669.3 L414.7,668.2 L415.6,667.2 L416.4,666.2 L417.1,665.5 L417.8,665.2 L418.6,665.5 L419.6,667.0 L420.6,669.5 L421.7,672.2 L422.8,674.1 L423.9,674.6 L424.9,673.0 L426.0,670.1 L427.0,666.7 L428.1,663.7 L429.1,661.9 L430.2,661.7 L431.2,662.4 L432.3,663.4 L433.3,664.1 L434.4,663.9 L435.5,662.8 L436.5,661.2 L437.6,659.4 L438.6,657.4 L439.6,655.3 L440.5,652.8 L441.3,649.8 L442.1,646.6 L442.8,643.8 L443.6,641.8 L444.4,640.9 L445.1,640.8 L445.8,641.2 L446.6,641.8 L447.5,642.3 L448.6,642.8 L449.8,643.5 L451.0,644.2 L452.1,644.8 L452.8,645.1" fill="none" stroke="#613D9B" stroke-width="2.2" stroke-linejoin="round" stroke-linecap="round" opacity="1"/>
<path d="M107.0,636.3 L107.6,636.5 L108.4,637.0 L109.4,637.6 L110.5,638.3 L111.7,638.7 L113.0,638.7 L114.5,638.2 L116.1,637.3 L117.6,636.2 L119.0,635.2 L120.3,634.5 L121.4,634.1 L122.5,633.8 L123.7,634.0 L124.8,634.4 L126.0,635.3 L127.2,636.4 L128.3,637.6 L129.5,638.9 L130.7,640.1 L131.9,641.3 L133.0,642.5 L134.2,643.7 L135.3,644.8 L136.5,645.9 L137.7,647.0 L138.9,648.1 L140.1,649.2 L141.2,650.2 L142.3,650.8 L143.3,650.7 L144.2,650.0 L145.0,649.2 L145.8,648.7 L146.7,649.1 L147.6,650.7 L148.5,653.1 L149.3,655.8 L150.2,658.0 L151.1,659.2 L152.0,659.2 L152.9,658.5 L153.7,657.3 L154.6,656.2 L155.5,655.4 L156.4,655.0 L157.3,654.7 L158.1,654.5 L159.0,654.4 L159.9,654.2 L160.8,653.9 L161.6,653.4 L162.5,653.0 L163.3,652.9 L164.2,653.1 L165.1,654.0 L166.1,655.3 L167.1,656.8 L167.9,658.2 L168.6,659.3 L169.0,660.0 L169.3,660.5 L169.5,660.9 L169.7,661.4 L170.0,662.3 L170.5,663.8 L171.1,665.8 L171.7,667.8 L172.3,669.5 L172.9,670.4 L173.5,670.5 L174.1,669.9 L174.6,669.0 L175.2,668.0 L175.8,666.9 L176.4,665.7 L176.9,664.2 L177.5,662.7 L178.1,661.5 L178.8,661.0 L179.6,661.2 L180.5,661.9 L181.4,662.9 L182.3,664.0 L183.1,664.8 L183.9,665.6 L184.7,666.4 L185.4,667.2 L186.1,667.9 L186.8,668.6 L187.4,669.2 L188.0,669.9 L188.5,670.5 L189.1,671.0 L189.7,671.1 L190.4,670.7 L191.1,670.1 L191.9,669.3 L192.7,668.4 L193.4,667.4 L194.1,666.4 L194.8,665.2 L195.6,664.0 L196.3,662.8 L197.0,661.8 L197.7,660.7 L198.5,659.7 L199.2,658.7 L200.0,658.1 L200.7,657.9 L201.4,658.3 L202.1,659.2 L202.9,660.3 L203.6,661.4 L204.3,662.4 L205.0,663.4 L205.8,664.6 L206.5,665.8 L207.3,666.7 L208.0,667.2 L208.7,667.1 L209.4,666.8 L210.2,666.2 L210.9,665.6 L211.6,664.9 L212.3,664.0 L213.1,662.9 L213.9,661.7 L214.6,660.7 L215.3,660.1 L215.9,660.1 L216.6,660.5 L217.2,661.2 L217.7,661.8 L218.2,662.5 L218.6,662.9 L219.0,663.3 L219.3,663.8 L219.6,664.5 L220.0,665.8 L220.4,667.7 L220.7,670.3 L221.1,673.0 L221.5,675.8 L222.1,678.2 L222.9,680.3 L223.7,682.3 L224.7,684.2 L225.8,686.0 L226.9,687.5 L228.1,688.8 L229.5,690.0 L230.8,691.0 L232.2,692.0 L233.4,692.7 L234.5,693.2 L235.4,693.2 L236.4,693.0 L237.3,692.5 L238.2,691.6 L239.1,690.3 L240.0,688.6 L241.0,686.7 L241.9,685.0 L243.0,683.9 L244.2,683.7 L245.4,684.2 L246.8,685.1 L248.1,686.0 L249.4,686.5 L250.7,686.7 L252.0,686.8 L253.2,686.6 L254.5,686.0 L255.8,684.8 L257.1,682.6 L258.4,679.6 L259.7,676.3 L261.0,673.3 L262.3,671.4 L263.6,670.8 L264.9,671.2 L266.1,672.3 L267.4,673.3 L268.7,673.8 L270.0,673.4 L271.3,672.2 L272.7,670.7 L273.9,669.2 L275.1,668.4 L276.1,668.4 L277.1,669.1 L277.9,670.2 L278.9,671.5 L279.9,672.8 L281.1,674.3 L282.5,675.9 L283.9,677.5 L285.3,679.0 L286.4,680.2 L287.3,681.3 L288.0,682.3 L288.6,683.3 L289.2,684.1 L290.0,684.7 L291.0,684.9 L292.0,684.8 L293.1,684.5 L294.2,684.2 L295.3,684.1 L296.3,684.2 L297.4,684.4 L298.4,684.9 L299.5,685.4 L300.5,686.1 L301.5,686.7 L302.6,687.2 L303.6,687.8 L304.7,688.4 L305.8,689.1 L307.0,690.3 L308.2,691.9 L309.4,693.6 L310.6,694.7 L311.7,694.9 L312.7,693.7 L313.6,691.5 L314.5,688.7 L315.4,686.1 L316.3,684.3 L317.3,683.2 L318.3,682.5 L319.4,682.0 L320.4,681.7 L321.5,681.4 L322.6,681.2 L323.6,681.2 L324.7,681.3 L325.7,681.2 L326.8,680.7 L327.8,679.7 L328.9,678.4 L329.9,676.9 L331.0,675.6 L332.0,674.5 L333.1,673.7 L334.2,673.1 L335.3,672.7 L336.3,672.4 L337.3,672.4 L338.2,672.4 L339.0,672.4 L339.7,672.5 L340.4,672.7 L341.2,673.2 L342.0,673.9 L342.8,674.8 L343.6,675.9 L344.4,677.3 L345.2,678.7 L346.1,680.6 L347.0,683.1 L347.9,685.6 L348.9,687.6 L349.8,688.7 L350.7,688.7 L351.6,687.9 L352.5,686.5 L353.4,684.8 L354.4,683.2 L355.4,681.2 L356.4,678.9 L357.5,676.4 L358.5,674.4 L359.6,673.1 L360.7,673.1 L361.8,673.8 L362.9,674.9 L363.9,675.8 L364.9,675.9 L365.8,675.1 L366.5,673.7 L367.2,672.2 L368.0,670.6 L368.8,669.5 L369.7,668.6 L370.7,667.7 L371.8,667.0 L372.8,666.3 L373.9,665.9 L374.9,666.1 L376.0,666.8 L377.1,667.6 L378.1,668.0 L379.2,667.6 L380.3,666.0 L381.3,663.6 L382.4,660.9 L383.4,658.1 L384.5,655.7 L385.6,653.5 L386.6,651.3 L387.7,649.3 L388.7,647.8 L389.7,646.9 L390.5,646.9 L391.3,647.6 L392.0,648.6 L392.8,649.6 L393.6,650.1 L394.6,649.9 L395.6,649.2 L396.7,648.3 L397.8,647.7 L398.9,647.5 L400.0,648.3 L401.0,649.8 L402.1,651.6 L403.1,653.2 L404.2,653.9 L405.2,653.6 L406.3,652.3 L407.3,650.6 L408.4,648.7 L409.4,647.3 L410.5,646.3 L411.5,645.5 L412.6,645.0 L413.6,644.5 L414.7,644.0 L415.7,643.6 L416.8,643.1 L417.8,642.8 L418.9,642.5 L419.9,642.4 L421.0,642.5 L422.1,642.9 L423.2,643.4 L424.2,644.1 L425.2,644.6 L426.1,645.2 L426.9,645.8 L427.6,646.3 L428.3,646.5 L429.1,646.1 L429.9,645.0 L430.7,643.4 L431.5,641.5 L432.3,639.7 L433.1,638.3 L433.9,637.4 L434.6,636.7 L435.3,636.3 L436.1,636.2 L437.0,636.4 L438.0,637.3 L439.1,638.5 L440.2,639.9 L441.3,641.1 L442.3,642.0 L443.2,642.5 L444.0,643.0 L444.8,643.3 L445.5,643.3 L446.2,643.0 L446.9,642.2 L447.6,641.1 L448.2,639.6 L448.8,638.0 L449.5,636.3 L450.2,634.2 L451.0,631.7 L451.7,629.1 L452.4,626.9 L452.8,625.4" fill="none" stroke="#404040" stroke-width="2.2" stroke-linejoin="round" stroke-linecap="round" opacity="1"/>
<defs><linearGradient id="sg3" x1="352.2" x2="391.2" y1="0" y2="0" gradientUnits="userSpaceOnUse"><stop offset="0.000" stop-color="#5cb85a" stop-opacity="0.5"/><stop offset="0.200" stop-color="#5cb85a" stop-opacity="0.72"/><stop offset="0.354" stop-color="#5cb85a" stop-opacity="0.62"/><stop offset="0.508" stop-color="#5cb85a" stop-opacity="0.5"/><stop offset="0.713" stop-color="#5cb85a" stop-opacity="0.52"/><stop offset="0.867" stop-color="#5cb85a" stop-opacity="0.7"/><stop offset="1.000" stop-color="#5cb85a" stop-opacity="0.55"/></linearGradient></defs>
<rect x="352.2" y="616.7" width="39.0" height="9" rx="4.5" fill="url(#sg3)" filter="url(#soft)"/>
<text x="333.1" y="609.0" font-family='"Liberation Sans", sans-serif' font-size="15.5" font-weight="normal" text-anchor="start" fill="#333" >p = .033</text>
<path d="M396.3,615 C420,598 470,585 503,601" fill="none" stroke="#111" stroke-width="0.9"/>
<path d="M505.4,601.8 L497.3,602.5 L499.2,596.4Z" fill="#111"/>
<line x1="544.3" y1="618.7" x2="544.3" y2="744" stroke="#888" stroke-width="1"/>
<line x1="544.3" y1="744" x2="672.7" y2="744" stroke="#888" stroke-width="1"/>
<line x1="542.3" y1="655.4" x2="544.3" y2="655.4" stroke="#888" stroke-width="0.8"/>
<text x="539.6999999999999" y="658.5" font-family='"Liberation Sans", sans-serif' font-size="8.7" font-weight="normal" text-anchor="end" fill="#222" >0.04</text>
<line x1="542.3" y1="699.7" x2="544.3" y2="699.7" stroke="#888" stroke-width="0.8"/>
<text x="539.6999999999999" y="702.8" font-family='"Liberation Sans", sans-serif' font-size="8.7" font-weight="normal" text-anchor="end" fill="#222" >0.02</text>
<line x1="542.3" y1="744.0" x2="544.3" y2="744.0" stroke="#888" stroke-width="0.8"/>
<text x="539.6999999999999" y="747.1" font-family='"Liberation Sans", sans-serif' font-size="8.7" font-weight="normal" text-anchor="end" fill="#222" >0.00</text>
<line x1="542.6999999999999" y1="721.9" x2="544.3" y2="721.9" stroke="#888" stroke-width="0.8"/>
<line x1="542.6999999999999" y1="677.5" x2="544.3" y2="677.5" stroke="#888" stroke-width="0.8"/>
<line x1="542.6999999999999" y1="633.2" x2="544.3" y2="633.2" stroke="#888" stroke-width="0.8"/>
<rect x="551.1" y="662.2" width="15.8" height="81.8" fill="#FCA25E"/>
<line x1="559.0" y1="644.3" x2="559.0" y2="680.3" stroke="#000" stroke-width="3.4"/>
<text transform="translate(562.0,741.8) rotate(-90)" font-family='"Liberation Sans", sans-serif' font-size="8.5" fill="#fff">attested</text>
<rect x="570.5" y="693.1" width="16.0" height="50.9" fill="#B4B4B4"/>
<line x1="578.5" y1="677.6" x2="578.5" y2="708.1" stroke="#000" stroke-width="3.4"/>
<text transform="translate(581.5,741.8) rotate(-90)" font-family='"Liberation Sans", sans-serif' font-size="8.5" fill="#fff">baseline</text>
<rect x="591" y="651" width="15.3" height="93.0" fill="#B2B1D8"/>
<line x1="598.6" y1="635" x2="598.6" y2="667.7" stroke="#000" stroke-width="3.4"/>
<text transform="translate(601.6,741.8) rotate(-90)" font-family='"Liberation Sans", sans-serif' font-size="8.5" fill="#fff">unattested</text>
<rect x="619.2" y="654.6" width="15.8" height="89.4" fill="#C64301"/>
<line x1="627.1" y1="639" x2="627.1" y2="669.8" stroke="#000" stroke-width="3.4"/>
<text transform="translate(630.1,741.8) rotate(-90)" font-family='"Liberation Sans", sans-serif' font-size="8.5" fill="#fff">attested</text>
<rect x="638" y="686" width="16.0" height="58.0" fill="#404040"/>
<line x1="646.0" y1="668.9" x2="646.0" y2="703.3" stroke="#000" stroke-width="3.4"/>
<text transform="translate(649.0,741.8) rotate(-90)" font-family='"Liberation Sans", sans-serif' font-size="8.5" fill="#fff">baseline</text>
<rect x="657" y="643.1" width="15.7" height="100.9" fill="#613D9B"/>
<line x1="664.9" y1="625" x2="664.9" y2="660.7" stroke="#000" stroke-width="3.4"/>
<text transform="translate(667.9,741.8) rotate(-90)" font-family='"Liberation Sans", sans-serif' font-size="8.5" fill="#fff">unattested</text>
<text x="577" y="757.6" font-family='"Liberation Sans", sans-serif' font-size="13" font-weight="bold" text-anchor="middle" fill="#A8A8A8" >first half</text>
<text x="647.4" y="757.6" font-family='"Liberation Sans", sans-serif' font-size="13" font-weight="bold" text-anchor="middle" fill="#111" >second half</text>
<text transform="translate(497.6,677.3) rotate(-90)" font-family='"Liberation Sans", sans-serif' font-size="12.8" font-weight="bold" text-anchor="middle" fill="#000">Activity strength</text>
<text transform="translate(515.7,677.3) rotate(-90)" font-family='"Liberation Sans", sans-serif' font-size="12.8" font-weight="bold" text-anchor="middle" fill="#000">(Absolute dSPM)</text>
<path d="M559.2,616.6 V601.7 H563.0 M574.4,601.7 H582.1 M593.6,601.7 H597.5 V616.6 M578.2,601.7 V616.6" fill="none" stroke="#8a8a8a" stroke-width="1"/>
<path d="M568.70,601.20 L568.70,598.60 M568.70,601.20 L571.17,600.40 M568.70,601.20 L570.23,603.30 M568.70,601.20 L567.17,603.30 M568.70,601.20 L566.23,600.40 " stroke="#000" stroke-width="1.6" stroke-linecap="round" fill="none"/>
<path d="M587.85,601.20 L587.85,598.60 M587.85,601.20 L590.32,600.40 M587.85,601.20 L589.38,603.30 M587.85,601.20 L586.32,603.30 M587.85,601.20 L585.38,600.40 " stroke="#000" stroke-width="1.6" stroke-linecap="round" fill="none"/>
<path d="M626.4,616.6 V601.7 H630.2 M641.7,601.7 H649.3 M660.8,601.7 H664.6 V616.6 M645.5,601.7 V616.6" fill="none" stroke="#8a8a8a" stroke-width="1"/>
<path d="M635.95,601.20 L635.95,598.60 M635.95,601.20 L638.42,600.40 M635.95,601.20 L637.48,603.30 M635.95,601.20 L634.42,603.30 M635.95,601.20 L633.48,600.40 " stroke="#000" stroke-width="1.6" stroke-linecap="round" fill="none"/>
<path d="M655.05,601.20 L655.05,598.60 M655.05,601.20 L657.52,600.40 M655.05,601.20 L656.58,603.30 M655.05,601.20 L653.52,603.30 M655.05,601.20 L652.58,600.40 " stroke="#000" stroke-width="1.6" stroke-linecap="round" fill="none"/>
<text x="284.4" y="778.8" font-family='"Liberation Sans", sans-serif' font-size="12.8" font-weight="bold" text-anchor="middle" fill="#000" >Time relative to phoneme onset (ms)</text>
</svg></body></html>
